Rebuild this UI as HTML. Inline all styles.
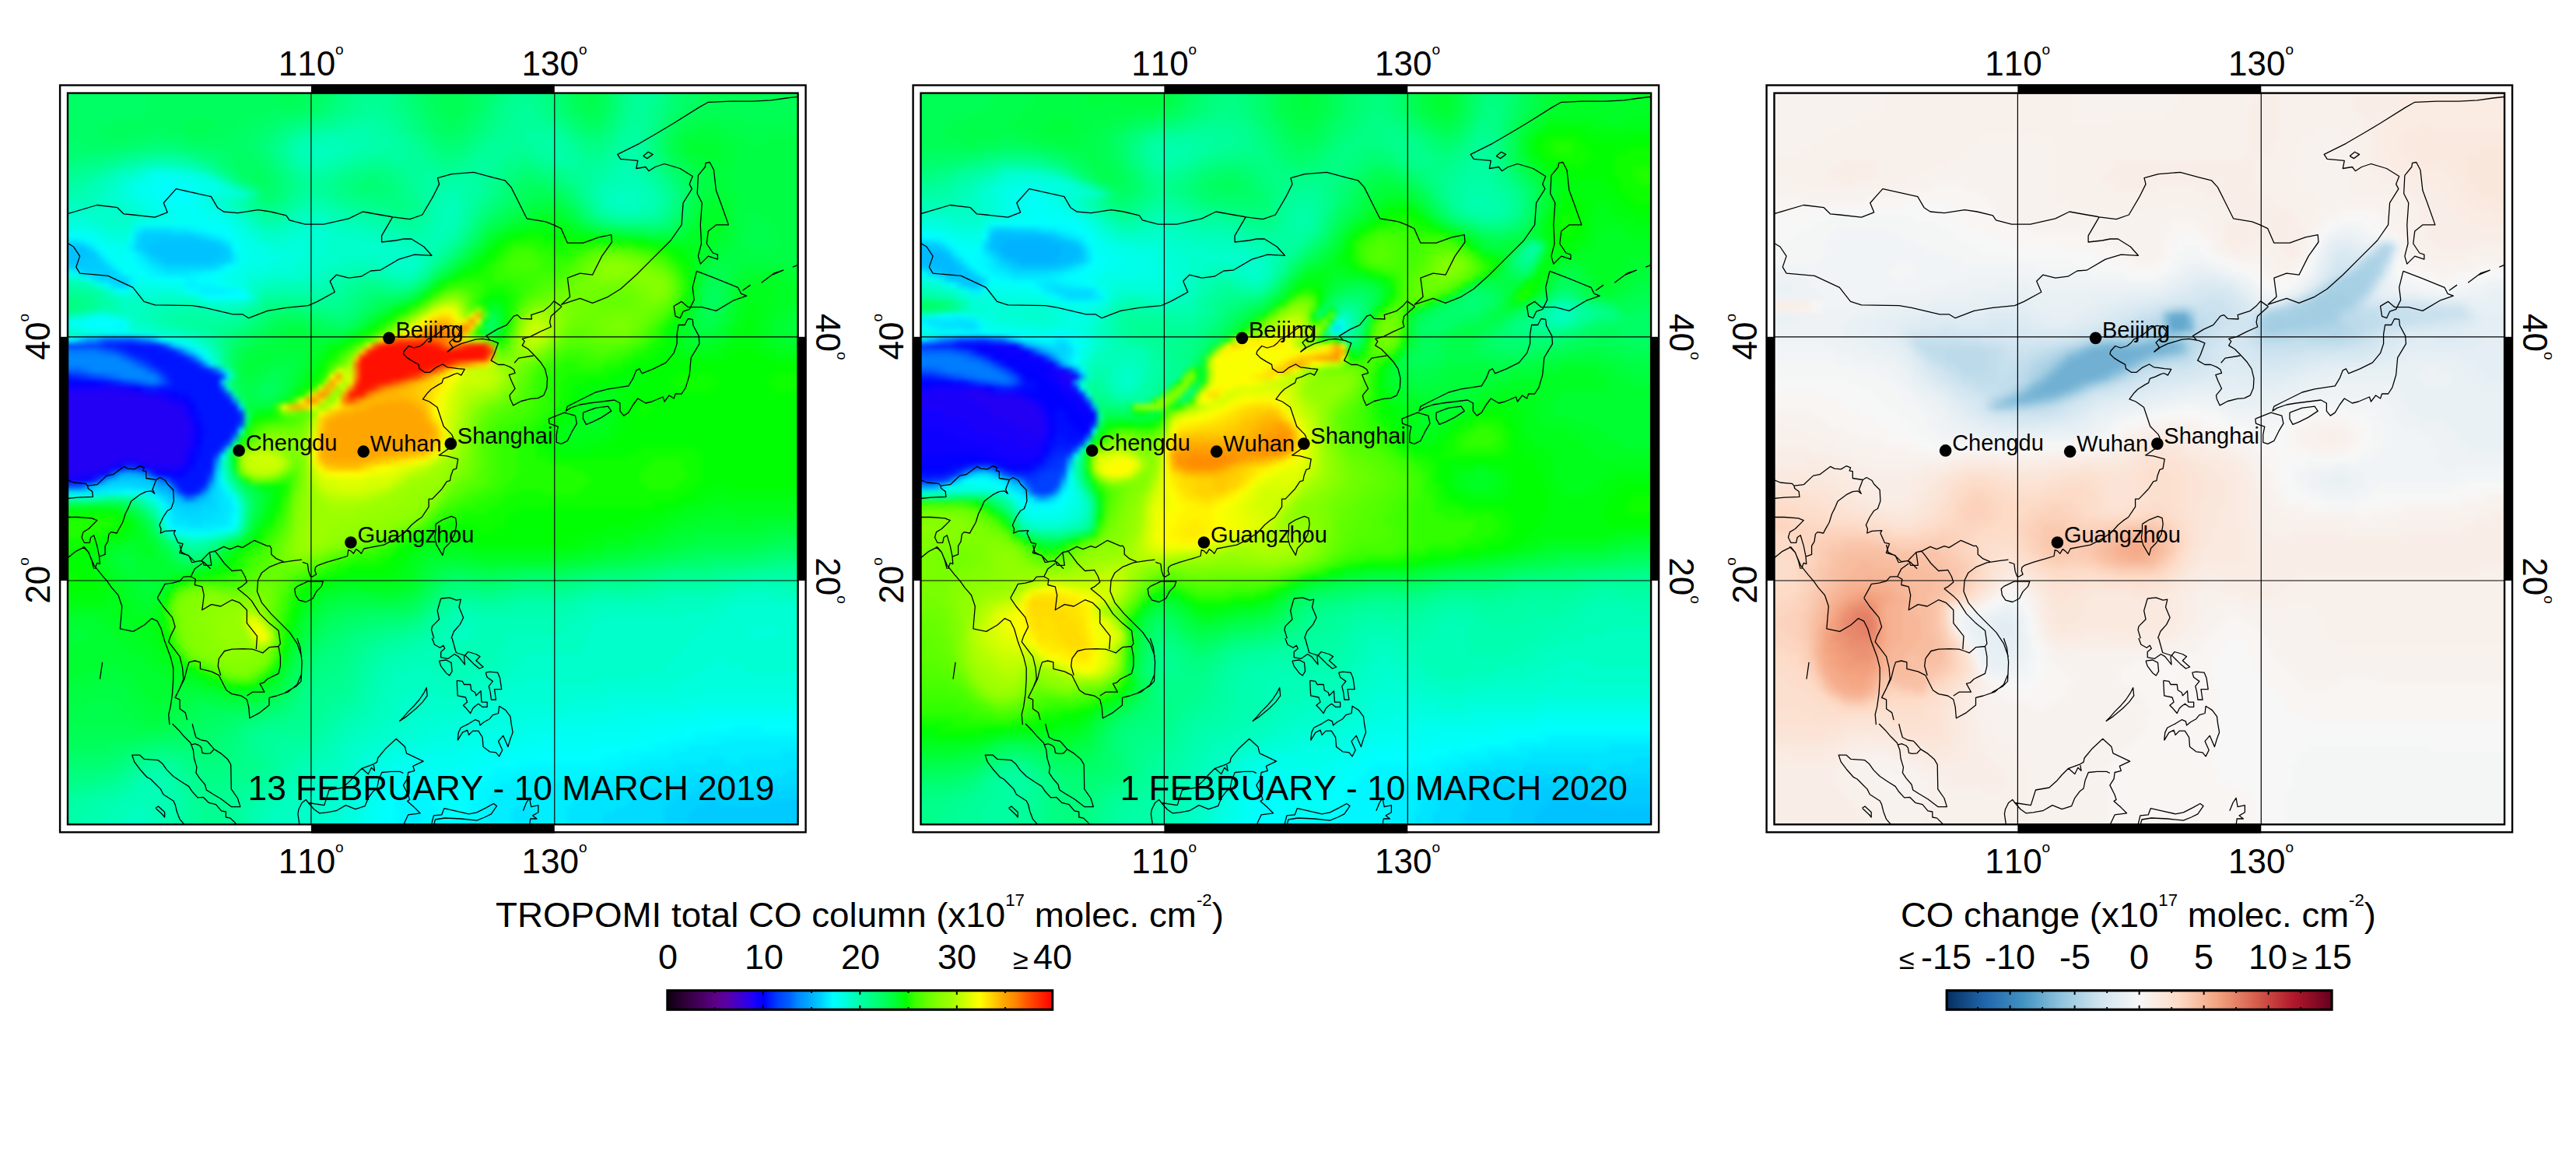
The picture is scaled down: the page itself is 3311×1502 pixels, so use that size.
<!DOCTYPE html><html><head><meta charset="utf-8"><title>TROPOMI CO</title>
<style>html,body{margin:0;padding:0;background:#fff;}body{width:3311px;height:1502px;overflow:hidden;}svg{display:block}text{font-kerning:none;font-feature-settings:"kern" 0;}</style></head><body>
<svg width="3311" height="1502" viewBox="0 0 3311 1502">
<rect width="3311" height="1502" fill="#fff"/>
<defs><filter id="f1" x="0" y="0" width="1" height="1" color-interpolation-filters="sRGB"><feGaussianBlur stdDeviation="3.0" edgeMode="duplicate"/></filter><clipPath id="cf1"><rect x="87.00" y="119.60" width="938.7" height="939.7"/></clipPath></defs><g clip-path="url(#cf1)"><g filter="url(#f1)"><g transform="translate(71.36,103.94) scale(7.8225,7.8308)" shape-rendering="crispEdges">
<path fill="#00ff65" d="M0 0h15v1h-15zM42 0h2v1h-2zM60 0h1v1h-1zM69 0h1v1h-1zM103 0h2v1h-2zM0 1h15v1h-15zM42 1h2v1h-2zM60 1h1v1h-1zM69 1h1v1h-1zM103 1h2v1h-2zM0 2h15v1h-15zM42 2h2v1h-2zM60 2h1v1h-1zM69 2h1v1h-1zM103 2h2v1h-2zM0 3h15v1h-15zM42 3h2v1h-2zM60 3h1v1h-1zM69 3h1v1h-1zM84 3h1v1h-1zM103 3h2v1h-2zM0 4h15v1h-15zM41 4h2v1h-2zM60 4h2v1h-2zM69 4h1v1h-1zM84 4h1v1h-1zM103 4h1v1h-1zM0 5h14v1h-14zM35 5h5v1h-5zM61 5h1v1h-1zM68 5h1v1h-1zM85 5h1v1h-1zM90 5h1v1h-1zM102 5h1v1h-1zM0 6h9v1h-9zM32 6h4v1h-4zM61 6h2v1h-2zM67 6h1v1h-1zM86 6h1v1h-1zM101 6h1v1h-1zM0 7h7v1h-7zM30 7h4v1h-4zM62 7h2v1h-2zM66 7h2v1h-2zM87 7h3v1h-3zM0 8h7v1h-7zM15 8h3v1h-3zM29 8h3v1h-3zM63 8h4v1h-4zM100 8h1v1h-1zM0 9h8v1h-8zM12 9h4v1h-4zM17 9h4v1h-4zM29 9h3v1h-3zM5 10h7v1h-7zM22 10h9v1h-9zM27 11h5v1h-5zM29 12h4v1h-4zM100 12h1v1h-1zM29 13h5v1h-5zM30 14h4v1h-4zM101 14h1v1h-1zM30 15h2v1h-2zM34 15h1v1h-1zM102 15h1v1h-1zM32 16h1v1h-1zM34 16h2v1h-2zM77 16h2v1h-2zM103 16h1v1h-1zM34 17h1v1h-1zM76 17h1v1h-1zM81 17h1v1h-1zM103 17h1v1h-1zM75 18h1v1h-1zM83 18h1v1h-1zM75 19h1v1h-1zM84 19h1v1h-1zM103 19h1v1h-1zM74 20h1v1h-1zM85 20h1v1h-1zM103 20h1v1h-1zM72 21h1v1h-1zM71 22h1v1h-1zM102 22h1v1h-1zM70 23h1v1h-1zM101 23h1v1h-1zM97 24h2v1h-2zM68 26h1v1h-1zM67 27h1v1h-1zM66 28h1v1h-1zM60 33h1v1h-1zM56 35h1v1h-1zM52 36h1v1h-1zM37 38h4v1h-4zM35 39h1v1h-1zM43 39h1v1h-1zM48 39h1v1h-1zM33 40h1v1h-1zM32 41h1v1h-1zM30 42h1v1h-1zM29 43h1v1h-1zM29 47h1v1h-1zM29 50h1v1h-1zM31 67h1v1h-1zM16 73h1v1h-1zM115 77h3v1h-3zM21 78h1v1h-1zM103 78h4v1h-4zM97 79h3v1h-3zM88 80h3v1h-3zM65 81h3v1h-3zM74 81h3v1h-3zM81 81h2v1h-2zM63 82h1v1h-1zM62 83h1v1h-1zM61 84h1v1h-1zM60 85h1v1h-1zM59 86h1v1h-1zM51 87h7v1h-7zM47 88h3v1h-3zM45 89h2v1h-2zM44 90h1v1h-1zM43 91h1v1h-1zM42 92h1v1h-1zM41 94h1v1h-1zM40 95h1v1h-1zM40 96h1v1h-1zM39 98h1v1h-1zM38 100h1v1h-1zM37 101h1v1h-1zM35 102h1v1h-1zM32 103h2v1h-2zM27 104h3v1h-3zM24 105h4v1h-4zM22 106h4v1h-4zM20 107h4v1h-4zM13 108h4v1h-4zM9 109h3v1h-3zM0 110h9v1h-9z"/>
<path fill="#00ff5d" d="M15 0h21v1h-21zM40 0h2v1h-2zM61 0h2v1h-2zM67 0h2v1h-2zM84 0h1v1h-1zM90 0h1v1h-1zM105 0h2v1h-2zM15 1h21v1h-21zM40 1h2v1h-2zM61 1h2v1h-2zM67 1h2v1h-2zM84 1h1v1h-1zM90 1h1v1h-1zM105 1h2v1h-2zM15 2h21v1h-21zM40 2h2v1h-2zM61 2h2v1h-2zM67 2h2v1h-2zM84 2h1v1h-1zM90 2h1v1h-1zM105 2h2v1h-2zM15 3h22v1h-22zM39 3h3v1h-3zM61 3h2v1h-2zM67 3h2v1h-2zM90 3h1v1h-1zM105 3h2v1h-2zM15 4h26v1h-26zM62 4h1v1h-1zM67 4h2v1h-2zM85 4h1v1h-1zM90 4h1v1h-1zM104 4h2v1h-2zM14 5h21v1h-21zM62 5h2v1h-2zM67 5h1v1h-1zM86 5h1v1h-1zM89 5h1v1h-1zM103 5h2v1h-2zM9 6h12v1h-12zM26 6h6v1h-6zM63 6h4v1h-4zM87 6h3v1h-3zM102 6h1v1h-1zM7 7h14v1h-14zM26 7h4v1h-4zM64 7h2v1h-2zM101 7h1v1h-1zM7 8h8v1h-8zM18 8h4v1h-4zM25 8h4v1h-4zM8 9h4v1h-4zM21 9h8v1h-8zM100 9h1v1h-1zM100 10h1v1h-1zM100 11h1v1h-1zM101 13h1v1h-1zM102 14h1v1h-1zM32 15h2v1h-2zM103 15h1v1h-1zM33 16h1v1h-1zM77 17h4v1h-4zM104 17h1v1h-1zM76 18h2v1h-2zM82 18h1v1h-1zM104 18h1v1h-1zM76 19h1v1h-1zM75 20h1v1h-1zM73 21h1v1h-1zM103 21h1v1h-1zM72 22h1v1h-1zM86 22h1v1h-1zM88 23h1v1h-1zM94 24h3v1h-3zM99 24h2v1h-2zM69 25h1v1h-1zM65 29h1v1h-1zM64 30h1v1h-1zM59 34h1v1h-1zM108 34h1v1h-1zM57 35h1v1h-1zM107 35h2v1h-2zM53 36h1v1h-1zM107 36h2v1h-2zM51 37h1v1h-1zM50 38h1v1h-1zM36 39h1v1h-1zM41 39h2v1h-2zM49 39h1v1h-1zM71 39h1v1h-1zM34 40h1v1h-1zM44 40h4v1h-4zM71 40h1v1h-1zM33 41h1v1h-1zM31 42h1v1h-1zM30 43h1v1h-1zM29 44h1v1h-1zM29 45h1v1h-1zM29 49h1v1h-1zM34 50h2v1h-2zM34 51h1v1h-1zM11 69h1v1h-1zM32 69h1v1h-1zM31 73h1v1h-1zM117 76h7v1h-7zM19 77h1v1h-1zM106 77h9v1h-9zM20 78h1v1h-1zM24 78h1v1h-1zM100 78h3v1h-3zM94 79h3v1h-3zM85 80h3v1h-3zM64 81h1v1h-1zM68 81h6v1h-6zM58 86h1v1h-1zM47 87h4v1h-4zM45 88h2v1h-2zM44 89h1v1h-1zM43 90h1v1h-1zM42 91h1v1h-1zM41 93h1v1h-1zM40 94h1v1h-1zM39 97h1v1h-1zM38 99h1v1h-1zM37 100h1v1h-1zM36 101h1v1h-1zM34 102h1v1h-1zM24 103h8v1h-8zM23 104h4v1h-4zM22 105h2v1h-2zM20 106h2v1h-2zM15 107h5v1h-5zM0 108h13v1h-13zM0 109h9v1h-9z"/>
<path fill="#00ff54" d="M36 0h4v1h-4zM63 0h4v1h-4zM85 0h2v1h-2zM89 0h1v1h-1zM107 0h17v1h-17zM36 1h4v1h-4zM63 1h4v1h-4zM85 1h2v1h-2zM89 1h1v1h-1zM107 1h17v1h-17zM36 2h4v1h-4zM63 2h4v1h-4zM85 2h2v1h-2zM89 2h1v1h-1zM107 2h17v1h-17zM37 3h2v1h-2zM63 3h4v1h-4zM85 3h2v1h-2zM89 3h1v1h-1zM107 3h17v1h-17zM63 4h4v1h-4zM86 4h1v1h-1zM88 4h2v1h-2zM106 4h18v1h-18zM64 5h3v1h-3zM87 5h2v1h-2zM105 5h3v1h-3zM109 5h15v1h-15zM21 6h5v1h-5zM103 6h2v1h-2zM113 6h7v1h-7zM21 7h5v1h-5zM102 7h1v1h-1zM22 8h3v1h-3zM101 8h1v1h-1zM101 9h1v1h-1zM101 12h1v1h-1zM102 13h1v1h-1zM103 14h1v1h-1zM104 15h1v1h-1zM104 16h1v1h-1zM78 18h4v1h-4zM77 19h1v1h-1zM83 19h1v1h-1zM104 19h1v1h-1zM76 20h1v1h-1zM84 20h1v1h-1zM74 21h2v1h-2zM85 21h1v1h-1zM73 22h1v1h-1zM103 22h1v1h-1zM71 23h1v1h-1zM87 23h1v1h-1zM102 23h1v1h-1zM70 24h1v1h-1zM92 24h2v1h-2zM101 24h1v1h-1zM63 31h1v1h-1zM108 32h2v1h-2zM107 33h3v1h-3zM107 34h1v1h-1zM109 34h1v1h-1zM109 35h1v1h-1zM54 36h1v1h-1zM52 37h1v1h-1zM106 37h3v1h-3zM107 38h1v1h-1zM37 39h4v1h-4zM35 40h1v1h-1zM42 40h2v1h-2zM48 40h1v1h-1zM34 41h1v1h-1zM32 42h1v1h-1zM31 43h1v1h-1zM30 44h1v1h-1zM29 46h1v1h-1zM35 48h2v1h-2zM34 49h3v1h-3zM30 50h1v1h-1zM33 50h1v1h-1zM36 50h1v1h-1zM30 51h1v1h-1zM33 51h1v1h-1zM35 51h1v1h-1zM32 68h1v1h-1zM13 70h1v1h-1zM32 70h1v1h-1zM14 71h1v1h-1zM15 72h1v1h-1zM16 74h1v1h-1zM17 75h1v1h-1zM29 75h1v1h-1zM119 75h5v1h-5zM18 76h1v1h-1zM27 76h1v1h-1zM114 76h3v1h-3zM26 77h1v1h-1zM103 77h3v1h-3zM97 78h3v1h-3zM89 79h5v1h-5zM65 80h2v1h-2zM76 80h9v1h-9zM63 81h1v1h-1zM62 82h1v1h-1zM61 83h1v1h-1zM60 84h1v1h-1zM59 85h1v1h-1zM48 86h10v1h-10zM45 87h2v1h-2zM44 88h1v1h-1zM43 89h1v1h-1zM42 90h1v1h-1zM41 92h1v1h-1zM39 96h1v1h-1zM38 98h1v1h-1zM35 101h1v1h-1zM23 102h3v1h-3zM32 102h2v1h-2zM22 103h2v1h-2zM21 104h2v1h-2zM20 105h2v1h-2zM0 106h12v1h-12zM18 106h2v1h-2zM0 107h15v1h-15z"/>
<path fill="#00ff6c" d="M44 0h1v1h-1zM59 0h1v1h-1zM70 0h1v1h-1zM83 0h1v1h-1zM91 0h1v1h-1zM102 0h1v1h-1zM44 1h1v1h-1zM59 1h1v1h-1zM70 1h1v1h-1zM83 1h1v1h-1zM91 1h1v1h-1zM102 1h1v1h-1zM44 2h1v1h-1zM59 2h1v1h-1zM70 2h1v1h-1zM83 2h1v1h-1zM91 2h1v1h-1zM102 2h1v1h-1zM44 3h1v1h-1zM59 3h1v1h-1zM70 3h1v1h-1zM83 3h1v1h-1zM91 3h1v1h-1zM102 3h1v1h-1zM43 4h1v1h-1zM70 4h1v1h-1zM83 4h1v1h-1zM91 4h1v1h-1zM102 4h1v1h-1zM40 5h2v1h-2zM60 5h1v1h-1zM69 5h1v1h-1zM84 5h1v1h-1zM101 5h1v1h-1zM36 6h2v1h-2zM68 6h1v1h-1zM85 6h1v1h-1zM90 6h1v1h-1zM34 7h2v1h-2zM61 7h1v1h-1zM68 7h1v1h-1zM86 7h1v1h-1zM100 7h1v1h-1zM32 8h2v1h-2zM62 8h1v1h-1zM67 8h1v1h-1zM88 8h1v1h-1zM16 9h1v1h-1zM32 9h2v1h-2zM63 9h4v1h-4zM99 9h1v1h-1zM0 10h5v1h-5zM12 10h3v1h-3zM20 10h2v1h-2zM31 10h2v1h-2zM99 10h1v1h-1zM0 11h9v1h-9zM24 11h3v1h-3zM32 11h1v1h-1zM99 11h1v1h-1zM27 12h2v1h-2zM33 12h1v1h-1zM28 13h1v1h-1zM34 13h1v1h-1zM100 13h1v1h-1zM29 14h1v1h-1zM34 14h1v1h-1zM35 15h1v1h-1zM31 16h1v1h-1zM76 16h1v1h-1zM79 16h2v1h-2zM102 16h1v1h-1zM33 17h1v1h-1zM35 17h1v1h-1zM75 17h1v1h-1zM82 17h1v1h-1zM34 18h2v1h-2zM74 18h1v1h-1zM84 18h1v1h-1zM103 18h1v1h-1zM74 19h1v1h-1zM73 20h1v1h-1zM86 21h1v1h-1zM102 21h1v1h-1zM87 22h1v1h-1zM89 23h1v1h-1zM69 24h1v1h-1zM63 30h1v1h-1zM62 31h1v1h-1zM61 32h1v1h-1zM52 35h4v1h-4zM51 36h1v1h-1zM50 37h1v1h-1zM35 38h2v1h-2zM41 38h2v1h-2zM49 38h1v1h-1zM34 39h1v1h-1zM44 39h2v1h-2zM47 39h1v1h-1zM32 40h1v1h-1zM31 41h1v1h-1zM30 66h1v1h-1zM12 69h1v1h-1zM31 72h1v1h-1zM28 75h1v1h-1zM19 76h1v1h-1zM20 77h1v1h-1zM25 77h1v1h-1zM118 77h6v1h-6zM22 78h2v1h-2zM107 78h8v1h-8zM100 79h3v1h-3zM91 80h5v1h-5zM77 81h4v1h-4zM83 81h3v1h-3zM64 82h1v1h-1zM69 82h4v1h-4zM63 83h1v1h-1zM62 84h1v1h-1zM61 85h1v1h-1zM58 87h1v1h-1zM50 88h4v1h-4zM47 89h2v1h-2zM45 90h2v1h-2zM44 91h1v1h-1zM43 92h1v1h-1zM42 93h1v1h-1zM41 95h1v1h-1zM40 97h1v1h-1zM39 99h1v1h-1zM36 102h1v1h-1zM34 103h1v1h-1zM30 104h2v1h-2zM28 105h2v1h-2zM26 106h2v1h-2zM24 107h3v1h-3zM17 108h9v1h-9zM12 109h2v1h-2zM9 110h2v1h-2zM0 111h9v1h-9z"/>
<path fill="#00ff74" d="M45 0h1v1h-1zM58 0h1v1h-1zM71 0h1v1h-1zM82 0h1v1h-1zM101 0h1v1h-1zM45 1h1v1h-1zM58 1h1v1h-1zM71 1h1v1h-1zM82 1h1v1h-1zM101 1h1v1h-1zM45 2h1v1h-1zM58 2h1v1h-1zM71 2h1v1h-1zM82 2h1v1h-1zM101 2h1v1h-1zM45 3h1v1h-1zM58 3h1v1h-1zM71 3h1v1h-1zM82 3h1v1h-1zM101 3h1v1h-1zM44 4h1v1h-1zM59 4h1v1h-1zM101 4h1v1h-1zM42 5h2v1h-2zM59 5h1v1h-1zM70 5h1v1h-1zM83 5h1v1h-1zM91 5h1v1h-1zM100 5h1v1h-1zM38 6h3v1h-3zM60 6h1v1h-1zM69 6h1v1h-1zM84 6h1v1h-1zM91 6h1v1h-1zM100 6h1v1h-1zM36 7h1v1h-1zM60 7h1v1h-1zM69 7h1v1h-1zM85 7h1v1h-1zM90 7h1v1h-1zM99 7h1v1h-1zM34 8h2v1h-2zM61 8h1v1h-1zM68 8h1v1h-1zM86 8h2v1h-2zM89 8h1v1h-1zM99 8h1v1h-1zM34 9h1v1h-1zM62 9h1v1h-1zM67 9h1v1h-1zM15 10h5v1h-5zM33 10h1v1h-1zM63 10h4v1h-4zM9 11h3v1h-3zM22 11h2v1h-2zM33 11h2v1h-2zM0 12h5v1h-5zM26 12h1v1h-1zM34 12h1v1h-1zM99 12h1v1h-1zM27 13h1v1h-1zM35 13h1v1h-1zM28 14h1v1h-1zM35 14h1v1h-1zM100 14h1v1h-1zM29 15h1v1h-1zM36 15h1v1h-1zM76 15h4v1h-4zM101 15h1v1h-1zM30 16h1v1h-1zM36 16h1v1h-1zM51 16h2v1h-2zM75 16h1v1h-1zM81 16h1v1h-1zM36 17h1v1h-1zM50 17h4v1h-4zM74 17h1v1h-1zM83 17h1v1h-1zM102 17h1v1h-1zM36 18h1v1h-1zM34 19h2v1h-2zM73 19h1v1h-1zM85 19h1v1h-1zM72 20h1v1h-1zM102 20h1v1h-1zM71 21h1v1h-1zM70 22h1v1h-1zM101 22h1v1h-1zM69 23h1v1h-1zM90 23h1v1h-1zM100 23h1v1h-1zM68 25h1v1h-1zM67 26h1v1h-1zM65 28h1v1h-1zM64 29h1v1h-1zM58 34h1v1h-1zM51 35h1v1h-1zM50 36h1v1h-1zM37 37h3v1h-3zM49 37h1v1h-1zM34 38h1v1h-1zM43 38h1v1h-1zM48 38h1v1h-1zM33 39h1v1h-1zM46 39h1v1h-1zM30 41h1v1h-1zM29 42h1v1h-1zM28 44h1v1h-1zM28 45h1v1h-1zM28 46h1v1h-1zM29 48h1v1h-1zM30 52h1v1h-1zM31 54h1v1h-1zM31 68h1v1h-1zM14 70h1v1h-1zM15 71h1v1h-1zM18 75h1v1h-1zM26 76h1v1h-1zM115 78h3v1h-3zM103 79h5v1h-5zM96 80h3v1h-3zM86 81h2v1h-2zM65 82h4v1h-4zM73 82h2v1h-2zM60 86h1v1h-1zM59 87h1v1h-1zM54 88h4v1h-4zM49 89h3v1h-3zM47 90h2v1h-2zM45 91h2v1h-2zM44 92h2v1h-2zM43 93h1v1h-1zM42 94h1v1h-1zM41 96h1v1h-1zM40 98h1v1h-1zM39 100h1v1h-1zM38 101h1v1h-1zM37 102h1v1h-1zM35 103h2v1h-2zM32 104h2v1h-2zM30 105h1v1h-1zM28 106h2v1h-2zM27 107h2v1h-2zM26 108h2v1h-2zM14 109h3v1h-3zM18 109h9v1h-9zM11 110h2v1h-2zM23 110h3v1h-3zM9 111h2v1h-2zM0 112h9v1h-9z"/>
<path fill="#00ff7c" d="M46 0h1v1h-1zM57 0h1v1h-1zM72 0h1v1h-1zM81 0h1v1h-1zM92 0h1v1h-1zM100 0h1v1h-1zM46 1h1v1h-1zM57 1h1v1h-1zM72 1h1v1h-1zM81 1h1v1h-1zM92 1h1v1h-1zM100 1h1v1h-1zM46 2h1v1h-1zM57 2h1v1h-1zM72 2h1v1h-1zM81 2h1v1h-1zM92 2h1v1h-1zM100 2h1v1h-1zM46 3h1v1h-1zM57 3h1v1h-1zM72 3h1v1h-1zM81 3h1v1h-1zM92 3h1v1h-1zM100 3h1v1h-1zM45 4h1v1h-1zM58 4h1v1h-1zM71 4h1v1h-1zM82 4h1v1h-1zM92 4h1v1h-1zM100 4h1v1h-1zM44 5h1v1h-1zM58 5h1v1h-1zM71 5h1v1h-1zM82 5h1v1h-1zM92 5h1v1h-1zM41 6h1v1h-1zM59 6h1v1h-1zM70 6h1v1h-1zM83 6h1v1h-1zM99 6h1v1h-1zM37 7h2v1h-2zM59 7h1v1h-1zM70 7h1v1h-1zM84 7h1v1h-1zM91 7h1v1h-1zM36 8h1v1h-1zM60 8h1v1h-1zM69 8h1v1h-1zM90 8h1v1h-1zM35 9h1v1h-1zM61 9h1v1h-1zM68 9h1v1h-1zM87 9h3v1h-3zM98 9h1v1h-1zM34 10h1v1h-1zM62 10h1v1h-1zM67 10h1v1h-1zM98 10h1v1h-1zM12 11h2v1h-2zM20 11h2v1h-2zM63 11h4v1h-4zM98 11h1v1h-1zM5 12h4v1h-4zM24 12h2v1h-2zM35 12h1v1h-1zM26 13h1v1h-1zM99 13h1v1h-1zM36 14h1v1h-1zM76 14h3v1h-3zM37 15h1v1h-1zM51 15h3v1h-3zM75 15h1v1h-1zM80 15h1v1h-1zM100 15h1v1h-1zM37 16h1v1h-1zM49 16h2v1h-2zM53 16h2v1h-2zM74 16h1v1h-1zM82 16h1v1h-1zM101 16h1v1h-1zM32 17h1v1h-1zM37 17h1v1h-1zM48 17h2v1h-2zM54 17h2v1h-2zM73 17h1v1h-1zM84 17h1v1h-1zM37 18h1v1h-1zM49 18h7v1h-7zM73 18h1v1h-1zM85 18h1v1h-1zM102 18h1v1h-1zM33 19h1v1h-1zM36 19h1v1h-1zM53 19h1v1h-1zM72 19h1v1h-1zM102 19h1v1h-1zM71 20h1v1h-1zM86 20h1v1h-1zM70 21h1v1h-1zM87 21h1v1h-1zM88 22h1v1h-1zM91 23h1v1h-1zM99 23h1v1h-1zM68 24h1v1h-1zM66 27h1v1h-1zM52 34h2v1h-2zM57 34h1v1h-1zM50 35h1v1h-1zM49 36h1v1h-1zM35 37h2v1h-2zM40 37h2v1h-2zM48 37h1v1h-1zM44 38h4v1h-4zM32 39h1v1h-1zM31 40h1v1h-1zM29 41h1v1h-1zM28 42h1v1h-1zM28 43h1v1h-1zM29 65h1v1h-1zM31 71h1v1h-1zM16 72h1v1h-1zM30 74h1v1h-1zM21 77h1v1h-1zM24 77h1v1h-1zM118 78h6v1h-6zM108 79h6v1h-6zM99 80h2v1h-2zM88 81h7v1h-7zM75 82h9v1h-9zM64 83h2v1h-2zM69 83h3v1h-3zM63 84h1v1h-1zM62 85h1v1h-1zM61 86h1v1h-1zM60 87h1v1h-1zM58 88h1v1h-1zM52 89h3v1h-3zM49 90h2v1h-2zM47 91h2v1h-2zM46 92h2v1h-2zM44 93h3v1h-3zM43 94h2v1h-2zM42 95h2v1h-2zM42 96h1v1h-1zM41 97h1v1h-1zM40 99h1v1h-1zM39 101h1v1h-1zM38 102h1v1h-1zM37 103h1v1h-1zM34 104h2v1h-2zM31 105h2v1h-2zM30 106h1v1h-1zM29 107h1v1h-1zM28 108h2v1h-2zM17 109h1v1h-1zM27 109h2v1h-2zM13 110h1v1h-1zM21 110h2v1h-2zM26 110h3v1h-3zM11 111h1v1h-1zM23 111h5v1h-5zM9 112h2v1h-2zM25 112h1v1h-1zM0 113h8v1h-8z"/>
<path fill="#00ff83" d="M47 0h1v1h-1zM56 0h1v1h-1zM73 0h1v1h-1zM80 0h1v1h-1zM93 0h1v1h-1zM47 1h1v1h-1zM56 1h1v1h-1zM73 1h1v1h-1zM80 1h1v1h-1zM93 1h1v1h-1zM47 2h1v1h-1zM56 2h1v1h-1zM73 2h1v1h-1zM80 2h1v1h-1zM93 2h1v1h-1zM47 3h1v1h-1zM56 3h1v1h-1zM73 3h1v1h-1zM80 3h1v1h-1zM99 3h1v1h-1zM46 4h2v1h-2zM56 4h2v1h-2zM72 4h1v1h-1zM81 4h1v1h-1zM99 4h1v1h-1zM45 5h1v1h-1zM57 5h1v1h-1zM72 5h1v1h-1zM81 5h1v1h-1zM99 5h1v1h-1zM42 6h2v1h-2zM58 6h1v1h-1zM71 6h1v1h-1zM82 6h1v1h-1zM92 6h1v1h-1zM39 7h1v1h-1zM58 7h1v1h-1zM71 7h1v1h-1zM98 7h1v1h-1zM37 8h1v1h-1zM59 8h1v1h-1zM70 8h1v1h-1zM85 8h1v1h-1zM91 8h1v1h-1zM98 8h1v1h-1zM36 9h1v1h-1zM60 9h1v1h-1zM69 9h1v1h-1zM86 9h1v1h-1zM90 9h1v1h-1zM35 10h1v1h-1zM61 10h1v1h-1zM68 10h1v1h-1zM87 10h3v1h-3zM14 11h6v1h-6zM35 11h1v1h-1zM62 11h1v1h-1zM67 11h1v1h-1zM9 12h2v1h-2zM23 12h1v1h-1zM63 12h4v1h-4zM98 12h1v1h-1zM0 13h7v1h-7zM36 13h1v1h-1zM76 13h2v1h-2zM27 14h1v1h-1zM37 14h1v1h-1zM52 14h1v1h-1zM74 14h2v1h-2zM79 14h1v1h-1zM99 14h1v1h-1zM28 15h1v1h-1zM49 15h2v1h-2zM54 15h1v1h-1zM74 15h1v1h-1zM81 15h2v1h-2zM38 16h1v1h-1zM47 16h2v1h-2zM55 16h1v1h-1zM73 16h1v1h-1zM83 16h1v1h-1zM38 17h1v1h-1zM47 17h1v1h-1zM56 17h1v1h-1zM85 17h1v1h-1zM101 17h1v1h-1zM33 18h1v1h-1zM47 18h2v1h-2zM56 18h1v1h-1zM72 18h1v1h-1zM37 19h1v1h-1zM49 19h4v1h-4zM54 19h3v1h-3zM71 19h1v1h-1zM86 19h1v1h-1zM34 20h2v1h-2zM54 20h3v1h-3zM70 20h1v1h-1zM101 20h1v1h-1zM101 21h1v1h-1zM69 22h1v1h-1zM100 22h1v1h-1zM92 23h7v1h-7zM67 25h1v1h-1zM59 33h1v1h-1zM50 34h2v1h-2zM54 34h3v1h-3zM49 35h1v1h-1zM0 36h4v1h-4zM48 36h1v1h-1zM0 37h3v1h-3zM34 37h1v1h-1zM42 37h3v1h-3zM47 37h1v1h-1zM33 38h1v1h-1zM30 40h1v1h-1zM28 41h1v1h-1zM28 49h1v1h-1zM31 55h1v1h-1zM13 69h1v1h-1zM31 69h1v1h-1zM31 70h1v1h-1zM17 74h1v1h-1zM27 75h1v1h-1zM20 76h1v1h-1zM114 79h3v1h-3zM101 80h7v1h-7zM95 81h3v1h-3zM84 82h2v1h-2zM66 83h3v1h-3zM72 83h3v1h-3zM64 84h1v1h-1zM59 88h1v1h-1zM55 89h3v1h-3zM51 90h2v1h-2zM49 91h2v1h-2zM48 92h1v1h-1zM47 93h1v1h-1zM45 94h3v1h-3zM44 95h3v1h-3zM43 96h3v1h-3zM42 97h2v1h-2zM41 98h2v1h-2zM41 99h1v1h-1zM40 100h1v1h-1zM40 101h1v1h-1zM39 102h1v1h-1zM38 103h2v1h-2zM36 104h2v1h-2zM33 105h1v1h-1zM31 106h1v1h-1zM30 107h1v1h-1zM30 108h1v1h-1zM29 109h2v1h-2zM14 110h3v1h-3zM18 110h3v1h-3zM29 110h2v1h-2zM12 111h2v1h-2zM21 111h2v1h-2zM28 111h2v1h-2zM11 112h1v1h-1zM22 112h3v1h-3zM26 112h4v1h-4zM8 113h2v1h-2zM23 113h6v1h-6zM0 114h7v1h-7zM25 114h2v1h-2z"/>
<path fill="#00ff8b" d="M48 0h2v1h-2zM55 0h1v1h-1zM74 0h1v1h-1zM79 0h1v1h-1zM99 0h1v1h-1zM48 1h2v1h-2zM55 1h1v1h-1zM74 1h1v1h-1zM79 1h1v1h-1zM99 1h1v1h-1zM48 2h2v1h-2zM55 2h1v1h-1zM74 2h1v1h-1zM79 2h1v1h-1zM99 2h1v1h-1zM48 3h2v1h-2zM55 3h1v1h-1zM74 3h1v1h-1zM79 3h1v1h-1zM93 3h1v1h-1zM48 4h1v1h-1zM55 4h1v1h-1zM73 4h1v1h-1zM80 4h1v1h-1zM93 4h1v1h-1zM98 4h1v1h-1zM46 5h2v1h-2zM56 5h1v1h-1zM73 5h1v1h-1zM80 5h1v1h-1zM93 5h1v1h-1zM98 5h1v1h-1zM44 6h2v1h-2zM57 6h1v1h-1zM72 6h2v1h-2zM81 6h1v1h-1zM98 6h1v1h-1zM40 7h2v1h-2zM57 7h1v1h-1zM72 7h1v1h-1zM83 7h1v1h-1zM92 7h1v1h-1zM38 8h1v1h-1zM58 8h1v1h-1zM71 8h1v1h-1zM84 8h1v1h-1zM37 9h1v1h-1zM59 9h1v1h-1zM70 9h1v1h-1zM85 9h1v1h-1zM91 9h1v1h-1zM97 9h1v1h-1zM36 10h1v1h-1zM60 10h1v1h-1zM69 10h1v1h-1zM86 10h1v1h-1zM90 10h1v1h-1zM97 10h1v1h-1zM36 11h1v1h-1zM61 11h1v1h-1zM68 11h1v1h-1zM87 11h3v1h-3zM11 12h2v1h-2zM22 12h1v1h-1zM36 12h1v1h-1zM62 12h1v1h-1zM67 12h1v1h-1zM76 12h2v1h-2zM7 13h1v1h-1zM25 13h1v1h-1zM37 13h1v1h-1zM63 13h3v1h-3zM74 13h2v1h-2zM78 13h2v1h-2zM98 13h1v1h-1zM0 14h5v1h-5zM26 14h1v1h-1zM49 14h3v1h-3zM53 14h2v1h-2zM73 14h1v1h-1zM80 14h2v1h-2zM38 15h1v1h-1zM47 15h2v1h-2zM55 15h2v1h-2zM73 15h1v1h-1zM83 15h1v1h-1zM99 15h1v1h-1zM29 16h1v1h-1zM39 16h1v1h-1zM46 16h1v1h-1zM56 16h1v1h-1zM72 16h1v1h-1zM84 16h1v1h-1zM100 16h1v1h-1zM39 17h1v1h-1zM46 17h1v1h-1zM57 17h1v1h-1zM72 17h1v1h-1zM38 18h1v1h-1zM46 18h1v1h-1zM57 18h1v1h-1zM71 18h1v1h-1zM86 18h1v1h-1zM101 18h1v1h-1zM48 19h1v1h-1zM57 19h2v1h-2zM101 19h1v1h-1zM33 20h1v1h-1zM36 20h1v1h-1zM51 20h3v1h-3zM57 20h2v1h-2zM87 20h1v1h-1zM55 21h3v1h-3zM69 21h1v1h-1zM89 22h1v1h-1zM68 23h1v1h-1zM66 26h1v1h-1zM65 27h1v1h-1zM64 28h1v1h-1zM63 29h1v1h-1zM62 30h1v1h-1zM61 31h1v1h-1zM60 32h1v1h-1zM51 33h2v1h-2zM49 34h1v1h-1zM0 35h4v1h-4zM48 35h1v1h-1zM4 36h2v1h-2zM35 36h6v1h-6zM47 36h1v1h-1zM3 37h2v1h-2zM45 37h2v1h-2zM32 38h1v1h-1zM31 39h1v1h-1zM29 40h1v1h-1zM27 41h1v1h-1zM27 42h1v1h-1zM27 43h1v1h-1zM28 61h1v1h-1zM28 62h1v1h-1zM30 67h1v1h-1zM19 75h1v1h-1zM25 76h1v1h-1zM22 77h2v1h-2zM117 79h7v1h-7zM108 80h4v1h-4zM98 81h2v1h-2zM86 82h3v1h-3zM93 82h1v1h-1zM75 83h2v1h-2zM80 83h3v1h-3zM65 84h1v1h-1zM70 84h2v1h-2zM63 85h1v1h-1zM62 86h1v1h-1zM61 87h1v1h-1zM60 88h1v1h-1zM58 89h1v1h-1zM53 90h3v1h-3zM51 91h2v1h-2zM49 92h2v1h-2zM48 93h2v1h-2zM48 94h1v1h-1zM47 95h1v1h-1zM46 96h2v1h-2zM44 97h3v1h-3zM43 98h4v1h-4zM42 99h3v1h-3zM41 100h2v1h-2zM41 101h1v1h-1zM40 102h2v1h-2zM40 103h1v1h-1zM38 104h3v1h-3zM34 105h4v1h-4zM32 106h2v1h-2zM31 107h2v1h-2zM31 108h1v1h-1zM31 109h1v1h-1zM17 110h1v1h-1zM31 110h1v1h-1zM14 111h1v1h-1zM20 111h1v1h-1zM30 111h3v1h-3zM12 112h1v1h-1zM21 112h1v1h-1zM30 112h3v1h-3zM10 113h1v1h-1zM22 113h1v1h-1zM29 113h3v1h-3zM7 114h3v1h-3zM23 114h2v1h-2zM27 114h4v1h-4zM0 115h6v1h-6zM23 115h6v1h-6zM24 116h4v1h-4z"/>
<path fill="#00ff92" d="M50 0h5v1h-5zM75 0h4v1h-4zM94 0h1v1h-1zM98 0h1v1h-1zM50 1h5v1h-5zM75 1h4v1h-4zM94 1h1v1h-1zM98 1h1v1h-1zM50 2h5v1h-5zM75 2h4v1h-4zM94 2h1v1h-1zM98 2h1v1h-1zM50 3h5v1h-5zM75 3h4v1h-4zM94 3h1v1h-1zM97 3h2v1h-2zM49 4h2v1h-2zM53 4h2v1h-2zM74 4h2v1h-2zM78 4h2v1h-2zM94 4h1v1h-1zM97 4h1v1h-1zM48 5h2v1h-2zM54 5h2v1h-2zM74 5h2v1h-2zM79 5h1v1h-1zM94 5h1v1h-1zM97 5h1v1h-1zM46 6h1v1h-1zM55 6h2v1h-2zM74 6h1v1h-1zM80 6h1v1h-1zM93 6h1v1h-1zM97 6h1v1h-1zM42 7h2v1h-2zM56 7h1v1h-1zM73 7h2v1h-2zM82 7h1v1h-1zM93 7h1v1h-1zM97 7h1v1h-1zM39 8h1v1h-1zM57 8h1v1h-1zM72 8h2v1h-2zM83 8h1v1h-1zM92 8h1v1h-1zM97 8h1v1h-1zM58 9h1v1h-1zM71 9h2v1h-2zM84 9h1v1h-1zM37 10h1v1h-1zM59 10h1v1h-1zM70 10h1v1h-1zM85 10h1v1h-1zM91 10h1v1h-1zM60 11h1v1h-1zM69 11h1v1h-1zM75 11h2v1h-2zM86 11h1v1h-1zM90 11h1v1h-1zM97 11h1v1h-1zM13 12h1v1h-1zM21 12h1v1h-1zM37 12h1v1h-1zM60 12h2v1h-2zM68 12h1v1h-1zM74 12h2v1h-2zM78 12h1v1h-1zM87 12h3v1h-3zM97 12h1v1h-1zM8 13h2v1h-2zM24 13h1v1h-1zM51 13h4v1h-4zM61 13h2v1h-2zM66 13h2v1h-2zM73 13h1v1h-1zM80 13h1v1h-1zM5 14h2v1h-2zM38 14h1v1h-1zM48 14h1v1h-1zM55 14h2v1h-2zM63 14h3v1h-3zM72 14h1v1h-1zM82 14h1v1h-1zM98 14h1v1h-1zM0 15h4v1h-4zM27 15h1v1h-1zM39 15h1v1h-1zM46 15h1v1h-1zM57 15h1v1h-1zM72 15h1v1h-1zM84 15h2v1h-2zM45 16h1v1h-1zM57 16h1v1h-1zM71 16h1v1h-1zM85 16h1v1h-1zM99 16h1v1h-1zM31 17h1v1h-1zM40 17h1v1h-1zM44 17h2v1h-2zM58 17h1v1h-1zM71 17h1v1h-1zM86 17h1v1h-1zM100 17h1v1h-1zM39 18h1v1h-1zM45 18h1v1h-1zM58 18h1v1h-1zM70 18h1v1h-1zM32 19h1v1h-1zM38 19h1v1h-1zM46 19h2v1h-2zM59 19h1v1h-1zM70 19h1v1h-1zM87 19h1v1h-1zM32 20h1v1h-1zM37 20h1v1h-1zM48 20h3v1h-3zM59 20h1v1h-1zM69 20h1v1h-1zM34 21h3v1h-3zM53 21h2v1h-2zM58 21h2v1h-2zM88 21h1v1h-1zM100 21h1v1h-1zM56 22h3v1h-3zM68 22h1v1h-1zM90 22h1v1h-1zM99 22h1v1h-1zM67 24h1v1h-1zM49 33h2v1h-2zM53 33h1v1h-1zM58 33h1v1h-1zM48 34h1v1h-1zM4 35h2v1h-2zM47 35h1v1h-1zM34 36h1v1h-1zM41 36h6v1h-6zM5 37h1v1h-1zM33 37h1v1h-1zM30 39h1v1h-1zM27 40h2v1h-2zM27 44h1v1h-1zM27 45h1v1h-1zM28 63h1v1h-1zM15 70h1v1h-1zM16 71h1v1h-1zM21 76h1v1h-1zM112 80h4v1h-4zM100 81h8v1h-8zM89 82h4v1h-4zM94 82h3v1h-3zM77 83h3v1h-3zM83 83h3v1h-3zM66 84h4v1h-4zM72 84h3v1h-3zM64 85h1v1h-1zM59 89h1v1h-1zM56 90h2v1h-2zM53 91h2v1h-2zM51 92h1v1h-1zM50 93h1v1h-1zM49 94h1v1h-1zM48 95h2v1h-2zM48 96h1v1h-1zM47 97h2v1h-2zM47 98h1v1h-1zM45 99h3v1h-3zM43 100h4v1h-4zM42 101h3v1h-3zM42 102h2v1h-2zM41 103h2v1h-2zM41 104h2v1h-2zM38 105h4v1h-4zM34 106h7v1h-7zM33 107h1v1h-1zM32 108h1v1h-1zM32 109h2v1h-2zM32 110h2v1h-2zM15 111h5v1h-5zM33 111h2v1h-2zM13 112h1v1h-1zM20 112h1v1h-1zM33 112h2v1h-2zM11 113h1v1h-1zM21 113h1v1h-1zM32 113h2v1h-2zM10 114h1v1h-1zM22 114h1v1h-1zM31 114h2v1h-2zM6 115h3v1h-3zM22 115h1v1h-1zM29 115h3v1h-3zM0 116h4v1h-4zM23 116h1v1h-1zM28 116h2v1h-2zM23 117h6v1h-6zM23 118h6v1h-6zM24 119h4v1h-4zM24 120h4v1h-4zM24 121h4v1h-4zM24 122h4v1h-4zM24 123h4v1h-4z"/>
<path fill="#00ff4c" d="M87 0h2v1h-2zM87 1h2v1h-2zM87 2h2v1h-2zM87 3h2v1h-2zM87 4h1v1h-1zM108 5h1v1h-1zM105 6h8v1h-8zM120 6h4v1h-4zM103 7h2v1h-2zM110 7h14v1h-14zM102 8h1v1h-1zM112 8h12v1h-12zM114 9h3v1h-3zM101 10h1v1h-1zM101 11h1v1h-1zM102 12h1v1h-1zM103 13h1v1h-1zM104 14h1v1h-1zM105 15h1v1h-1zM105 16h1v1h-1zM105 17h1v1h-1zM105 18h1v1h-1zM78 19h5v1h-5zM77 20h1v1h-1zM83 20h1v1h-1zM104 20h1v1h-1zM76 21h1v1h-1zM104 21h1v1h-1zM74 22h1v1h-1zM85 22h1v1h-1zM114 22h2v1h-2zM72 23h1v1h-1zM114 23h3v1h-3zM90 24h2v1h-2zM102 24h1v1h-1zM114 24h4v1h-4zM113 25h5v1h-5zM69 26h1v1h-1zM113 26h6v1h-6zM68 27h1v1h-1zM114 27h4v1h-4zM67 28h1v1h-1zM66 29h1v1h-1zM109 30h1v1h-1zM107 31h4v1h-4zM62 32h1v1h-1zM107 32h1v1h-1zM110 32h1v1h-1zM61 33h1v1h-1zM110 33h1v1h-1zM106 34h1v1h-1zM58 35h1v1h-1zM106 35h1v1h-1zM55 36h1v1h-1zM106 36h1v1h-1zM109 36h1v1h-1zM109 37h1v1h-1zM51 38h1v1h-1zM71 38h1v1h-1zM106 38h1v1h-1zM108 38h1v1h-1zM50 39h1v1h-1zM72 39h1v1h-1zM106 39h3v1h-3zM36 40h2v1h-2zM41 40h1v1h-1zM70 40h1v1h-1zM72 40h1v1h-1zM35 41h1v1h-1zM43 41h4v1h-4zM71 41h1v1h-1zM33 42h2v1h-2zM32 43h1v1h-1zM30 45h1v1h-1zM35 47h3v1h-3zM30 48h1v1h-1zM34 48h1v1h-1zM37 48h1v1h-1zM30 49h1v1h-1zM32 49h2v1h-2zM37 49h1v1h-1zM31 50h2v1h-2zM37 50h1v1h-1zM31 51h2v1h-2zM36 51h1v1h-1zM31 52h5v1h-5zM31 56h1v1h-1zM29 64h1v1h-1zM31 66h1v1h-1zM32 67h1v1h-1zM0 69h6v1h-6zM10 69h1v1h-1zM32 71h1v1h-1zM116 75h3v1h-3zM104 76h10v1h-10zM100 77h3v1h-3zM19 78h1v1h-1zM25 78h1v1h-1zM94 78h3v1h-3zM21 79h3v1h-3zM87 79h2v1h-2zM63 80h2v1h-2zM67 80h4v1h-4zM72 80h4v1h-4zM62 81h1v1h-1zM61 82h1v1h-1zM60 83h1v1h-1zM59 84h1v1h-1zM57 85h2v1h-2zM45 86h3v1h-3zM44 87h1v1h-1zM43 88h1v1h-1zM42 89h1v1h-1zM41 91h1v1h-1zM40 93h1v1h-1zM39 95h1v1h-1zM38 97h1v1h-1zM37 99h1v1h-1zM36 100h1v1h-1zM23 101h1v1h-1zM34 101h1v1h-1zM5 102h5v1h-5zM21 102h2v1h-2zM26 102h6v1h-6zM0 103h11v1h-11zM20 103h2v1h-2zM0 104h12v1h-12zM19 104h2v1h-2zM0 105h14v1h-14zM18 105h2v1h-2zM12 106h6v1h-6z"/>
<path fill="#00ff99" d="M95 0h3v1h-3zM95 1h3v1h-3zM95 2h3v1h-3zM95 3h2v1h-2zM51 4h2v1h-2zM76 4h2v1h-2zM95 4h2v1h-2zM50 5h4v1h-4zM76 5h3v1h-3zM95 5h2v1h-2zM47 6h2v1h-2zM54 6h1v1h-1zM75 6h5v1h-5zM94 6h3v1h-3zM44 7h2v1h-2zM55 7h1v1h-1zM75 7h7v1h-7zM94 7h1v1h-1zM96 7h1v1h-1zM40 8h1v1h-1zM56 8h1v1h-1zM74 8h3v1h-3zM82 8h1v1h-1zM93 8h1v1h-1zM96 8h1v1h-1zM38 9h1v1h-1zM57 9h1v1h-1zM73 9h4v1h-4zM92 9h1v1h-1zM96 9h1v1h-1zM58 10h1v1h-1zM71 10h7v1h-7zM92 10h1v1h-1zM96 10h1v1h-1zM37 11h1v1h-1zM58 11h2v1h-2zM70 11h5v1h-5zM77 11h2v1h-2zM85 11h1v1h-1zM91 11h1v1h-1zM14 12h3v1h-3zM18 12h3v1h-3zM53 12h1v1h-1zM58 12h2v1h-2zM69 12h5v1h-5zM79 12h1v1h-1zM86 12h1v1h-1zM90 12h1v1h-1zM10 13h1v1h-1zM23 13h1v1h-1zM38 13h1v1h-1zM49 13h2v1h-2zM55 13h6v1h-6zM68 13h2v1h-2zM71 13h2v1h-2zM81 13h1v1h-1zM86 13h4v1h-4zM97 13h1v1h-1zM7 14h1v1h-1zM25 14h1v1h-1zM39 14h1v1h-1zM47 14h1v1h-1zM57 14h6v1h-6zM66 14h3v1h-3zM71 14h1v1h-1zM83 14h5v1h-5zM97 14h1v1h-1zM4 15h2v1h-2zM40 15h1v1h-1zM45 15h1v1h-1zM58 15h2v1h-2zM63 15h2v1h-2zM71 15h1v1h-1zM86 15h2v1h-2zM98 15h1v1h-1zM40 16h5v1h-5zM58 16h2v1h-2zM70 16h1v1h-1zM86 16h2v1h-2zM41 17h3v1h-3zM59 17h1v1h-1zM70 17h1v1h-1zM87 17h1v1h-1zM99 17h1v1h-1zM40 18h1v1h-1zM43 18h2v1h-2zM59 18h1v1h-1zM87 18h1v1h-1zM100 18h1v1h-1zM39 19h1v1h-1zM45 19h1v1h-1zM60 19h1v1h-1zM69 19h1v1h-1zM100 19h1v1h-1zM38 20h1v1h-1zM47 20h1v1h-1zM60 20h1v1h-1zM88 20h1v1h-1zM100 20h1v1h-1zM33 21h1v1h-1zM37 21h1v1h-1zM50 21h3v1h-3zM68 21h1v1h-1zM99 21h1v1h-1zM54 22h2v1h-2zM59 22h1v1h-1zM91 22h1v1h-1zM98 22h1v1h-1zM57 23h2v1h-2zM67 23h1v1h-1zM66 25h1v1h-1zM65 26h1v1h-1zM64 27h1v1h-1zM63 28h1v1h-1zM62 29h1v1h-1zM48 33h1v1h-1zM54 33h2v1h-2zM0 34h4v1h-4zM47 34h1v1h-1zM6 35h1v1h-1zM36 35h3v1h-3zM45 35h2v1h-2zM6 36h1v1h-1zM32 37h1v1h-1zM31 38h1v1h-1zM28 39h2v1h-2zM25 40h2v1h-2zM26 41h1v1h-1zM26 42h1v1h-1zM27 46h1v1h-1zM29 51h1v1h-1zM29 66h1v1h-1zM9 68h2v1h-2zM14 69h1v1h-1zM26 75h1v1h-1zM24 76h1v1h-1zM116 80h8v1h-8zM108 81h3v1h-3zM97 82h2v1h-2zM86 83h2v1h-2zM75 84h9v1h-9zM65 85h1v1h-1zM70 85h3v1h-3zM63 86h1v1h-1zM62 87h1v1h-1zM61 88h1v1h-1zM60 89h1v1h-1zM58 90h2v1h-2zM55 91h3v1h-3zM52 92h2v1h-2zM51 93h1v1h-1zM50 94h1v1h-1zM50 95h1v1h-1zM49 96h1v1h-1zM49 97h1v1h-1zM48 98h2v1h-2zM48 99h1v1h-1zM47 100h2v1h-2zM45 101h3v1h-3zM44 102h2v1h-2zM43 103h2v1h-2zM43 104h1v1h-1zM42 105h1v1h-1zM41 106h2v1h-2zM34 107h8v1h-8zM33 108h3v1h-3zM34 109h2v1h-2zM34 110h2v1h-2zM35 111h1v1h-1zM14 112h1v1h-1zM19 112h1v1h-1zM35 112h1v1h-1zM12 113h1v1h-1zM20 113h1v1h-1zM34 113h2v1h-2zM11 114h1v1h-1zM21 114h1v1h-1zM33 114h2v1h-2zM9 115h1v1h-1zM21 115h1v1h-1zM32 115h2v1h-2zM4 116h4v1h-4zM21 116h2v1h-2zM30 116h2v1h-2zM22 117h1v1h-1zM29 117h2v1h-2zM22 118h1v1h-1zM29 118h1v1h-1zM22 119h2v1h-2zM28 119h2v1h-2zM22 120h2v1h-2zM28 120h2v1h-2zM22 121h2v1h-2zM28 121h2v1h-2zM22 122h2v1h-2zM28 122h2v1h-2zM22 123h2v1h-2zM28 123h2v1h-2z"/>
<path fill="#00ffa0" d="M49 6h5v1h-5zM46 7h3v1h-3zM53 7h2v1h-2zM95 7h1v1h-1zM41 8h2v1h-2zM54 8h2v1h-2zM77 8h5v1h-5zM94 8h2v1h-2zM39 9h1v1h-1zM55 9h2v1h-2zM77 9h3v1h-3zM82 9h2v1h-2zM93 9h3v1h-3zM38 10h1v1h-1zM56 10h2v1h-2zM78 10h2v1h-2zM83 10h2v1h-2zM93 10h1v1h-1zM38 11h1v1h-1zM54 11h4v1h-4zM79 11h2v1h-2zM84 11h1v1h-1zM92 11h1v1h-1zM96 11h1v1h-1zM17 12h1v1h-1zM38 12h1v1h-1zM50 12h3v1h-3zM54 12h4v1h-4zM80 12h2v1h-2zM84 12h2v1h-2zM91 12h1v1h-1zM96 12h1v1h-1zM11 13h1v1h-1zM47 13h2v1h-2zM70 13h1v1h-1zM82 13h4v1h-4zM90 13h1v1h-1zM96 13h1v1h-1zM8 14h1v1h-1zM45 14h2v1h-2zM69 14h2v1h-2zM88 14h2v1h-2zM6 15h1v1h-1zM41 15h4v1h-4zM60 15h3v1h-3zM65 15h6v1h-6zM88 15h1v1h-1zM97 15h1v1h-1zM0 16h5v1h-5zM60 16h4v1h-4zM68 16h2v1h-2zM88 16h1v1h-1zM98 16h1v1h-1zM60 17h2v1h-2zM69 17h1v1h-1zM41 18h2v1h-2zM60 18h1v1h-1zM69 18h1v1h-1zM99 18h1v1h-1zM40 19h1v1h-1zM44 19h1v1h-1zM68 19h1v1h-1zM88 19h1v1h-1zM31 20h1v1h-1zM39 20h1v1h-1zM46 20h1v1h-1zM68 20h1v1h-1zM99 20h1v1h-1zM32 21h1v1h-1zM48 21h2v1h-2zM60 21h1v1h-1zM89 21h1v1h-1zM34 22h3v1h-3zM52 22h2v1h-2zM60 22h1v1h-1zM67 22h1v1h-1zM92 22h2v1h-2zM96 22h2v1h-2zM55 23h2v1h-2zM59 23h2v1h-2zM58 24h1v1h-1zM66 24h1v1h-1zM61 30h1v1h-1zM60 31h1v1h-1zM49 32h5v1h-5zM59 32h1v1h-1zM47 33h1v1h-1zM56 33h2v1h-2zM4 34h2v1h-2zM45 34h2v1h-2zM34 35h2v1h-2zM39 35h6v1h-6zM7 36h1v1h-1zM33 36h1v1h-1zM6 37h1v1h-1zM20 38h4v1h-4zM30 38h1v1h-1zM20 39h8v1h-8zM22 40h3v1h-3zM25 41h1v1h-1zM26 43h1v1h-1zM28 64h1v1h-1zM8 68h1v1h-1zM11 68h1v1h-1zM20 75h1v1h-1zM22 76h2v1h-2zM111 81h3v1h-3zM99 82h9v1h-9zM88 83h9v1h-9zM84 84h2v1h-2zM66 85h4v1h-4zM73 85h3v1h-3zM64 86h1v1h-1zM63 87h1v1h-1zM62 88h1v1h-1zM61 89h1v1h-1zM60 90h1v1h-1zM58 91h1v1h-1zM54 92h3v1h-3zM52 93h2v1h-2zM51 94h2v1h-2zM51 95h1v1h-1zM50 96h1v1h-1zM50 97h1v1h-1zM50 98h1v1h-1zM49 99h1v1h-1zM49 100h1v1h-1zM48 101h1v1h-1zM46 102h2v1h-2zM45 103h2v1h-2zM44 104h2v1h-2zM43 105h2v1h-2zM43 106h1v1h-1zM42 107h1v1h-1zM36 108h6v1h-6zM36 109h5v1h-5zM36 110h3v1h-3zM36 111h2v1h-2zM15 112h4v1h-4zM36 112h1v1h-1zM13 113h1v1h-1zM19 113h1v1h-1zM36 113h1v1h-1zM12 114h1v1h-1zM20 114h1v1h-1zM35 114h1v1h-1zM10 115h2v1h-2zM20 115h1v1h-1zM34 115h1v1h-1zM8 116h2v1h-2zM20 116h1v1h-1zM32 116h2v1h-2zM0 117h7v1h-7zM21 117h1v1h-1zM31 117h2v1h-2zM0 118h3v1h-3zM21 118h1v1h-1zM30 118h2v1h-2zM21 119h1v1h-1zM30 119h1v1h-1zM21 120h1v1h-1zM30 120h1v1h-1zM21 121h1v1h-1zM30 121h1v1h-1zM21 122h1v1h-1zM30 122h1v1h-1zM21 123h1v1h-1zM30 123h1v1h-1z"/>
<path fill="#00ffa7" d="M49 7h4v1h-4zM43 8h4v1h-4zM51 8h3v1h-3zM40 9h1v1h-1zM52 9h3v1h-3zM80 9h2v1h-2zM39 10h1v1h-1zM52 10h4v1h-4zM80 10h3v1h-3zM94 10h2v1h-2zM50 11h4v1h-4zM81 11h3v1h-3zM93 11h3v1h-3zM39 12h1v1h-1zM48 12h2v1h-2zM82 12h2v1h-2zM92 12h2v1h-2zM95 12h1v1h-1zM12 13h2v1h-2zM21 13h2v1h-2zM39 13h1v1h-1zM46 13h1v1h-1zM91 13h2v1h-2zM95 13h1v1h-1zM9 14h1v1h-1zM24 14h1v1h-1zM40 14h2v1h-2zM43 14h2v1h-2zM90 14h2v1h-2zM96 14h1v1h-1zM7 15h1v1h-1zM26 15h1v1h-1zM89 15h2v1h-2zM96 15h1v1h-1zM5 16h1v1h-1zM28 16h1v1h-1zM64 16h4v1h-4zM89 16h1v1h-1zM97 16h1v1h-1zM0 17h5v1h-5zM30 17h1v1h-1zM62 17h3v1h-3zM66 17h3v1h-3zM88 17h1v1h-1zM98 17h1v1h-1zM32 18h1v1h-1zM61 18h2v1h-2zM67 18h2v1h-2zM88 18h1v1h-1zM31 19h1v1h-1zM41 19h3v1h-3zM61 19h1v1h-1zM67 19h1v1h-1zM99 19h1v1h-1zM40 20h1v1h-1zM44 20h2v1h-2zM61 20h1v1h-1zM67 20h1v1h-1zM89 20h1v1h-1zM38 21h1v1h-1zM46 21h2v1h-2zM61 21h1v1h-1zM67 21h1v1h-1zM90 21h1v1h-1zM98 21h1v1h-1zM33 22h1v1h-1zM37 22h1v1h-1zM50 22h2v1h-2zM61 22h1v1h-1zM94 22h2v1h-2zM54 23h1v1h-1zM66 23h1v1h-1zM56 24h2v1h-2zM59 24h2v1h-2zM65 25h1v1h-1zM64 26h1v1h-1zM63 27h1v1h-1zM62 28h1v1h-1zM61 29h1v1h-1zM47 32h2v1h-2zM54 32h1v1h-1zM46 33h1v1h-1zM6 34h1v1h-1zM44 34h1v1h-1zM7 35h1v1h-1zM8 36h1v1h-1zM31 37h1v1h-1zM0 38h3v1h-3zM18 38h2v1h-2zM24 38h3v1h-3zM28 38h2v1h-2zM18 39h2v1h-2zM21 40h1v1h-1zM24 41h1v1h-1zM25 42h1v1h-1zM29 59h1v1h-1zM12 68h1v1h-1zM17 73h1v1h-1zM30 73h1v1h-1zM29 74h1v1h-1zM25 75h1v1h-1zM114 81h10v1h-10zM108 82h3v1h-3zM97 83h3v1h-3zM86 84h2v1h-2zM93 84h2v1h-2zM76 85h9v1h-9zM65 86h2v1h-2zM68 86h7v1h-7zM64 87h1v1h-1zM63 88h1v1h-1zM62 89h1v1h-1zM61 90h1v1h-1zM59 91h2v1h-2zM57 92h2v1h-2zM54 93h3v1h-3zM53 94h1v1h-1zM52 95h1v1h-1zM51 96h2v1h-2zM51 97h1v1h-1zM51 98h1v1h-1zM50 99h1v1h-1zM50 100h1v1h-1zM49 101h2v1h-2zM48 102h2v1h-2zM47 103h2v1h-2zM46 104h1v1h-1zM45 105h1v1h-1zM44 106h1v1h-1zM43 107h1v1h-1zM42 108h2v1h-2zM41 109h2v1h-2zM39 110h2v1h-2zM38 111h2v1h-2zM37 112h2v1h-2zM14 113h2v1h-2zM18 113h1v1h-1zM37 113h1v1h-1zM13 114h1v1h-1zM19 114h1v1h-1zM36 114h1v1h-1zM12 115h1v1h-1zM19 115h1v1h-1zM35 115h1v1h-1zM10 116h2v1h-2zM34 116h1v1h-1zM7 117h3v1h-3zM20 117h1v1h-1zM33 117h1v1h-1zM3 118h4v1h-4zM20 118h1v1h-1zM32 118h1v1h-1zM0 119h6v1h-6zM20 119h1v1h-1zM31 119h1v1h-1zM0 120h4v1h-4zM20 120h1v1h-1zM31 120h1v1h-1zM0 121h4v1h-4zM19 121h2v1h-2zM31 121h1v1h-1zM0 122h4v1h-4zM19 122h2v1h-2zM31 122h1v1h-1zM0 123h4v1h-4zM19 123h2v1h-2zM31 123h1v1h-1z"/>
<path fill="#00ff44" d="M105 7h5v1h-5zM103 8h2v1h-2zM109 8h3v1h-3zM102 9h1v1h-1zM110 9h4v1h-4zM117 9h7v1h-7zM102 10h1v1h-1zM111 10h13v1h-13zM102 11h1v1h-1zM112 11h12v1h-12zM103 12h1v1h-1zM112 12h12v1h-12zM104 13h1v1h-1zM112 13h12v1h-12zM105 14h1v1h-1zM111 14h13v1h-13zM106 15h2v1h-2zM111 15h13v1h-13zM106 16h2v1h-2zM111 16h13v1h-13zM106 17h2v1h-2zM111 17h13v1h-13zM106 18h1v1h-1zM112 18h12v1h-12zM105 19h1v1h-1zM112 19h12v1h-12zM78 20h2v1h-2zM82 20h1v1h-1zM105 20h1v1h-1zM112 20h12v1h-12zM77 21h1v1h-1zM84 21h1v1h-1zM112 21h12v1h-12zM75 22h1v1h-1zM104 22h1v1h-1zM112 22h2v1h-2zM116 22h8v1h-8zM73 23h1v1h-1zM86 23h1v1h-1zM103 23h1v1h-1zM112 23h2v1h-2zM117 23h7v1h-7zM71 24h1v1h-1zM89 24h1v1h-1zM112 24h2v1h-2zM118 24h6v1h-6zM70 25h1v1h-1zM112 25h1v1h-1zM118 25h6v1h-6zM112 26h1v1h-1zM119 26h5v1h-5zM111 27h3v1h-3zM118 27h6v1h-6zM110 28h14v1h-14zM108 29h16v1h-16zM65 30h1v1h-1zM107 30h2v1h-2zM110 30h2v1h-2zM111 31h1v1h-1zM106 32h1v1h-1zM106 33h1v1h-1zM110 34h1v1h-1zM110 35h1v1h-1zM110 36h1v1h-1zM53 37h1v1h-1zM72 38h1v1h-1zM105 38h1v1h-1zM109 38h1v1h-1zM105 39h1v1h-1zM38 40h3v1h-3zM49 40h1v1h-1zM105 40h3v1h-3zM36 41h2v1h-2zM41 41h2v1h-2zM47 41h1v1h-1zM35 42h2v1h-2zM33 43h3v1h-3zM31 44h2v1h-2zM31 45h1v1h-1zM36 45h3v1h-3zM30 46h1v1h-1zM35 46h5v1h-5zM30 47h1v1h-1zM33 47h2v1h-2zM38 47h1v1h-1zM31 48h3v1h-3zM38 48h1v1h-1zM31 49h1v1h-1zM38 49h1v1h-1zM37 51h1v1h-1zM31 53h1v1h-1zM30 65h1v1h-1zM33 68h1v1h-1zM6 69h4v1h-4zM33 69h1v1h-1zM12 70h1v1h-1zM15 73h1v1h-1zM116 74h8v1h-8zM105 75h11v1h-11zM17 76h1v1h-1zM102 76h2v1h-2zM18 77h1v1h-1zM97 77h3v1h-3zM91 78h3v1h-3zM20 79h1v1h-1zM64 79h3v1h-3zM84 79h3v1h-3zM62 80h1v1h-1zM71 80h1v1h-1zM61 81h1v1h-1zM58 84h1v1h-1zM46 85h11v1h-11zM44 86h1v1h-1zM43 87h1v1h-1zM42 88h1v1h-1zM41 90h1v1h-1zM40 92h1v1h-1zM39 94h1v1h-1zM38 96h1v1h-1zM37 98h1v1h-1zM7 99h4v1h-4zM0 100h12v1h-12zM35 100h1v1h-1zM0 101h12v1h-12zM20 101h3v1h-3zM24 101h4v1h-4zM33 101h1v1h-1zM0 102h5v1h-5zM10 102h3v1h-3zM19 102h2v1h-2zM11 103h3v1h-3zM19 103h1v1h-1zM12 104h3v1h-3zM17 104h2v1h-2zM14 105h4v1h-4z"/>
<path fill="#00ffaf" d="M47 8h4v1h-4zM41 9h3v1h-3zM47 9h5v1h-5zM40 10h1v1h-1zM49 10h3v1h-3zM39 11h1v1h-1zM48 11h2v1h-2zM40 12h1v1h-1zM46 12h2v1h-2zM94 12h1v1h-1zM14 13h2v1h-2zM19 13h2v1h-2zM40 13h2v1h-2zM44 13h2v1h-2zM93 13h2v1h-2zM10 14h1v1h-1zM42 14h1v1h-1zM92 14h4v1h-4zM8 15h1v1h-1zM91 15h2v1h-2zM95 15h1v1h-1zM6 16h1v1h-1zM90 16h2v1h-2zM96 16h1v1h-1zM5 17h1v1h-1zM65 17h1v1h-1zM89 17h1v1h-1zM97 17h1v1h-1zM0 18h5v1h-5zM63 18h4v1h-4zM89 18h1v1h-1zM98 18h1v1h-1zM62 19h2v1h-2zM66 19h1v1h-1zM89 19h1v1h-1zM98 19h1v1h-1zM30 20h1v1h-1zM41 20h3v1h-3zM62 20h1v1h-1zM66 20h1v1h-1zM98 20h1v1h-1zM31 21h1v1h-1zM39 21h1v1h-1zM45 21h1v1h-1zM62 21h1v1h-1zM66 21h1v1h-1zM91 21h1v1h-1zM96 21h2v1h-2zM38 22h1v1h-1zM47 22h3v1h-3zM62 22h1v1h-1zM66 22h1v1h-1zM34 23h3v1h-3zM51 23h3v1h-3zM61 23h2v1h-2zM54 24h2v1h-2zM61 24h1v1h-1zM65 24h1v1h-1zM57 25h5v1h-5zM64 25h1v1h-1zM62 26h2v1h-2zM62 27h1v1h-1zM61 28h1v1h-1zM60 30h1v1h-1zM48 31h6v1h-6zM59 31h1v1h-1zM46 32h1v1h-1zM55 32h4v1h-4zM0 33h5v1h-5zM44 33h2v1h-2zM7 34h1v1h-1zM34 34h10v1h-10zM8 35h1v1h-1zM33 35h1v1h-1zM9 36h1v1h-1zM32 36h1v1h-1zM7 37h3v1h-3zM18 37h7v1h-7zM30 37h1v1h-1zM16 38h2v1h-2zM27 38h1v1h-1zM17 39h1v1h-1zM19 40h2v1h-2zM23 41h1v1h-1zM26 44h1v1h-1zM28 47h1v1h-1zM28 65h1v1h-1zM7 68h1v1h-1zM30 68h1v1h-1zM16 70h1v1h-1zM111 82h4v1h-4zM117 82h7v1h-7zM100 83h9v1h-9zM88 84h5v1h-5zM95 84h4v1h-4zM85 85h2v1h-2zM67 86h1v1h-1zM75 86h10v1h-10zM65 87h1v1h-1zM69 87h14v1h-14zM64 88h1v1h-1zM63 89h1v1h-1zM62 90h1v1h-1zM61 91h2v1h-2zM59 92h3v1h-3zM57 93h3v1h-3zM54 94h3v1h-3zM53 95h2v1h-2zM53 96h1v1h-1zM52 97h1v1h-1zM52 98h1v1h-1zM51 99h2v1h-2zM51 100h1v1h-1zM51 101h1v1h-1zM50 102h1v1h-1zM49 103h2v1h-2zM47 104h2v1h-2zM46 105h2v1h-2zM45 106h2v1h-2zM44 107h2v1h-2zM44 108h1v1h-1zM43 109h1v1h-1zM41 110h2v1h-2zM40 111h2v1h-2zM39 112h1v1h-1zM16 113h2v1h-2zM38 113h2v1h-2zM14 114h5v1h-5zM37 114h2v1h-2zM13 115h2v1h-2zM18 115h1v1h-1zM36 115h2v1h-2zM12 116h1v1h-1zM18 116h2v1h-2zM35 116h2v1h-2zM10 117h2v1h-2zM18 117h2v1h-2zM34 117h2v1h-2zM7 118h3v1h-3zM18 118h2v1h-2zM33 118h1v1h-1zM6 119h3v1h-3zM18 119h2v1h-2zM32 119h2v1h-2zM4 120h4v1h-4zM18 120h2v1h-2zM32 120h1v1h-1zM4 121h4v1h-4zM18 121h1v1h-1zM32 121h1v1h-1zM4 122h4v1h-4zM18 122h1v1h-1zM32 122h1v1h-1zM4 123h4v1h-4zM18 123h1v1h-1zM32 123h1v1h-1z"/>
<path fill="#00ff3b" d="M105 8h4v1h-4zM103 9h7v1h-7zM103 10h1v1h-1zM109 10h2v1h-2zM103 11h1v1h-1zM109 11h3v1h-3zM104 12h2v1h-2zM109 12h3v1h-3zM105 13h7v1h-7zM106 14h5v1h-5zM108 15h3v1h-3zM108 16h3v1h-3zM108 17h3v1h-3zM107 18h5v1h-5zM106 19h1v1h-1zM110 19h2v1h-2zM80 20h2v1h-2zM111 20h1v1h-1zM78 21h1v1h-1zM83 21h1v1h-1zM105 21h1v1h-1zM111 21h1v1h-1zM76 22h2v1h-2zM84 22h1v1h-1zM111 22h1v1h-1zM74 23h1v1h-1zM104 23h1v1h-1zM111 23h1v1h-1zM72 24h1v1h-1zM88 24h1v1h-1zM103 24h1v1h-1zM111 24h1v1h-1zM97 25h6v1h-6zM111 25h1v1h-1zM110 26h2v1h-2zM69 27h1v1h-1zM109 27h2v1h-2zM68 28h1v1h-1zM108 28h2v1h-2zM67 29h1v1h-1zM107 29h1v1h-1zM112 30h12v1h-12zM64 31h1v1h-1zM106 31h1v1h-1zM112 31h1v1h-1zM111 32h1v1h-1zM111 33h1v1h-1zM60 34h1v1h-1zM111 34h1v1h-1zM56 36h1v1h-1zM105 36h1v1h-1zM54 37h1v1h-1zM105 37h1v1h-1zM110 37h1v1h-1zM52 38h1v1h-1zM51 39h1v1h-1zM109 39h1v1h-1zM121 39h3v1h-3zM104 40h1v1h-1zM108 40h1v1h-1zM120 40h4v1h-4zM38 41h3v1h-3zM70 41h1v1h-1zM72 41h1v1h-1zM105 41h3v1h-3zM37 42h8v1h-8zM36 43h6v1h-6zM33 44h8v1h-8zM32 45h4v1h-4zM39 45h2v1h-2zM31 46h4v1h-4zM40 46h1v1h-1zM31 47h2v1h-2zM39 47h1v1h-1zM39 48h1v1h-1zM38 50h1v1h-1zM36 52h1v1h-1zM32 53h3v1h-3zM33 67h1v1h-1zM33 70h1v1h-1zM13 71h1v1h-1zM14 72h1v1h-1zM32 72h1v1h-1zM117 73h7v1h-7zM15 74h1v1h-1zM31 74h1v1h-1zM105 74h11v1h-11zM16 75h1v1h-1zM30 75h1v1h-1zM102 75h3v1h-3zM28 76h1v1h-1zM99 76h3v1h-3zM17 77h1v1h-1zM27 77h1v1h-1zM94 77h3v1h-3zM10 78h3v1h-3zM18 78h1v1h-1zM26 78h1v1h-1zM88 78h3v1h-3zM11 79h2v1h-2zM19 79h1v1h-1zM24 79h1v1h-1zM62 79h2v1h-2zM67 79h4v1h-4zM73 79h11v1h-11zM12 80h1v1h-1zM61 80h1v1h-1zM14 81h1v1h-1zM60 81h1v1h-1zM14 82h2v1h-2zM60 82h1v1h-1zM15 83h1v1h-1zM59 83h1v1h-1zM47 84h6v1h-6zM56 84h2v1h-2zM44 85h2v1h-2zM43 86h1v1h-1zM42 87h1v1h-1zM41 88h1v1h-1zM41 89h1v1h-1zM0 90h5v1h-5zM0 91h5v1h-5zM40 91h1v1h-1zM39 93h1v1h-1zM38 95h1v1h-1zM8 96h3v1h-3zM5 97h8v1h-8zM37 97h1v1h-1zM0 98h13v1h-13zM0 99h7v1h-7zM11 99h3v1h-3zM36 99h1v1h-1zM12 100h2v1h-2zM20 100h6v1h-6zM12 101h3v1h-3zM18 101h2v1h-2zM28 101h5v1h-5zM13 102h3v1h-3zM17 102h2v1h-2zM14 103h5v1h-5zM15 104h2v1h-2z"/>
<path fill="#00ffb7" d="M44 9h3v1h-3zM41 10h8v1h-8zM40 11h2v1h-2zM45 11h3v1h-3zM41 12h5v1h-5zM16 13h3v1h-3zM42 13h2v1h-2zM11 14h2v1h-2zM23 14h1v1h-1zM9 15h1v1h-1zM93 15h2v1h-2zM7 16h1v1h-1zM92 16h4v1h-4zM6 17h2v1h-2zM90 17h7v1h-7zM5 18h2v1h-2zM90 18h2v1h-2zM96 18h2v1h-2zM0 19h6v1h-6zM30 19h1v1h-1zM64 19h2v1h-2zM90 19h1v1h-1zM96 19h2v1h-2zM29 20h1v1h-1zM63 20h3v1h-3zM90 20h2v1h-2zM96 20h2v1h-2zM40 21h5v1h-5zM63 21h3v1h-3zM92 21h4v1h-4zM32 22h1v1h-1zM39 22h1v1h-1zM45 22h2v1h-2zM63 22h3v1h-3zM33 23h1v1h-1zM37 23h1v1h-1zM47 23h4v1h-4zM63 23h3v1h-3zM51 24h3v1h-3zM62 24h3v1h-3zM54 25h3v1h-3zM62 25h2v1h-2zM57 26h5v1h-5zM60 27h2v1h-2zM60 28h1v1h-1zM60 29h1v1h-1zM48 30h5v1h-5zM45 31h3v1h-3zM54 31h1v1h-1zM44 32h2v1h-2zM5 33h1v1h-1zM36 33h8v1h-8zM33 34h1v1h-1zM9 35h1v1h-1zM10 36h1v1h-1zM20 36h3v1h-3zM10 37h1v1h-1zM15 37h3v1h-3zM25 37h5v1h-5zM3 38h1v1h-1zM14 38h2v1h-2zM15 39h2v1h-2zM17 40h2v1h-2zM21 41h2v1h-2zM24 42h1v1h-1zM25 43h1v1h-1zM26 45h1v1h-1zM28 50h1v1h-1zM13 68h1v1h-1zM15 69h1v1h-1zM18 74h1v1h-1zM21 75h1v1h-1zM24 75h1v1h-1zM115 82h2v1h-2zM109 83h3v1h-3zM120 83h4v1h-4zM99 84h10v1h-10zM87 85h13v1h-13zM85 86h3v1h-3zM66 87h3v1h-3zM83 87h4v1h-4zM65 88h20v1h-20zM64 89h2v1h-2zM69 89h15v1h-15zM63 90h2v1h-2zM69 90h8v1h-8zM78 90h5v1h-5zM63 91h2v1h-2zM68 91h6v1h-6zM62 92h12v1h-12zM60 93h13v1h-13zM57 94h16v1h-16zM55 95h18v1h-18zM54 96h4v1h-4zM62 96h9v1h-9zM53 97h3v1h-3zM64 97h5v1h-5zM53 98h2v1h-2zM53 99h2v1h-2zM52 100h2v1h-2zM52 101h2v1h-2zM51 102h2v1h-2zM51 103h2v1h-2zM49 104h3v1h-3zM48 105h3v1h-3zM47 106h2v1h-2zM46 107h2v1h-2zM45 108h2v1h-2zM44 109h2v1h-2zM43 110h3v1h-3zM42 111h3v1h-3zM40 112h3v1h-3zM40 113h2v1h-2zM39 114h2v1h-2zM15 115h3v1h-3zM38 115h2v1h-2zM13 116h5v1h-5zM37 116h2v1h-2zM12 117h6v1h-6zM36 117h2v1h-2zM10 118h8v1h-8zM34 118h3v1h-3zM9 119h4v1h-4zM15 119h3v1h-3zM34 119h2v1h-2zM8 120h4v1h-4zM15 120h3v1h-3zM33 120h2v1h-2zM8 121h3v1h-3zM15 121h3v1h-3zM33 121h2v1h-2zM8 122h3v1h-3zM15 122h3v1h-3zM33 122h2v1h-2zM8 123h3v1h-3zM15 123h3v1h-3zM33 123h2v1h-2z"/>
<path fill="#00ff31" d="M104 10h5v1h-5zM104 11h5v1h-5zM106 12h3v1h-3zM107 19h3v1h-3zM106 20h5v1h-5zM79 21h4v1h-4zM106 21h1v1h-1zM110 21h1v1h-1zM78 22h1v1h-1zM83 22h1v1h-1zM105 22h1v1h-1zM110 22h1v1h-1zM75 23h2v1h-2zM85 23h1v1h-1zM105 23h1v1h-1zM110 23h1v1h-1zM73 24h1v1h-1zM87 24h1v1h-1zM104 24h1v1h-1zM110 24h1v1h-1zM71 25h1v1h-1zM94 25h3v1h-3zM103 25h1v1h-1zM109 25h2v1h-2zM70 26h1v1h-1zM108 26h2v1h-2zM107 27h2v1h-2zM107 28h1v1h-1zM106 29h1v1h-1zM66 30h1v1h-1zM106 30h1v1h-1zM113 31h11v1h-11zM63 32h1v1h-1zM112 32h2v1h-2zM119 32h5v1h-5zM112 33h1v1h-1zM105 34h1v1h-1zM59 35h1v1h-1zM105 35h1v1h-1zM111 35h1v1h-1zM57 36h1v1h-1zM111 36h1v1h-1zM71 37h2v1h-2zM111 37h1v1h-1zM120 37h4v1h-4zM53 38h1v1h-1zM104 38h1v1h-1zM110 38h1v1h-1zM119 38h5v1h-5zM104 39h1v1h-1zM110 39h1v1h-1zM118 39h3v1h-3zM50 40h1v1h-1zM109 40h1v1h-1zM118 40h2v1h-2zM48 41h1v1h-1zM104 41h1v1h-1zM108 41h2v1h-2zM118 41h6v1h-6zM45 42h2v1h-2zM104 42h4v1h-4zM119 42h5v1h-5zM42 43h2v1h-2zM41 44h2v1h-2zM41 45h1v1h-1zM41 46h1v1h-1zM40 47h1v1h-1zM40 48h1v1h-1zM39 49h1v1h-1zM38 51h1v1h-1zM35 53h1v1h-1zM30 58h1v1h-1zM32 66h1v1h-1zM34 68h1v1h-1zM11 70h1v1h-1zM33 71h1v1h-1zM106 72h6v1h-6zM114 72h10v1h-10zM14 73h1v1h-1zM32 73h1v1h-1zM103 73h14v1h-14zM101 74h4v1h-4zM15 75h1v1h-1zM99 75h3v1h-3zM11 76h2v1h-2zM16 76h1v1h-1zM95 76h4v1h-4zM9 77h5v1h-5zM16 77h1v1h-1zM90 77h4v1h-4zM9 78h1v1h-1zM13 78h5v1h-5zM61 78h8v1h-8zM84 78h4v1h-4zM9 79h2v1h-2zM13 79h6v1h-6zM25 79h1v1h-1zM60 79h2v1h-2zM71 79h2v1h-2zM10 80h2v1h-2zM13 80h9v1h-9zM60 80h1v1h-1zM11 81h3v1h-3zM15 81h3v1h-3zM59 81h1v1h-1zM12 82h2v1h-2zM16 82h2v1h-2zM59 82h1v1h-1zM13 83h2v1h-2zM16 83h1v1h-1zM48 83h2v1h-2zM57 83h2v1h-2zM13 84h4v1h-4zM44 84h3v1h-3zM53 84h3v1h-3zM14 85h2v1h-2zM43 85h1v1h-1zM42 86h1v1h-1zM41 87h1v1h-1zM0 88h7v1h-7zM0 89h8v1h-8zM40 89h1v1h-1zM5 90h4v1h-4zM40 90h1v1h-1zM5 91h5v1h-5zM0 92h11v1h-11zM39 92h1v1h-1zM0 93h12v1h-12zM0 94h14v1h-14zM38 94h1v1h-1zM0 95h15v1h-15zM0 96h8v1h-8zM11 96h5v1h-5zM37 96h1v1h-1zM0 97h5v1h-5zM13 97h4v1h-4zM13 98h6v1h-6zM36 98h1v1h-1zM14 99h10v1h-10zM35 99h1v1h-1zM14 100h6v1h-6zM26 100h2v1h-2zM33 100h2v1h-2zM15 101h3v1h-3zM16 102h1v1h-1z"/>
<path fill="#00ffc1" d="M42 11h3v1h-3zM13 14h1v1h-1zM22 14h1v1h-1zM10 15h1v1h-1zM25 15h1v1h-1zM8 16h2v1h-2zM27 16h1v1h-1zM8 17h1v1h-1zM29 17h1v1h-1zM7 18h1v1h-1zM31 18h1v1h-1zM92 18h4v1h-4zM6 19h2v1h-2zM29 19h1v1h-1zM91 19h5v1h-5zM0 20h8v1h-8zM92 20h4v1h-4zM30 21h1v1h-1zM31 22h1v1h-1zM40 22h5v1h-5zM32 23h1v1h-1zM38 23h2v1h-2zM45 23h2v1h-2zM34 24h4v1h-4zM46 24h5v1h-5zM49 25h5v1h-5zM54 26h3v1h-3zM57 27h3v1h-3zM59 28h1v1h-1zM47 29h6v1h-6zM59 29h1v1h-1zM45 30h3v1h-3zM53 30h2v1h-2zM59 30h1v1h-1zM43 31h2v1h-2zM55 31h4v1h-4zM41 32h3v1h-3zM34 33h2v1h-2zM8 34h1v1h-1zM32 34h1v1h-1zM10 35h1v1h-1zM11 36h9v1h-9zM23 36h1v1h-1zM31 36h1v1h-1zM11 37h4v1h-4zM12 38h2v1h-2zM13 39h2v1h-2zM16 40h1v1h-1zM0 41h3v1h-3zM20 41h1v1h-1zM23 42h1v1h-1zM28 60h1v1h-1zM6 68h1v1h-1zM17 72h1v1h-1zM30 72h1v1h-1zM28 74h1v1h-1zM22 75h2v1h-2zM112 83h8v1h-8zM109 84h3v1h-3zM118 84h6v1h-6zM100 85h10v1h-10zM88 86h20v1h-20zM87 87h16v1h-16zM85 88h4v1h-4zM66 89h3v1h-3zM84 89h4v1h-4zM65 90h4v1h-4zM77 90h1v1h-1zM83 90h4v1h-4zM65 91h3v1h-3zM74 91h13v1h-13zM74 92h13v1h-13zM73 93h13v1h-13zM73 94h4v1h-4zM73 95h3v1h-3zM58 96h4v1h-4zM71 96h4v1h-4zM56 97h8v1h-8zM69 97h5v1h-5zM55 98h17v1h-17zM55 99h14v1h-14zM54 100h4v1h-4zM63 100h3v1h-3zM54 101h3v1h-3zM53 102h3v1h-3zM53 103h3v1h-3zM52 104h3v1h-3zM51 105h3v1h-3zM49 106h4v1h-4zM48 107h3v1h-3zM47 108h2v1h-2zM46 109h2v1h-2zM46 110h2v1h-2zM45 111h2v1h-2zM43 112h4v1h-4zM42 113h4v1h-4zM41 114h3v1h-3zM40 115h3v1h-3zM39 116h3v1h-3zM38 117h3v1h-3zM37 118h3v1h-3zM13 119h2v1h-2zM36 119h4v1h-4zM12 120h3v1h-3zM35 120h4v1h-4zM11 121h4v1h-4zM35 121h4v1h-4zM11 122h4v1h-4zM35 122h4v1h-4zM11 123h4v1h-4zM35 123h4v1h-4z"/>
<path fill="#00ffca" d="M14 14h1v1h-1zM20 14h2v1h-2zM11 15h2v1h-2zM10 16h1v1h-1zM9 17h1v1h-1zM8 18h1v1h-1zM8 19h2v1h-2zM27 19h2v1h-2zM8 20h3v1h-3zM28 20h1v1h-1zM0 21h12v1h-12zM29 21h1v1h-1zM6 22h7v1h-7zM30 22h1v1h-1zM8 23h4v1h-4zM40 23h5v1h-5zM33 24h1v1h-1zM38 24h2v1h-2zM44 24h2v1h-2zM34 25h4v1h-4zM45 25h4v1h-4zM45 26h9v1h-9zM45 27h12v1h-12zM44 28h15v1h-15zM43 29h4v1h-4zM53 29h6v1h-6zM42 30h3v1h-3zM55 30h4v1h-4zM40 31h3v1h-3zM0 32h4v1h-4zM34 32h7v1h-7zM6 33h1v1h-1zM32 33h2v1h-2zM11 35h3v1h-3zM17 35h5v1h-5zM24 36h1v1h-1zM29 36h2v1h-2zM4 38h1v1h-1zM10 38h2v1h-2zM13 40h3v1h-3zM3 41h1v1h-1zM18 41h2v1h-2zM24 43h1v1h-1zM25 44h1v1h-1zM26 46h1v1h-1zM29 67h1v1h-1zM0 68h6v1h-6zM14 68h1v1h-1zM30 69h1v1h-1zM30 71h1v1h-1zM112 84h6v1h-6zM110 85h14v1h-14zM108 86h3v1h-3zM103 87h7v1h-7zM89 88h20v1h-20zM88 89h19v1h-19zM87 90h19v1h-19zM87 91h17v1h-17zM87 92h17v1h-17zM86 93h17v1h-17zM77 94h25v1h-25zM76 95h25v1h-25zM75 96h25v1h-25zM74 97h22v1h-22zM72 98h5v1h-5zM82 98h7v1h-7zM69 99h5v1h-5zM58 100h5v1h-5zM66 100h6v1h-6zM57 101h12v1h-12zM56 102h10v1h-10zM56 103h6v1h-6zM55 104h4v1h-4zM54 105h4v1h-4zM53 106h4v1h-4zM51 107h4v1h-4zM49 108h4v1h-4zM48 109h3v1h-3zM48 110h2v1h-2zM47 111h2v1h-2zM47 112h2v1h-2zM46 113h2v1h-2zM44 114h4v1h-4zM43 115h4v1h-4zM42 116h4v1h-4zM41 117h4v1h-4zM40 118h5v1h-5zM40 119h4v1h-4zM39 120h5v1h-5zM39 121h5v1h-5zM39 122h5v1h-5zM39 123h5v1h-5z"/>
<path fill="#00ffd3" d="M15 14h1v1h-1zM17 14h3v1h-3zM13 15h1v1h-1zM24 15h1v1h-1zM11 16h1v1h-1zM10 17h1v1h-1zM28 17h1v1h-1zM9 18h2v1h-2zM29 18h2v1h-2zM10 19h1v1h-1zM26 19h1v1h-1zM11 20h2v1h-2zM27 20h1v1h-1zM12 21h2v1h-2zM28 21h1v1h-1zM0 22h6v1h-6zM13 22h1v1h-1zM6 23h2v1h-2zM12 23h1v1h-1zM31 23h1v1h-1zM8 24h4v1h-4zM32 24h1v1h-1zM40 24h4v1h-4zM33 25h1v1h-1zM38 25h7v1h-7zM35 26h4v1h-4zM41 26h4v1h-4zM41 27h4v1h-4zM41 28h3v1h-3zM40 29h3v1h-3zM39 30h3v1h-3zM35 31h5v1h-5zM32 32h2v1h-2zM31 33h1v1h-1zM14 35h3v1h-3zM22 35h1v1h-1zM32 35h1v1h-1zM25 36h4v1h-4zM12 39h1v1h-1zM12 40h1v1h-1zM4 41h1v1h-1zM16 41h2v1h-2zM22 42h1v1h-1zM27 62h1v1h-1zM27 63h1v1h-1zM16 69h1v1h-1zM30 70h1v1h-1zM17 71h1v1h-1zM19 74h1v1h-1zM27 74h1v1h-1zM111 86h13v1h-13zM110 87h14v1h-14zM109 88h15v1h-15zM107 89h17v1h-17zM106 90h8v1h-8zM119 90h5v1h-5zM104 91h20v1h-20zM104 92h20v1h-20zM103 93h21v1h-21zM102 94h22v1h-22zM101 95h7v1h-7zM110 95h14v1h-14zM100 96h6v1h-6zM113 96h11v1h-11zM96 97h9v1h-9zM77 98h5v1h-5zM89 98h14v1h-14zM74 99h27v1h-27zM72 100h19v1h-19zM69 101h16v1h-16zM66 102h7v1h-7zM62 103h8v1h-8zM59 104h8v1h-8zM58 105h6v1h-6zM57 106h4v1h-4zM55 107h4v1h-4zM53 108h4v1h-4zM51 109h3v1h-3zM50 110h3v1h-3zM49 111h2v1h-2zM49 112h2v1h-2zM48 113h2v1h-2zM48 114h2v1h-2zM47 115h2v1h-2zM46 116h2v1h-2zM45 117h3v1h-3zM45 118h2v1h-2zM44 119h3v1h-3zM44 120h3v1h-3zM44 121h3v1h-3zM44 122h3v1h-3zM44 123h3v1h-3z"/>
<path fill="#00ffdc" d="M16 14h1v1h-1zM14 15h1v1h-1zM23 15h1v1h-1zM12 16h1v1h-1zM26 16h1v1h-1zM11 17h1v1h-1zM11 18h1v1h-1zM27 18h2v1h-2zM11 19h2v1h-2zM25 19h1v1h-1zM13 20h1v1h-1zM26 20h1v1h-1zM14 21h1v1h-1zM14 22h2v1h-2zM29 22h1v1h-1zM0 23h6v1h-6zM30 23h1v1h-1zM7 24h1v1h-1zM31 24h1v1h-1zM9 25h3v1h-3zM32 25h1v1h-1zM33 26h2v1h-2zM39 26h2v1h-2zM35 27h6v1h-6zM37 28h4v1h-4zM37 29h3v1h-3zM35 30h4v1h-4zM32 31h3v1h-3zM4 32h1v1h-1zM31 32h1v1h-1zM13 34h7v1h-7zM5 38h1v1h-1zM9 38h1v1h-1zM5 41h2v1h-2zM14 41h2v1h-2zM21 42h1v1h-1zM25 45h1v1h-1zM28 66h1v1h-1zM15 68h1v1h-1zM26 74h1v1h-1zM114 90h5v1h-5zM108 95h2v1h-2zM106 96h7v1h-7zM105 97h19v1h-19zM103 98h21v1h-21zM101 99h23v1h-23zM91 100h15v1h-15zM85 101h17v1h-17zM73 102h18v1h-18zM70 103h14v1h-14zM67 104h10v1h-10zM64 105h8v1h-8zM61 106h7v1h-7zM59 107h5v1h-5zM57 108h4v1h-4zM54 109h4v1h-4zM53 110h2v1h-2zM51 111h2v1h-2zM51 112h1v1h-1zM50 113h2v1h-2zM50 114h1v1h-1zM49 115h1v1h-1zM48 116h2v1h-2zM48 117h2v1h-2zM47 118h2v1h-2zM47 119h2v1h-2zM47 120h2v1h-2zM47 121h2v1h-2zM47 122h2v1h-2zM47 123h2v1h-2z"/>
<path fill="#00ffea" d="M15 15h1v1h-1zM19 15h3v1h-3zM14 16h1v1h-1zM23 16h2v1h-2zM13 17h1v1h-1zM24 17h2v1h-2zM13 18h1v1h-1zM24 18h1v1h-1zM14 19h1v1h-1zM24 19h1v1h-1zM15 20h1v1h-1zM24 20h1v1h-1zM16 21h2v1h-2zM25 21h2v1h-2zM17 22h2v1h-2zM27 22h1v1h-1zM13 23h1v1h-1zM0 24h6v1h-6zM7 25h1v1h-1zM30 25h1v1h-1zM8 26h2v1h-2zM31 26h1v1h-1zM31 27h2v1h-2zM32 28h2v1h-2zM31 29h3v1h-3zM30 30h2v1h-2zM29 31h2v1h-2zM28 32h2v1h-2zM7 33h1v1h-1zM13 33h4v1h-4zM29 33h1v1h-1zM6 38h1v1h-1zM8 38h1v1h-1zM3 40h1v1h-1zM8 41h2v1h-2zM11 41h2v1h-2zM19 42h1v1h-1zM24 44h1v1h-1zM29 73h1v1h-1zM21 74h1v1h-1zM25 74h1v1h-1zM104 102h20v1h-20zM93 103h12v1h-12zM87 104h11v1h-11zM80 105h11v1h-11zM76 106h6v1h-6zM71 107h7v1h-7zM67 108h7v1h-7zM62 109h7v1h-7zM58 110h8v1h-8zM55 111h3v1h-3zM54 112h2v1h-2zM53 113h1v1h-1zM52 114h1v1h-1zM52 115h1v1h-1zM51 116h1v1h-1zM51 117h1v1h-1zM50 118h2v1h-2zM50 119h1v1h-1zM50 120h1v1h-1zM50 121h1v1h-1zM50 122h1v1h-1zM50 123h1v1h-1z"/>
<path fill="#00fff1" d="M16 15h3v1h-3zM15 16h2v1h-2zM20 16h3v1h-3zM14 17h2v1h-2zM22 17h2v1h-2zM14 18h2v1h-2zM23 18h1v1h-1zM15 19h2v1h-2zM23 19h1v1h-1zM16 20h2v1h-2zM23 20h1v1h-1zM18 21h2v1h-2zM23 21h2v1h-2zM19 22h3v1h-3zM25 22h2v1h-2zM14 23h5v1h-5zM28 23h1v1h-1zM29 24h1v1h-1zM6 25h1v1h-1zM12 25h1v1h-1zM29 25h1v1h-1zM7 26h1v1h-1zM30 26h1v1h-1zM9 27h3v1h-3zM30 27h1v1h-1zM10 28h1v1h-1zM30 28h2v1h-2zM30 29h1v1h-1zM0 31h3v1h-3zM28 31h1v1h-1zM14 32h1v1h-1zM27 32h1v1h-1zM17 33h4v1h-4zM28 33h1v1h-1zM21 34h1v1h-1zM24 35h1v1h-1zM31 35h1v1h-1zM7 38h1v1h-1zM0 39h3v1h-3zM11 39h1v1h-1zM4 40h1v1h-1zM10 41h1v1h-1zM18 42h1v1h-1zM22 43h1v1h-1zM27 65h1v1h-1zM29 68h1v1h-1zM18 73h1v1h-1zM22 74h3v1h-3zM105 103h19v1h-19zM98 104h8v1h-8zM91 105h10v1h-10zM82 106h14v1h-14zM78 107h10v1h-10zM74 108h6v1h-6zM69 109h7v1h-7zM66 110h5v1h-5zM58 111h10v1h-10zM56 112h10v1h-10zM54 113h2v1h-2zM53 114h2v1h-2zM53 115h1v1h-1zM52 116h1v1h-1zM52 117h1v1h-1zM52 118h1v1h-1zM51 119h2v1h-2zM51 120h1v1h-1zM51 121h1v1h-1zM51 122h1v1h-1zM51 123h1v1h-1z"/>
<path fill="#00ffe4" d="M22 15h1v1h-1zM13 16h1v1h-1zM25 16h1v1h-1zM12 17h1v1h-1zM26 17h2v1h-2zM12 18h1v1h-1zM25 18h2v1h-2zM13 19h1v1h-1zM14 20h1v1h-1zM25 20h1v1h-1zM15 21h1v1h-1zM27 21h1v1h-1zM16 22h1v1h-1zM28 22h1v1h-1zM29 23h1v1h-1zM6 24h1v1h-1zM12 24h1v1h-1zM30 24h1v1h-1zM8 25h1v1h-1zM31 25h1v1h-1zM10 26h2v1h-2zM32 26h1v1h-1zM33 27h2v1h-2zM34 28h3v1h-3zM34 29h3v1h-3zM32 30h3v1h-3zM31 31h1v1h-1zM30 32h1v1h-1zM30 33h1v1h-1zM9 34h1v1h-1zM12 34h1v1h-1zM20 34h1v1h-1zM31 34h1v1h-1zM23 35h1v1h-1zM0 40h3v1h-3zM7 41h1v1h-1zM13 41h1v1h-1zM20 42h1v1h-1zM23 43h1v1h-1zM30 57h1v1h-1zM27 64h1v1h-1zM17 70h1v1h-1zM20 74h1v1h-1zM106 100h18v1h-18zM102 101h22v1h-22zM91 102h13v1h-13zM84 103h9v1h-9zM77 104h10v1h-10zM72 105h8v1h-8zM68 106h8v1h-8zM64 107h7v1h-7zM61 108h6v1h-6zM58 109h4v1h-4zM55 110h3v1h-3zM53 111h2v1h-2zM52 112h2v1h-2zM52 113h1v1h-1zM51 114h1v1h-1zM50 115h2v1h-2zM50 116h1v1h-1zM50 117h1v1h-1zM49 118h1v1h-1zM49 119h1v1h-1zM49 120h1v1h-1zM49 121h1v1h-1zM49 122h1v1h-1zM49 123h1v1h-1z"/>
<path fill="#00fff7" d="M17 16h3v1h-3zM16 17h2v1h-2zM19 17h3v1h-3zM16 18h1v1h-1zM22 18h1v1h-1zM17 19h1v1h-1zM22 19h1v1h-1zM18 20h5v1h-5zM20 21h3v1h-3zM22 22h3v1h-3zM19 23h9v1h-9zM28 24h1v1h-1zM4 25h2v1h-2zM6 26h1v1h-1zM29 26h1v1h-1zM8 27h1v1h-1zM9 28h1v1h-1zM11 28h1v1h-1zM9 29h3v1h-3zM10 30h3v1h-3zM29 30h1v1h-1zM12 31h2v1h-2zM27 31h1v1h-1zM5 32h1v1h-1zM13 32h1v1h-1zM15 32h1v1h-1zM25 32h2v1h-2zM27 33h1v1h-1zM3 39h2v1h-2zM5 40h1v1h-1zM11 40h1v1h-1zM27 61h1v1h-1zM28 67h1v1h-1zM16 68h1v1h-1zM17 69h1v1h-1zM106 104h18v1h-18zM101 105h7v1h-7zM96 106h7v1h-7zM88 107h11v1h-11zM80 108h15v1h-15zM76 109h12v1h-12zM71 110h8v1h-8zM68 111h5v1h-5zM66 112h4v1h-4zM56 113h13v1h-13zM55 114h2v1h-2zM61 114h6v1h-6zM54 115h2v1h-2zM64 115h2v1h-2zM53 116h2v1h-2zM53 117h2v1h-2zM53 118h1v1h-1zM53 119h1v1h-1zM52 120h2v1h-2zM52 121h2v1h-2zM52 122h2v1h-2zM52 123h2v1h-2z"/>
<path fill="#00fffe" d="M18 17h1v1h-1zM17 18h5v1h-5zM18 19h4v1h-4zM25 24h3v1h-3zM0 25h4v1h-4zM28 25h1v1h-1zM7 27h1v1h-1zM29 27h1v1h-1zM8 28h1v1h-1zM12 28h1v1h-1zM12 29h1v1h-1zM13 30h1v1h-1zM28 30h1v1h-1zM11 31h1v1h-1zM14 31h1v1h-1zM26 31h1v1h-1zM16 32h5v1h-5zM23 32h2v1h-2zM26 33h1v1h-1zM10 34h2v1h-2zM22 34h1v1h-1zM30 34h1v1h-1zM25 35h6v1h-6zM5 39h6v1h-6zM6 40h4v1h-4zM11 67h3v1h-3zM29 69h1v1h-1zM29 71h1v1h-1zM18 72h1v1h-1zM29 72h1v1h-1zM28 73h1v1h-1zM108 105h16v1h-16zM103 106h8v1h-8zM116 106h8v1h-8zM99 107h6v1h-6zM95 108h6v1h-6zM88 109h10v1h-10zM79 110h14v1h-14zM73 111h17v1h-17zM70 112h6v1h-6zM69 113h3v1h-3zM57 114h4v1h-4zM67 114h4v1h-4zM56 115h8v1h-8zM66 115h4v1h-4zM55 116h3v1h-3zM60 116h9v1h-9zM55 117h1v1h-1zM62 117h7v1h-7zM54 118h2v1h-2zM62 118h6v1h-6zM54 119h2v1h-2zM63 119h5v1h-5zM54 120h2v1h-2zM63 120h5v1h-5zM54 121h2v1h-2zM63 121h5v1h-5zM54 122h2v1h-2zM63 122h5v1h-5zM54 123h2v1h-2zM63 123h5v1h-5z"/>
<path fill="#00ff25" d="M107 21h3v1h-3zM79 22h4v1h-4zM106 22h4v1h-4zM77 23h2v1h-2zM84 23h1v1h-1zM106 23h4v1h-4zM74 24h1v1h-1zM85 24h2v1h-2zM105 24h5v1h-5zM72 25h1v1h-1zM92 25h2v1h-2zM104 25h5v1h-5zM71 26h1v1h-1zM100 26h8v1h-8zM70 27h1v1h-1zM105 27h2v1h-2zM69 28h1v1h-1zM105 28h2v1h-2zM68 29h1v1h-1zM105 29h1v1h-1zM105 30h1v1h-1zM65 31h1v1h-1zM105 31h1v1h-1zM105 32h1v1h-1zM114 32h5v1h-5zM62 33h1v1h-1zM105 33h1v1h-1zM113 33h2v1h-2zM116 33h8v1h-8zM112 34h2v1h-2zM118 34h6v1h-6zM112 35h1v1h-1zM118 35h6v1h-6zM112 36h1v1h-1zM118 36h6v1h-6zM55 37h1v1h-1zM104 37h1v1h-1zM117 37h3v1h-3zM73 38h1v1h-1zM111 38h1v1h-1zM117 38h2v1h-2zM52 39h1v1h-1zM70 39h1v1h-1zM73 39h1v1h-1zM103 39h1v1h-1zM111 39h1v1h-1zM117 39h1v1h-1zM103 40h1v1h-1zM110 40h1v1h-1zM116 40h2v1h-2zM49 41h1v1h-1zM103 41h1v1h-1zM110 41h1v1h-1zM117 41h1v1h-1zM47 42h1v1h-1zM103 42h1v1h-1zM108 42h2v1h-2zM117 42h2v1h-2zM44 43h1v1h-1zM103 43h5v1h-5zM119 43h5v1h-5zM43 44h1v1h-1zM42 45h1v1h-1zM42 46h1v1h-1zM41 47h1v1h-1zM40 49h1v1h-1zM39 50h1v1h-1zM37 52h1v1h-1zM88 53h2v1h-2zM32 54h1v1h-1zM87 54h3v1h-3zM87 55h3v1h-3zM87 56h2v1h-2zM29 60h1v1h-1zM29 63h1v1h-1zM34 67h1v1h-1zM34 69h1v1h-1zM34 70h1v1h-1zM108 70h3v1h-3zM12 71h1v1h-1zM104 71h20v1h-20zM13 72h1v1h-1zM33 72h1v1h-1zM102 72h4v1h-4zM112 72h2v1h-2zM13 73h1v1h-1zM100 73h3v1h-3zM14 74h1v1h-1zM98 74h3v1h-3zM12 75h3v1h-3zM95 75h4v1h-4zM9 76h2v1h-2zM13 76h3v1h-3zM29 76h1v1h-1zM90 76h5v1h-5zM8 77h1v1h-1zM14 77h2v1h-2zM28 77h1v1h-1zM61 77h7v1h-7zM86 77h4v1h-4zM8 78h1v1h-1zM27 78h1v1h-1zM60 78h1v1h-1zM69 78h15v1h-15zM8 79h1v1h-1zM26 79h1v1h-1zM59 79h1v1h-1zM9 80h1v1h-1zM22 80h2v1h-2zM59 80h1v1h-1zM9 81h2v1h-2zM18 81h2v1h-2zM58 81h1v1h-1zM10 82h2v1h-2zM18 82h1v1h-1zM57 82h2v1h-2zM11 83h2v1h-2zM17 83h1v1h-1zM45 83h3v1h-3zM50 83h7v1h-7zM11 84h2v1h-2zM17 84h1v1h-1zM43 84h1v1h-1zM12 85h2v1h-2zM16 85h1v1h-1zM42 85h1v1h-1zM12 86h5v1h-5zM41 86h1v1h-1zM0 87h9v1h-9zM12 87h4v1h-4zM7 88h5v1h-5zM40 88h1v1h-1zM8 89h5v1h-5zM9 90h4v1h-4zM10 91h4v1h-4zM39 91h1v1h-1zM11 92h4v1h-4zM12 93h4v1h-4zM38 93h1v1h-1zM14 94h3v1h-3zM15 95h3v1h-3zM16 96h3v1h-3zM17 97h4v1h-4zM36 97h1v1h-1zM19 98h5v1h-5zM24 99h2v1h-2zM34 99h1v1h-1zM28 100h5v1h-5z"/>
<path fill="#00ff1a" d="M79 23h5v1h-5zM75 24h2v1h-2zM84 24h1v1h-1zM73 25h1v1h-1zM88 25h4v1h-4zM98 26h2v1h-2zM103 27h2v1h-2zM104 28h1v1h-1zM67 30h1v1h-1zM64 32h1v1h-1zM115 33h1v1h-1zM61 34h1v1h-1zM114 34h4v1h-4zM113 35h5v1h-5zM58 36h1v1h-1zM71 36h2v1h-2zM104 36h1v1h-1zM113 36h5v1h-5zM73 37h1v1h-1zM112 37h2v1h-2zM115 37h2v1h-2zM54 38h1v1h-1zM103 38h1v1h-1zM112 38h2v1h-2zM115 38h2v1h-2zM112 39h1v1h-1zM115 39h2v1h-2zM51 40h1v1h-1zM73 40h1v1h-1zM102 40h1v1h-1zM111 40h2v1h-2zM115 40h1v1h-1zM102 41h1v1h-1zM111 41h1v1h-1zM115 41h2v1h-2zM102 42h1v1h-1zM110 42h1v1h-1zM116 42h1v1h-1zM45 43h1v1h-1zM102 43h1v1h-1zM108 43h2v1h-2zM116 43h3v1h-3zM44 44h1v1h-1zM103 44h6v1h-6zM118 44h6v1h-6zM43 45h1v1h-1zM42 47h1v1h-1zM41 48h1v1h-1zM40 50h1v1h-1zM39 51h1v1h-1zM88 51h4v1h-4zM87 52h5v1h-5zM86 53h2v1h-2zM90 53h2v1h-2zM33 54h1v1h-1zM86 54h1v1h-1zM90 54h2v1h-2zM85 55h2v1h-2zM90 55h2v1h-2zM84 56h3v1h-3zM89 56h2v1h-2zM84 57h7v1h-7zM83 58h6v1h-6zM85 59h1v1h-1zM33 66h1v1h-1zM35 67h1v1h-1zM35 68h1v1h-1zM109 68h1v1h-1zM106 69h18v1h-18zM10 70h1v1h-1zM103 70h5v1h-5zM111 70h13v1h-13zM34 71h1v1h-1zM101 71h3v1h-3zM99 72h3v1h-3zM97 73h3v1h-3zM12 74h2v1h-2zM32 74h1v1h-1zM94 74h4v1h-4zM10 75h2v1h-2zM31 75h1v1h-1zM90 75h5v1h-5zM8 76h1v1h-1zM60 76h8v1h-8zM87 76h3v1h-3zM7 77h1v1h-1zM59 77h2v1h-2zM68 77h18v1h-18zM7 78h1v1h-1zM58 78h2v1h-2zM7 79h1v1h-1zM58 79h1v1h-1zM7 80h2v1h-2zM24 80h1v1h-1zM57 80h2v1h-2zM8 81h1v1h-1zM20 81h1v1h-1zM56 81h2v1h-2zM9 82h1v1h-1zM46 82h11v1h-11zM9 83h2v1h-2zM18 83h1v1h-1zM43 83h2v1h-2zM9 84h2v1h-2zM42 84h1v1h-1zM8 85h4v1h-4zM17 85h1v1h-1zM41 85h1v1h-1zM0 86h12v1h-12zM40 86h1v1h-1zM9 87h3v1h-3zM16 87h1v1h-1zM40 87h1v1h-1zM12 88h5v1h-5zM13 89h3v1h-3zM39 89h1v1h-1zM13 90h3v1h-3zM39 90h1v1h-1zM14 91h3v1h-3zM15 92h2v1h-2zM38 92h1v1h-1zM16 93h2v1h-2zM17 94h2v1h-2zM18 95h2v1h-2zM37 95h1v1h-1zM19 96h2v1h-2zM21 97h2v1h-2zM24 98h1v1h-1zM35 98h1v1h-1zM26 99h2v1h-2zM33 99h1v1h-1z"/>
<path fill="#00eeff" d="M13 24h1v1h-1zM22 24h1v1h-1zM26 25h1v1h-1zM28 26h1v1h-1zM6 27h1v1h-1zM12 27h1v1h-1zM7 28h1v1h-1zM13 28h1v1h-1zM29 28h1v1h-1zM8 29h1v1h-1zM14 29h1v1h-1zM29 29h1v1h-1zM9 30h1v1h-1zM15 30h1v1h-1zM27 30h1v1h-1zM16 31h2v1h-2zM22 31h2v1h-2zM12 32h1v1h-1zM12 33h1v1h-1zM22 33h1v1h-1zM24 34h4v1h-4zM0 42h3v1h-3zM17 42h1v1h-1zM25 46h1v1h-1zM28 48h1v1h-1zM7 67h2v1h-2zM15 67h1v1h-1zM28 68h1v1h-1zM18 70h1v1h-1zM28 71h1v1h-1zM28 72h1v1h-1zM21 73h5v1h-5zM109 108h15v1h-15zM104 109h20v1h-20zM101 110h18v1h-18zM96 111h11v1h-11zM110 111h3v1h-3zM93 112h9v1h-9zM90 113h6v1h-6zM75 114h4v1h-4zM87 114h6v1h-6zM73 115h18v1h-18zM72 116h16v1h-16zM71 117h15v1h-15zM71 118h14v1h-14zM71 119h4v1h-4zM78 119h6v1h-6zM58 120h2v1h-2zM71 120h4v1h-4zM79 120h5v1h-5zM58 121h2v1h-2zM71 121h4v1h-4zM79 121h5v1h-5zM58 122h2v1h-2zM71 122h4v1h-4zM79 122h5v1h-5zM58 123h2v1h-2zM71 123h4v1h-4zM79 123h5v1h-5z"/>
<path fill="#00dbff" d="M14 24h5v1h-5zM13 25h1v1h-1zM24 25h1v1h-1zM0 26h4v1h-4zM27 26h1v1h-1zM14 28h1v1h-1zM15 29h1v1h-1zM17 30h1v1h-1zM26 30h1v1h-1zM4 31h1v1h-1zM9 33h1v1h-1zM27 49h1v1h-1zM30 53h1v1h-1zM26 65h1v1h-1zM8 66h5v1h-5zM26 66h1v1h-1zM26 67h1v1h-1zM26 68h1v1h-1zM26 69h1v1h-1zM19 70h2v1h-2zM24 70h3v1h-3zM20 71h6v1h-6zM22 72h2v1h-2zM120 113h4v1h-4zM104 114h7v1h-7zM115 114h9v1h-9zM100 115h24v1h-24zM97 116h8v1h-8zM111 116h4v1h-4zM95 117h7v1h-7zM94 118h7v1h-7zM92 119h8v1h-8zM90 120h10v1h-10zM90 121h10v1h-10zM90 122h10v1h-10zM90 123h10v1h-10z"/>
<path fill="#00e5ff" d="M19 24h3v1h-3zM25 25h1v1h-1zM4 26h1v1h-1zM16 30h1v1h-1zM10 31h1v1h-1zM18 31h4v1h-4zM6 32h1v1h-1zM20 43h1v1h-1zM0 67h7v1h-7zM27 67h1v1h-1zM17 68h1v1h-1zM27 68h1v1h-1zM18 69h1v1h-1zM27 69h2v1h-2zM27 70h2v1h-2zM19 71h1v1h-1zM26 71h2v1h-2zM19 72h3v1h-3zM24 72h4v1h-4zM119 110h5v1h-5zM107 111h3v1h-3zM113 111h11v1h-11zM102 112h22v1h-22zM96 113h24v1h-24zM93 114h11v1h-11zM111 114h4v1h-4zM91 115h9v1h-9zM88 116h9v1h-9zM86 117h9v1h-9zM85 118h9v1h-9zM75 119h3v1h-3zM84 119h8v1h-8zM75 120h4v1h-4zM84 120h6v1h-6zM75 121h4v1h-4zM84 121h6v1h-6zM75 122h4v1h-4zM84 122h6v1h-6zM75 123h4v1h-4zM84 123h6v1h-6z"/>
<path fill="#00f7ff" d="M23 24h2v1h-2zM27 25h1v1h-1zM5 26h1v1h-1zM12 26h1v1h-1zM13 29h1v1h-1zM14 30h1v1h-1zM3 31h1v1h-1zM15 31h1v1h-1zM24 31h2v1h-2zM21 32h2v1h-2zM8 33h1v1h-1zM21 33h1v1h-1zM23 33h3v1h-3zM23 34h1v1h-1zM28 34h2v1h-2zM10 40h1v1h-1zM21 43h1v1h-1zM23 44h1v1h-1zM24 45h1v1h-1zM27 66h1v1h-1zM9 67h2v1h-2zM14 67h1v1h-1zM29 70h1v1h-1zM18 71h1v1h-1zM19 73h2v1h-2zM26 73h2v1h-2zM111 106h5v1h-5zM105 107h19v1h-19zM101 108h8v1h-8zM98 109h6v1h-6zM93 110h8v1h-8zM90 111h6v1h-6zM76 112h17v1h-17zM72 113h18v1h-18zM71 114h4v1h-4zM79 114h8v1h-8zM70 115h3v1h-3zM58 116h2v1h-2zM69 116h3v1h-3zM56 117h6v1h-6zM69 117h2v1h-2zM56 118h6v1h-6zM68 118h3v1h-3zM56 119h7v1h-7zM68 119h3v1h-3zM56 120h2v1h-2zM60 120h3v1h-3zM68 120h3v1h-3zM56 121h2v1h-2zM60 121h3v1h-3zM68 121h3v1h-3zM56 122h2v1h-2zM60 122h3v1h-3zM68 122h3v1h-3zM56 123h2v1h-2zM60 123h3v1h-3zM68 123h3v1h-3z"/>
<path fill="#00ff0e" d="M77 24h7v1h-7zM74 25h1v1h-1zM84 25h4v1h-4zM72 26h1v1h-1zM97 26h1v1h-1zM71 27h1v1h-1zM101 27h2v1h-2zM70 28h1v1h-1zM103 28h1v1h-1zM69 29h1v1h-1zM104 29h1v1h-1zM68 30h1v1h-1zM104 30h1v1h-1zM66 31h1v1h-1zM104 31h1v1h-1zM104 32h1v1h-1zM104 33h1v1h-1zM104 34h1v1h-1zM60 35h1v1h-1zM104 35h1v1h-1zM73 36h1v1h-1zM56 37h1v1h-1zM114 37h1v1h-1zM114 38h1v1h-1zM53 39h1v1h-1zM102 39h1v1h-1zM113 39h2v1h-2zM113 40h2v1h-2zM50 41h1v1h-1zM73 41h1v1h-1zM101 41h1v1h-1zM112 41h3v1h-3zM48 42h1v1h-1zM72 42h1v1h-1zM101 42h1v1h-1zM111 42h5v1h-5zM46 43h1v1h-1zM101 43h1v1h-1zM110 43h6v1h-6zM101 44h2v1h-2zM109 44h3v1h-3zM115 44h3v1h-3zM102 45h8v1h-8zM117 45h7v1h-7zM43 46h1v1h-1zM42 48h1v1h-1zM94 48h3v1h-3zM41 49h1v1h-1zM92 49h4v1h-4zM88 50h7v1h-7zM86 51h2v1h-2zM92 51h2v1h-2zM86 52h1v1h-1zM92 52h2v1h-2zM85 53h1v1h-1zM92 53h2v1h-2zM34 54h2v1h-2zM84 54h2v1h-2zM92 54h1v1h-1zM84 55h1v1h-1zM92 55h1v1h-1zM83 56h1v1h-1zM91 56h2v1h-2zM82 57h2v1h-2zM91 57h2v1h-2zM82 58h1v1h-1zM89 58h3v1h-3zM82 59h3v1h-3zM86 59h5v1h-5zM83 60h5v1h-5zM29 61h1v1h-1zM29 62h1v1h-1zM34 66h2v1h-2zM108 66h3v1h-3zM106 67h18v1h-18zM105 68h4v1h-4zM110 68h14v1h-14zM35 69h1v1h-1zM103 69h3v1h-3zM0 70h10v1h-10zM35 70h1v1h-1zM100 70h3v1h-3zM11 71h1v1h-1zM97 71h4v1h-4zM12 72h1v1h-1zM34 72h1v1h-1zM95 72h4v1h-4zM12 73h1v1h-1zM33 73h1v1h-1zM90 73h7v1h-7zM11 74h1v1h-1zM87 74h7v1h-7zM8 75h2v1h-2zM61 75h8v1h-8zM85 75h5v1h-5zM7 76h1v1h-1zM30 76h1v1h-1zM59 76h1v1h-1zM68 76h19v1h-19zM6 77h1v1h-1zM29 77h1v1h-1zM58 77h1v1h-1zM5 78h2v1h-2zM28 78h1v1h-1zM57 78h1v1h-1zM6 79h1v1h-1zM27 79h1v1h-1zM56 79h2v1h-2zM6 80h1v1h-1zM25 80h1v1h-1zM55 80h2v1h-2zM7 81h1v1h-1zM21 81h1v1h-1zM47 81h9v1h-9zM7 82h2v1h-2zM19 82h1v1h-1zM44 82h2v1h-2zM7 83h2v1h-2zM42 83h1v1h-1zM0 84h9v1h-9zM41 84h1v1h-1zM0 85h8v1h-8zM40 85h1v1h-1zM17 86h1v1h-1zM17 87h1v1h-1zM17 88h1v1h-1zM39 88h1v1h-1zM16 89h2v1h-2zM16 90h2v1h-2zM17 91h1v1h-1zM38 91h1v1h-1zM17 92h1v1h-1zM18 93h1v1h-1zM19 94h1v1h-1zM37 94h1v1h-1zM20 95h1v1h-1zM21 96h1v1h-1zM36 96h1v1h-1zM23 97h1v1h-1zM35 97h1v1h-1zM25 98h1v1h-1zM34 98h1v1h-1zM28 99h1v1h-1zM32 99h1v1h-1z"/>
<path fill="#00caff" d="M14 25h9v1h-9zM14 26h3v1h-3zM25 26h2v1h-2zM14 27h1v1h-1zM27 27h1v1h-1zM6 28h1v1h-1zM15 28h1v1h-1zM27 28h2v1h-2zM4 29h3v1h-3zM17 29h1v1h-1zM26 29h2v1h-2zM3 30h5v1h-5zM8 31h1v1h-1zM10 65h5v1h-5zM25 67h1v1h-1zM18 68h1v1h-1zM20 69h4v1h-4zM107 118h2v1h-2zM117 118h7v1h-7zM105 119h19v1h-19zM104 120h20v1h-20zM104 121h20v1h-20zM104 122h20v1h-20zM104 123h20v1h-20z"/>
<path fill="#00d2ff" d="M23 25h1v1h-1zM13 26h1v1h-1zM5 27h1v1h-1zM13 27h1v1h-1zM28 27h1v1h-1zM7 29h1v1h-1zM16 29h1v1h-1zM28 29h1v1h-1zM0 30h3v1h-3zM8 30h1v1h-1zM18 30h8v1h-8zM5 31h3v1h-3zM9 31h1v1h-1zM7 32h5v1h-5zM10 33h2v1h-2zM3 42h1v1h-1zM22 44h1v1h-1zM27 47h1v1h-1zM26 64h1v1h-1zM7 66h1v1h-1zM13 66h3v1h-3zM16 67h1v1h-1zM25 68h1v1h-1zM19 69h1v1h-1zM24 69h2v1h-2zM21 70h3v1h-3zM105 116h6v1h-6zM115 116h9v1h-9zM102 117h22v1h-22zM101 118h6v1h-6zM109 118h8v1h-8zM100 119h5v1h-5zM100 120h4v1h-4zM100 121h4v1h-4zM100 122h4v1h-4zM100 123h4v1h-4z"/>
<path fill="#00ff02" d="M75 25h2v1h-2zM80 25h4v1h-4zM73 26h1v1h-1zM95 26h2v1h-2zM72 27h1v1h-1zM100 27h1v1h-1zM71 28h1v1h-1zM102 28h1v1h-1zM70 29h1v1h-1zM103 29h1v1h-1zM69 30h1v1h-1zM67 31h1v1h-1zM65 32h1v1h-1zM63 33h1v1h-1zM71 35h3v1h-3zM70 36h1v1h-1zM57 37h1v1h-1zM103 37h1v1h-1zM55 38h1v1h-1zM52 40h1v1h-1zM101 40h1v1h-1zM69 41h1v1h-1zM100 41h1v1h-1zM100 42h1v1h-1zM47 43h1v1h-1zM100 43h1v1h-1zM45 44h1v1h-1zM99 44h2v1h-2zM112 44h3v1h-3zM44 45h1v1h-1zM98 45h4v1h-4zM110 45h7v1h-7zM95 46h29v1h-29zM43 47h1v1h-1zM93 47h31v1h-31zM91 48h3v1h-3zM97 48h5v1h-5zM108 48h10v1h-10zM42 49h1v1h-1zM87 49h5v1h-5zM96 49h5v1h-5zM109 49h8v1h-8zM41 50h1v1h-1zM85 50h3v1h-3zM95 50h7v1h-7zM108 50h10v1h-10zM85 51h1v1h-1zM94 51h30v1h-30zM84 52h2v1h-2zM94 52h30v1h-30zM84 53h1v1h-1zM94 53h2v1h-2zM98 53h26v1h-26zM83 54h1v1h-1zM93 54h3v1h-3zM97 54h27v1h-27zM32 55h1v1h-1zM82 55h2v1h-2zM93 55h31v1h-31zM82 56h1v1h-1zM93 56h31v1h-31zM81 57h1v1h-1zM93 57h31v1h-31zM80 58h2v1h-2zM92 58h32v1h-32zM80 59h2v1h-2zM91 59h33v1h-33zM81 60h2v1h-2zM88 60h8v1h-8zM105 60h19v1h-19zM82 61h12v1h-12zM106 61h18v1h-18zM106 62h18v1h-18zM106 63h18v1h-18zM106 64h18v1h-18zM106 65h18v1h-18zM36 66h1v1h-1zM105 66h3v1h-3zM111 66h13v1h-13zM36 67h1v1h-1zM104 67h2v1h-2zM36 68h1v1h-1zM102 68h3v1h-3zM36 69h1v1h-1zM98 69h5v1h-5zM76 70h24v1h-24zM10 71h1v1h-1zM35 71h1v1h-1zM74 71h23v1h-23zM11 72h1v1h-1zM74 72h21v1h-21zM11 73h1v1h-1zM65 73h4v1h-4zM72 73h18v1h-18zM9 74h2v1h-2zM33 74h1v1h-1zM61 74h26v1h-26zM7 75h1v1h-1zM32 75h1v1h-1zM59 75h2v1h-2zM69 75h16v1h-16zM5 76h2v1h-2zM31 76h1v1h-1zM57 76h2v1h-2zM0 77h6v1h-6zM56 77h2v1h-2zM0 78h5v1h-5zM55 78h2v1h-2zM0 79h6v1h-6zM28 79h1v1h-1zM54 79h2v1h-2zM0 80h6v1h-6zM26 80h1v1h-1zM48 80h7v1h-7zM4 81h3v1h-3zM22 81h2v1h-2zM45 81h2v1h-2zM0 82h7v1h-7zM43 82h1v1h-1zM0 83h7v1h-7zM41 83h1v1h-1zM18 84h1v1h-1zM40 84h1v1h-1zM39 86h1v1h-1zM39 87h1v1h-1zM38 89h1v1h-1zM38 90h1v1h-1zM18 91h1v1h-1zM18 92h1v1h-1zM37 93h1v1h-1zM22 96h1v1h-1zM24 97h1v1h-1zM26 98h1v1h-1zM29 99h3v1h-3z"/>
<path fill="#0eff00" d="M77 25h3v1h-3zM74 26h1v1h-1zM80 26h15v1h-15zM73 27h1v1h-1zM82 27h2v1h-2zM98 27h2v1h-2zM72 28h1v1h-1zM101 28h1v1h-1zM71 29h1v1h-1zM102 29h1v1h-1zM70 30h1v1h-1zM103 30h1v1h-1zM68 31h2v1h-2zM103 31h1v1h-1zM66 32h1v1h-1zM62 34h1v1h-1zM71 34h3v1h-3zM70 35h1v1h-1zM74 35h1v1h-1zM103 35h1v1h-1zM59 36h1v1h-1zM74 36h1v1h-1zM103 36h1v1h-1zM74 37h1v1h-1zM74 38h1v1h-1zM102 38h1v1h-1zM54 39h1v1h-1zM74 39h1v1h-1zM101 39h1v1h-1zM100 40h1v1h-1zM51 41h1v1h-1zM49 42h1v1h-1zM73 42h1v1h-1zM99 42h1v1h-1zM98 43h2v1h-2zM46 44h1v1h-1zM97 44h2v1h-2zM45 45h1v1h-1zM95 45h3v1h-3zM44 46h1v1h-1zM93 46h2v1h-2zM90 47h3v1h-3zM43 48h1v1h-1zM84 48h7v1h-7zM102 48h6v1h-6zM118 48h6v1h-6zM83 49h4v1h-4zM101 49h8v1h-8zM117 49h7v1h-7zM83 50h2v1h-2zM102 50h6v1h-6zM118 50h6v1h-6zM40 51h1v1h-1zM83 51h2v1h-2zM38 52h1v1h-1zM83 52h1v1h-1zM82 53h2v1h-2zM96 53h2v1h-2zM82 54h1v1h-1zM96 54h1v1h-1zM33 55h2v1h-2zM81 55h1v1h-1zM80 56h2v1h-2zM31 57h1v1h-1zM79 57h2v1h-2zM79 58h1v1h-1zM30 59h1v1h-1zM79 59h1v1h-1zM79 60h2v1h-2zM96 60h9v1h-9zM79 61h3v1h-3zM94 61h12v1h-12zM81 62h17v1h-17zM103 62h3v1h-3zM85 63h12v1h-12zM103 63h3v1h-3zM87 64h9v1h-9zM104 64h2v1h-2zM88 65h8v1h-8zM103 65h3v1h-3zM37 66h1v1h-1zM87 66h10v1h-10zM102 66h3v1h-3zM37 67h1v1h-1zM76 67h4v1h-4zM86 67h18v1h-18zM74 68h28v1h-28zM73 69h25v1h-25zM36 70h1v1h-1zM71 70h5v1h-5zM0 71h10v1h-10zM67 71h7v1h-7zM9 72h2v1h-2zM35 72h1v1h-1zM64 72h10v1h-10zM8 73h3v1h-3zM34 73h1v1h-1zM62 73h3v1h-3zM69 73h3v1h-3zM6 74h3v1h-3zM60 74h1v1h-1zM0 75h7v1h-7zM33 75h1v1h-1zM58 75h1v1h-1zM0 76h5v1h-5zM56 76h1v1h-1zM30 77h1v1h-1zM55 77h1v1h-1zM29 78h1v1h-1zM53 78h2v1h-2zM29 79h1v1h-1zM48 79h6v1h-6zM27 80h2v1h-2zM46 80h2v1h-2zM0 81h4v1h-4zM24 81h2v1h-2zM43 81h2v1h-2zM20 82h1v1h-1zM41 82h2v1h-2zM40 83h1v1h-1zM39 85h1v1h-1zM38 87h1v1h-1zM38 88h1v1h-1zM18 90h1v1h-1zM37 92h1v1h-1zM19 93h1v1h-1zM36 95h1v1h-1zM33 98h1v1h-1z"/>
<path fill="#00c2ff" d="M17 26h8v1h-8zM0 27h5v1h-5zM15 27h12v1h-12zM0 28h6v1h-6zM16 28h11v1h-11zM0 29h4v1h-4zM18 29h8v1h-8zM19 43h1v1h-1zM9 65h1v1h-1zM15 65h1v1h-1zM6 66h1v1h-1zM17 67h1v1h-1zM19 68h1v1h-1zM24 68h1v1h-1z"/>
<path fill="#1fff00" d="M75 26h5v1h-5zM74 27h1v1h-1zM79 27h3v1h-3zM84 27h3v1h-3zM96 27h2v1h-2zM73 28h1v1h-1zM81 28h4v1h-4zM100 28h1v1h-1zM72 29h1v1h-1zM101 29h1v1h-1zM71 30h1v1h-1zM102 30h1v1h-1zM70 31h2v1h-2zM67 32h5v1h-5zM103 32h1v1h-1zM64 33h1v1h-1zM70 33h5v1h-5zM103 33h1v1h-1zM70 34h1v1h-1zM74 34h2v1h-2zM103 34h1v1h-1zM61 35h1v1h-1zM75 35h1v1h-1zM69 36h1v1h-1zM75 36h1v1h-1zM102 37h1v1h-1zM56 38h1v1h-1zM101 38h1v1h-1zM100 39h1v1h-1zM53 40h1v1h-1zM74 40h1v1h-1zM99 40h1v1h-1zM99 41h1v1h-1zM50 42h1v1h-1zM98 42h1v1h-1zM48 43h1v1h-1zM97 43h1v1h-1zM95 44h2v1h-2zM93 45h2v1h-2zM83 46h3v1h-3zM90 46h3v1h-3zM44 47h1v1h-1zM82 47h8v1h-8zM81 48h3v1h-3zM43 49h1v1h-1zM81 49h2v1h-2zM81 50h2v1h-2zM81 51h2v1h-2zM81 52h2v1h-2zM81 53h1v1h-1zM36 54h1v1h-1zM80 54h2v1h-2zM35 55h2v1h-2zM79 55h2v1h-2zM32 56h1v1h-1zM78 56h2v1h-2zM77 57h2v1h-2zM31 58h1v1h-1zM77 58h2v1h-2zM76 59h3v1h-3zM76 60h3v1h-3zM76 61h3v1h-3zM76 62h5v1h-5zM98 62h5v1h-5zM76 63h9v1h-9zM97 63h6v1h-6zM76 64h11v1h-11zM96 64h8v1h-8zM31 65h1v1h-1zM75 65h13v1h-13zM96 65h7v1h-7zM74 66h13v1h-13zM97 66h5v1h-5zM73 67h3v1h-3zM80 67h6v1h-6zM37 68h1v1h-1zM71 68h3v1h-3zM69 69h4v1h-4zM66 70h5v1h-5zM36 71h1v1h-1zM64 71h3v1h-3zM0 72h9v1h-9zM62 72h2v1h-2zM0 73h8v1h-8zM35 73h1v1h-1zM61 73h1v1h-1zM0 74h6v1h-6zM34 74h1v1h-1zM59 74h1v1h-1zM57 75h1v1h-1zM32 76h2v1h-2zM55 76h1v1h-1zM31 77h1v1h-1zM53 77h2v1h-2zM30 78h1v1h-1zM49 78h4v1h-4zM30 79h1v1h-1zM46 79h2v1h-2zM29 80h1v1h-1zM44 80h2v1h-2zM26 81h2v1h-2zM42 81h1v1h-1zM21 82h1v1h-1zM40 82h1v1h-1zM19 83h1v1h-1zM39 83h1v1h-1zM39 84h1v1h-1zM18 85h1v1h-1zM38 85h1v1h-1zM38 86h1v1h-1zM18 88h1v1h-1zM18 89h1v1h-1zM37 89h1v1h-1zM37 90h1v1h-1zM37 91h1v1h-1zM20 94h1v1h-1zM21 95h1v1h-1zM23 96h1v1h-1zM35 96h1v1h-1zM25 97h1v1h-1zM34 97h1v1h-1zM27 98h1v1h-1z"/>
<path fill="#31ff00" d="M75 27h4v1h-4zM87 27h1v1h-1zM95 27h1v1h-1zM74 28h1v1h-1zM79 28h2v1h-2zM85 28h1v1h-1zM99 28h1v1h-1zM73 29h1v1h-1zM80 29h5v1h-5zM72 30h2v1h-2zM80 30h3v1h-3zM72 31h2v1h-2zM102 31h1v1h-1zM72 32h5v1h-5zM65 33h5v1h-5zM75 33h3v1h-3zM63 34h1v1h-1zM69 34h1v1h-1zM76 34h1v1h-1zM69 35h1v1h-1zM76 35h1v1h-1zM102 36h1v1h-1zM58 37h1v1h-1zM70 37h1v1h-1zM75 37h1v1h-1zM55 39h1v1h-1zM52 41h1v1h-1zM74 41h1v1h-1zM98 41h1v1h-1zM97 42h1v1h-1zM73 43h1v1h-1zM96 43h1v1h-1zM47 44h1v1h-1zM94 44h1v1h-1zM46 45h1v1h-1zM83 45h4v1h-4zM91 45h2v1h-2zM45 46h1v1h-1zM81 46h2v1h-2zM86 46h4v1h-4zM80 47h2v1h-2zM79 48h2v1h-2zM79 49h2v1h-2zM79 50h2v1h-2zM79 51h2v1h-2zM79 52h2v1h-2zM79 53h2v1h-2zM78 54h2v1h-2zM37 55h1v1h-1zM77 55h2v1h-2zM33 56h1v1h-1zM75 56h3v1h-3zM73 57h4v1h-4zM73 58h4v1h-4zM73 59h3v1h-3zM73 60h3v1h-3zM73 61h3v1h-3zM73 62h3v1h-3zM73 63h3v1h-3zM73 64h3v1h-3zM37 65h2v1h-2zM73 65h2v1h-2zM38 66h1v1h-1zM72 66h2v1h-2zM70 67h3v1h-3zM68 68h3v1h-3zM37 69h1v1h-1zM66 69h3v1h-3zM37 70h1v1h-1zM64 70h2v1h-2zM63 71h1v1h-1zM36 72h1v1h-1zM60 73h1v1h-1zM35 74h1v1h-1zM58 74h1v1h-1zM34 75h1v1h-1zM56 75h1v1h-1zM54 76h1v1h-1zM32 77h1v1h-1zM51 77h2v1h-2zM31 78h1v1h-1zM47 78h2v1h-2zM31 79h1v1h-1zM45 79h1v1h-1zM30 80h1v1h-1zM43 80h1v1h-1zM28 81h2v1h-2zM41 81h1v1h-1zM39 82h1v1h-1zM38 84h1v1h-1zM18 86h1v1h-1zM18 87h1v1h-1zM37 87h1v1h-1zM37 88h1v1h-1zM19 92h1v1h-1zM36 94h1v1h-1zM24 96h1v1h-1z"/>
<path fill="#3dff00" d="M88 27h2v1h-2zM93 27h2v1h-2zM75 28h1v1h-1zM78 28h1v1h-1zM86 28h1v1h-1zM98 28h1v1h-1zM74 29h1v1h-1zM79 29h1v1h-1zM100 29h1v1h-1zM74 30h1v1h-1zM79 30h1v1h-1zM83 30h1v1h-1zM101 30h1v1h-1zM74 31h9v1h-9zM77 32h3v1h-3zM102 32h1v1h-1zM78 33h1v1h-1zM68 34h1v1h-1zM77 34h1v1h-1zM102 35h1v1h-1zM60 36h1v1h-1zM101 37h1v1h-1zM100 38h1v1h-1zM99 39h1v1h-1zM69 40h1v1h-1zM98 40h1v1h-1zM97 41h1v1h-1zM71 42h1v1h-1zM49 43h1v1h-1zM95 43h1v1h-1zM84 44h3v1h-3zM92 44h2v1h-2zM82 45h1v1h-1zM87 45h4v1h-4zM79 47h1v1h-1zM44 48h1v1h-1zM78 49h1v1h-1zM42 50h1v1h-1zM78 50h1v1h-1zM78 51h1v1h-1zM78 52h1v1h-1zM78 53h1v1h-1zM77 54h1v1h-1zM38 55h1v1h-1zM74 55h3v1h-3zM73 56h2v1h-2zM32 57h1v1h-1zM72 57h1v1h-1zM72 58h1v1h-1zM72 59h1v1h-1zM72 60h1v1h-1zM72 61h1v1h-1zM72 62h1v1h-1zM72 63h1v1h-1zM72 64h1v1h-1zM71 65h2v1h-2zM71 66h1v1h-1zM38 67h1v1h-1zM69 67h1v1h-1zM67 68h1v1h-1zM65 69h1v1h-1zM63 70h1v1h-1zM37 71h1v1h-1zM62 71h1v1h-1zM61 72h1v1h-1zM36 73h1v1h-1zM35 75h1v1h-1zM34 76h1v1h-1zM53 76h1v1h-1zM33 77h1v1h-1zM50 77h1v1h-1zM32 78h1v1h-1zM46 78h1v1h-1zM44 79h1v1h-1zM42 80h1v1h-1zM30 81h1v1h-1zM40 81h1v1h-1zM22 82h1v1h-1zM27 82h2v1h-2zM38 83h1v1h-1zM37 85h1v1h-1zM37 86h1v1h-1zM22 95h1v1h-1zM26 97h1v1h-1zM28 98h1v1h-1zM32 98h1v1h-1z"/>
<path fill="#45ff00" d="M90 27h3v1h-3zM76 28h2v1h-2zM97 28h1v1h-1zM75 29h4v1h-4zM85 29h1v1h-1zM99 29h1v1h-1zM75 30h4v1h-4zM84 30h1v1h-1zM83 31h1v1h-1zM80 32h2v1h-2zM79 33h1v1h-1zM102 33h1v1h-1zM78 34h1v1h-1zM102 34h1v1h-1zM68 35h1v1h-1zM77 35h1v1h-1zM68 36h1v1h-1zM76 36h1v1h-1zM57 38h1v1h-1zM75 38h1v1h-1zM54 40h1v1h-1zM51 42h1v1h-1zM74 42h1v1h-1zM96 42h1v1h-1zM72 43h1v1h-1zM94 43h1v1h-1zM83 44h1v1h-1zM87 44h2v1h-2zM91 44h1v1h-1zM80 46h1v1h-1zM78 48h1v1h-1zM77 51h1v1h-1zM77 52h1v1h-1zM36 53h1v1h-1zM76 53h2v1h-2zM75 54h2v1h-2zM39 55h1v1h-1zM73 55h1v1h-1zM34 56h1v1h-1zM72 56h1v1h-1zM71 57h1v1h-1zM71 58h1v1h-1zM31 59h1v1h-1zM71 59h1v1h-1zM71 60h1v1h-1zM71 61h1v1h-1zM71 62h1v1h-1zM71 63h1v1h-1zM71 64h1v1h-1zM70 66h1v1h-1zM68 67h1v1h-1zM38 68h1v1h-1zM66 68h1v1h-1zM64 69h1v1h-1zM37 72h1v1h-1zM36 74h1v1h-1zM57 74h1v1h-1zM55 75h1v1h-1zM52 76h1v1h-1zM34 77h1v1h-1zM49 77h1v1h-1zM33 78h1v1h-1zM32 79h1v1h-1zM31 80h1v1h-1zM41 80h1v1h-1zM39 81h1v1h-1zM23 82h1v1h-1zM25 82h2v1h-2zM29 82h1v1h-1zM38 82h1v1h-1zM37 84h1v1h-1zM36 88h1v1h-1zM36 89h1v1h-1zM19 91h1v1h-1zM20 93h1v1h-1zM36 93h1v1h-1zM29 98h1v1h-1z"/>
<path fill="#4eff00" d="M87 28h1v1h-1zM96 28h1v1h-1zM85 30h1v1h-1zM100 30h1v1h-1zM84 31h1v1h-1zM101 31h1v1h-1zM82 32h1v1h-1zM80 33h2v1h-2zM64 34h1v1h-1zM67 34h1v1h-1zM79 34h1v1h-1zM62 35h1v1h-1zM101 36h1v1h-1zM100 37h1v1h-1zM99 38h1v1h-1zM75 39h1v1h-1zM98 39h1v1h-1zM97 40h1v1h-1zM95 42h1v1h-1zM84 43h4v1h-4zM93 43h1v1h-1zM48 44h1v1h-1zM82 44h1v1h-1zM89 44h2v1h-2zM81 45h1v1h-1zM46 46h1v1h-1zM79 46h1v1h-1zM78 47h1v1h-1zM77 49h1v1h-1zM77 50h1v1h-1zM76 52h1v1h-1zM75 53h1v1h-1zM73 54h2v1h-2zM72 55h1v1h-1zM35 56h2v1h-2zM71 56h1v1h-1zM32 58h1v1h-1zM70 58h1v1h-1zM70 59h1v1h-1zM70 60h1v1h-1zM70 61h1v1h-1zM70 63h1v1h-1zM38 64h1v1h-1zM70 64h1v1h-1zM36 65h1v1h-1zM70 65h1v1h-1zM68 66h2v1h-2zM67 67h1v1h-1zM65 68h1v1h-1zM38 69h1v1h-1zM37 73h1v1h-1zM59 73h1v1h-1zM35 76h1v1h-1zM48 77h1v1h-1zM34 78h1v1h-1zM45 78h1v1h-1zM33 79h1v1h-1zM43 79h1v1h-1zM32 80h1v1h-1zM31 81h1v1h-1zM24 82h1v1h-1zM30 82h1v1h-1zM20 83h1v1h-1zM37 83h1v1h-1zM19 84h1v1h-1zM36 86h1v1h-1zM36 87h1v1h-1zM19 90h1v1h-1zM21 94h1v1h-1zM35 95h1v1h-1zM25 96h1v1h-1zM33 97h1v1h-1zM30 98h2v1h-2z"/>
<path fill="#56ff00" d="M88 28h1v1h-1zM95 28h1v1h-1zM86 29h1v1h-1zM98 29h1v1h-1zM83 32h1v1h-1zM82 33h1v1h-1zM65 34h2v1h-2zM80 34h1v1h-1zM78 35h1v1h-1zM101 35h1v1h-1zM59 37h1v1h-1zM68 37h1v1h-1zM76 37h1v1h-1zM56 39h1v1h-1zM53 41h1v1h-1zM96 41h1v1h-1zM84 42h3v1h-3zM74 43h1v1h-1zM83 43h1v1h-1zM88 43h5v1h-5zM73 44h1v1h-1zM47 45h1v1h-1zM45 47h1v1h-1zM77 48h1v1h-1zM76 50h1v1h-1zM76 51h1v1h-1zM75 52h1v1h-1zM74 53h1v1h-1zM40 54h1v1h-1zM72 54h1v1h-1zM40 55h1v1h-1zM71 55h1v1h-1zM37 56h2v1h-2zM70 56h1v1h-1zM33 57h1v1h-1zM70 57h1v1h-1zM70 62h1v1h-1zM30 64h1v1h-1zM39 64h1v1h-1zM69 64h1v1h-1zM39 65h1v1h-1zM69 65h1v1h-1zM67 66h1v1h-1zM66 67h1v1h-1zM64 68h1v1h-1zM63 69h1v1h-1zM38 70h1v1h-1zM62 70h1v1h-1zM61 71h1v1h-1zM60 72h1v1h-1zM36 75h1v1h-1zM54 75h1v1h-1zM51 76h1v1h-1zM35 77h1v1h-1zM47 77h1v1h-1zM44 78h1v1h-1zM34 79h1v1h-1zM42 79h1v1h-1zM33 80h1v1h-1zM40 80h1v1h-1zM32 81h1v1h-1zM38 81h1v1h-1zM31 82h1v1h-1zM37 82h1v1h-1zM36 84h1v1h-1zM36 85h1v1h-1zM19 89h1v1h-1zM36 90h1v1h-1zM36 91h1v1h-1zM36 92h1v1h-1zM23 95h1v1h-1zM34 96h1v1h-1zM27 97h1v1h-1z"/>
<path fill="#65ff00" d="M89 28h2v1h-2zM93 28h1v1h-1zM86 31h1v1h-1zM100 31h1v1h-1zM85 32h1v1h-1zM84 33h1v1h-1zM101 33h1v1h-1zM82 34h1v1h-1zM101 34h1v1h-1zM67 35h1v1h-1zM80 35h1v1h-1zM90 35h5v1h-5zM61 36h1v1h-1zM89 36h5v1h-5zM98 37h1v1h-1zM70 38h1v1h-1zM97 38h1v1h-1zM96 39h1v1h-1zM85 40h3v1h-3zM84 41h1v1h-1zM87 41h2v1h-2zM83 42h1v1h-1zM89 42h5v1h-5zM50 43h1v1h-1zM82 43h1v1h-1zM76 48h1v1h-1zM75 51h1v1h-1zM39 52h1v1h-1zM74 52h1v1h-1zM72 53h1v1h-1zM40 56h1v1h-1zM34 57h1v1h-1zM69 57h1v1h-1zM39 63h1v1h-1zM68 64h1v1h-1zM32 65h1v1h-1zM35 65h1v1h-1zM67 65h1v1h-1zM39 67h1v1h-1zM38 72h1v1h-1zM37 75h1v1h-1zM53 75h1v1h-1zM49 76h1v1h-1zM36 77h1v1h-1zM36 78h1v1h-1zM43 78h1v1h-1zM36 79h1v1h-1zM41 79h1v1h-1zM35 80h3v1h-3zM34 81h3v1h-3zM33 82h1v1h-1zM35 82h1v1h-1zM27 83h1v1h-1zM31 83h1v1h-1zM19 85h1v1h-1zM35 86h1v1h-1zM19 87h1v1h-1zM35 87h1v1h-1zM35 94h1v1h-1zM24 95h1v1h-1zM26 96h1v1h-1zM32 97h1v1h-1z"/>
<path fill="#6cff00" d="M91 28h2v1h-2zM88 29h1v1h-1zM96 29h1v1h-1zM87 30h1v1h-1zM98 30h1v1h-1zM86 32h1v1h-1zM85 33h1v1h-1zM83 34h3v1h-3zM89 34h6v1h-6zM63 35h1v1h-1zM81 35h1v1h-1zM87 35h3v1h-3zM95 35h1v1h-1zM78 36h1v1h-1zM87 36h2v1h-2zM94 36h2v1h-2zM99 36h1v1h-1zM87 37h11v1h-11zM58 38h1v1h-1zM86 38h5v1h-5zM96 38h1v1h-1zM85 39h4v1h-4zM95 39h1v1h-1zM55 40h1v1h-1zM84 40h1v1h-1zM88 40h1v1h-1zM95 40h1v1h-1zM75 41h1v1h-1zM89 41h1v1h-1zM94 41h1v1h-1zM74 44h1v1h-1zM79 45h1v1h-1zM77 46h1v1h-1zM76 47h1v1h-1zM75 50h1v1h-1zM73 52h1v1h-1zM71 53h1v1h-1zM37 54h1v1h-1zM39 54h1v1h-1zM70 54h1v1h-1zM69 56h1v1h-1zM38 57h1v1h-1zM33 58h1v1h-1zM32 59h1v1h-1zM30 60h1v1h-1zM68 62h1v1h-1zM68 63h1v1h-1zM34 65h1v1h-1zM66 65h1v1h-1zM65 66h1v1h-1zM64 67h1v1h-1zM59 72h1v1h-1zM38 73h1v1h-1zM57 73h1v1h-1zM55 74h1v1h-1zM52 75h1v1h-1zM45 77h1v1h-1zM37 79h4v1h-4zM34 82h1v1h-1zM22 83h1v1h-1zM26 83h1v1h-1zM32 83h1v1h-1zM35 83h1v1h-1zM35 84h1v1h-1zM35 85h1v1h-1zM19 86h1v1h-1zM35 88h1v1h-1zM20 91h1v1h-1zM21 93h1v1h-1zM22 94h1v1h-1zM33 96h1v1h-1zM28 97h1v1h-1z"/>
<path fill="#5eff00" d="M94 28h1v1h-1zM87 29h1v1h-1zM97 29h1v1h-1zM86 30h1v1h-1zM99 30h1v1h-1zM85 31h1v1h-1zM84 32h1v1h-1zM101 32h1v1h-1zM83 33h1v1h-1zM81 34h1v1h-1zM79 35h1v1h-1zM77 36h1v1h-1zM100 36h1v1h-1zM99 37h1v1h-1zM98 38h1v1h-1zM97 39h1v1h-1zM75 40h1v1h-1zM96 40h1v1h-1zM85 41h2v1h-2zM95 41h1v1h-1zM87 42h2v1h-2zM94 42h1v1h-1zM81 44h1v1h-1zM80 45h1v1h-1zM78 46h1v1h-1zM77 47h1v1h-1zM76 49h1v1h-1zM73 53h1v1h-1zM41 54h1v1h-1zM71 54h1v1h-1zM70 55h1v1h-1zM39 56h1v1h-1zM69 58h1v1h-1zM69 59h1v1h-1zM69 60h1v1h-1zM69 61h1v1h-1zM69 62h1v1h-1zM69 63h1v1h-1zM68 65h1v1h-1zM39 66h1v1h-1zM66 66h1v1h-1zM65 67h1v1h-1zM38 71h1v1h-1zM58 73h1v1h-1zM37 74h1v1h-1zM56 74h1v1h-1zM36 76h1v1h-1zM50 76h1v1h-1zM46 77h1v1h-1zM35 78h1v1h-1zM35 79h1v1h-1zM34 80h1v1h-1zM38 80h2v1h-2zM33 81h1v1h-1zM37 81h1v1h-1zM32 82h1v1h-1zM36 82h1v1h-1zM21 83h1v1h-1zM28 83h3v1h-3zM36 83h1v1h-1zM19 88h1v1h-1zM20 92h1v1h-1z"/>
<path fill="#79ff00" d="M89 29h1v1h-1zM94 29h1v1h-1zM88 30h1v1h-1zM96 30h1v1h-1zM98 31h1v1h-1zM88 32h1v1h-1zM89 33h1v1h-1zM95 33h1v1h-1zM100 33h1v1h-1zM96 34h1v1h-1zM100 34h1v1h-1zM66 35h1v1h-1zM97 35h1v1h-1zM99 35h1v1h-1zM80 36h5v1h-5zM84 37h1v1h-1zM84 38h1v1h-1zM92 39h2v1h-2zM83 40h1v1h-1zM91 40h3v1h-3zM75 42h1v1h-1zM81 43h1v1h-1zM73 45h1v1h-1zM78 45h1v1h-1zM47 46h1v1h-1zM76 46h1v1h-1zM75 48h1v1h-1zM72 52h1v1h-1zM70 53h1v1h-1zM69 54h1v1h-1zM40 57h1v1h-1zM68 57h1v1h-1zM39 61h1v1h-1zM40 62h1v1h-1zM67 62h1v1h-1zM40 63h1v1h-1zM67 63h1v1h-1zM40 64h1v1h-1zM66 64h1v1h-1zM40 65h1v1h-1zM65 65h1v1h-1zM64 66h1v1h-1zM39 69h1v1h-1zM58 72h1v1h-1zM56 73h1v1h-1zM54 74h1v1h-1zM38 75h1v1h-1zM47 76h1v1h-1zM38 78h1v1h-1zM41 78h1v1h-1zM21 84h1v1h-1zM29 84h5v1h-5zM20 85h1v1h-1zM34 85h1v1h-1zM34 86h1v1h-1zM20 88h1v1h-1zM20 89h1v1h-1zM21 92h1v1h-1zM22 93h1v1h-1zM23 94h1v1h-1zM27 96h1v1h-1zM32 96h1v1h-1z"/>
<path fill="#80ff00" d="M90 29h1v1h-1zM92 29h2v1h-2zM95 30h1v1h-1zM88 31h1v1h-1zM97 31h1v1h-1zM89 32h7v1h-7zM99 32h1v1h-1zM96 33h1v1h-1zM97 34h1v1h-1zM64 35h1v1h-1zM98 35h1v1h-1zM60 37h1v1h-1zM67 37h1v1h-1zM83 37h1v1h-1zM83 38h1v1h-1zM57 39h1v1h-1zM83 39h1v1h-1zM54 41h1v1h-1zM75 43h1v1h-1zM72 44h1v1h-1zM75 44h1v1h-1zM48 45h1v1h-1zM72 45h1v1h-1zM74 45h1v1h-1zM75 47h1v1h-1zM74 50h1v1h-1zM41 51h1v1h-1zM73 51h1v1h-1zM41 56h1v1h-1zM68 56h1v1h-1zM38 58h2v1h-2zM39 59h1v1h-1zM38 60h2v1h-2zM38 61h1v1h-1zM67 61h1v1h-1zM38 63h1v1h-1zM40 66h1v1h-1zM63 67h1v1h-1zM39 70h1v1h-1zM39 71h1v1h-1zM39 72h1v1h-1zM53 74h1v1h-1zM50 75h1v1h-1zM38 76h1v1h-1zM46 76h1v1h-1zM38 77h1v1h-1zM43 77h1v1h-1zM39 78h2v1h-2zM22 84h2v1h-2zM27 84h2v1h-2zM21 85h1v1h-1zM33 85h1v1h-1zM20 86h2v1h-2zM20 87h2v1h-2zM34 87h1v1h-1zM21 88h1v1h-1zM21 89h1v1h-1zM35 89h1v1h-1zM21 90h2v1h-2zM21 91h2v1h-2zM22 92h1v1h-1zM23 93h1v1h-1zM24 94h1v1h-1zM34 94h1v1h-1zM26 95h1v1h-1zM33 95h1v1h-1zM28 96h2v1h-2zM31 96h1v1h-1z"/>
<path fill="#85ff00" d="M91 29h1v1h-1zM89 30h1v1h-1zM94 30h1v1h-1zM89 31h1v1h-1zM93 31h4v1h-4zM96 32h3v1h-3zM97 33h3v1h-3zM98 34h2v1h-2zM65 35h1v1h-1zM78 37h1v1h-1zM82 37h1v1h-1zM76 39h1v1h-1zM82 41h1v1h-1zM52 42h1v1h-1zM49 44h1v1h-1zM79 44h1v1h-1zM75 45h3v1h-3zM75 46h1v1h-1zM71 52h1v1h-1zM68 55h1v1h-1zM34 58h1v1h-1zM37 58h1v1h-1zM40 58h1v1h-1zM33 59h1v1h-1zM38 59h1v1h-1zM67 59h1v1h-1zM67 60h1v1h-1zM40 61h1v1h-1zM66 63h1v1h-1zM65 64h1v1h-1zM40 67h1v1h-1zM62 68h1v1h-1zM61 69h1v1h-1zM60 70h1v1h-1zM59 71h1v1h-1zM57 72h1v1h-1zM39 73h1v1h-1zM55 73h1v1h-1zM52 74h1v1h-1zM49 75h1v1h-1zM45 76h1v1h-1zM42 77h1v1h-1zM24 84h3v1h-3zM22 85h3v1h-3zM32 85h1v1h-1zM22 86h2v1h-2zM22 87h2v1h-2zM22 88h2v1h-2zM22 89h2v1h-2zM23 90h2v1h-2zM23 91h2v1h-2zM23 92h2v1h-2zM24 93h2v1h-2zM34 93h1v1h-1zM25 94h2v1h-2zM32 94h2v1h-2zM27 95h6v1h-6zM30 96h1v1h-1z"/>
<path fill="#73ff00" d="M95 29h1v1h-1zM97 30h1v1h-1zM87 31h1v1h-1zM99 31h1v1h-1zM87 32h1v1h-1zM100 32h1v1h-1zM86 33h3v1h-3zM90 33h5v1h-5zM86 34h3v1h-3zM95 34h1v1h-1zM82 35h5v1h-5zM96 35h1v1h-1zM100 35h1v1h-1zM67 36h1v1h-1zM79 36h1v1h-1zM85 36h2v1h-2zM96 36h3v1h-3zM77 37h1v1h-1zM85 37h2v1h-2zM76 38h1v1h-1zM85 38h1v1h-1zM91 38h5v1h-5zM84 39h1v1h-1zM89 39h3v1h-3zM94 39h1v1h-1zM89 40h2v1h-2zM94 40h1v1h-1zM68 41h1v1h-1zM83 41h1v1h-1zM90 41h4v1h-4zM82 42h1v1h-1zM80 44h1v1h-1zM75 49h1v1h-1zM74 51h1v1h-1zM38 54h1v1h-1zM41 55h1v1h-1zM69 55h1v1h-1zM35 57h3v1h-3zM39 57h1v1h-1zM68 58h1v1h-1zM68 59h1v1h-1zM68 60h1v1h-1zM68 61h1v1h-1zM39 62h1v1h-1zM37 64h1v1h-1zM67 64h1v1h-1zM33 65h1v1h-1zM39 68h1v1h-1zM63 68h1v1h-1zM62 69h1v1h-1zM61 70h1v1h-1zM60 71h1v1h-1zM38 74h1v1h-1zM51 75h1v1h-1zM37 76h1v1h-1zM48 76h1v1h-1zM37 77h1v1h-1zM44 77h1v1h-1zM37 78h1v1h-1zM42 78h1v1h-1zM23 83h3v1h-3zM33 83h2v1h-2zM20 84h1v1h-1zM34 84h1v1h-1zM20 90h1v1h-1zM35 93h1v1h-1zM25 95h1v1h-1zM34 95h1v1h-1zM29 97h3v1h-3z"/>
<path fill="#8bff00" d="M90 30h4v1h-4zM90 31h3v1h-3zM81 37h1v1h-1zM82 38h1v1h-1zM82 40h1v1h-1zM81 42h1v1h-1zM74 46h1v1h-1zM74 49h1v1h-1zM45 52h1v1h-1zM69 53h1v1h-1zM68 54h1v1h-1zM35 58h2v1h-2zM67 58h1v1h-1zM37 59h1v1h-1zM40 59h1v1h-1zM31 60h1v1h-1zM37 60h1v1h-1zM40 60h1v1h-1zM38 62h1v1h-1zM66 62h1v1h-1zM30 63h1v1h-1zM64 65h1v1h-1zM63 66h1v1h-1zM40 68h1v1h-1zM40 69h1v1h-1zM59 70h1v1h-1zM58 71h1v1h-1zM55 72h2v1h-2zM53 73h2v1h-2zM39 74h1v1h-1zM50 74h2v1h-2zM39 75h1v1h-1zM47 75h2v1h-2zM39 76h1v1h-1zM44 76h1v1h-1zM39 77h1v1h-1zM41 77h1v1h-1zM25 85h7v1h-7zM24 86h3v1h-3zM33 86h1v1h-1zM24 87h2v1h-2zM24 88h2v1h-2zM24 89h2v1h-2zM25 90h1v1h-1zM25 91h1v1h-1zM25 92h2v1h-2zM26 93h2v1h-2zM32 93h2v1h-2zM27 94h5v1h-5z"/>
<path fill="#90ff00" d="M62 36h1v1h-1zM79 37h2v1h-2zM77 38h1v1h-1zM82 39h1v1h-1zM56 40h1v1h-1zM80 43h1v1h-1zM76 44h1v1h-1zM73 46h1v1h-1zM74 47h1v1h-1zM74 48h1v1h-1zM73 50h1v1h-1zM72 51h1v1h-1zM70 52h1v1h-1zM41 57h1v1h-1zM67 57h1v1h-1zM34 59h1v1h-1zM66 61h1v1h-1zM65 63h1v1h-1zM64 64h1v1h-1zM62 67h1v1h-1zM60 68h2v1h-2zM59 69h2v1h-2zM40 70h1v1h-1zM56 70h3v1h-3zM40 71h1v1h-1zM54 71h4v1h-4zM40 72h1v1h-1zM51 72h4v1h-4zM49 73h4v1h-4zM47 74h3v1h-3zM45 75h2v1h-2zM43 76h1v1h-1zM40 77h1v1h-1zM27 86h4v1h-4zM32 86h1v1h-1zM26 87h2v1h-2zM26 88h1v1h-1zM26 89h1v1h-1zM26 90h1v1h-1zM26 91h2v1h-2zM27 92h2v1h-2zM30 92h2v1h-2zM28 93h4v1h-4z"/>
<path fill="#a8ff00" d="M63 36h1v1h-1zM61 37h1v1h-1zM79 38h1v1h-1zM58 39h1v1h-1zM77 39h1v1h-1zM55 41h1v1h-1zM80 42h1v1h-1zM48 46h1v1h-1zM73 48h1v1h-1zM47 49h1v1h-1zM69 51h1v1h-1zM44 53h1v1h-1zM67 53h1v1h-1zM66 56h1v1h-1zM41 59h1v1h-1zM41 60h1v1h-1zM65 60h1v1h-1zM41 61h1v1h-1zM63 62h1v1h-1zM37 63h1v1h-1zM60 64h1v1h-1zM42 66h1v1h-1zM56 66h1v1h-1zM52 68h1v1h-1zM45 69h5v1h-5zM31 90h1v1h-1z"/>
<path fill="#b9ff00" d="M64 36h2v1h-2zM66 37h1v1h-1zM78 39h2v1h-2zM57 40h1v1h-1zM77 40h1v1h-1zM80 40h1v1h-1zM68 42h1v1h-1zM77 42h1v1h-1zM79 42h1v1h-1zM71 47h1v1h-1zM72 48h1v1h-1zM44 49h1v1h-1zM68 50h3v1h-3zM67 51h1v1h-1zM66 53h1v1h-1zM42 55h1v1h-1zM65 57h1v1h-1zM65 58h1v1h-1zM36 61h1v1h-1zM37 62h1v1h-1zM33 64h2v1h-2zM58 64h1v1h-1zM42 65h1v1h-1zM55 66h1v1h-1zM53 67h1v1h-1zM46 68h5v1h-5zM31 87h1v1h-1zM35 91h1v1h-1zM34 92h1v1h-1z"/>
<path fill="#9bff00" d="M66 36h1v1h-1zM81 38h1v1h-1zM81 41h1v1h-1zM76 43h1v1h-1zM77 44h1v1h-1zM72 46h1v1h-1zM71 51h1v1h-1zM44 52h1v1h-1zM69 52h1v1h-1zM67 55h1v1h-1zM41 58h1v1h-1zM66 59h1v1h-1zM32 60h1v1h-1zM65 61h1v1h-1zM41 63h1v1h-1zM63 63h1v1h-1zM36 64h1v1h-1zM41 64h1v1h-1zM62 64h2v1h-2zM41 65h1v1h-1zM60 65h3v1h-3zM58 66h2v1h-2zM56 67h2v1h-2zM42 68h1v1h-1zM55 68h2v1h-2zM42 69h2v1h-2zM52 69h3v1h-3zM42 70h3v1h-3zM49 70h3v1h-3zM42 71h8v1h-8zM41 72h6v1h-6zM41 73h4v1h-4zM41 74h4v1h-4zM41 75h3v1h-3zM41 76h1v1h-1zM30 87h1v1h-1zM33 87h1v1h-1zM30 88h1v1h-1zM30 89h1v1h-1zM31 91h1v1h-1z"/>
<path fill="#d1ff00" d="M62 37h1v1h-1zM66 38h1v1h-1zM71 46h1v1h-1zM67 47h1v1h-1zM47 48h2v1h-2zM67 48h1v1h-1zM66 49h1v1h-1zM43 50h1v1h-1zM65 51h1v1h-1zM64 55h1v1h-1zM64 59h1v1h-1zM33 61h2v1h-2zM34 62h2v1h-2zM43 65h1v1h-1zM55 65h1v1h-1zM44 66h2v1h-2zM51 66h3v1h-3zM47 67h3v1h-3zM31 88h1v1h-1zM33 88h1v1h-1z"/>
<path fill="#eaff00" d="M63 37h1v1h-1zM68 38h1v1h-1zM66 39h1v1h-1zM66 47h1v1h-1zM66 48h1v1h-1zM48 49h1v1h-1zM65 49h1v1h-1zM42 53h1v1h-1zM43 54h1v1h-1zM63 54h1v1h-1zM42 58h1v1h-1zM63 60h1v1h-1zM60 62h1v1h-1zM56 63h1v1h-1zM52 64h2v1h-2zM32 88h1v1h-1zM32 90h1v1h-1zM34 90h1v1h-1z"/>
<path fill="#f2ff00" d="M64 37h1v1h-1zM61 38h1v1h-1zM69 39h1v1h-1zM51 43h1v1h-1zM64 50h1v1h-1zM40 52h1v1h-1zM63 52h1v1h-1zM63 53h1v1h-1zM63 55h1v1h-1zM62 61h1v1h-1zM42 62h1v1h-1zM55 63h1v1h-1zM44 64h1v1h-1zM51 64h1v1h-1zM32 89h2v1h-2zM33 91h2v1h-2z"/>
<path fill="#e2ff00" d="M65 37h1v1h-1zM58 40h1v1h-1zM64 51h1v1h-1zM64 52h1v1h-1zM45 53h1v1h-1zM64 58h1v1h-1zM57 63h1v1h-1zM43 64h1v1h-1zM54 64h2v1h-2zM46 65h5v1h-5z"/>
<path fill="#a0ff00" d="M69 37h1v1h-1zM78 38h1v1h-1zM80 38h1v1h-1zM81 39h1v1h-1zM81 40h1v1h-1zM76 41h1v1h-1zM76 42h1v1h-1zM79 43h1v1h-1zM73 47h1v1h-1zM73 49h1v1h-1zM72 50h1v1h-1zM70 51h1v1h-1zM68 52h1v1h-1zM67 54h1v1h-1zM66 57h1v1h-1zM66 58h1v1h-1zM35 60h1v1h-1zM41 62h1v1h-1zM64 62h1v1h-1zM62 63h1v1h-1zM61 64h1v1h-1zM58 65h2v1h-2zM57 66h1v1h-1zM42 67h1v1h-1zM55 67h1v1h-1zM43 68h1v1h-1zM53 68h2v1h-2zM44 69h1v1h-1zM50 69h2v1h-2zM45 70h4v1h-4zM32 92h1v1h-1z"/>
<path fill="#95ff00" d="M59 38h1v1h-1zM67 38h1v1h-1zM76 40h1v1h-1zM70 42h1v1h-1zM78 44h1v1h-1zM46 50h1v1h-1zM45 51h2v1h-2zM43 53h1v1h-1zM68 53h1v1h-1zM42 54h1v1h-1zM67 56h1v1h-1zM35 59h2v1h-2zM36 60h1v1h-1zM66 60h1v1h-1zM30 61h1v1h-1zM37 61h1v1h-1zM30 62h1v1h-1zM65 62h1v1h-1zM64 63h1v1h-1zM31 64h1v1h-1zM63 65h1v1h-1zM41 66h1v1h-1zM60 66h3v1h-3zM41 67h1v1h-1zM58 67h4v1h-4zM41 68h1v1h-1zM57 68h3v1h-3zM41 69h1v1h-1zM55 69h4v1h-4zM41 70h1v1h-1zM52 70h4v1h-4zM41 71h1v1h-1zM50 71h4v1h-4zM47 72h4v1h-4zM40 73h1v1h-1zM45 73h4v1h-4zM40 74h1v1h-1zM45 74h2v1h-2zM40 75h1v1h-1zM44 75h1v1h-1zM40 76h1v1h-1zM42 76h1v1h-1zM31 86h1v1h-1zM28 87h2v1h-2zM27 88h3v1h-3zM34 88h1v1h-1zM27 89h3v1h-3zM27 90h4v1h-4zM28 91h3v1h-3zM29 92h1v1h-1zM35 92h1v1h-1z"/>
<path fill="#c9ff00" d="M60 38h1v1h-1zM78 40h2v1h-2zM78 41h2v1h-2zM68 47h1v1h-1zM68 48h3v1h-3zM67 49h3v1h-3zM47 50h1v1h-1zM66 50h1v1h-1zM65 52h1v1h-1zM65 53h1v1h-1zM65 54h1v1h-1zM42 56h1v1h-1zM32 61h1v1h-1zM35 61h1v1h-1zM63 61h1v1h-1zM32 62h2v1h-2zM36 62h1v1h-1zM32 63h5v1h-5zM59 63h1v1h-1zM57 64h1v1h-1zM54 66h1v1h-1zM45 67h2v1h-2zM50 67h2v1h-2zM34 89h1v1h-1zM32 91h1v1h-1z"/>
<path fill="#fff400" d="M62 38h1v1h-1zM59 40h1v1h-1zM64 48h1v1h-1zM63 50h1v1h-1zM62 52h1v1h-1zM63 59h1v1h-1zM58 62h1v1h-1zM43 63h1v1h-1zM52 63h1v1h-1z"/>
<path fill="#ffe300" d="M63 38h2v1h-2zM65 39h1v1h-1zM67 39h1v1h-1zM58 41h1v1h-1zM53 42h1v1h-1zM63 48h1v1h-1zM62 50h1v1h-1zM44 54h1v1h-1zM63 58h1v1h-1zM62 60h1v1h-1zM56 62h1v1h-1zM51 63h1v1h-1z"/>
<path fill="#fffc00" d="M65 38h1v1h-1zM60 39h1v1h-1zM65 47h1v1h-1zM64 49h1v1h-1zM37 53h1v1h-1zM62 53h1v1h-1zM62 54h1v1h-1zM63 56h1v1h-1zM42 60h1v1h-1zM42 61h1v1h-1zM53 63h1v1h-1zM45 64h5v1h-5z"/>
<path fill="#ff9f00" d="M69 38h1v1h-1zM60 41h1v1h-1zM71 45h1v1h-1zM58 49h1v1h-1zM44 50h1v1h-1zM55 50h1v1h-1zM47 51h1v1h-1zM41 52h1v1h-1z"/>
<path fill="#daff00" d="M59 39h1v1h-1zM56 41h1v1h-1zM67 42h1v1h-1zM69 42h1v1h-1zM46 47h1v1h-1zM65 50h1v1h-1zM46 52h1v1h-1zM64 53h1v1h-1zM64 54h1v1h-1zM64 56h1v1h-1zM42 57h1v1h-1zM64 57h1v1h-1zM61 62h1v1h-1zM42 63h1v1h-1zM58 63h1v1h-1zM56 64h1v1h-1zM44 65h2v1h-2zM51 65h4v1h-4zM46 66h5v1h-5z"/>
<path fill="#ffdb00" d="M61 39h1v1h-1zM68 40h1v1h-1zM62 49h1v1h-1zM42 51h1v1h-1zM61 51h1v1h-1zM61 52h1v1h-1zM41 53h1v1h-1zM61 53h1v1h-1zM43 55h1v1h-1zM55 62h1v1h-1z"/>
<path fill="#ffc000" d="M62 39h1v1h-1zM64 39h1v1h-1zM59 41h1v1h-1zM45 50h1v1h-1zM58 50h1v1h-1zM57 51h2v1h-2zM59 52h1v1h-1zM48 53h1v1h-1zM60 53h1v1h-1zM61 55h1v1h-1zM43 58h1v1h-1zM61 60h1v1h-1zM58 61h1v1h-1zM52 62h1v1h-1zM46 63h4v1h-4z"/>
<path fill="#ffb700" d="M63 39h1v1h-1zM59 49h1v1h-1zM57 50h1v1h-1zM54 51h3v1h-3zM51 52h3v1h-3zM58 52h1v1h-1zM40 53h1v1h-1zM49 53h2v1h-2zM46 54h1v1h-1zM44 55h1v1h-1zM62 57h1v1h-1zM62 58h1v1h-1zM43 59h1v1h-1zM43 60h1v1h-1zM43 61h1v1h-1zM56 61h2v1h-2zM51 62h1v1h-1z"/>
<path fill="#ff9100" d="M68 39h1v1h-1zM62 40h2v1h-2zM64 41h2v1h-2zM64 42h1v1h-1zM71 43h1v1h-1zM63 47h1v1h-1zM54 50h1v1h-1zM43 51h1v1h-1zM42 52h1v1h-1z"/>
<path fill="#b0ff00" d="M80 39h1v1h-1zM80 41h1v1h-1zM77 43h2v1h-2zM72 47h1v1h-1zM72 49h1v1h-1zM71 50h1v1h-1zM68 51h1v1h-1zM67 52h1v1h-1zM66 54h1v1h-1zM66 55h1v1h-1zM65 59h1v1h-1zM33 60h2v1h-2zM64 61h1v1h-1zM61 63h1v1h-1zM32 64h1v1h-1zM35 64h1v1h-1zM59 64h1v1h-1zM57 65h1v1h-1zM43 67h1v1h-1zM54 67h1v1h-1zM44 68h2v1h-2zM51 68h1v1h-1zM32 87h1v1h-1zM35 90h1v1h-1z"/>
<path fill="#ffc900" d="M60 40h1v1h-1zM65 40h1v1h-1zM69 46h1v1h-1zM64 47h1v1h-1zM60 49h1v1h-1zM59 50h1v1h-1zM59 51h1v1h-1zM60 52h1v1h-1zM38 53h1v1h-1zM47 53h1v1h-1zM45 54h1v1h-1zM62 56h1v1h-1zM43 57h1v1h-1zM62 59h1v1h-1zM59 61h1v1h-1zM43 62h1v1h-1zM53 62h1v1h-1zM45 63h1v1h-1z"/>
<path fill="#ffae00" d="M61 40h1v1h-1zM66 40h1v1h-1zM68 46h1v1h-1zM61 48h1v1h-1zM56 50h1v1h-1zM53 51h1v1h-1zM54 52h4v1h-4zM39 53h1v1h-1zM51 53h1v1h-1zM59 53h1v1h-1zM47 54h2v1h-2zM60 54h1v1h-1zM45 55h1v1h-1zM60 55h1v1h-1zM44 56h1v1h-1zM61 56h1v1h-1zM44 57h1v1h-1zM61 58h1v1h-1zM61 59h1v1h-1zM57 60h4v1h-4zM44 61h1v1h-1zM53 61h3v1h-3zM44 62h7v1h-7z"/>
<path fill="#ffa500" d="M64 40h1v1h-1zM65 42h1v1h-1zM44 51h1v1h-1zM52 51h1v1h-1zM50 52h1v1h-1zM52 53h7v1h-7zM49 54h11v1h-11zM46 55h14v1h-14zM45 56h16v1h-16zM45 57h17v1h-17zM44 58h17v1h-17zM44 59h17v1h-17zM44 60h13v1h-13zM45 61h8v1h-8z"/>
<path fill="#ff8200" d="M67 40h1v1h-1zM64 43h2v1h-2zM66 46h1v1h-1zM60 48h1v1h-1zM57 49h1v1h-1zM49 52h1v1h-1z"/>
<path fill="#faff00" d="M57 41h1v1h-1zM45 48h1v1h-1zM65 48h1v1h-1zM63 51h1v1h-1zM42 59h1v1h-1zM59 62h1v1h-1zM54 63h1v1h-1zM50 64h1v1h-1zM33 90h1v1h-1z"/>
<path fill="#ff8b00" d="M61 41h1v1h-1zM67 46h1v1h-1zM48 50h1v1h-1z"/>
<path fill="#ff7800" d="M62 41h2v1h-2zM66 41h1v1h-1zM63 42h1v1h-1zM49 47h1v1h-1zM49 48h1v1h-1zM51 51h1v1h-1zM47 52h1v1h-1z"/>
<path fill="#ffd200" d="M67 41h1v1h-1zM66 42h1v1h-1zM50 44h1v1h-1zM49 45h1v1h-1zM70 46h1v1h-1zM62 48h1v1h-1zM61 49h1v1h-1zM60 50h2v1h-2zM60 51h1v1h-1zM43 52h1v1h-1zM61 54h1v1h-1zM43 56h1v1h-1zM60 61h1v1h-1zM54 62h1v1h-1zM44 63h1v1h-1zM50 63h1v1h-1z"/>
<path fill="#c1ff00" d="M77 41h1v1h-1zM78 42h1v1h-1zM47 47h2v1h-2zM69 47h2v1h-2zM71 48h1v1h-1zM70 49h2v1h-2zM67 50h1v1h-1zM66 51h1v1h-1zM66 52h1v1h-1zM65 55h1v1h-1zM65 56h1v1h-1zM64 60h1v1h-1zM31 61h1v1h-1zM31 62h1v1h-1zM62 62h1v1h-1zM31 63h1v1h-1zM60 63h1v1h-1zM42 64h1v1h-1zM56 65h1v1h-1zM43 66h1v1h-1zM44 67h1v1h-1zM52 67h1v1h-1zM31 89h1v1h-1zM33 92h1v1h-1z"/>
<path fill="#00b2ff" d="M4 42h1v1h-1zM26 63h1v1h-1zM20 68h1v1h-1z"/>
<path fill="#008fff" d="M5 42h2v1h-2zM15 42h1v1h-1zM29 52h1v1h-1zM26 62h1v1h-1zM14 64h1v1h-1z"/>
<path fill="#006fff" d="M7 42h1v1h-1zM7 44h1v1h-1zM4 47h1v1h-1zM26 47h1v1h-1zM9 48h1v1h-1zM14 49h1v1h-1zM17 65h1v1h-1zM22 68h1v1h-1z"/>
<path fill="#0054ff" d="M8 42h3v1h-3zM9 44h1v1h-1zM22 45h1v1h-1zM7 48h1v1h-1zM27 50h1v1h-1zM9 64h1v1h-1zM0 66h4v1h-4z"/>
<path fill="#004dff" d="M11 42h2v1h-2zM6 48h1v1h-1zM17 48h1v1h-1zM12 49h1v1h-1zM30 56h1v1h-1zM27 60h1v1h-1zM18 65h1v1h-1zM19 66h1v1h-1z"/>
<path fill="#0063ff" d="M13 42h1v1h-1zM18 43h1v1h-1zM8 44h1v1h-1zM11 45h1v1h-1zM13 46h1v1h-1zM0 47h4v1h-4zM8 48h1v1h-1zM25 65h1v1h-1zM21 68h1v1h-1z"/>
<path fill="#007cff" d="M14 42h1v1h-1zM0 44h7v1h-7zM10 45h1v1h-1zM12 46h1v1h-1zM5 47h1v1h-1zM14 47h1v1h-1zM10 48h1v1h-1zM16 48h1v1h-1zM15 49h2v1h-2zM29 58h1v1h-1z"/>
<path fill="#00baff" d="M16 42h1v1h-1zM16 66h1v1h-1zM18 67h1v1h-1z"/>
<path fill="#ff9800" d="M54 42h1v1h-1zM46 48h1v1h-1zM45 49h1v1h-1z"/>
<path fill="#ff6400" d="M55 42h1v1h-1zM62 42h1v1h-1zM49 46h1v1h-1z"/>
<path fill="#ff4900" d="M56 42h2v1h-2zM59 42h2v1h-2zM62 47h1v1h-1zM59 48h1v1h-1zM49 49h1v1h-1z"/>
<path fill="#ff5100" d="M58 42h1v1h-1zM61 42h1v1h-1zM65 46h1v1h-1zM48 52h1v1h-1z"/>
<path fill="#0040ff" d="M0 43h7v1h-7zM10 44h1v1h-1zM16 47h1v1h-1zM5 48h1v1h-1zM11 49h1v1h-1zM26 61h1v1h-1zM15 64h1v1h-1z"/>
<path fill="#0035ff" d="M7 43h1v1h-1zM4 48h1v1h-1zM18 49h1v1h-1zM30 54h1v1h-1zM12 63h1v1h-1zM25 64h1v1h-1zM20 67h1v1h-1z"/>
<path fill="#0020ff" d="M8 43h2v1h-2zM19 44h1v1h-1zM14 45h1v1h-1zM21 45h1v1h-1zM17 47h1v1h-1zM0 48h3v1h-3zM18 48h1v1h-1zM9 49h1v1h-1zM15 50h2v1h-2zM30 55h1v1h-1zM29 57h1v1h-1zM13 63h1v1h-1zM6 65h1v1h-1z"/>
<path fill="#0015ff" d="M10 43h7v1h-7zM12 44h7v1h-7zM15 45h6v1h-6zM16 46h7v1h-7zM18 47h7v1h-7zM19 48h8v1h-8zM19 49h8v1h-8zM14 50h1v1h-1zM17 50h10v1h-10zM22 51h6v1h-6zM23 52h6v1h-6zM23 53h7v1h-7zM24 54h6v1h-6zM24 55h6v1h-6zM24 56h6v1h-6zM25 57h4v1h-4zM24 58h5v1h-5zM24 59h4v1h-4zM24 60h3v1h-3zM24 61h2v1h-2zM23 62h3v1h-3zM23 63h3v1h-3zM22 64h3v1h-3zM19 65h6v1h-6zM20 66h4v1h-4zM21 67h2v1h-2z"/>
<path fill="#002bff" d="M17 43h1v1h-1zM11 44h1v1h-1zM13 45h1v1h-1zM15 46h1v1h-1zM23 46h1v1h-1zM25 47h1v1h-1zM3 48h1v1h-1zM10 49h1v1h-1zM11 63h1v1h-1zM24 66h1v1h-1zM23 67h1v1h-1z"/>
<path fill="#ff5a00" d="M52 43h1v1h-1zM66 43h1v1h-1zM56 49h1v1h-1z"/>
<path fill="#ff1800" d="M53 43h1v1h-1zM61 43h1v1h-1zM69 43h1v1h-1zM64 44h1v1h-1zM50 45h1v1h-1zM69 45h2v1h-2zM63 46h1v1h-1zM60 47h1v1h-1zM57 48h1v1h-1zM53 49h1v1h-1zM49 50h1v1h-1zM51 50h1v1h-1zM48 51h2v1h-2z"/>
<path fill="#ff1000" d="M54 43h7v1h-7zM52 44h12v1h-12zM65 44h6v1h-6zM51 45h18v1h-18zM50 46h13v1h-13zM50 47h10v1h-10zM50 48h7v1h-7zM50 49h3v1h-3zM50 50h1v1h-1z"/>
<path fill="#ff2000" d="M62 43h1v1h-1zM68 43h1v1h-1zM70 43h1v1h-1zM54 49h1v1h-1z"/>
<path fill="#ff4100" d="M63 43h1v1h-1zM55 49h1v1h-1z"/>
<path fill="#ff3000" d="M67 43h1v1h-1zM58 48h1v1h-1z"/>
<path fill="#005bff" d="M20 44h1v1h-1zM15 47h1v1h-1zM13 49h1v1h-1zM17 49h1v1h-1zM28 51h1v1h-1zM7 65h1v1h-1zM4 66h1v1h-1z"/>
<path fill="#00a3ff" d="M21 44h1v1h-1zM13 64h1v1h-1z"/>
<path fill="#ff2800" d="M51 44h1v1h-1zM64 46h1v1h-1zM61 47h1v1h-1zM50 51h1v1h-1z"/>
<path fill="#ff3800" d="M71 44h1v1h-1zM52 50h1v1h-1z"/>
<path fill="#0088ff" d="M0 45h10v1h-10zM0 46h12v1h-12zM24 46h1v1h-1zM6 47h8v1h-8zM11 48h5v1h-5zM24 67h1v1h-1z"/>
<path fill="#0047ff" d="M12 45h1v1h-1zM14 46h1v1h-1zM27 48h1v1h-1zM28 59h1v1h-1z"/>
<path fill="#00aaff" d="M23 45h1v1h-1zM11 64h2v1h-2zM8 65h1v1h-1zM17 66h2v1h-2zM25 66h1v1h-1zM23 68h1v1h-1z"/>
<path fill="#0000ff" d="M0 49h7v1h-7zM13 50h1v1h-1zM19 51h1v1h-1zM21 52h1v1h-1zM22 53h1v1h-1zM23 56h1v1h-1zM23 58h1v1h-1zM23 59h1v1h-1zM22 62h1v1h-1zM10 63h1v1h-1zM20 64h1v1h-1z"/>
<path fill="#000bff" d="M7 49h2v1h-2zM20 51h2v1h-2zM22 52h1v1h-1zM23 54h1v1h-1zM23 55h1v1h-1zM24 57h1v1h-1zM23 60h1v1h-1zM23 61h1v1h-1zM22 63h1v1h-1zM8 64h1v1h-1zM16 64h1v1h-1zM21 64h1v1h-1z"/>
<path fill="#ffec00" d="M46 49h1v1h-1zM63 49h1v1h-1zM62 51h1v1h-1zM46 53h1v1h-1zM62 55h1v1h-1zM63 57h1v1h-1zM61 61h1v1h-1zM57 62h1v1h-1z"/>
<path fill="#1400fe" d="M0 50h8v1h-8zM10 50h2v1h-2zM16 51h2v1h-2zM19 52h1v1h-1zM21 53h1v1h-1zM22 56h1v1h-1zM22 58h1v1h-1zM22 59h1v1h-1zM21 62h1v1h-1zM9 63h1v1h-1zM15 63h2v1h-2zM20 63h1v1h-1zM0 65h3v1h-3z"/>
<path fill="#1b00f9" d="M8 50h2v1h-2zM14 51h2v1h-2zM18 52h1v1h-1zM20 53h1v1h-1zM21 54h1v1h-1zM22 57h1v1h-1zM21 60h1v1h-1zM21 61h1v1h-1zM10 62h4v1h-4zM8 63h1v1h-1zM17 63h3v1h-3zM4 64h3v1h-3z"/>
<path fill="#0d00ff" d="M12 50h1v1h-1zM18 51h1v1h-1zM20 52h1v1h-1zM22 55h1v1h-1zM22 60h1v1h-1zM7 64h1v1h-1zM3 65h2v1h-2z"/>
<path fill="#ff6e00" d="M53 50h1v1h-1z"/>
<path fill="#2300f3" d="M0 51h14v1h-14zM0 52h18v1h-18zM0 53h20v1h-20zM0 54h21v1h-21zM0 55h22v1h-22zM0 56h22v1h-22zM0 57h22v1h-22zM0 58h22v1h-22zM0 59h22v1h-22zM0 60h21v1h-21zM0 61h21v1h-21zM0 62h10v1h-10zM14 62h7v1h-7zM0 63h8v1h-8zM0 64h4v1h-4z"/>
<path fill="#0600ff" d="M22 54h1v1h-1zM23 57h1v1h-1zM22 61h1v1h-1zM14 63h1v1h-1zM21 63h1v1h-1zM17 64h3v1h-3zM5 65h1v1h-1z"/>
<path fill="#009cff" d="M10 64h1v1h-1zM5 66h1v1h-1zM19 67h1v1h-1z"/>
<path fill="#0095ff" d="M16 65h1v1h-1z"/>
</g></g></g>
<defs><filter id="f2" x="0" y="0" width="1" height="1" color-interpolation-filters="sRGB"><feGaussianBlur stdDeviation="3.0" edgeMode="duplicate"/></filter><clipPath id="cf2"><rect x="1183.50" y="119.60" width="938.7" height="939.7"/></clipPath></defs><g clip-path="url(#cf2)"><g filter="url(#f2)"><g transform="translate(1167.86,103.94) scale(7.8225,7.8308)" shape-rendering="crispEdges">
<path fill="#00ff54" d="M0 0h14v1h-14zM44 0h1v1h-1zM60 0h1v1h-1zM69 0h2v1h-2zM82 0h1v1h-1zM91 0h1v1h-1zM101 0h1v1h-1zM0 1h14v1h-14zM44 1h1v1h-1zM60 1h1v1h-1zM69 1h2v1h-2zM82 1h1v1h-1zM91 1h1v1h-1zM101 1h1v1h-1zM0 2h14v1h-14zM44 2h1v1h-1zM60 2h1v1h-1zM69 2h2v1h-2zM82 2h1v1h-1zM91 2h1v1h-1zM101 2h1v1h-1zM0 3h14v1h-14zM44 3h1v1h-1zM60 3h1v1h-1zM69 3h1v1h-1zM91 3h1v1h-1zM101 3h1v1h-1zM0 4h13v1h-13zM43 4h1v1h-1zM60 4h1v1h-1zM69 4h1v1h-1zM83 4h1v1h-1zM91 4h1v1h-1zM101 4h1v1h-1zM0 5h10v1h-10zM41 5h1v1h-1zM60 5h1v1h-1zM69 5h1v1h-1zM83 5h1v1h-1zM0 6h7v1h-7zM36 6h2v1h-2zM61 6h1v1h-1zM68 6h1v1h-1zM84 6h1v1h-1zM90 6h1v1h-1zM100 6h1v1h-1zM0 7h6v1h-6zM34 7h2v1h-2zM62 7h1v1h-1zM67 7h1v1h-1zM86 7h1v1h-1zM89 7h1v1h-1zM0 8h6v1h-6zM32 8h2v1h-2zM62 8h2v1h-2zM66 8h2v1h-2zM88 8h1v1h-1zM99 8h1v1h-1zM0 9h6v1h-6zM15 9h3v1h-3zM32 9h1v1h-1zM63 9h4v1h-4zM99 9h1v1h-1zM0 10h9v1h-9zM11 10h4v1h-4zM19 10h2v1h-2zM31 10h2v1h-2zM99 10h1v1h-1zM24 11h2v1h-2zM31 11h2v1h-2zM99 11h1v1h-1zM27 12h2v1h-2zM31 12h2v1h-2zM99 12h1v1h-1zM29 13h1v1h-1zM32 13h2v1h-2zM30 14h1v1h-1zM33 14h1v1h-1zM100 14h1v1h-1zM30 15h2v1h-2zM33 15h2v1h-2zM76 15h4v1h-4zM101 15h1v1h-1zM32 16h3v1h-3zM75 16h1v1h-1zM81 16h1v1h-1zM102 16h1v1h-1zM74 17h1v1h-1zM74 18h1v1h-1zM84 18h1v1h-1zM73 19h1v1h-1zM103 19h1v1h-1zM73 20h1v1h-1zM72 21h1v1h-1zM71 22h1v1h-1zM102 22h1v1h-1zM89 23h1v1h-1zM92 24h1v1h-1zM69 25h1v1h-1zM94 25h2v1h-2zM98 25h1v1h-1zM104 27h1v1h-1zM65 29h1v1h-1zM64 30h1v1h-1zM98 30h1v1h-1zM63 31h1v1h-1zM62 32h1v1h-1zM100 32h1v1h-1zM107 32h2v1h-2zM94 33h2v1h-2zM106 33h1v1h-1zM71 34h1v1h-1zM75 34h1v1h-1zM96 34h1v1h-1zM110 34h1v1h-1zM76 35h1v1h-1zM97 35h1v1h-1zM104 35h1v1h-1zM111 35h1v1h-1zM120 35h4v1h-4zM58 36h1v1h-1zM102 36h1v1h-1zM118 36h6v1h-6zM56 37h1v1h-1zM100 37h1v1h-1zM117 37h2v1h-2zM84 38h1v1h-1zM98 38h1v1h-1zM83 39h1v1h-1zM93 39h1v1h-1zM97 39h1v1h-1zM90 40h1v1h-1zM95 40h1v1h-1zM52 41h1v1h-1zM83 41h1v1h-1zM88 41h1v1h-1zM94 41h1v1h-1zM51 42h1v1h-1zM74 42h1v1h-1zM84 42h1v1h-1zM86 42h2v1h-2zM93 42h1v1h-1zM113 42h2v1h-2zM87 43h1v1h-1zM93 43h1v1h-1zM109 43h4v1h-4zM114 43h4v1h-4zM83 44h1v1h-1zM87 44h1v1h-1zM93 44h1v1h-1zM105 44h3v1h-3zM117 44h7v1h-7zM82 45h1v1h-1zM86 45h2v1h-2zM95 45h8v1h-8zM82 46h5v1h-5zM44 52h1v1h-1zM32 54h1v1h-1zM36 54h1v1h-1zM15 70h1v1h-1zM28 74h1v1h-1zM22 75h1v1h-1zM24 75h1v1h-1zM114 78h3v1h-3zM102 79h4v1h-4zM95 80h3v1h-3zM85 81h2v1h-2zM72 82h3v1h-3zM67 83h2v1h-2zM64 84h1v1h-1zM41 87h2v1h-2zM44 88h1v1h-1zM59 88h1v1h-1zM39 89h1v1h-1zM54 89h3v1h-3zM46 90h1v1h-1zM51 90h1v1h-1zM47 91h2v1h-2zM38 92h1v1h-1zM38 93h1v1h-1zM38 98h1v1h-1zM38 99h1v1h-1zM37 101h1v1h-1zM36 102h1v1h-1zM35 103h1v1h-1zM33 104h1v1h-1zM32 105h1v1h-1zM31 107h1v1h-1zM15 109h1v1h-1zM19 109h2v1h-2zM30 109h1v1h-1zM23 110h2v1h-2zM28 110h2v1h-2zM11 111h1v1h-1zM6 112h4v1h-4z"/>
<path fill="#00ff4c" d="M14 0h6v1h-6zM43 0h1v1h-1zM61 0h1v1h-1zM68 0h1v1h-1zM83 0h1v1h-1zM102 0h1v1h-1zM14 1h6v1h-6zM43 1h1v1h-1zM61 1h1v1h-1zM68 1h1v1h-1zM83 1h1v1h-1zM102 1h1v1h-1zM14 2h6v1h-6zM43 2h1v1h-1zM61 2h1v1h-1zM68 2h1v1h-1zM83 2h1v1h-1zM102 2h1v1h-1zM14 3h6v1h-6zM43 3h1v1h-1zM61 3h1v1h-1zM68 3h1v1h-1zM83 3h1v1h-1zM102 3h1v1h-1zM13 4h6v1h-6zM41 4h2v1h-2zM61 4h1v1h-1zM68 4h1v1h-1zM102 4h1v1h-1zM10 5h8v1h-8zM37 5h4v1h-4zM61 5h2v1h-2zM67 5h2v1h-2zM84 5h1v1h-1zM90 5h1v1h-1zM101 5h1v1h-1zM7 6h10v1h-10zM33 6h3v1h-3zM62 6h1v1h-1zM67 6h1v1h-1zM85 6h1v1h-1zM6 7h11v1h-11zM31 7h3v1h-3zM63 7h4v1h-4zM87 7h2v1h-2zM100 7h1v1h-1zM6 8h4v1h-4zM13 8h6v1h-6zM30 8h2v1h-2zM64 8h2v1h-2zM6 9h9v1h-9zM18 9h3v1h-3zM29 9h3v1h-3zM9 10h2v1h-2zM21 10h3v1h-3zM28 10h3v1h-3zM26 11h5v1h-5zM29 12h2v1h-2zM30 13h2v1h-2zM100 13h1v1h-1zM31 14h2v1h-2zM32 15h1v1h-1zM76 16h1v1h-1zM79 16h2v1h-2zM75 17h1v1h-1zM82 17h1v1h-1zM103 17h1v1h-1zM83 18h1v1h-1zM103 18h1v1h-1zM74 19h1v1h-1zM85 20h1v1h-1zM103 20h1v1h-1zM73 21h1v1h-1zM86 21h1v1h-1zM103 21h1v1h-1zM72 22h1v1h-1zM87 22h1v1h-1zM71 23h1v1h-1zM102 23h1v1h-1zM70 24h1v1h-1zM91 24h1v1h-1zM101 24h1v1h-1zM99 25h2v1h-2zM69 26h1v1h-1zM96 26h1v1h-1zM68 27h1v1h-1zM67 28h1v1h-1zM66 29h1v1h-1zM98 29h1v1h-1zM103 29h1v1h-1zM98 31h1v1h-1zM99 32h1v1h-1zM109 32h1v1h-1zM73 33h1v1h-1zM93 33h1v1h-1zM96 33h1v1h-1zM110 33h1v1h-1zM70 34h1v1h-1zM76 34h1v1h-1zM91 34h1v1h-1zM97 34h1v1h-1zM105 34h1v1h-1zM120 34h4v1h-4zM69 35h1v1h-1zM112 35h1v1h-1zM118 35h2v1h-2zM76 36h1v1h-1zM97 36h1v1h-1zM116 36h2v1h-2zM57 37h1v1h-1zM85 37h1v1h-1zM96 37h1v1h-1zM55 38h1v1h-1zM83 38h1v1h-1zM95 38h1v1h-1zM97 38h1v1h-1zM54 39h1v1h-1zM75 39h1v1h-1zM94 39h3v1h-3zM53 40h1v1h-1zM91 40h4v1h-4zM89 41h2v1h-2zM93 41h1v1h-1zM83 42h1v1h-1zM88 42h2v1h-2zM92 42h1v1h-1zM83 43h1v1h-1zM88 43h5v1h-5zM113 43h1v1h-1zM82 44h1v1h-1zM88 44h5v1h-5zM108 44h3v1h-3zM114 44h3v1h-3zM48 45h1v1h-1zM88 45h7v1h-7zM103 45h3v1h-3zM117 45h7v1h-7zM81 46h1v1h-1zM87 46h1v1h-1zM96 46h5v1h-5zM82 47h5v1h-5zM83 48h2v1h-2zM36 53h1v1h-1zM16 71h1v1h-1zM17 73h1v1h-1zM18 74h1v1h-1zM21 75h1v1h-1zM117 77h7v1h-7zM107 78h7v1h-7zM99 79h3v1h-3zM90 80h5v1h-5zM83 81h2v1h-2zM70 82h2v1h-2zM66 83h1v1h-1zM62 85h1v1h-1zM61 86h1v1h-1zM40 87h1v1h-1zM43 87h1v1h-1zM60 87h1v1h-1zM39 88h1v1h-1zM57 88h2v1h-2zM45 89h1v1h-1zM52 89h2v1h-2zM38 90h1v1h-1zM47 90h4v1h-4zM38 91h1v1h-1zM37 96h1v1h-1zM37 97h1v1h-1zM34 103h1v1h-1zM31 106h1v1h-1zM30 107h1v1h-1zM30 108h1v1h-1zM14 109h1v1h-1zM21 109h2v1h-2zM28 109h2v1h-2zM12 110h1v1h-1zM25 110h3v1h-3zM9 111h2v1h-2zM0 112h6v1h-6z"/>
<path fill="#00ff44" d="M20 0h9v1h-9zM41 0h2v1h-2zM62 0h2v1h-2zM66 0h2v1h-2zM84 0h1v1h-1zM90 0h1v1h-1zM103 0h1v1h-1zM20 1h9v1h-9zM41 1h2v1h-2zM62 1h2v1h-2zM66 1h2v1h-2zM84 1h1v1h-1zM90 1h1v1h-1zM103 1h1v1h-1zM20 2h9v1h-9zM41 2h2v1h-2zM62 2h2v1h-2zM66 2h2v1h-2zM84 2h1v1h-1zM90 2h1v1h-1zM103 2h1v1h-1zM20 3h9v1h-9zM32 3h2v1h-2zM41 3h2v1h-2zM62 3h2v1h-2zM66 3h2v1h-2zM84 3h1v1h-1zM90 3h1v1h-1zM103 3h1v1h-1zM19 4h22v1h-22zM62 4h3v1h-3zM66 4h2v1h-2zM84 4h1v1h-1zM90 4h1v1h-1zM103 4h1v1h-1zM18 5h19v1h-19zM63 5h4v1h-4zM85 5h1v1h-1zM89 5h1v1h-1zM102 5h1v1h-1zM17 6h6v1h-6zM27 6h6v1h-6zM63 6h4v1h-4zM86 6h4v1h-4zM101 6h1v1h-1zM17 7h5v1h-5zM27 7h4v1h-4zM10 8h3v1h-3zM19 8h3v1h-3zM27 8h3v1h-3zM100 8h1v1h-1zM21 9h8v1h-8zM24 10h4v1h-4zM100 12h1v1h-1zM101 14h1v1h-1zM102 15h1v1h-1zM77 16h2v1h-2zM103 16h1v1h-1zM76 17h1v1h-1zM80 17h2v1h-2zM75 18h1v1h-1zM75 19h1v1h-1zM84 19h1v1h-1zM74 20h1v1h-1zM103 22h1v1h-1zM88 23h1v1h-1zM70 25h1v1h-1zM93 25h1v1h-1zM101 25h2v1h-2zM95 26h1v1h-1zM97 26h2v1h-2zM100 26h1v1h-1zM104 26h1v1h-1zM68 28h1v1h-1zM65 30h1v1h-1zM97 31h1v1h-1zM102 31h1v1h-1zM107 31h3v1h-3zM96 32h3v1h-3zM106 32h1v1h-1zM110 32h1v1h-1zM62 33h1v1h-1zM71 33h2v1h-2zM74 33h2v1h-2zM97 33h3v1h-3zM119 33h5v1h-5zM61 34h1v1h-1zM98 34h1v1h-1zM111 34h1v1h-1zM118 34h2v1h-2zM60 35h1v1h-1zM113 35h1v1h-1zM116 35h2v1h-2zM59 36h1v1h-1zM68 36h1v1h-1zM87 36h1v1h-1zM58 37h1v1h-1zM97 37h1v1h-1zM99 37h1v1h-1zM56 38h1v1h-1zM96 38h1v1h-1zM55 39h1v1h-1zM91 41h2v1h-2zM90 42h2v1h-2zM50 43h1v1h-1zM111 44h3v1h-3zM81 45h1v1h-1zM106 45h2v1h-2zM114 45h3v1h-3zM88 46h8v1h-8zM101 46h3v1h-3zM117 46h7v1h-7zM81 47h1v1h-1zM87 47h2v1h-2zM95 47h4v1h-4zM119 47h5v1h-5zM81 48h2v1h-2zM85 48h3v1h-3zM83 49h3v1h-3zM40 54h1v1h-1zM36 55h3v1h-3zM30 58h1v1h-1zM29 65h1v1h-1zM30 67h1v1h-1zM13 69h1v1h-1zM30 73h1v1h-1zM25 75h1v1h-1zM115 77h2v1h-2zM103 78h4v1h-4zM96 79h3v1h-3zM87 80h3v1h-3zM75 81h8v1h-8zM69 82h1v1h-1zM65 83h1v1h-1zM63 84h1v1h-1zM41 86h3v1h-3zM60 86h1v1h-1zM44 87h1v1h-1zM59 87h1v1h-1zM45 88h1v1h-1zM54 88h3v1h-3zM38 89h1v1h-1zM46 89h1v1h-1zM50 89h2v1h-2zM37 94h1v1h-1zM37 95h1v1h-1zM37 100h1v1h-1zM36 101h1v1h-1zM35 102h1v1h-1zM33 103h1v1h-1zM32 104h1v1h-1zM31 105h1v1h-1zM30 106h1v1h-1zM16 108h5v1h-5zM29 108h1v1h-1zM13 109h1v1h-1zM23 109h5v1h-5zM11 110h1v1h-1zM0 111h9v1h-9z"/>
<path fill="#00ff3b" d="M29 0h12v1h-12zM64 0h2v1h-2zM85 0h1v1h-1zM89 0h1v1h-1zM104 0h2v1h-2zM29 1h12v1h-12zM64 1h2v1h-2zM85 1h1v1h-1zM89 1h1v1h-1zM104 1h2v1h-2zM29 2h12v1h-12zM64 2h2v1h-2zM85 2h1v1h-1zM89 2h1v1h-1zM104 2h2v1h-2zM29 3h3v1h-3zM34 3h7v1h-7zM64 3h2v1h-2zM85 3h1v1h-1zM89 3h1v1h-1zM104 3h1v1h-1zM65 4h1v1h-1zM85 4h2v1h-2zM89 4h1v1h-1zM104 4h1v1h-1zM86 5h3v1h-3zM103 5h1v1h-1zM23 6h4v1h-4zM102 6h1v1h-1zM22 7h5v1h-5zM101 7h1v1h-1zM22 8h5v1h-5zM100 9h1v1h-1zM100 10h1v1h-1zM100 11h1v1h-1zM101 13h1v1h-1zM102 14h1v1h-1zM103 15h1v1h-1zM104 16h1v1h-1zM77 17h3v1h-3zM104 17h1v1h-1zM76 18h2v1h-2zM81 18h2v1h-2zM104 18h1v1h-1zM76 19h1v1h-1zM83 19h1v1h-1zM104 19h1v1h-1zM75 20h1v1h-1zM84 20h1v1h-1zM104 20h1v1h-1zM74 21h1v1h-1zM85 21h1v1h-1zM73 22h1v1h-1zM86 22h1v1h-1zM72 23h1v1h-1zM103 23h1v1h-1zM71 24h1v1h-1zM90 24h1v1h-1zM102 24h1v1h-1zM70 26h1v1h-1zM94 26h1v1h-1zM99 26h1v1h-1zM69 27h1v1h-1zM95 27h3v1h-3zM99 27h1v1h-1zM98 28h1v1h-1zM67 29h1v1h-1zM107 30h3v1h-3zM64 31h1v1h-1zM106 31h1v1h-1zM110 31h1v1h-1zM119 31h5v1h-5zM63 32h1v1h-1zM95 32h1v1h-1zM101 32h1v1h-1zM111 32h1v1h-1zM118 32h6v1h-6zM70 33h1v1h-1zM76 33h1v1h-1zM105 33h1v1h-1zM111 33h1v1h-1zM117 33h2v1h-2zM69 34h1v1h-1zM77 34h1v1h-1zM112 34h1v1h-1zM116 34h2v1h-2zM77 35h1v1h-1zM89 35h1v1h-1zM98 35h1v1h-1zM103 35h1v1h-1zM114 35h2v1h-2zM101 36h1v1h-1zM67 37h1v1h-1zM76 37h1v1h-1zM84 37h1v1h-1zM98 37h1v1h-1zM54 40h1v1h-1zM82 40h1v1h-1zM53 41h1v1h-1zM82 41h1v1h-1zM74 43h1v1h-1zM82 43h1v1h-1zM49 44h1v1h-1zM73 44h1v1h-1zM108 45h6v1h-6zM80 46h1v1h-1zM104 46h3v1h-3zM114 46h3v1h-3zM80 47h1v1h-1zM89 47h6v1h-6zM99 47h4v1h-4zM116 47h3v1h-3zM80 48h1v1h-1zM88 48h11v1h-11zM117 48h7v1h-7zM81 49h2v1h-2zM86 49h7v1h-7zM119 49h5v1h-5zM47 50h1v1h-1zM82 50h10v1h-10zM86 51h6v1h-6zM87 52h4v1h-4zM41 54h1v1h-1zM32 55h4v1h-4zM39 55h1v1h-1zM29 74h1v1h-1zM117 76h7v1h-7zM106 77h9v1h-9zM100 78h3v1h-3zM93 79h3v1h-3zM85 80h2v1h-2zM72 81h3v1h-3zM67 82h2v1h-2zM64 83h1v1h-1zM62 84h1v1h-1zM61 85h1v1h-1zM40 86h1v1h-1zM39 87h1v1h-1zM45 87h1v1h-1zM57 87h2v1h-2zM38 88h1v1h-1zM46 88h1v1h-1zM52 88h2v1h-2zM47 89h3v1h-3zM37 93h1v1h-1zM37 98h1v1h-1zM37 99h1v1h-1zM34 102h1v1h-1zM31 104h1v1h-1zM30 105h1v1h-1zM29 107h1v1h-1zM14 108h2v1h-2zM21 108h2v1h-2zM27 108h2v1h-2zM12 109h1v1h-1zM8 110h3v1h-3z"/>
<path fill="#00ff5d" d="M45 0h1v1h-1zM59 0h1v1h-1zM100 0h1v1h-1zM45 1h1v1h-1zM59 1h1v1h-1zM100 1h1v1h-1zM45 2h1v1h-1zM59 2h1v1h-1zM100 2h1v1h-1zM45 3h1v1h-1zM59 3h1v1h-1zM70 3h1v1h-1zM82 3h1v1h-1zM100 3h1v1h-1zM44 4h1v1h-1zM59 4h1v1h-1zM70 4h1v1h-1zM82 4h1v1h-1zM100 4h1v1h-1zM42 5h2v1h-2zM70 5h1v1h-1zM91 5h1v1h-1zM100 5h1v1h-1zM38 6h3v1h-3zM60 6h1v1h-1zM69 6h1v1h-1zM91 6h1v1h-1zM99 6h1v1h-1zM36 7h1v1h-1zM61 7h1v1h-1zM68 7h1v1h-1zM85 7h1v1h-1zM90 7h1v1h-1zM99 7h1v1h-1zM34 8h1v1h-1zM61 8h1v1h-1zM68 8h1v1h-1zM86 8h2v1h-2zM89 8h1v1h-1zM33 9h1v1h-1zM62 9h1v1h-1zM67 9h1v1h-1zM15 10h4v1h-4zM33 10h1v1h-1zM63 10h4v1h-4zM0 11h12v1h-12zM22 11h2v1h-2zM33 11h1v1h-1zM64 11h1v1h-1zM26 12h1v1h-1zM33 12h1v1h-1zM27 13h2v1h-2zM34 13h1v1h-1zM99 13h1v1h-1zM29 14h1v1h-1zM34 14h1v1h-1zM76 14h3v1h-3zM35 15h1v1h-1zM75 15h1v1h-1zM80 15h1v1h-1zM31 16h1v1h-1zM35 16h1v1h-1zM51 16h3v1h-3zM74 16h1v1h-1zM82 16h1v1h-1zM33 17h3v1h-3zM50 17h4v1h-4zM83 17h1v1h-1zM102 17h1v1h-1zM73 18h1v1h-1zM85 19h1v1h-1zM72 20h1v1h-1zM86 20h1v1h-1zM71 21h1v1h-1zM102 21h1v1h-1zM70 23h1v1h-1zM101 23h1v1h-1zM100 24h1v1h-1zM96 25h2v1h-2zM68 26h1v1h-1zM67 27h1v1h-1zM66 28h1v1h-1zM99 28h1v1h-1zM99 31h1v1h-1zM61 33h1v1h-1zM107 33h3v1h-3zM72 34h3v1h-3zM95 34h1v1h-1zM59 35h1v1h-1zM70 35h1v1h-1zM75 35h1v1h-1zM90 35h1v1h-1zM96 35h1v1h-1zM88 36h1v1h-1zM96 36h1v1h-1zM115 36h1v1h-1zM86 37h1v1h-1zM95 37h1v1h-1zM119 37h5v1h-5zM54 38h1v1h-1zM75 38h1v1h-1zM85 38h1v1h-1zM94 38h1v1h-1zM99 38h1v1h-1zM118 38h1v1h-1zM53 39h1v1h-1zM84 39h1v1h-1zM91 39h2v1h-2zM52 40h1v1h-1zM83 40h1v1h-1zM89 40h1v1h-1zM96 40h1v1h-1zM114 40h3v1h-3zM51 41h1v1h-1zM87 41h1v1h-1zM95 41h1v1h-1zM112 41h5v1h-5zM85 42h1v1h-1zM94 42h1v1h-1zM110 42h3v1h-3zM115 42h4v1h-4zM72 43h1v1h-1zM84 43h3v1h-3zM94 43h1v1h-1zM107 43h2v1h-2zM118 43h6v1h-6zM84 44h3v1h-3zM94 44h3v1h-3zM103 44h2v1h-2zM83 45h3v1h-3zM47 46h1v1h-1zM47 49h1v1h-1zM41 51h1v1h-1zM33 54h2v1h-2zM29 66h1v1h-1zM8 68h3v1h-3zM30 72h1v1h-1zM23 75h1v1h-1zM117 78h7v1h-7zM106 79h7v1h-7zM98 80h2v1h-2zM87 81h3v1h-3zM75 82h9v1h-9zM69 83h2v1h-2zM65 84h1v1h-1zM63 85h1v1h-1zM62 86h1v1h-1zM61 87h1v1h-1zM40 88h1v1h-1zM43 88h1v1h-1zM60 88h1v1h-1zM44 89h1v1h-1zM57 89h2v1h-2zM39 90h1v1h-1zM45 90h1v1h-1zM52 90h2v1h-2zM46 91h1v1h-1zM49 91h2v1h-2zM38 94h1v1h-1zM38 95h1v1h-1zM38 100h1v1h-1zM37 102h1v1h-1zM34 104h1v1h-1zM33 105h1v1h-1zM32 106h1v1h-1zM31 108h1v1h-1zM16 109h3v1h-3zM31 109h1v1h-1zM13 110h1v1h-1zM22 110h1v1h-1zM30 110h1v1h-1zM12 111h1v1h-1zM24 111h6v1h-6zM10 112h1v1h-1zM0 113h8v1h-8z"/>
<path fill="#00ff65" d="M46 0h1v1h-1zM58 0h1v1h-1zM71 0h1v1h-1zM81 0h1v1h-1zM92 0h1v1h-1zM46 1h1v1h-1zM58 1h1v1h-1zM71 1h1v1h-1zM81 1h1v1h-1zM92 1h1v1h-1zM46 2h1v1h-1zM58 2h1v1h-1zM71 2h1v1h-1zM81 2h1v1h-1zM92 2h1v1h-1zM46 3h1v1h-1zM58 3h1v1h-1zM71 3h1v1h-1zM81 3h1v1h-1zM92 3h1v1h-1zM45 4h1v1h-1zM58 4h1v1h-1zM71 4h1v1h-1zM81 4h1v1h-1zM92 4h1v1h-1zM99 4h1v1h-1zM44 5h1v1h-1zM59 5h1v1h-1zM71 5h1v1h-1zM82 5h1v1h-1zM92 5h1v1h-1zM99 5h1v1h-1zM41 6h1v1h-1zM59 6h1v1h-1zM70 6h1v1h-1zM83 6h1v1h-1zM37 7h2v1h-2zM60 7h1v1h-1zM69 7h1v1h-1zM84 7h1v1h-1zM91 7h1v1h-1zM35 8h1v1h-1zM60 8h1v1h-1zM69 8h1v1h-1zM85 8h1v1h-1zM90 8h1v1h-1zM98 8h1v1h-1zM34 9h1v1h-1zM61 9h1v1h-1zM68 9h1v1h-1zM87 9h3v1h-3zM98 9h1v1h-1zM34 10h1v1h-1zM62 10h1v1h-1zM67 10h1v1h-1zM98 10h1v1h-1zM12 11h3v1h-3zM20 11h2v1h-2zM34 11h1v1h-1zM62 11h2v1h-2zM65 11h2v1h-2zM98 11h1v1h-1zM0 12h9v1h-9zM24 12h2v1h-2zM34 12h1v1h-1zM64 12h1v1h-1zM35 13h1v1h-1zM28 14h1v1h-1zM35 14h1v1h-1zM75 14h1v1h-1zM79 14h1v1h-1zM99 14h1v1h-1zM29 15h1v1h-1zM36 15h1v1h-1zM51 15h3v1h-3zM74 15h1v1h-1zM81 15h1v1h-1zM100 15h1v1h-1zM36 16h1v1h-1zM49 16h2v1h-2zM54 16h2v1h-2zM73 16h1v1h-1zM83 16h1v1h-1zM101 16h1v1h-1zM36 17h1v1h-1zM49 17h1v1h-1zM54 17h2v1h-2zM73 17h1v1h-1zM84 17h1v1h-1zM34 18h2v1h-2zM50 18h6v1h-6zM72 18h1v1h-1zM85 18h1v1h-1zM102 18h1v1h-1zM72 19h1v1h-1zM102 19h1v1h-1zM71 20h1v1h-1zM102 20h1v1h-1zM87 21h1v1h-1zM70 22h1v1h-1zM88 22h1v1h-1zM90 23h1v1h-1zM69 24h1v1h-1zM93 24h1v1h-1zM99 24h1v1h-1zM100 27h1v1h-1zM64 29h1v1h-1zM63 30h1v1h-1zM100 31h1v1h-1zM60 34h1v1h-1zM92 34h1v1h-1zM94 34h1v1h-1zM106 34h1v1h-1zM109 34h1v1h-1zM95 35h1v1h-1zM105 35h1v1h-1zM110 35h1v1h-1zM0 36h3v1h-3zM57 36h1v1h-1zM69 36h1v1h-1zM75 36h1v1h-1zM89 36h1v1h-1zM95 36h1v1h-1zM114 36h1v1h-1zM55 37h1v1h-1zM75 37h1v1h-1zM87 37h2v1h-2zM94 37h1v1h-1zM101 37h1v1h-1zM116 37h1v1h-1zM53 38h1v1h-1zM86 38h2v1h-2zM91 38h3v1h-3zM117 38h1v1h-1zM119 38h5v1h-5zM52 39h1v1h-1zM85 39h1v1h-1zM89 39h2v1h-2zM98 39h1v1h-1zM117 39h7v1h-7zM84 40h1v1h-1zM88 40h1v1h-1zM97 40h1v1h-1zM112 40h2v1h-2zM117 40h7v1h-7zM74 41h1v1h-1zM84 41h3v1h-3zM96 41h1v1h-1zM111 41h1v1h-1zM117 41h7v1h-7zM50 42h1v1h-1zM95 42h1v1h-1zM109 42h1v1h-1zM119 42h5v1h-5zM49 43h1v1h-1zM73 43h1v1h-1zM95 43h2v1h-2zM105 43h2v1h-2zM97 44h6v1h-6zM45 52h1v1h-1zM35 54h1v1h-1zM11 68h1v1h-1zM30 68h1v1h-1zM14 69h1v1h-1zM113 79h3v1h-3zM100 80h5v1h-5zM90 81h7v1h-7zM84 82h2v1h-2zM71 83h2v1h-2zM66 84h1v1h-1zM64 85h1v1h-1zM63 86h1v1h-1zM62 87h1v1h-1zM41 88h2v1h-2zM61 88h1v1h-1zM40 89h1v1h-1zM43 89h1v1h-1zM59 89h1v1h-1zM44 90h1v1h-1zM54 90h3v1h-3zM39 91h1v1h-1zM45 91h1v1h-1zM51 91h1v1h-1zM39 92h1v1h-1zM47 92h3v1h-3zM38 96h1v1h-1zM38 97h1v1h-1zM39 99h1v1h-1zM38 101h1v1h-1zM36 103h1v1h-1zM35 104h1v1h-1zM33 106h1v1h-1zM32 107h1v1h-1zM32 108h1v1h-1zM32 109h1v1h-1zM14 110h1v1h-1zM20 110h2v1h-2zM31 110h1v1h-1zM23 111h1v1h-1zM30 111h2v1h-2zM11 112h1v1h-1zM25 112h6v1h-6zM8 113h2v1h-2zM0 114h6v1h-6z"/>
<path fill="#00ff6c" d="M47 0h1v1h-1zM57 0h1v1h-1zM72 0h2v1h-2zM80 0h1v1h-1zM93 0h1v1h-1zM99 0h1v1h-1zM47 1h1v1h-1zM57 1h1v1h-1zM72 1h2v1h-2zM80 1h1v1h-1zM93 1h1v1h-1zM99 1h1v1h-1zM47 2h1v1h-1zM57 2h1v1h-1zM72 2h2v1h-2zM80 2h1v1h-1zM93 2h1v1h-1zM99 2h1v1h-1zM47 3h1v1h-1zM57 3h1v1h-1zM72 3h1v1h-1zM80 3h1v1h-1zM93 3h1v1h-1zM99 3h1v1h-1zM46 4h1v1h-1zM57 4h1v1h-1zM72 4h1v1h-1zM80 4h1v1h-1zM45 5h1v1h-1zM58 5h1v1h-1zM72 5h1v1h-1zM81 5h1v1h-1zM42 6h2v1h-2zM58 6h1v1h-1zM71 6h1v1h-1zM82 6h1v1h-1zM92 6h1v1h-1zM98 6h1v1h-1zM39 7h1v1h-1zM59 7h1v1h-1zM70 7h2v1h-2zM83 7h1v1h-1zM98 7h1v1h-1zM36 8h1v1h-1zM59 8h1v1h-1zM70 8h1v1h-1zM84 8h1v1h-1zM35 9h1v1h-1zM60 9h1v1h-1zM69 9h1v1h-1zM86 9h1v1h-1zM90 9h1v1h-1zM35 10h1v1h-1zM61 10h1v1h-1zM68 10h1v1h-1zM87 10h2v1h-2zM15 11h5v1h-5zM35 11h1v1h-1zM61 11h1v1h-1zM67 11h1v1h-1zM9 12h3v1h-3zM23 12h1v1h-1zM35 12h1v1h-1zM62 12h2v1h-2zM65 12h2v1h-2zM98 12h1v1h-1zM0 13h6v1h-6zM26 13h1v1h-1zM64 13h1v1h-1zM75 13h4v1h-4zM27 14h1v1h-1zM36 14h1v1h-1zM52 14h2v1h-2zM74 14h1v1h-1zM80 14h1v1h-1zM28 15h1v1h-1zM49 15h2v1h-2zM54 15h2v1h-2zM73 15h1v1h-1zM82 15h1v1h-1zM30 16h1v1h-1zM37 16h1v1h-1zM48 16h1v1h-1zM56 16h1v1h-1zM100 16h1v1h-1zM37 17h1v1h-1zM48 17h1v1h-1zM56 17h1v1h-1zM72 17h1v1h-1zM101 17h1v1h-1zM36 18h1v1h-1zM48 18h2v1h-2zM56 18h2v1h-2zM34 19h2v1h-2zM50 19h7v1h-7zM71 19h1v1h-1zM86 19h1v1h-1zM70 21h1v1h-1zM101 22h1v1h-1zM69 23h1v1h-1zM91 23h1v1h-1zM100 23h1v1h-1zM94 24h1v1h-1zM98 24h1v1h-1zM68 25h1v1h-1zM67 26h1v1h-1zM101 26h1v1h-1zM66 27h1v1h-1zM65 28h1v1h-1zM99 30h1v1h-1zM102 30h1v1h-1zM62 31h1v1h-1zM101 31h1v1h-1zM93 34h1v1h-1zM107 34h2v1h-2zM71 35h4v1h-4zM91 35h1v1h-1zM94 35h1v1h-1zM3 36h2v1h-2zM56 36h1v1h-1zM90 36h1v1h-1zM94 36h1v1h-1zM103 36h1v1h-1zM113 36h1v1h-1zM54 37h1v1h-1zM89 37h5v1h-5zM88 38h3v1h-3zM100 38h1v1h-1zM86 39h3v1h-3zM116 39h1v1h-1zM51 40h1v1h-1zM74 40h1v1h-1zM85 40h3v1h-3zM111 40h1v1h-1zM50 41h1v1h-1zM97 41h1v1h-1zM110 41h1v1h-1zM49 42h1v1h-1zM71 42h1v1h-1zM96 42h1v1h-1zM107 42h2v1h-2zM97 43h8v1h-8zM48 44h1v1h-1zM47 45h1v1h-1zM46 50h1v1h-1zM45 51h1v1h-1zM31 56h1v1h-1zM7 68h1v1h-1zM30 71h1v1h-1zM19 74h1v1h-1zM27 74h1v1h-1zM116 79h8v1h-8zM105 80h5v1h-5zM97 81h2v1h-2zM86 82h2v1h-2zM73 83h3v1h-3zM80 83h2v1h-2zM67 84h3v1h-3zM65 85h1v1h-1zM41 89h2v1h-2zM60 89h1v1h-1zM40 90h1v1h-1zM57 90h2v1h-2zM52 91h1v1h-1zM46 92h1v1h-1zM50 92h1v1h-1zM39 93h1v1h-1zM47 93h2v1h-2zM39 94h1v1h-1zM39 98h1v1h-1zM39 100h1v1h-1zM39 101h1v1h-1zM38 102h1v1h-1zM37 103h1v1h-1zM36 104h1v1h-1zM34 105h1v1h-1zM33 107h1v1h-1zM15 110h2v1h-2zM18 110h2v1h-2zM32 110h2v1h-2zM13 111h1v1h-1zM21 111h2v1h-2zM32 111h2v1h-2zM12 112h1v1h-1zM23 112h2v1h-2zM31 112h2v1h-2zM10 113h1v1h-1zM25 113h7v1h-7zM6 114h3v1h-3z"/>
<path fill="#00ff74" d="M48 0h1v1h-1zM56 0h1v1h-1zM74 0h1v1h-1zM79 0h1v1h-1zM98 0h1v1h-1zM48 1h1v1h-1zM56 1h1v1h-1zM74 1h1v1h-1zM79 1h1v1h-1zM98 1h1v1h-1zM48 2h1v1h-1zM56 2h1v1h-1zM74 2h1v1h-1zM79 2h1v1h-1zM98 2h1v1h-1zM48 3h1v1h-1zM56 3h1v1h-1zM73 3h2v1h-2zM79 3h1v1h-1zM98 3h1v1h-1zM47 4h2v1h-2zM56 4h1v1h-1zM73 4h2v1h-2zM79 4h1v1h-1zM93 4h1v1h-1zM98 4h1v1h-1zM46 5h1v1h-1zM56 5h2v1h-2zM73 5h1v1h-1zM80 5h1v1h-1zM93 5h1v1h-1zM98 5h1v1h-1zM44 6h1v1h-1zM57 6h1v1h-1zM72 6h2v1h-2zM81 6h1v1h-1zM40 7h1v1h-1zM58 7h1v1h-1zM72 7h1v1h-1zM82 7h1v1h-1zM92 7h1v1h-1zM37 8h1v1h-1zM71 8h1v1h-1zM91 8h1v1h-1zM36 9h1v1h-1zM59 9h1v1h-1zM70 9h1v1h-1zM85 9h1v1h-1zM60 10h1v1h-1zM69 10h1v1h-1zM86 10h1v1h-1zM89 10h1v1h-1zM60 11h1v1h-1zM68 11h1v1h-1zM88 11h1v1h-1zM12 12h1v1h-1zM22 12h1v1h-1zM61 12h1v1h-1zM67 12h1v1h-1zM75 12h4v1h-4zM6 13h3v1h-3zM25 13h1v1h-1zM36 13h1v1h-1zM62 13h2v1h-2zM65 13h2v1h-2zM74 13h1v1h-1zM79 13h1v1h-1zM98 13h1v1h-1zM0 14h4v1h-4zM50 14h2v1h-2zM54 14h2v1h-2zM73 14h1v1h-1zM81 14h1v1h-1zM37 15h1v1h-1zM48 15h1v1h-1zM56 15h1v1h-1zM72 15h1v1h-1zM83 15h1v1h-1zM99 15h1v1h-1zM47 16h1v1h-1zM57 16h1v1h-1zM72 16h1v1h-1zM84 16h1v1h-1zM32 17h1v1h-1zM38 17h1v1h-1zM46 17h2v1h-2zM57 17h1v1h-1zM71 17h1v1h-1zM85 17h1v1h-1zM37 18h1v1h-1zM47 18h1v1h-1zM58 18h1v1h-1zM71 18h1v1h-1zM86 18h1v1h-1zM101 18h1v1h-1zM33 19h1v1h-1zM36 19h1v1h-1zM48 19h2v1h-2zM57 19h2v1h-2zM101 19h1v1h-1zM52 20h7v1h-7zM70 20h1v1h-1zM87 20h1v1h-1zM101 20h1v1h-1zM88 21h1v1h-1zM101 21h1v1h-1zM69 22h1v1h-1zM89 22h1v1h-1zM68 24h1v1h-1zM95 24h3v1h-3zM103 26h1v1h-1zM99 29h1v1h-1zM61 32h1v1h-1zM58 35h1v1h-1zM92 35h2v1h-2zM109 35h1v1h-1zM5 36h1v1h-1zM55 36h1v1h-1zM70 36h1v1h-1zM74 36h1v1h-1zM91 36h3v1h-3zM112 36h1v1h-1zM0 37h5v1h-5zM53 37h1v1h-1zM68 37h1v1h-1zM102 37h1v1h-1zM52 38h1v1h-1zM101 38h1v1h-1zM51 39h1v1h-1zM74 39h1v1h-1zM99 39h1v1h-1zM113 39h3v1h-3zM50 40h1v1h-1zM98 40h1v1h-1zM49 41h1v1h-1zM68 41h1v1h-1zM98 41h1v1h-1zM108 41h2v1h-2zM73 42h1v1h-1zM97 42h10v1h-10zM48 43h1v1h-1zM45 47h1v1h-1zM46 51h1v1h-1zM31 53h2v1h-2zM28 63h1v1h-1zM28 64h1v1h-1zM6 68h1v1h-1zM12 68h1v1h-1zM30 70h1v1h-1zM17 72h1v1h-1zM110 80h4v1h-4zM99 81h3v1h-3zM88 82h7v1h-7zM76 83h4v1h-4zM82 83h3v1h-3zM70 84h3v1h-3zM66 85h1v1h-1zM64 86h1v1h-1zM63 87h1v1h-1zM62 88h1v1h-1zM61 89h1v1h-1zM41 90h3v1h-3zM59 90h1v1h-1zM40 91h1v1h-1zM44 91h1v1h-1zM53 91h3v1h-3zM40 92h1v1h-1zM45 92h1v1h-1zM51 92h1v1h-1zM46 93h1v1h-1zM49 93h1v1h-1zM39 95h1v1h-1zM39 97h1v1h-1zM39 102h1v1h-1zM38 103h2v1h-2zM37 104h2v1h-2zM35 105h2v1h-2zM34 106h1v1h-1zM34 107h1v1h-1zM33 108h1v1h-1zM33 109h1v1h-1zM17 110h1v1h-1zM34 110h1v1h-1zM14 111h1v1h-1zM20 111h1v1h-1zM34 111h1v1h-1zM22 112h1v1h-1zM33 112h2v1h-2zM11 113h1v1h-1zM24 113h1v1h-1zM32 113h2v1h-2zM9 114h2v1h-2zM25 114h8v1h-8zM0 115h8v1h-8zM26 115h5v1h-5z"/>
<path fill="#00ff7c" d="M49 0h2v1h-2zM54 0h2v1h-2zM75 0h4v1h-4zM94 0h4v1h-4zM49 1h2v1h-2zM54 1h2v1h-2zM75 1h4v1h-4zM94 1h4v1h-4zM49 2h2v1h-2zM54 2h2v1h-2zM75 2h4v1h-4zM94 2h4v1h-4zM49 3h2v1h-2zM54 3h2v1h-2zM75 3h4v1h-4zM94 3h4v1h-4zM49 4h1v1h-1zM55 4h1v1h-1zM75 4h4v1h-4zM94 4h1v1h-1zM97 4h1v1h-1zM47 5h2v1h-2zM55 5h1v1h-1zM74 5h2v1h-2zM78 5h2v1h-2zM94 5h1v1h-1zM97 5h1v1h-1zM45 6h2v1h-2zM56 6h1v1h-1zM74 6h1v1h-1zM79 6h2v1h-2zM93 6h1v1h-1zM97 6h1v1h-1zM41 7h2v1h-2zM57 7h1v1h-1zM73 7h2v1h-2zM81 7h1v1h-1zM97 7h1v1h-1zM38 8h1v1h-1zM58 8h1v1h-1zM72 8h2v1h-2zM82 8h2v1h-2zM92 8h1v1h-1zM97 8h1v1h-1zM37 9h1v1h-1zM58 9h1v1h-1zM71 9h2v1h-2zM84 9h1v1h-1zM91 9h1v1h-1zM97 9h1v1h-1zM36 10h1v1h-1zM59 10h1v1h-1zM70 10h1v1h-1zM85 10h1v1h-1zM90 10h1v1h-1zM97 10h1v1h-1zM36 11h1v1h-1zM59 11h1v1h-1zM69 11h2v1h-2zM74 11h4v1h-4zM86 11h2v1h-2zM89 11h1v1h-1zM97 11h1v1h-1zM13 12h2v1h-2zM20 12h2v1h-2zM36 12h1v1h-1zM60 12h1v1h-1zM68 12h2v1h-2zM73 12h2v1h-2zM79 12h1v1h-1zM97 12h1v1h-1zM9 13h1v1h-1zM24 13h1v1h-1zM51 13h5v1h-5zM60 13h2v1h-2zM67 13h2v1h-2zM72 13h2v1h-2zM80 13h1v1h-1zM4 14h3v1h-3zM26 14h1v1h-1zM37 14h1v1h-1zM48 14h2v1h-2zM56 14h2v1h-2zM61 14h7v1h-7zM72 14h1v1h-1zM82 14h1v1h-1zM98 14h1v1h-1zM38 15h1v1h-1zM47 15h1v1h-1zM57 15h2v1h-2zM71 15h1v1h-1zM84 15h1v1h-1zM38 16h1v1h-1zM46 16h1v1h-1zM58 16h1v1h-1zM71 16h1v1h-1zM85 16h1v1h-1zM99 16h1v1h-1zM45 17h1v1h-1zM58 17h2v1h-2zM70 17h1v1h-1zM86 17h1v1h-1zM100 17h1v1h-1zM33 18h1v1h-1zM38 18h1v1h-1zM46 18h1v1h-1zM59 18h1v1h-1zM70 18h1v1h-1zM37 19h1v1h-1zM47 19h1v1h-1zM59 19h1v1h-1zM70 19h1v1h-1zM87 19h1v1h-1zM34 20h3v1h-3zM49 20h3v1h-3zM59 20h1v1h-1zM54 21h5v1h-5zM69 21h1v1h-1zM100 22h1v1h-1zM68 23h1v1h-1zM92 23h1v1h-1zM99 23h1v1h-1zM67 25h1v1h-1zM66 26h1v1h-1zM65 27h1v1h-1zM64 28h1v1h-1zM103 28h1v1h-1zM63 29h1v1h-1zM62 30h1v1h-1zM100 30h1v1h-1zM60 33h1v1h-1zM59 34h1v1h-1zM106 35h1v1h-1zM6 36h1v1h-1zM54 36h1v1h-1zM52 37h1v1h-1zM70 37h1v1h-1zM74 37h1v1h-1zM115 37h1v1h-1zM51 38h1v1h-1zM67 38h1v1h-1zM74 38h1v1h-1zM116 38h1v1h-1zM100 39h1v1h-1zM99 40h1v1h-1zM110 40h1v1h-1zM99 41h3v1h-3zM107 41h1v1h-1zM48 42h1v1h-1zM47 43h1v1h-1zM47 44h1v1h-1zM46 46h1v1h-1zM33 53h2v1h-2zM28 61h1v1h-1zM28 62h1v1h-1zM0 68h6v1h-6zM30 69h1v1h-1zM16 70h1v1h-1zM20 74h1v1h-1zM26 74h1v1h-1zM114 80h6v1h-6zM102 81h7v1h-7zM95 82h3v1h-3zM85 83h1v1h-1zM73 84h2v1h-2zM67 85h3v1h-3zM65 86h1v1h-1zM64 87h1v1h-1zM63 88h1v1h-1zM62 89h1v1h-1zM60 90h1v1h-1zM41 91h3v1h-3zM56 91h3v1h-3zM44 92h1v1h-1zM52 92h1v1h-1zM40 93h1v1h-1zM45 93h1v1h-1zM50 93h1v1h-1zM40 94h1v1h-1zM46 94h4v1h-4zM39 96h1v1h-1zM40 97h1v1h-1zM40 98h1v1h-1zM40 99h1v1h-1zM40 100h1v1h-1zM40 101h1v1h-1zM40 102h1v1h-1zM40 103h1v1h-1zM39 104h2v1h-2zM37 105h3v1h-3zM35 106h2v1h-2zM35 107h1v1h-1zM34 108h1v1h-1zM34 109h2v1h-2zM35 110h1v1h-1zM15 111h1v1h-1zM19 111h1v1h-1zM35 111h1v1h-1zM13 112h1v1h-1zM21 112h1v1h-1zM35 112h1v1h-1zM12 113h1v1h-1zM22 113h2v1h-2zM34 113h2v1h-2zM11 114h1v1h-1zM23 114h2v1h-2zM33 114h2v1h-2zM8 115h2v1h-2zM24 115h2v1h-2zM31 115h2v1h-2zM0 116h7v1h-7zM25 116h6v1h-6zM25 117h5v1h-5zM25 118h4v1h-4zM26 119h3v1h-3zM26 120h3v1h-3zM26 121h2v1h-2zM26 122h2v1h-2zM26 123h2v1h-2z"/>
<path fill="#00ff83" d="M51 0h3v1h-3zM51 1h3v1h-3zM51 2h3v1h-3zM51 3h3v1h-3zM50 4h5v1h-5zM95 4h2v1h-2zM49 5h2v1h-2zM53 5h2v1h-2zM76 5h2v1h-2zM95 5h2v1h-2zM47 6h2v1h-2zM55 6h1v1h-1zM75 6h4v1h-4zM94 6h3v1h-3zM43 7h2v1h-2zM56 7h1v1h-1zM75 7h6v1h-6zM93 7h1v1h-1zM96 7h1v1h-1zM39 8h2v1h-2zM56 8h2v1h-2zM74 8h4v1h-4zM80 8h2v1h-2zM96 8h1v1h-1zM38 9h1v1h-1zM57 9h1v1h-1zM73 9h5v1h-5zM83 9h1v1h-1zM92 9h1v1h-1zM37 10h1v1h-1zM57 10h2v1h-2zM71 10h8v1h-8zM84 10h1v1h-1zM91 10h1v1h-1zM58 11h1v1h-1zM71 11h3v1h-3zM78 11h2v1h-2zM85 11h1v1h-1zM90 11h1v1h-1zM15 12h5v1h-5zM37 12h1v1h-1zM53 12h7v1h-7zM70 12h3v1h-3zM80 12h1v1h-1zM86 12h4v1h-4zM10 13h2v1h-2zM23 13h1v1h-1zM37 13h1v1h-1zM49 13h2v1h-2zM56 13h4v1h-4zM69 13h3v1h-3zM81 13h2v1h-2zM86 13h3v1h-3zM97 13h1v1h-1zM7 14h1v1h-1zM38 14h1v1h-1zM47 14h1v1h-1zM58 14h3v1h-3zM68 14h4v1h-4zM83 14h3v1h-3zM0 15h5v1h-5zM27 15h1v1h-1zM46 15h1v1h-1zM59 15h12v1h-12zM85 15h2v1h-2zM98 15h1v1h-1zM29 16h1v1h-1zM39 16h1v1h-1zM45 16h1v1h-1zM59 16h3v1h-3zM69 16h2v1h-2zM86 16h1v1h-1zM39 17h1v1h-1zM44 17h1v1h-1zM60 17h1v1h-1zM69 17h1v1h-1zM39 18h1v1h-1zM45 18h1v1h-1zM60 18h1v1h-1zM69 18h1v1h-1zM87 18h1v1h-1zM100 18h1v1h-1zM38 19h1v1h-1zM46 19h1v1h-1zM60 19h1v1h-1zM69 19h1v1h-1zM33 20h1v1h-1zM37 20h1v1h-1zM48 20h1v1h-1zM69 20h1v1h-1zM88 20h1v1h-1zM52 21h2v1h-2zM59 21h1v1h-1zM100 21h1v1h-1zM55 22h5v1h-5zM68 22h1v1h-1zM90 22h1v1h-1zM93 23h1v1h-1zM98 23h1v1h-1zM102 26h1v1h-1zM101 30h1v1h-1zM57 35h1v1h-1zM107 35h2v1h-2zM52 36h2v1h-2zM71 36h3v1h-3zM104 36h1v1h-1zM111 36h1v1h-1zM5 37h1v1h-1zM51 37h1v1h-1zM103 37h1v1h-1zM114 37h1v1h-1zM70 38h1v1h-1zM102 38h1v1h-1zM114 38h2v1h-2zM50 39h1v1h-1zM101 39h1v1h-1zM112 39h1v1h-1zM49 40h1v1h-1zM100 40h2v1h-2zM109 40h1v1h-1zM48 41h1v1h-1zM102 41h5v1h-5zM47 42h1v1h-1zM46 43h1v1h-1zM46 44h1v1h-1zM46 45h1v1h-1zM31 52h1v1h-1zM39 52h1v1h-1zM35 53h1v1h-1zM28 65h1v1h-1zM29 67h1v1h-1zM13 68h1v1h-1zM15 69h1v1h-1zM120 80h4v1h-4zM109 81h3v1h-3zM98 82h2v1h-2zM86 83h2v1h-2zM75 84h10v1h-10zM70 85h3v1h-3zM66 86h2v1h-2zM65 87h1v1h-1zM64 88h1v1h-1zM63 89h1v1h-1zM61 90h1v1h-1zM59 91h2v1h-2zM41 92h3v1h-3zM53 92h3v1h-3zM44 93h1v1h-1zM51 93h1v1h-1zM45 94h1v1h-1zM50 94h1v1h-1zM40 95h1v1h-1zM45 95h5v1h-5zM40 96h1v1h-1zM46 96h3v1h-3zM41 98h1v1h-1zM41 99h1v1h-1zM41 100h1v1h-1zM41 101h2v1h-2zM41 102h2v1h-2zM41 103h2v1h-2zM41 104h1v1h-1zM40 105h2v1h-2zM37 106h4v1h-4zM36 107h3v1h-3zM35 108h3v1h-3zM36 109h1v1h-1zM36 110h1v1h-1zM16 111h3v1h-3zM36 111h1v1h-1zM14 112h1v1h-1zM20 112h1v1h-1zM36 112h1v1h-1zM13 113h1v1h-1zM36 113h1v1h-1zM22 114h1v1h-1zM35 114h1v1h-1zM10 115h1v1h-1zM23 115h1v1h-1zM33 115h2v1h-2zM7 116h3v1h-3zM23 116h2v1h-2zM31 116h2v1h-2zM0 117h7v1h-7zM23 117h2v1h-2zM30 117h2v1h-2zM23 118h2v1h-2zM29 118h2v1h-2zM23 119h3v1h-3zM29 119h1v1h-1zM23 120h3v1h-3zM29 120h1v1h-1zM23 121h3v1h-3zM28 121h2v1h-2zM23 122h3v1h-3zM28 122h2v1h-2zM23 123h3v1h-3zM28 123h2v1h-2z"/>
<path fill="#00ff31" d="M86 0h3v1h-3zM106 0h2v1h-2zM113 0h6v1h-6zM86 1h3v1h-3zM106 1h2v1h-2zM113 1h6v1h-6zM86 2h3v1h-3zM106 2h2v1h-2zM113 2h6v1h-6zM86 3h3v1h-3zM105 3h3v1h-3zM113 3h4v1h-4zM87 4h2v1h-2zM105 4h2v1h-2zM104 5h1v1h-1zM103 6h1v1h-1zM102 7h1v1h-1zM101 8h1v1h-1zM101 12h1v1h-1zM105 17h1v1h-1zM78 18h3v1h-3zM105 18h1v1h-1zM77 19h1v1h-1zM82 19h1v1h-1zM76 20h1v1h-1zM75 21h1v1h-1zM104 21h1v1h-1zM74 22h1v1h-1zM87 23h1v1h-1zM103 24h1v1h-1zM71 25h1v1h-1zM92 25h1v1h-1zM103 25h1v1h-1zM93 26h1v1h-1zM70 27h1v1h-1zM94 27h1v1h-1zM98 27h1v1h-1zM69 28h1v1h-1zM104 28h1v1h-1zM68 29h1v1h-1zM109 29h1v1h-1zM118 29h6v1h-6zM66 30h2v1h-2zM97 30h1v1h-1zM110 30h2v1h-2zM118 30h6v1h-6zM111 31h1v1h-1zM117 31h2v1h-2zM70 32h5v1h-5zM105 32h1v1h-1zM112 32h1v1h-1zM116 32h2v1h-2zM69 33h1v1h-1zM100 33h1v1h-1zM112 33h1v1h-1zM115 33h2v1h-2zM99 34h1v1h-1zM104 34h1v1h-1zM113 34h3v1h-3zM61 35h1v1h-1zM68 35h1v1h-1zM77 36h1v1h-1zM98 36h1v1h-1zM57 38h1v1h-1zM82 39h1v1h-1zM75 40h1v1h-1zM82 42h1v1h-1zM81 44h1v1h-1zM48 46h1v1h-1zM107 46h7v1h-7zM48 47h1v1h-1zM79 47h1v1h-1zM103 47h4v1h-4zM113 47h3v1h-3zM48 48h1v1h-1zM79 48h1v1h-1zM99 48h5v1h-5zM114 48h3v1h-3zM79 49h2v1h-2zM93 49h6v1h-6zM115 49h4v1h-4zM80 50h2v1h-2zM92 50h4v1h-4zM115 50h9v1h-9zM82 51h4v1h-4zM92 51h2v1h-2zM107 51h17v1h-17zM84 52h3v1h-3zM91 52h2v1h-2zM106 52h18v1h-18zM85 53h6v1h-6zM106 53h18v1h-18zM39 54h1v1h-1zM86 54h3v1h-3zM106 54h18v1h-18zM40 55h1v1h-1zM109 55h15v1h-15zM112 56h12v1h-12zM114 57h10v1h-10zM115 58h9v1h-9zM117 59h7v1h-7zM14 70h1v1h-1zM20 75h1v1h-1zM119 75h5v1h-5zM114 76h3v1h-3zM103 77h3v1h-3zM97 78h3v1h-3zM89 79h4v1h-4zM83 80h2v1h-2zM71 81h1v1h-1zM66 82h1v1h-1zM63 83h1v1h-1zM41 85h3v1h-3zM60 85h1v1h-1zM44 86h1v1h-1zM59 86h1v1h-1zM54 87h3v1h-3zM47 88h1v1h-1zM50 88h2v1h-2zM37 90h1v1h-1zM37 91h1v1h-1zM37 92h1v1h-1zM36 100h1v1h-1zM35 101h1v1h-1zM32 103h1v1h-1zM29 106h1v1h-1zM27 107h2v1h-2zM13 108h1v1h-1zM23 108h4v1h-4zM10 109h2v1h-2zM0 110h8v1h-8z"/>
<path fill="#00ff25" d="M108 0h5v1h-5zM119 0h5v1h-5zM108 1h5v1h-5zM119 1h5v1h-5zM108 2h5v1h-5zM119 2h5v1h-5zM108 3h5v1h-5zM117 3h7v1h-7zM107 4h17v1h-17zM105 5h19v1h-19zM104 6h1v1h-1zM114 6h4v1h-4zM103 7h1v1h-1zM102 8h1v1h-1zM101 9h1v1h-1zM101 10h1v1h-1zM101 11h1v1h-1zM102 13h1v1h-1zM103 14h1v1h-1zM104 15h1v1h-1zM105 16h1v1h-1zM78 19h4v1h-4zM105 19h1v1h-1zM77 20h1v1h-1zM83 20h1v1h-1zM105 20h1v1h-1zM76 21h1v1h-1zM84 21h1v1h-1zM75 22h1v1h-1zM85 22h1v1h-1zM104 22h1v1h-1zM73 23h1v1h-1zM72 24h1v1h-1zM89 24h1v1h-1zM114 24h3v1h-3zM91 25h1v1h-1zM113 25h5v1h-5zM71 26h1v1h-1zM113 26h11v1h-11zM112 27h12v1h-12zM70 28h1v1h-1zM96 28h2v1h-2zM110 28h14v1h-14zM69 29h1v1h-1zM107 29h2v1h-2zM110 29h8v1h-8zM68 30h2v1h-2zM103 30h1v1h-1zM106 30h1v1h-1zM112 30h6v1h-6zM65 31h2v1h-2zM69 31h3v1h-3zM96 31h1v1h-1zM105 31h1v1h-1zM112 31h5v1h-5zM64 32h1v1h-1zM69 32h1v1h-1zM75 32h1v1h-1zM94 32h1v1h-1zM113 32h3v1h-3zM63 33h1v1h-1zM68 33h1v1h-1zM77 33h1v1h-1zM92 33h1v1h-1zM104 33h1v1h-1zM113 33h2v1h-2zM62 34h1v1h-1zM68 34h1v1h-1zM78 34h1v1h-1zM102 35h1v1h-1zM60 36h1v1h-1zM86 36h1v1h-1zM82 38h1v1h-1zM80 45h1v1h-1zM79 46h1v1h-1zM107 47h6v1h-6zM104 48h10v1h-10zM99 49h16v1h-16zM79 50h1v1h-1zM96 50h19v1h-19zM80 51h2v1h-2zM94 51h3v1h-3zM103 51h4v1h-4zM81 52h3v1h-3zM93 52h1v1h-1zM103 52h3v1h-3zM43 53h1v1h-1zM83 53h2v1h-2zM91 53h2v1h-2zM103 53h3v1h-3zM84 54h2v1h-2zM89 54h2v1h-2zM103 54h3v1h-3zM84 55h5v1h-5zM103 55h6v1h-6zM84 56h3v1h-3zM104 56h8v1h-8zM108 57h6v1h-6zM110 58h5v1h-5zM111 59h6v1h-6zM29 60h1v1h-1zM112 60h12v1h-12zM113 61h11v1h-11zM93 64h2v1h-2zM92 65h4v1h-4zM92 66h3v1h-3zM12 69h1v1h-1zM16 72h1v1h-1zM26 75h1v1h-1zM115 75h4v1h-4zM22 76h2v1h-2zM104 76h10v1h-10zM100 77h3v1h-3zM94 78h3v1h-3zM87 79h2v1h-2zM75 80h8v1h-8zM69 81h2v1h-2zM65 82h1v1h-1zM61 84h1v1h-1zM40 85h1v1h-1zM44 85h1v1h-1zM39 86h1v1h-1zM45 86h1v1h-1zM57 86h2v1h-2zM38 87h1v1h-1zM46 87h1v1h-1zM51 87h3v1h-3zM48 88h2v1h-2zM37 89h1v1h-1zM36 96h1v1h-1zM33 102h1v1h-1zM31 103h1v1h-1zM30 104h1v1h-1zM29 105h1v1h-1zM28 106h1v1h-1zM15 107h12v1h-12zM12 108h1v1h-1zM0 109h10v1h-10z"/>
<path fill="#00ff8b" d="M51 5h2v1h-2zM49 6h6v1h-6zM45 7h2v1h-2zM54 7h2v1h-2zM94 7h2v1h-2zM41 8h1v1h-1zM55 8h1v1h-1zM78 8h2v1h-2zM93 8h3v1h-3zM56 9h1v1h-1zM78 9h5v1h-5zM96 9h1v1h-1zM56 10h1v1h-1zM79 10h5v1h-5zM92 10h1v1h-1zM96 10h1v1h-1zM37 11h1v1h-1zM54 11h4v1h-4zM80 11h2v1h-2zM83 11h2v1h-2zM91 11h1v1h-1zM96 11h1v1h-1zM50 12h3v1h-3zM81 12h5v1h-5zM90 12h1v1h-1zM12 13h1v1h-1zM22 13h1v1h-1zM38 13h1v1h-1zM48 13h1v1h-1zM83 13h3v1h-3zM89 13h1v1h-1zM8 14h1v1h-1zM25 14h1v1h-1zM46 14h1v1h-1zM86 14h3v1h-3zM97 14h1v1h-1zM5 15h2v1h-2zM39 15h1v1h-1zM45 15h1v1h-1zM87 15h1v1h-1zM97 15h1v1h-1zM0 16h4v1h-4zM40 16h1v1h-1zM43 16h2v1h-2zM62 16h7v1h-7zM87 16h1v1h-1zM98 16h1v1h-1zM31 17h1v1h-1zM40 17h4v1h-4zM61 17h2v1h-2zM68 17h1v1h-1zM87 17h1v1h-1zM99 17h1v1h-1zM40 18h1v1h-1zM43 18h2v1h-2zM61 18h1v1h-1zM68 18h1v1h-1zM32 19h1v1h-1zM39 19h1v1h-1zM45 19h1v1h-1zM68 19h1v1h-1zM88 19h1v1h-1zM100 19h1v1h-1zM32 20h1v1h-1zM38 20h1v1h-1zM46 20h2v1h-2zM60 20h1v1h-1zM68 20h1v1h-1zM100 20h1v1h-1zM34 21h3v1h-3zM49 21h3v1h-3zM60 21h1v1h-1zM68 21h1v1h-1zM89 21h1v1h-1zM54 22h1v1h-1zM60 22h1v1h-1zM91 22h1v1h-1zM99 22h1v1h-1zM56 23h4v1h-4zM94 23h4v1h-4zM67 24h1v1h-1zM66 25h1v1h-1zM65 26h1v1h-1zM64 27h1v1h-1zM63 28h1v1h-1zM100 28h1v1h-1zM62 29h1v1h-1zM100 29h1v1h-1zM102 29h1v1h-1zM61 31h1v1h-1zM53 35h4v1h-4zM7 36h1v1h-1zM51 36h1v1h-1zM6 37h1v1h-1zM73 37h1v1h-1zM112 37h2v1h-2zM50 38h1v1h-1zM113 38h1v1h-1zM49 39h1v1h-1zM102 39h1v1h-1zM111 39h1v1h-1zM48 40h1v1h-1zM47 41h1v1h-1zM73 41h1v1h-1zM45 42h2v1h-2zM44 43h2v1h-2zM44 44h2v1h-2zM44 45h2v1h-2zM45 46h1v1h-1zM44 48h1v1h-1zM42 50h1v1h-1zM30 51h1v1h-1zM32 52h1v1h-1zM29 73h1v1h-1zM21 74h1v1h-1zM25 74h1v1h-1zM112 81h6v1h-6zM100 82h9v1h-9zM88 83h10v1h-10zM85 84h1v1h-1zM73 85h2v1h-2zM81 85h2v1h-2zM68 86h3v1h-3zM66 87h2v1h-2zM65 88h1v1h-1zM64 89h1v1h-1zM62 90h2v1h-2zM61 91h1v1h-1zM56 92h3v1h-3zM41 93h3v1h-3zM52 93h2v1h-2zM41 94h1v1h-1zM43 94h2v1h-2zM51 94h1v1h-1zM41 95h1v1h-1zM44 95h1v1h-1zM50 95h1v1h-1zM41 96h1v1h-1zM44 96h2v1h-2zM49 96h1v1h-1zM41 97h2v1h-2zM44 97h5v1h-5zM42 98h7v1h-7zM42 99h6v1h-6zM42 100h5v1h-5zM43 101h3v1h-3zM43 102h2v1h-2zM43 103h1v1h-1zM42 104h2v1h-2zM42 105h1v1h-1zM41 106h2v1h-2zM39 107h3v1h-3zM38 108h3v1h-3zM37 109h3v1h-3zM37 110h2v1h-2zM37 111h2v1h-2zM15 112h1v1h-1zM19 112h1v1h-1zM37 112h1v1h-1zM21 113h1v1h-1zM37 113h1v1h-1zM12 114h1v1h-1zM21 114h1v1h-1zM36 114h1v1h-1zM11 115h1v1h-1zM22 115h1v1h-1zM35 115h1v1h-1zM10 116h1v1h-1zM22 116h1v1h-1zM33 116h2v1h-2zM7 117h2v1h-2zM22 117h1v1h-1zM32 117h1v1h-1zM0 118h7v1h-7zM22 118h1v1h-1zM31 118h1v1h-1zM0 119h6v1h-6zM22 119h1v1h-1zM30 119h2v1h-2zM0 120h5v1h-5zM22 120h1v1h-1zM30 120h1v1h-1zM0 121h5v1h-5zM22 121h1v1h-1zM30 121h1v1h-1zM0 122h5v1h-5zM22 122h1v1h-1zM30 122h1v1h-1zM0 123h5v1h-5zM22 123h1v1h-1zM30 123h1v1h-1z"/>
<path fill="#00ff1a" d="M105 6h9v1h-9zM118 6h6v1h-6zM104 7h1v1h-1zM112 7h12v1h-12zM102 9h1v1h-1zM102 12h1v1h-1zM103 13h1v1h-1zM104 14h1v1h-1zM105 15h1v1h-1zM106 16h1v1h-1zM106 17h2v1h-2zM106 18h1v1h-1zM106 19h1v1h-1zM78 20h2v1h-2zM82 20h1v1h-1zM113 20h2v1h-2zM77 21h1v1h-1zM105 21h1v1h-1zM113 21h3v1h-3zM76 22h1v1h-1zM112 22h5v1h-5zM74 23h1v1h-1zM86 23h1v1h-1zM104 23h1v1h-1zM112 23h7v1h-7zM73 24h1v1h-1zM88 24h1v1h-1zM104 24h1v1h-1zM112 24h2v1h-2zM117 24h7v1h-7zM72 25h1v1h-1zM104 25h1v1h-1zM112 25h1v1h-1zM118 25h6v1h-6zM92 26h1v1h-1zM111 26h2v1h-2zM71 27h1v1h-1zM93 27h1v1h-1zM110 27h2v1h-2zM95 28h1v1h-1zM107 28h3v1h-3zM70 29h1v1h-1zM97 29h1v1h-1zM104 29h1v1h-1zM106 29h1v1h-1zM70 30h2v1h-2zM105 30h1v1h-1zM67 31h2v1h-2zM72 31h2v1h-2zM65 32h1v1h-1zM67 32h2v1h-2zM76 32h1v1h-1zM104 32h1v1h-1zM78 33h1v1h-1zM90 34h1v1h-1zM103 34h1v1h-1zM78 35h1v1h-1zM99 35h1v1h-1zM99 36h2v1h-2zM59 37h1v1h-1zM83 37h1v1h-1zM66 38h1v1h-1zM68 38h1v1h-1zM76 38h1v1h-1zM56 39h1v1h-1zM69 39h1v1h-1zM75 41h1v1h-1zM47 47h1v1h-1zM78 47h1v1h-1zM47 48h1v1h-1zM78 48h1v1h-1zM78 49h1v1h-1zM78 50h1v1h-1zM79 51h1v1h-1zM97 51h6v1h-6zM79 52h2v1h-2zM94 52h9v1h-9zM81 53h2v1h-2zM93 53h1v1h-1zM100 53h3v1h-3zM37 54h2v1h-2zM81 54h3v1h-3zM91 54h1v1h-1zM101 54h2v1h-2zM82 55h2v1h-2zM89 55h1v1h-1zM101 55h2v1h-2zM32 56h1v1h-1zM82 56h2v1h-2zM87 56h2v1h-2zM101 56h3v1h-3zM31 57h1v1h-1zM82 57h5v1h-5zM101 57h7v1h-7zM83 58h3v1h-3zM102 58h8v1h-8zM103 59h8v1h-8zM105 60h7v1h-7zM106 61h7v1h-7zM106 62h18v1h-18zM93 63h2v1h-2zM106 63h18v1h-18zM29 64h1v1h-1zM90 64h3v1h-3zM95 64h2v1h-2zM106 64h10v1h-10zM90 65h2v1h-2zM96 65h2v1h-2zM106 65h8v1h-8zM30 66h1v1h-1zM90 66h2v1h-2zM95 66h2v1h-2zM107 66h6v1h-6zM92 67h5v1h-5zM107 67h5v1h-5zM31 69h1v1h-1zM31 70h1v1h-1zM15 71h1v1h-1zM116 74h8v1h-8zM104 75h11v1h-11zM24 76h1v1h-1zM101 76h3v1h-3zM97 77h3v1h-3zM90 78h4v1h-4zM84 79h3v1h-3zM72 80h3v1h-3zM68 81h1v1h-1zM64 82h1v1h-1zM62 83h1v1h-1zM42 84h1v1h-1zM60 84h1v1h-1zM58 85h2v1h-2zM46 86h1v1h-1zM53 86h4v1h-4zM47 87h4v1h-4zM37 88h1v1h-1zM36 95h1v1h-1zM36 97h1v1h-1zM36 99h1v1h-1zM35 100h1v1h-1zM34 101h1v1h-1zM32 102h1v1h-1zM30 103h1v1h-1zM29 104h1v1h-1zM28 105h1v1h-1zM25 106h3v1h-3zM13 107h2v1h-2zM0 108h12v1h-12z"/>
<path fill="#00ff92" d="M47 7h7v1h-7zM42 8h3v1h-3zM53 8h2v1h-2zM39 9h1v1h-1zM54 9h2v1h-2zM93 9h3v1h-3zM38 10h1v1h-1zM53 10h3v1h-3zM93 10h1v1h-1zM95 10h1v1h-1zM38 11h1v1h-1zM51 11h3v1h-3zM82 11h1v1h-1zM92 11h1v1h-1zM38 12h1v1h-1zM49 12h1v1h-1zM91 12h1v1h-1zM96 12h1v1h-1zM13 13h2v1h-2zM21 13h1v1h-1zM47 13h1v1h-1zM90 13h1v1h-1zM96 13h1v1h-1zM9 14h2v1h-2zM24 14h1v1h-1zM39 14h1v1h-1zM45 14h1v1h-1zM89 14h1v1h-1zM96 14h1v1h-1zM7 15h1v1h-1zM40 15h2v1h-2zM43 15h2v1h-2zM88 15h2v1h-2zM4 16h2v1h-2zM41 16h2v1h-2zM88 16h1v1h-1zM97 16h1v1h-1zM63 17h5v1h-5zM88 17h1v1h-1zM98 17h1v1h-1zM41 18h2v1h-2zM62 18h1v1h-1zM67 18h1v1h-1zM88 18h1v1h-1zM99 18h1v1h-1zM40 19h1v1h-1zM44 19h1v1h-1zM61 19h1v1h-1zM99 19h1v1h-1zM45 20h1v1h-1zM61 20h1v1h-1zM89 20h1v1h-1zM33 21h1v1h-1zM37 21h1v1h-1zM47 21h2v1h-2zM61 21h1v1h-1zM90 21h1v1h-1zM99 21h1v1h-1zM52 22h2v1h-2zM67 22h1v1h-1zM92 22h1v1h-1zM98 22h1v1h-1zM55 23h1v1h-1zM60 23h1v1h-1zM67 23h1v1h-1zM58 24h2v1h-2zM63 27h1v1h-1zM101 27h1v1h-1zM101 29h1v1h-1zM60 32h1v1h-1zM58 34h1v1h-1zM51 35h2v1h-2zM50 36h1v1h-1zM105 36h1v1h-1zM110 36h1v1h-1zM50 37h1v1h-1zM49 38h1v1h-1zM103 38h1v1h-1zM112 38h1v1h-1zM48 39h1v1h-1zM110 39h1v1h-1zM37 40h5v1h-5zM47 40h1v1h-1zM73 40h1v1h-1zM102 40h2v1h-2zM108 40h1v1h-1zM38 41h9v1h-9zM39 42h6v1h-6zM72 42h1v1h-1zM41 43h3v1h-3zM42 44h2v1h-2zM43 45h1v1h-1zM43 46h2v1h-2zM43 47h2v1h-2zM43 48h1v1h-1zM42 49h2v1h-2zM31 51h1v1h-1zM33 52h1v1h-1zM14 68h1v1h-1zM17 71h1v1h-1zM18 73h1v1h-1zM22 74h3v1h-3zM118 81h6v1h-6zM109 82h2v1h-2zM98 83h2v1h-2zM86 84h2v1h-2zM93 84h3v1h-3zM75 85h6v1h-6zM83 85h2v1h-2zM71 86h2v1h-2zM68 87h2v1h-2zM66 88h2v1h-2zM65 89h2v1h-2zM64 90h1v1h-1zM62 91h2v1h-2zM59 92h2v1h-2zM54 93h2v1h-2zM42 94h1v1h-1zM52 94h1v1h-1zM42 95h2v1h-2zM51 95h1v1h-1zM42 96h2v1h-2zM50 96h1v1h-1zM43 97h1v1h-1zM49 97h1v1h-1zM49 98h1v1h-1zM48 99h2v1h-2zM47 100h2v1h-2zM46 101h3v1h-3zM45 102h2v1h-2zM44 103h2v1h-2zM44 104h1v1h-1zM43 105h1v1h-1zM43 106h1v1h-1zM42 107h1v1h-1zM41 108h2v1h-2zM40 109h2v1h-2zM39 110h2v1h-2zM39 111h1v1h-1zM16 112h3v1h-3zM38 112h1v1h-1zM14 113h1v1h-1zM20 113h1v1h-1zM38 113h1v1h-1zM13 114h1v1h-1zM20 114h1v1h-1zM37 114h1v1h-1zM12 115h1v1h-1zM21 115h1v1h-1zM36 115h1v1h-1zM11 116h1v1h-1zM21 116h1v1h-1zM35 116h1v1h-1zM9 117h2v1h-2zM21 117h1v1h-1zM33 117h1v1h-1zM7 118h3v1h-3zM21 118h1v1h-1zM32 118h1v1h-1zM6 119h3v1h-3zM20 119h2v1h-2zM32 119h1v1h-1zM5 120h3v1h-3zM20 120h2v1h-2zM31 120h1v1h-1zM5 121h3v1h-3zM20 121h2v1h-2zM31 121h1v1h-1zM5 122h3v1h-3zM20 122h2v1h-2zM31 122h1v1h-1zM5 123h3v1h-3zM20 123h2v1h-2zM31 123h1v1h-1z"/>
<path fill="#00ff0e" d="M105 7h7v1h-7zM103 8h2v1h-2zM111 8h13v1h-13zM113 9h6v1h-6zM102 10h1v1h-1zM102 11h1v1h-1zM103 12h1v1h-1zM104 13h1v1h-1zM105 14h2v1h-2zM106 15h3v1h-3zM107 16h7v1h-7zM108 17h7v1h-7zM107 18h9v1h-9zM107 19h1v1h-1zM110 19h7v1h-7zM80 20h2v1h-2zM106 20h1v1h-1zM111 20h2v1h-2zM115 20h3v1h-3zM78 21h1v1h-1zM83 21h1v1h-1zM106 21h1v1h-1zM111 21h2v1h-2zM116 21h3v1h-3zM77 22h1v1h-1zM84 22h1v1h-1zM105 22h1v1h-1zM111 22h1v1h-1zM117 22h7v1h-7zM75 23h1v1h-1zM105 23h1v1h-1zM111 23h1v1h-1zM119 23h5v1h-5zM105 24h1v1h-1zM111 24h1v1h-1zM90 25h1v1h-1zM105 25h1v1h-1zM110 25h2v1h-2zM105 26h1v1h-1zM109 26h2v1h-2zM105 27h5v1h-5zM71 28h1v1h-1zM94 28h1v1h-1zM105 28h2v1h-2zM71 29h1v1h-1zM105 29h1v1h-1zM72 30h1v1h-1zM104 30h1v1h-1zM74 31h1v1h-1zM103 31h2v1h-2zM66 32h1v1h-1zM77 32h1v1h-1zM102 32h1v1h-1zM64 33h4v1h-4zM103 33h1v1h-1zM63 34h1v1h-1zM62 35h1v1h-1zM88 35h1v1h-1zM69 37h1v1h-1zM55 40h1v1h-1zM81 43h1v1h-1zM74 44h1v1h-1zM48 49h1v1h-1zM77 49h1v1h-1zM78 51h1v1h-1zM78 52h1v1h-1zM79 53h2v1h-2zM94 53h6v1h-6zM80 54h1v1h-1zM92 54h2v1h-2zM98 54h3v1h-3zM80 55h2v1h-2zM90 55h2v1h-2zM99 55h2v1h-2zM33 56h2v1h-2zM37 56h2v1h-2zM81 56h1v1h-1zM89 56h1v1h-1zM100 56h1v1h-1zM81 57h1v1h-1zM87 57h2v1h-2zM100 57h1v1h-1zM82 58h1v1h-1zM86 58h2v1h-2zM100 58h2v1h-2zM83 59h4v1h-4zM100 59h3v1h-3zM101 60h4v1h-4zM101 61h5v1h-5zM103 62h3v1h-3zM89 63h4v1h-4zM95 63h3v1h-3zM103 63h3v1h-3zM89 64h1v1h-1zM97 64h2v1h-2zM104 64h2v1h-2zM116 64h8v1h-8zM89 65h1v1h-1zM98 65h1v1h-1zM104 65h2v1h-2zM114 65h10v1h-10zM89 66h1v1h-1zM97 66h2v1h-2zM105 66h2v1h-2zM113 66h4v1h-4zM90 67h2v1h-2zM97 67h2v1h-2zM105 67h2v1h-2zM112 67h4v1h-4zM31 68h1v1h-1zM91 68h7v1h-7zM105 68h10v1h-10zM105 69h10v1h-10zM105 70h9v1h-9zM104 71h10v1h-10zM104 72h11v1h-11zM103 73h21v1h-21zM102 74h14v1h-14zM101 75h3v1h-3zM21 76h1v1h-1zM99 76h2v1h-2zM94 77h3v1h-3zM87 78h3v1h-3zM82 79h2v1h-2zM71 80h1v1h-1zM67 81h1v1h-1zM61 83h1v1h-1zM41 84h1v1h-1zM43 84h2v1h-2zM39 85h1v1h-1zM45 85h1v1h-1zM57 85h1v1h-1zM38 86h1v1h-1zM47 86h1v1h-1zM50 86h3v1h-3zM36 98h1v1h-1zM33 101h1v1h-1zM31 102h1v1h-1zM28 104h1v1h-1zM25 105h3v1h-3zM16 106h9v1h-9zM0 107h5v1h-5zM10 107h3v1h-3z"/>
<path fill="#00ff99" d="M45 8h8v1h-8zM40 9h2v1h-2zM50 9h4v1h-4zM39 10h1v1h-1zM50 10h3v1h-3zM94 10h1v1h-1zM49 11h2v1h-2zM93 11h3v1h-3zM47 12h2v1h-2zM92 12h1v1h-1zM95 12h1v1h-1zM15 13h6v1h-6zM39 13h1v1h-1zM46 13h1v1h-1zM91 13h1v1h-1zM95 13h1v1h-1zM11 14h1v1h-1zM40 14h1v1h-1zM44 14h1v1h-1zM90 14h2v1h-2zM8 15h1v1h-1zM26 15h1v1h-1zM42 15h1v1h-1zM90 15h1v1h-1zM96 15h1v1h-1zM6 16h1v1h-1zM28 16h1v1h-1zM89 16h1v1h-1zM96 16h1v1h-1zM0 17h5v1h-5zM89 17h1v1h-1zM97 17h1v1h-1zM32 18h1v1h-1zM63 18h4v1h-4zM89 18h1v1h-1zM98 18h1v1h-1zM41 19h3v1h-3zM62 19h2v1h-2zM66 19h2v1h-2zM89 19h1v1h-1zM31 20h1v1h-1zM39 20h1v1h-1zM44 20h1v1h-1zM62 20h1v1h-1zM67 20h1v1h-1zM99 20h1v1h-1zM38 21h1v1h-1zM46 21h1v1h-1zM67 21h1v1h-1zM34 22h3v1h-3zM49 22h3v1h-3zM61 22h1v1h-1zM93 22h1v1h-1zM97 22h1v1h-1zM54 23h1v1h-1zM61 23h1v1h-1zM56 24h2v1h-2zM60 24h1v1h-1zM66 24h1v1h-1zM65 25h1v1h-1zM64 26h1v1h-1zM103 27h1v1h-1zM62 28h1v1h-1zM101 28h1v1h-1zM61 30h1v1h-1zM59 33h1v1h-1zM51 34h3v1h-3zM50 35h1v1h-1zM49 36h1v1h-1zM7 37h1v1h-1zM49 37h1v1h-1zM72 37h1v1h-1zM104 37h1v1h-1zM111 37h1v1h-1zM48 38h1v1h-1zM73 38h1v1h-1zM111 38h1v1h-1zM36 39h7v1h-7zM47 39h1v1h-1zM73 39h1v1h-1zM103 39h1v1h-1zM36 40h1v1h-1zM42 40h5v1h-5zM104 40h1v1h-1zM107 40h1v1h-1zM36 41h2v1h-2zM37 42h2v1h-2zM40 43h1v1h-1zM41 44h1v1h-1zM41 45h2v1h-2zM42 46h1v1h-1zM42 47h1v1h-1zM41 48h2v1h-2zM41 49h1v1h-1zM30 50h2v1h-2zM40 50h2v1h-2zM32 51h1v1h-1zM34 52h1v1h-1zM31 54h1v1h-1zM16 69h1v1h-1zM111 82h13v1h-13zM100 83h10v1h-10zM88 84h5v1h-5zM96 84h4v1h-4zM85 85h2v1h-2zM95 85h1v1h-1zM73 86h12v1h-12zM70 87h3v1h-3zM68 88h3v1h-3zM67 89h3v1h-3zM65 90h3v1h-3zM64 91h2v1h-2zM61 92h2v1h-2zM56 93h4v1h-4zM53 94h2v1h-2zM52 95h1v1h-1zM51 96h1v1h-1zM50 97h2v1h-2zM50 98h1v1h-1zM50 99h1v1h-1zM49 100h2v1h-2zM49 101h1v1h-1zM47 102h2v1h-2zM46 103h2v1h-2zM45 104h2v1h-2zM44 105h2v1h-2zM44 106h1v1h-1zM43 107h1v1h-1zM43 108h1v1h-1zM42 109h1v1h-1zM41 110h1v1h-1zM40 111h1v1h-1zM39 112h2v1h-2zM15 113h2v1h-2zM18 113h2v1h-2zM39 113h1v1h-1zM14 114h1v1h-1zM19 114h1v1h-1zM38 114h2v1h-2zM13 115h2v1h-2zM20 115h1v1h-1zM37 115h2v1h-2zM12 116h2v1h-2zM20 116h1v1h-1zM36 116h2v1h-2zM11 117h3v1h-3zM19 117h2v1h-2zM34 117h2v1h-2zM10 118h3v1h-3zM19 118h2v1h-2zM33 118h2v1h-2zM9 119h3v1h-3zM18 119h2v1h-2zM33 119h1v1h-1zM8 120h4v1h-4zM18 120h2v1h-2zM32 120h2v1h-2zM8 121h4v1h-4zM17 121h3v1h-3zM32 121h2v1h-2zM8 122h4v1h-4zM17 122h3v1h-3zM32 122h2v1h-2zM8 123h4v1h-4zM17 123h3v1h-3zM32 123h2v1h-2z"/>
<path fill="#00ff02" d="M105 8h6v1h-6zM103 9h2v1h-2zM110 9h3v1h-3zM119 9h5v1h-5zM103 10h1v1h-1zM111 10h13v1h-13zM103 11h1v1h-1zM112 11h6v1h-6zM104 12h1v1h-1zM112 12h4v1h-4zM105 13h2v1h-2zM111 13h5v1h-5zM107 14h9v1h-9zM109 15h7v1h-7zM114 16h3v1h-3zM115 17h2v1h-2zM116 18h2v1h-2zM108 19h2v1h-2zM117 19h2v1h-2zM107 20h4v1h-4zM118 20h6v1h-6zM79 21h4v1h-4zM107 21h4v1h-4zM119 21h5v1h-5zM78 22h1v1h-1zM83 22h1v1h-1zM106 22h1v1h-1zM109 22h2v1h-2zM76 23h1v1h-1zM85 23h1v1h-1zM106 23h1v1h-1zM109 23h2v1h-2zM74 24h1v1h-1zM87 24h1v1h-1zM106 24h1v1h-1zM109 24h2v1h-2zM73 25h1v1h-1zM106 25h4v1h-4zM72 26h1v1h-1zM91 26h1v1h-1zM106 26h3v1h-3zM72 27h1v1h-1zM92 27h1v1h-1zM72 28h1v1h-1zM72 29h1v1h-1zM96 29h1v1h-1zM73 30h1v1h-1zM96 30h1v1h-1zM75 31h1v1h-1zM95 31h1v1h-1zM78 32h1v1h-1zM93 32h1v1h-1zM103 32h1v1h-1zM101 33h1v1h-1zM67 34h1v1h-1zM79 34h1v1h-1zM100 34h1v1h-1zM102 34h1v1h-1zM67 35h1v1h-1zM67 36h1v1h-1zM78 36h1v1h-1zM85 36h1v1h-1zM77 37h1v1h-1zM58 38h1v1h-1zM68 42h1v1h-1zM70 42h1v1h-1zM75 42h1v1h-1zM72 44h1v1h-1zM80 44h1v1h-1zM73 45h1v1h-1zM79 45h1v1h-1zM78 46h1v1h-1zM77 47h1v1h-1zM77 48h1v1h-1zM77 50h1v1h-1zM77 51h1v1h-1zM78 53h1v1h-1zM78 54h2v1h-2zM94 54h4v1h-4zM41 55h1v1h-1zM79 55h1v1h-1zM92 55h1v1h-1zM98 55h1v1h-1zM35 56h2v1h-2zM39 56h1v1h-1zM79 56h2v1h-2zM90 56h1v1h-1zM98 56h2v1h-2zM80 57h1v1h-1zM89 57h1v1h-1zM99 57h1v1h-1zM31 58h1v1h-1zM81 58h1v1h-1zM88 58h1v1h-1zM99 58h1v1h-1zM30 59h1v1h-1zM81 59h2v1h-2zM87 59h1v1h-1zM99 59h1v1h-1zM83 60h5v1h-5zM99 60h2v1h-2zM86 61h1v1h-1zM98 61h3v1h-3zM87 62h16v1h-16zM87 63h2v1h-2zM98 63h5v1h-5zM87 64h2v1h-2zM99 64h5v1h-5zM87 65h2v1h-2zM99 65h5v1h-5zM88 66h1v1h-1zM99 66h6v1h-6zM117 66h7v1h-7zM88 67h2v1h-2zM99 67h6v1h-6zM116 67h8v1h-8zM89 68h2v1h-2zM98 68h7v1h-7zM115 68h4v1h-4zM11 69h1v1h-1zM91 69h14v1h-14zM115 69h3v1h-3zM13 70h1v1h-1zM98 70h7v1h-7zM114 70h4v1h-4zM31 71h1v1h-1zM99 71h5v1h-5zM114 71h10v1h-10zM99 72h5v1h-5zM115 72h9v1h-9zM99 73h4v1h-4zM17 74h1v1h-1zM99 74h3v1h-3zM19 75h1v1h-1zM27 75h1v1h-1zM98 75h3v1h-3zM95 76h4v1h-4zM90 77h4v1h-4zM84 78h3v1h-3zM74 79h8v1h-8zM69 80h2v1h-2zM66 81h1v1h-1zM63 82h1v1h-1zM40 84h1v1h-1zM59 84h1v1h-1zM46 85h1v1h-1zM53 85h4v1h-4zM48 86h2v1h-2zM37 87h1v1h-1zM36 89h1v1h-1zM36 94h1v1h-1zM35 99h1v1h-1zM34 100h1v1h-1zM28 103h2v1h-2zM25 104h3v1h-3zM21 105h4v1h-4zM0 106h5v1h-5zM12 106h4v1h-4zM5 107h5v1h-5z"/>
<path fill="#00ffa0" d="M42 9h8v1h-8zM40 10h1v1h-1zM47 10h3v1h-3zM39 11h1v1h-1zM47 11h2v1h-2zM39 12h1v1h-1zM46 12h1v1h-1zM93 12h2v1h-2zM40 13h1v1h-1zM44 13h2v1h-2zM92 13h3v1h-3zM12 14h2v1h-2zM23 14h1v1h-1zM41 14h3v1h-3zM92 14h4v1h-4zM9 15h2v1h-2zM91 15h5v1h-5zM7 16h1v1h-1zM90 16h2v1h-2zM95 16h1v1h-1zM5 17h2v1h-2zM30 17h1v1h-1zM90 17h1v1h-1zM96 17h1v1h-1zM0 18h4v1h-4zM90 18h1v1h-1zM97 18h1v1h-1zM31 19h1v1h-1zM64 19h2v1h-2zM90 19h1v1h-1zM98 19h1v1h-1zM40 20h4v1h-4zM63 20h4v1h-4zM90 20h1v1h-1zM98 20h1v1h-1zM32 21h1v1h-1zM39 21h1v1h-1zM45 21h1v1h-1zM62 21h2v1h-2zM66 21h1v1h-1zM91 21h1v1h-1zM98 21h1v1h-1zM37 22h1v1h-1zM47 22h2v1h-2zM62 22h1v1h-1zM66 22h1v1h-1zM94 22h3v1h-3zM52 23h2v1h-2zM62 23h1v1h-1zM66 23h1v1h-1zM55 24h1v1h-1zM61 24h2v1h-2zM65 24h1v1h-1zM57 25h8v1h-8zM61 26h3v1h-3zM61 27h2v1h-2zM61 28h1v1h-1zM102 28h1v1h-1zM61 29h1v1h-1zM60 31h1v1h-1zM51 33h2v1h-2zM50 34h1v1h-1zM54 34h4v1h-4zM0 35h4v1h-4zM49 35h1v1h-1zM8 36h1v1h-1zM48 36h1v1h-1zM109 36h1v1h-1zM48 37h1v1h-1zM71 37h1v1h-1zM110 37h1v1h-1zM35 38h7v1h-7zM47 38h1v1h-1zM104 38h1v1h-1zM110 38h1v1h-1zM35 39h1v1h-1zM43 39h4v1h-4zM104 39h1v1h-1zM109 39h1v1h-1zM34 40h2v1h-2zM105 40h2v1h-2zM35 41h1v1h-1zM36 42h1v1h-1zM39 43h1v1h-1zM40 44h1v1h-1zM40 45h1v1h-1zM40 46h2v1h-2zM41 47h1v1h-1zM40 48h1v1h-1zM30 49h2v1h-2zM40 49h1v1h-1zM29 50h1v1h-1zM39 50h1v1h-1zM38 51h3v1h-3zM30 52h1v1h-1zM35 52h4v1h-4zM31 55h1v1h-1zM28 66h1v1h-1zM29 72h1v1h-1zM28 73h1v1h-1zM110 83h3v1h-3zM117 83h7v1h-7zM100 84h10v1h-10zM87 85h8v1h-8zM96 85h6v1h-6zM103 85h4v1h-4zM85 86h2v1h-2zM94 86h4v1h-4zM73 87h3v1h-3zM78 87h7v1h-7zM71 88h2v1h-2zM70 89h2v1h-2zM68 90h3v1h-3zM66 91h4v1h-4zM63 92h5v1h-5zM60 93h3v1h-3zM55 94h4v1h-4zM53 95h2v1h-2zM52 96h1v1h-1zM52 97h1v1h-1zM51 98h1v1h-1zM51 99h1v1h-1zM51 100h1v1h-1zM50 101h2v1h-2zM49 102h2v1h-2zM48 103h2v1h-2zM47 104h2v1h-2zM46 105h1v1h-1zM45 106h1v1h-1zM44 107h2v1h-2zM44 108h1v1h-1zM43 109h2v1h-2zM42 110h2v1h-2zM41 111h2v1h-2zM41 112h2v1h-2zM17 113h1v1h-1zM40 113h2v1h-2zM15 114h4v1h-4zM40 114h1v1h-1zM15 115h2v1h-2zM18 115h2v1h-2zM39 115h2v1h-2zM14 116h6v1h-6zM38 116h2v1h-2zM14 117h5v1h-5zM36 117h3v1h-3zM13 118h6v1h-6zM35 118h3v1h-3zM12 119h6v1h-6zM34 119h2v1h-2zM12 120h6v1h-6zM34 120h2v1h-2zM12 121h5v1h-5zM34 121h1v1h-1zM12 122h5v1h-5zM34 122h1v1h-1zM12 123h5v1h-5zM34 123h1v1h-1z"/>
<path fill="#0eff00" d="M105 9h5v1h-5zM104 10h2v1h-2zM109 10h2v1h-2zM104 11h2v1h-2zM109 11h3v1h-3zM118 11h6v1h-6zM105 12h7v1h-7zM116 12h8v1h-8zM107 13h4v1h-4zM116 13h8v1h-8zM116 14h3v1h-3zM116 15h3v1h-3zM117 16h3v1h-3zM117 17h7v1h-7zM118 18h6v1h-6zM119 19h5v1h-5zM79 22h4v1h-4zM107 22h2v1h-2zM77 23h2v1h-2zM83 23h2v1h-2zM107 23h2v1h-2zM75 24h1v1h-1zM85 24h2v1h-2zM107 24h2v1h-2zM89 25h1v1h-1zM95 29h1v1h-1zM76 31h1v1h-1zM79 33h1v1h-1zM91 33h1v1h-1zM102 33h1v1h-1zM64 34h1v1h-1zM66 34h1v1h-1zM79 35h1v1h-1zM101 35h1v1h-1zM61 36h1v1h-1zM82 37h1v1h-1zM54 41h1v1h-1zM52 42h1v1h-1zM81 42h1v1h-1zM72 45h1v1h-1zM44 49h1v1h-1zM77 52h1v1h-1zM44 53h1v1h-1zM77 53h1v1h-1zM77 54h1v1h-1zM77 55h2v1h-2zM93 55h5v1h-5zM40 56h1v1h-1zM78 56h1v1h-1zM91 56h2v1h-2zM97 56h1v1h-1zM32 57h1v1h-1zM79 57h1v1h-1zM90 57h1v1h-1zM98 57h1v1h-1zM80 58h1v1h-1zM89 58h1v1h-1zM98 58h1v1h-1zM80 59h1v1h-1zM88 59h2v1h-2zM98 59h1v1h-1zM81 60h2v1h-2zM88 60h2v1h-2zM97 60h2v1h-2zM29 61h1v1h-1zM83 61h3v1h-3zM87 61h11v1h-11zM85 62h2v1h-2zM86 63h1v1h-1zM86 64h1v1h-1zM86 65h1v1h-1zM87 66h1v1h-1zM31 67h1v1h-1zM87 67h1v1h-1zM87 68h2v1h-2zM119 68h5v1h-5zM88 69h3v1h-3zM118 69h6v1h-6zM91 70h7v1h-7zM118 70h6v1h-6zM96 71h3v1h-3zM97 72h2v1h-2zM97 73h2v1h-2zM30 74h1v1h-1zM96 74h3v1h-3zM94 75h4v1h-4zM25 76h1v1h-1zM91 76h4v1h-4zM85 77h5v1h-5zM81 78h3v1h-3zM72 79h2v1h-2zM65 81h1v1h-1zM62 82h1v1h-1zM41 83h3v1h-3zM60 83h1v1h-1zM45 84h1v1h-1zM57 84h2v1h-2zM47 85h6v1h-6zM36 88h1v1h-1zM36 93h1v1h-1zM32 101h1v1h-1zM30 102h1v1h-1zM25 103h3v1h-3zM22 104h3v1h-3zM0 105h7v1h-7zM17 105h4v1h-4zM5 106h7v1h-7z"/>
<path fill="#00ffa7" d="M41 10h6v1h-6zM40 11h2v1h-2zM45 11h2v1h-2zM40 12h2v1h-2zM43 12h3v1h-3zM41 13h3v1h-3zM14 14h1v1h-1zM22 14h1v1h-1zM11 15h1v1h-1zM8 16h2v1h-2zM92 16h3v1h-3zM7 17h1v1h-1zM91 17h5v1h-5zM4 18h3v1h-3zM91 18h6v1h-6zM91 19h1v1h-1zM95 19h3v1h-3zM30 20h1v1h-1zM91 20h2v1h-2zM96 20h2v1h-2zM40 21h5v1h-5zM64 21h2v1h-2zM92 21h6v1h-6zM33 22h1v1h-1zM38 22h1v1h-1zM45 22h2v1h-2zM63 22h3v1h-3zM35 23h2v1h-2zM47 23h5v1h-5zM63 23h3v1h-3zM53 24h2v1h-2zM63 24h2v1h-2zM55 25h2v1h-2zM58 26h3v1h-3zM60 27h1v1h-1zM102 27h1v1h-1zM60 30h1v1h-1zM59 32h1v1h-1zM50 33h1v1h-1zM53 33h1v1h-1zM58 33h1v1h-1zM49 34h1v1h-1zM4 35h2v1h-2zM48 35h1v1h-1zM47 36h1v1h-1zM106 36h1v1h-1zM108 36h1v1h-1zM8 37h1v1h-1zM35 37h5v1h-5zM47 37h1v1h-1zM105 37h1v1h-1zM34 38h1v1h-1zM42 38h5v1h-5zM34 39h1v1h-1zM34 41h1v1h-1zM72 41h1v1h-1zM35 42h1v1h-1zM37 43h2v1h-2zM39 44h1v1h-1zM39 45h1v1h-1zM40 47h1v1h-1zM30 48h2v1h-2zM39 48h1v1h-1zM29 49h1v1h-1zM39 49h1v1h-1zM32 50h1v1h-1zM38 50h1v1h-1zM33 51h1v1h-1zM37 51h1v1h-1zM15 68h1v1h-1zM29 68h1v1h-1zM17 70h1v1h-1zM27 73h1v1h-1zM113 83h4v1h-4zM110 84h3v1h-3zM116 84h8v1h-8zM102 85h1v1h-1zM107 85h4v1h-4zM87 86h7v1h-7zM98 86h11v1h-11zM76 87h2v1h-2zM85 87h2v1h-2zM93 87h14v1h-14zM73 88h13v1h-13zM94 88h8v1h-8zM72 89h2v1h-2zM81 89h3v1h-3zM96 89h4v1h-4zM71 90h2v1h-2zM70 91h2v1h-2zM68 92h4v1h-4zM63 93h8v1h-8zM59 94h6v1h-6zM66 94h4v1h-4zM55 95h4v1h-4zM53 96h3v1h-3zM53 97h2v1h-2zM52 98h2v1h-2zM52 99h2v1h-2zM52 100h2v1h-2zM52 101h2v1h-2zM51 102h3v1h-3zM50 103h3v1h-3zM49 104h3v1h-3zM47 105h4v1h-4zM46 106h3v1h-3zM46 107h2v1h-2zM45 108h2v1h-2zM45 109h1v1h-1zM44 110h2v1h-2zM43 111h2v1h-2zM43 112h2v1h-2zM42 113h2v1h-2zM41 114h2v1h-2zM17 115h1v1h-1zM41 115h2v1h-2zM40 116h2v1h-2zM39 117h3v1h-3zM38 118h3v1h-3zM36 119h5v1h-5zM36 120h5v1h-5zM35 121h6v1h-6zM35 122h6v1h-6zM35 123h6v1h-6z"/>
<path fill="#1fff00" d="M106 10h3v1h-3zM106 11h3v1h-3zM119 14h5v1h-5zM119 15h5v1h-5zM120 16h4v1h-4zM79 23h4v1h-4zM76 24h1v1h-1zM83 24h2v1h-2zM74 25h1v1h-1zM88 25h1v1h-1zM73 26h1v1h-1zM90 26h1v1h-1zM73 27h1v1h-1zM73 28h1v1h-1zM93 28h1v1h-1zM73 29h1v1h-1zM94 29h1v1h-1zM74 30h1v1h-1zM95 30h1v1h-1zM77 31h1v1h-1zM94 31h1v1h-1zM79 32h1v1h-1zM65 34h1v1h-1zM101 34h1v1h-1zM87 35h1v1h-1zM100 35h1v1h-1zM66 39h1v1h-1zM76 39h1v1h-1zM81 41h1v1h-1zM67 42h1v1h-1zM75 43h1v1h-1zM74 45h1v1h-1zM77 46h1v1h-1zM76 48h1v1h-1zM76 49h1v1h-1zM76 50h1v1h-1zM76 51h1v1h-1zM46 52h1v1h-1zM76 52h1v1h-1zM76 53h1v1h-1zM76 54h1v1h-1zM76 55h1v1h-1zM77 56h1v1h-1zM93 56h4v1h-4zM78 57h1v1h-1zM91 57h2v1h-2zM96 57h2v1h-2zM79 58h1v1h-1zM90 58h2v1h-2zM97 58h1v1h-1zM79 59h1v1h-1zM90 59h1v1h-1zM96 59h2v1h-2zM80 60h1v1h-1zM90 60h7v1h-7zM81 61h2v1h-2zM29 62h1v1h-1zM83 62h2v1h-2zM29 63h1v1h-1zM84 63h2v1h-2zM85 64h1v1h-1zM30 65h1v1h-1zM85 65h1v1h-1zM85 66h2v1h-2zM85 67h2v1h-2zM86 68h1v1h-1zM10 69h1v1h-1zM86 69h2v1h-2zM86 70h5v1h-5zM14 71h1v1h-1zM88 71h8v1h-8zM15 72h1v1h-1zM31 72h1v1h-1zM93 72h4v1h-4zM16 73h1v1h-1zM93 73h4v1h-4zM92 74h4v1h-4zM90 75h4v1h-4zM20 76h1v1h-1zM85 76h6v1h-6zM22 77h2v1h-2zM82 77h3v1h-3zM75 78h6v1h-6zM71 79h1v1h-1zM68 80h1v1h-1zM64 81h1v1h-1zM44 83h1v1h-1zM59 83h1v1h-1zM39 84h1v1h-1zM46 84h1v1h-1zM53 84h4v1h-4zM38 85h1v1h-1zM36 90h1v1h-1zM36 92h1v1h-1zM35 98h1v1h-1zM33 100h1v1h-1zM31 101h1v1h-1zM28 102h2v1h-2zM22 103h3v1h-3zM0 104h10v1h-10zM20 104h2v1h-2zM7 105h10v1h-10z"/>
<path fill="#00ffaf" d="M42 11h3v1h-3zM42 12h1v1h-1zM19 14h3v1h-3zM12 15h2v1h-2zM25 15h1v1h-1zM10 16h1v1h-1zM27 16h1v1h-1zM8 17h2v1h-2zM7 18h1v1h-1zM0 19h7v1h-7zM30 19h1v1h-1zM92 19h3v1h-3zM93 20h3v1h-3zM31 21h1v1h-1zM32 22h1v1h-1zM39 22h2v1h-2zM43 22h2v1h-2zM34 23h1v1h-1zM37 23h2v1h-2zM45 23h2v1h-2zM48 24h5v1h-5zM53 25h2v1h-2zM56 26h2v1h-2zM58 27h2v1h-2zM60 28h1v1h-1zM60 29h1v1h-1zM50 32h3v1h-3zM48 33h2v1h-2zM54 33h2v1h-2zM48 34h1v1h-1zM6 35h1v1h-1zM47 35h1v1h-1zM36 36h2v1h-2zM46 36h1v1h-1zM107 36h1v1h-1zM34 37h1v1h-1zM40 37h7v1h-7zM109 37h1v1h-1zM72 38h1v1h-1zM105 38h1v1h-1zM109 38h1v1h-1zM33 39h1v1h-1zM105 39h1v1h-1zM108 39h1v1h-1zM33 40h1v1h-1zM33 41h1v1h-1zM34 42h1v1h-1zM35 43h2v1h-2zM38 44h1v1h-1zM39 46h1v1h-1zM30 47h3v1h-3zM39 47h1v1h-1zM32 48h1v1h-1zM32 49h1v1h-1zM38 49h1v1h-1zM33 50h1v1h-1zM34 51h1v1h-1zM36 51h1v1h-1zM29 59h1v1h-1zM29 71h1v1h-1zM18 72h1v1h-1zM19 73h1v1h-1zM26 73h1v1h-1zM113 84h3v1h-3zM111 85h13v1h-13zM109 86h3v1h-3zM118 86h6v1h-6zM87 87h6v1h-6zM107 87h4v1h-4zM86 88h3v1h-3zM90 88h4v1h-4zM102 88h8v1h-8zM74 89h7v1h-7zM84 89h3v1h-3zM92 89h4v1h-4zM100 89h8v1h-8zM73 90h3v1h-3zM79 90h8v1h-8zM92 90h13v1h-13zM72 91h2v1h-2zM82 91h4v1h-4zM92 91h11v1h-11zM72 92h2v1h-2zM92 92h9v1h-9zM71 93h2v1h-2zM92 93h7v1h-7zM65 94h1v1h-1zM70 94h3v1h-3zM59 95h13v1h-13zM56 96h15v1h-15zM55 97h5v1h-5zM54 98h4v1h-4zM54 99h4v1h-4zM54 100h4v1h-4zM54 101h4v1h-4zM54 102h4v1h-4zM53 103h4v1h-4zM52 104h4v1h-4zM51 105h4v1h-4zM49 106h4v1h-4zM48 107h3v1h-3zM47 108h2v1h-2zM46 109h3v1h-3zM46 110h2v1h-2zM45 111h2v1h-2zM45 112h2v1h-2zM44 113h2v1h-2zM43 114h3v1h-3zM43 115h2v1h-2zM42 116h2v1h-2zM42 117h2v1h-2zM41 118h3v1h-3zM41 119h2v1h-2zM41 120h2v1h-2zM41 121h2v1h-2zM41 122h2v1h-2zM41 123h2v1h-2z"/>
<path fill="#00ffb7" d="M15 14h4v1h-4zM14 15h1v1h-1zM24 15h1v1h-1zM11 16h1v1h-1zM10 17h1v1h-1zM29 17h1v1h-1zM8 18h2v1h-2zM31 18h1v1h-1zM7 19h2v1h-2zM29 19h1v1h-1zM0 20h8v1h-8zM29 20h1v1h-1zM30 21h1v1h-1zM41 22h2v1h-2zM33 23h1v1h-1zM39 23h2v1h-2zM43 23h2v1h-2zM35 24h3v1h-3zM45 24h3v1h-3zM47 25h6v1h-6zM53 26h3v1h-3zM56 27h2v1h-2zM58 28h2v1h-2zM59 29h1v1h-1zM59 30h1v1h-1zM50 31h3v1h-3zM59 31h1v1h-1zM48 32h2v1h-2zM53 32h2v1h-2zM47 33h1v1h-1zM56 33h2v1h-2zM0 34h4v1h-4zM47 34h1v1h-1zM7 35h1v1h-1zM46 35h1v1h-1zM9 36h1v1h-1zM34 36h2v1h-2zM38 36h3v1h-3zM44 36h2v1h-2zM33 37h1v1h-1zM106 37h1v1h-1zM108 37h1v1h-1zM33 38h1v1h-1zM106 38h1v1h-1zM108 38h1v1h-1zM32 39h1v1h-1zM72 39h1v1h-1zM106 39h2v1h-2zM32 40h1v1h-1zM72 40h1v1h-1zM32 41h1v1h-1zM33 42h1v1h-1zM33 43h2v1h-2zM32 44h6v1h-6zM31 45h8v1h-8zM30 46h5v1h-5zM37 46h2v1h-2zM33 47h1v1h-1zM38 47h1v1h-1zM33 48h1v1h-1zM38 48h1v1h-1zM33 49h1v1h-1zM37 50h1v1h-1zM35 51h1v1h-1zM27 62h1v1h-1zM27 63h1v1h-1zM27 64h1v1h-1zM29 69h1v1h-1zM29 70h1v1h-1zM28 72h1v1h-1zM20 73h1v1h-1zM25 73h1v1h-1zM112 86h6v1h-6zM111 87h13v1h-13zM89 88h1v1h-1zM110 88h14v1h-14zM87 89h5v1h-5zM108 89h16v1h-16zM76 90h3v1h-3zM87 90h5v1h-5zM105 90h9v1h-9zM74 91h8v1h-8zM86 91h6v1h-6zM103 91h8v1h-8zM74 92h2v1h-2zM80 92h12v1h-12zM101 92h6v1h-6zM73 93h2v1h-2zM81 93h11v1h-11zM99 93h5v1h-5zM73 94h2v1h-2zM82 94h21v1h-21zM72 95h2v1h-2zM84 95h17v1h-17zM71 96h2v1h-2zM85 96h12v1h-12zM60 97h13v1h-13zM87 97h5v1h-5zM58 98h14v1h-14zM58 99h12v1h-12zM58 100h9v1h-9zM58 101h6v1h-6zM58 102h4v1h-4zM57 103h4v1h-4zM56 104h4v1h-4zM55 105h4v1h-4zM53 106h4v1h-4zM51 107h4v1h-4zM49 108h4v1h-4zM49 109h2v1h-2zM48 110h2v1h-2zM47 111h2v1h-2zM47 112h2v1h-2zM46 113h2v1h-2zM46 114h2v1h-2zM45 115h2v1h-2zM44 116h2v1h-2zM44 117h2v1h-2zM44 118h2v1h-2zM43 119h2v1h-2zM43 120h2v1h-2zM43 121h2v1h-2zM43 122h2v1h-2zM43 123h2v1h-2z"/>
<path fill="#00ffca" d="M15 15h1v1h-1zM22 15h1v1h-1zM14 16h1v1h-1zM26 16h1v1h-1zM12 17h1v1h-1zM28 17h1v1h-1zM11 18h1v1h-1zM29 18h2v1h-2zM11 19h1v1h-1zM27 19h1v1h-1zM11 20h1v1h-1zM10 21h2v1h-2zM29 21h1v1h-1zM6 22h6v1h-6zM30 22h1v1h-1zM33 24h1v1h-1zM41 24h1v1h-1zM34 25h10v1h-10zM43 26h3v1h-3zM44 27h5v1h-5zM45 28h11v1h-11zM46 29h12v1h-12zM46 30h3v1h-3zM54 30h5v1h-5zM46 31h2v1h-2zM55 31h3v1h-3zM45 32h2v1h-2zM56 32h1v1h-1zM45 33h1v1h-1zM6 34h2v1h-2zM44 34h1v1h-1zM8 35h1v1h-1zM34 35h1v1h-1zM39 35h5v1h-5zM33 36h1v1h-1zM32 37h1v1h-1zM0 38h3v1h-3zM19 38h3v1h-3zM31 39h1v1h-1zM30 40h1v1h-1zM30 41h1v1h-1zM71 41h1v1h-1zM31 42h1v1h-1zM31 43h1v1h-1zM30 44h1v1h-1zM29 48h1v1h-1zM35 48h2v1h-2zM35 49h2v1h-2zM27 65h1v1h-1zM9 67h4v1h-4zM16 68h1v1h-1zM17 69h1v1h-1zM18 71h1v1h-1zM28 71h1v1h-1zM19 72h1v1h-1zM26 72h1v1h-1zM77 94h2v1h-2zM76 95h5v1h-5zM107 95h5v1h-5zM75 96h7v1h-7zM104 96h20v1h-20zM75 97h3v1h-3zM79 97h4v1h-4zM102 97h22v1h-22zM74 98h3v1h-3zM81 98h4v1h-4zM96 98h11v1h-11zM110 98h14v1h-14zM73 99h3v1h-3zM83 99h5v1h-5zM91 99h13v1h-13zM72 100h3v1h-3zM85 100h8v1h-8zM70 101h4v1h-4zM68 102h5v1h-5zM65 103h6v1h-6zM63 104h7v1h-7zM62 105h4v1h-4zM60 106h3v1h-3zM58 107h3v1h-3zM56 108h3v1h-3zM54 109h3v1h-3zM53 110h2v1h-2zM51 111h2v1h-2zM51 112h1v1h-1zM50 113h2v1h-2zM49 114h2v1h-2zM49 115h1v1h-1zM48 116h2v1h-2zM48 117h1v1h-1zM47 118h2v1h-2zM47 119h2v1h-2zM47 120h2v1h-2zM47 121h2v1h-2zM47 122h2v1h-2zM47 123h2v1h-2z"/>
<path fill="#00ffd3" d="M16 15h6v1h-6zM15 16h1v1h-1zM25 16h1v1h-1zM13 17h1v1h-1zM27 17h1v1h-1zM12 18h2v1h-2zM26 18h3v1h-3zM12 19h2v1h-2zM26 19h1v1h-1zM12 20h2v1h-2zM27 20h1v1h-1zM12 21h2v1h-2zM28 21h1v1h-1zM0 22h6v1h-6zM12 22h1v1h-1zM7 23h5v1h-5zM31 23h1v1h-1zM32 24h1v1h-1zM33 25h1v1h-1zM36 26h7v1h-7zM41 27h3v1h-3zM42 28h3v1h-3zM43 29h3v1h-3zM43 30h3v1h-3zM44 31h2v1h-2zM44 32h1v1h-1zM0 33h5v1h-5zM43 33h2v1h-2zM34 34h10v1h-10zM9 35h1v1h-1zM33 35h1v1h-1zM10 36h2v1h-2zM10 37h3v1h-3zM14 37h9v1h-9zM31 37h1v1h-1zM15 38h4v1h-4zM22 38h2v1h-2zM31 38h1v1h-1zM18 39h6v1h-6zM30 39h1v1h-1zM29 40h1v1h-1zM30 42h1v1h-1zM30 43h1v1h-1zM29 45h1v1h-1zM29 51h1v1h-1zM4 67h5v1h-5zM13 67h1v1h-1zM28 68h1v1h-1zM28 69h1v1h-1zM28 70h1v1h-1zM27 71h1v1h-1zM20 72h1v1h-1zM25 72h1v1h-1zM78 97h1v1h-1zM77 98h4v1h-4zM107 98h3v1h-3zM76 99h7v1h-7zM104 99h20v1h-20zM75 100h10v1h-10zM93 100h31v1h-31zM74 101h3v1h-3zM83 101h20v1h-20zM73 102h3v1h-3zM87 102h4v1h-4zM71 103h4v1h-4zM70 104h4v1h-4zM66 105h6v1h-6zM63 106h7v1h-7zM61 107h4v1h-4zM59 108h4v1h-4zM57 109h3v1h-3zM55 110h2v1h-2zM53 111h2v1h-2zM52 112h2v1h-2zM52 113h1v1h-1zM51 114h1v1h-1zM50 115h2v1h-2zM50 116h1v1h-1zM49 117h2v1h-2zM49 118h1v1h-1zM49 119h1v1h-1zM49 120h1v1h-1zM49 121h1v1h-1zM49 122h1v1h-1zM49 123h1v1h-1z"/>
<path fill="#00ffc1" d="M23 15h1v1h-1zM12 16h2v1h-2zM11 17h1v1h-1zM10 18h1v1h-1zM9 19h2v1h-2zM28 19h1v1h-1zM8 20h3v1h-3zM28 20h1v1h-1zM0 21h10v1h-10zM31 22h1v1h-1zM32 23h1v1h-1zM41 23h2v1h-2zM34 24h1v1h-1zM38 24h3v1h-3zM42 24h3v1h-3zM44 25h3v1h-3zM46 26h7v1h-7zM49 27h7v1h-7zM56 28h2v1h-2zM58 29h1v1h-1zM49 30h5v1h-5zM48 31h2v1h-2zM53 31h2v1h-2zM58 31h1v1h-1zM47 32h1v1h-1zM55 32h1v1h-1zM57 32h2v1h-2zM46 33h1v1h-1zM4 34h2v1h-2zM45 34h2v1h-2zM35 35h4v1h-4zM44 35h2v1h-2zM41 36h3v1h-3zM9 37h1v1h-1zM107 37h1v1h-1zM32 38h1v1h-1zM71 38h1v1h-1zM107 38h1v1h-1zM31 40h1v1h-1zM31 41h1v1h-1zM69 41h1v1h-1zM32 42h1v1h-1zM32 43h1v1h-1zM31 44h1v1h-1zM30 45h1v1h-1zM29 46h1v1h-1zM35 46h2v1h-2zM29 47h1v1h-1zM34 47h4v1h-4zM34 48h1v1h-1zM37 48h1v1h-1zM28 49h1v1h-1zM34 49h1v1h-1zM37 49h1v1h-1zM34 50h3v1h-3zM28 60h1v1h-1zM28 67h1v1h-1zM27 72h1v1h-1zM21 73h4v1h-4zM114 90h10v1h-10zM111 91h13v1h-13zM76 92h4v1h-4zM107 92h17v1h-17zM75 93h6v1h-6zM104 93h20v1h-20zM75 94h2v1h-2zM79 94h3v1h-3zM103 94h21v1h-21zM74 95h2v1h-2zM81 95h3v1h-3zM101 95h6v1h-6zM112 95h12v1h-12zM73 96h2v1h-2zM82 96h3v1h-3zM97 96h7v1h-7zM73 97h2v1h-2zM83 97h4v1h-4zM92 97h10v1h-10zM72 98h2v1h-2zM85 98h11v1h-11zM70 99h3v1h-3zM88 99h3v1h-3zM67 100h5v1h-5zM64 101h6v1h-6zM62 102h6v1h-6zM61 103h4v1h-4zM60 104h3v1h-3zM59 105h3v1h-3zM57 106h3v1h-3zM55 107h3v1h-3zM53 108h3v1h-3zM51 109h3v1h-3zM50 110h3v1h-3zM49 111h2v1h-2zM49 112h2v1h-2zM48 113h2v1h-2zM48 114h1v1h-1zM47 115h2v1h-2zM46 116h2v1h-2zM46 117h2v1h-2zM46 118h1v1h-1zM45 119h2v1h-2zM45 120h2v1h-2zM45 121h2v1h-2zM45 122h2v1h-2zM45 123h2v1h-2z"/>
<path fill="#00ffdc" d="M16 16h4v1h-4zM21 16h4v1h-4zM14 17h2v1h-2zM24 17h3v1h-3zM14 18h1v1h-1zM24 18h2v1h-2zM14 19h1v1h-1zM25 19h1v1h-1zM14 20h1v1h-1zM26 20h1v1h-1zM14 21h1v1h-1zM13 22h2v1h-2zM29 22h1v1h-1zM0 23h7v1h-7zM12 23h1v1h-1zM30 23h1v1h-1zM8 24h4v1h-4zM31 24h1v1h-1zM32 25h1v1h-1zM34 26h2v1h-2zM37 27h4v1h-4zM40 28h2v1h-2zM41 29h2v1h-2zM41 30h2v1h-2zM41 31h3v1h-3zM40 32h4v1h-4zM5 33h1v1h-1zM33 33h10v1h-10zM8 34h1v1h-1zM33 34h1v1h-1zM10 35h4v1h-4zM12 36h11v1h-11zM32 36h1v1h-1zM13 37h1v1h-1zM23 37h2v1h-2zM3 38h1v1h-1zM11 38h4v1h-4zM24 38h2v1h-2zM30 38h1v1h-1zM14 39h4v1h-4zM24 39h2v1h-2zM29 39h1v1h-1zM71 39h1v1h-1zM21 40h3v1h-3zM28 40h1v1h-1zM0 41h3v1h-3zM29 41h1v1h-1zM70 41h1v1h-1zM29 44h1v1h-1zM28 46h1v1h-1zM27 66h1v1h-1zM0 67h4v1h-4zM14 67h1v1h-1zM18 70h1v1h-1zM27 70h1v1h-1zM26 71h1v1h-1zM21 72h4v1h-4zM77 101h6v1h-6zM103 101h21v1h-21zM76 102h11v1h-11zM91 102h13v1h-13zM75 103h5v1h-5zM84 103h8v1h-8zM74 104h3v1h-3zM72 105h3v1h-3zM70 106h4v1h-4zM65 107h7v1h-7zM63 108h6v1h-6zM60 109h4v1h-4zM57 110h3v1h-3zM55 111h2v1h-2zM54 112h1v1h-1zM53 113h1v1h-1zM52 114h1v1h-1zM52 115h1v1h-1zM51 116h1v1h-1zM51 117h1v1h-1zM50 118h2v1h-2zM50 119h1v1h-1zM50 120h1v1h-1zM50 121h1v1h-1zM50 122h1v1h-1zM50 123h1v1h-1z"/>
<path fill="#00ffe4" d="M20 16h1v1h-1zM16 17h2v1h-2zM21 17h3v1h-3zM15 18h1v1h-1zM23 18h1v1h-1zM15 19h1v1h-1zM24 19h1v1h-1zM15 20h1v1h-1zM25 20h1v1h-1zM15 21h1v1h-1zM27 21h1v1h-1zM15 22h1v1h-1zM28 22h1v1h-1zM6 24h2v1h-2zM9 25h3v1h-3zM31 25h1v1h-1zM33 26h1v1h-1zM34 27h3v1h-3zM37 28h3v1h-3zM38 29h3v1h-3zM38 30h3v1h-3zM36 31h5v1h-5zM0 32h4v1h-4zM33 32h7v1h-7zM32 33h1v1h-1zM13 34h1v1h-1zM32 34h1v1h-1zM14 35h8v1h-8zM23 36h2v1h-2zM25 37h2v1h-2zM29 37h2v1h-2zM10 38h1v1h-1zM26 38h4v1h-4zM13 39h1v1h-1zM26 39h3v1h-3zM17 40h4v1h-4zM24 40h4v1h-4zM69 40h1v1h-1zM71 40h1v1h-1zM3 41h1v1h-1zM28 41h1v1h-1zM29 42h1v1h-1zM29 43h1v1h-1zM27 67h1v1h-1zM27 68h1v1h-1zM27 69h1v1h-1zM26 70h1v1h-1zM19 71h1v1h-1zM25 71h1v1h-1zM104 102h20v1h-20zM80 103h4v1h-4zM92 103h12v1h-12zM77 104h16v1h-16zM75 105h4v1h-4zM74 106h2v1h-2zM72 107h3v1h-3zM69 108h4v1h-4zM64 109h7v1h-7zM60 110h8v1h-8zM57 111h3v1h-3zM55 112h2v1h-2zM54 113h2v1h-2zM53 114h2v1h-2zM53 115h1v1h-1zM52 116h1v1h-1zM52 117h1v1h-1zM52 118h1v1h-1zM51 119h2v1h-2zM51 120h2v1h-2zM51 121h1v1h-1zM51 122h1v1h-1zM51 123h1v1h-1z"/>
<path fill="#00ffea" d="M18 17h3v1h-3zM16 18h2v1h-2zM22 18h1v1h-1zM16 19h1v1h-1zM23 19h1v1h-1zM16 20h1v1h-1zM24 20h1v1h-1zM16 21h2v1h-2zM26 21h1v1h-1zM16 22h1v1h-1zM29 23h1v1h-1zM4 24h2v1h-2zM30 24h1v1h-1zM7 25h2v1h-2zM32 26h1v1h-1zM33 27h1v1h-1zM34 28h3v1h-3zM35 29h3v1h-3zM34 30h4v1h-4zM32 31h4v1h-4zM31 32h2v1h-2zM6 33h1v1h-1zM31 33h1v1h-1zM14 34h6v1h-6zM22 35h1v1h-1zM30 36h2v1h-2zM27 37h2v1h-2zM4 38h1v1h-1zM12 39h1v1h-1zM13 40h4v1h-4zM4 41h1v1h-1zM27 41h1v1h-1zM28 42h1v1h-1zM28 44h1v1h-1zM28 45h1v1h-1zM7 66h4v1h-4zM15 67h1v1h-1zM26 69h1v1h-1zM20 71h5v1h-5zM104 103h20v1h-20zM93 104h10v1h-10zM79 105h16v1h-16zM76 106h6v1h-6zM75 107h2v1h-2zM73 108h2v1h-2zM71 109h2v1h-2zM68 110h4v1h-4zM60 111h10v1h-10zM57 112h11v1h-11zM56 113h1v1h-1zM55 114h1v1h-1zM54 115h1v1h-1zM53 116h2v1h-2zM53 117h1v1h-1zM53 118h1v1h-1zM53 119h1v1h-1zM53 120h1v1h-1zM52 121h2v1h-2zM52 122h2v1h-2zM52 123h2v1h-2z"/>
<path fill="#00fff1" d="M18 18h4v1h-4zM17 19h3v1h-3zM21 19h2v1h-2zM17 20h3v1h-3zM22 20h2v1h-2zM18 21h2v1h-2zM23 21h3v1h-3zM17 22h2v1h-2zM26 22h2v1h-2zM13 23h1v1h-1zM28 23h1v1h-1zM0 24h4v1h-4zM12 24h1v1h-1zM29 24h1v1h-1zM6 25h1v1h-1zM30 25h1v1h-1zM8 26h4v1h-4zM31 26h1v1h-1zM31 27h2v1h-2zM32 28h2v1h-2zM33 29h2v1h-2zM32 30h2v1h-2zM31 31h1v1h-1zM4 32h1v1h-1zM30 32h1v1h-1zM14 33h1v1h-1zM30 33h1v1h-1zM9 34h1v1h-1zM12 34h1v1h-1zM20 34h1v1h-1zM32 35h1v1h-1zM25 36h5v1h-5zM9 38h1v1h-1zM12 40h1v1h-1zM5 41h2v1h-2zM19 41h4v1h-4zM26 41h1v1h-1zM28 43h1v1h-1zM28 50h1v1h-1zM27 61h1v1h-1zM11 66h2v1h-2zM17 68h1v1h-1zM26 68h1v1h-1zM18 69h1v1h-1zM19 70h1v1h-1zM24 70h2v1h-2zM103 104h21v1h-21zM95 105h8v1h-8zM82 106h15v1h-15zM77 107h10v1h-10zM75 108h4v1h-4zM73 109h3v1h-3zM72 110h2v1h-2zM70 111h3v1h-3zM68 112h3v1h-3zM57 113h13v1h-13zM56 114h3v1h-3zM61 114h8v1h-8zM55 115h2v1h-2zM63 115h5v1h-5zM55 116h1v1h-1zM65 116h1v1h-1zM54 117h2v1h-2zM54 118h1v1h-1zM54 119h1v1h-1zM54 120h1v1h-1zM54 121h1v1h-1zM54 122h1v1h-1zM54 123h1v1h-1z"/>
<path fill="#00fff7" d="M20 19h1v1h-1zM20 20h2v1h-2zM20 21h3v1h-3zM19 22h7v1h-7zM14 23h3v1h-3zM27 23h1v1h-1zM5 25h1v1h-1zM29 25h1v1h-1zM7 26h1v1h-1zM30 26h1v1h-1zM9 27h2v1h-2zM30 27h1v1h-1zM31 28h1v1h-1zM31 29h2v1h-2zM30 30h2v1h-2zM29 31h2v1h-2zM28 32h2v1h-2zM13 33h1v1h-1zM15 33h3v1h-3zM31 34h1v1h-1zM23 35h1v1h-1zM5 38h1v1h-1zM70 39h1v1h-1zM0 40h3v1h-3zM7 41h1v1h-1zM14 41h5v1h-5zM23 41h3v1h-3zM27 42h1v1h-1zM27 46h1v1h-1zM30 57h1v1h-1zM26 65h1v1h-1zM6 66h1v1h-1zM13 66h2v1h-2zM26 66h1v1h-1zM16 67h1v1h-1zM26 67h1v1h-1zM25 69h1v1h-1zM20 70h4v1h-4zM103 105h21v1h-21zM97 106h7v1h-7zM87 107h11v1h-11zM79 108h12v1h-12zM76 109h10v1h-10zM74 110h3v1h-3zM73 111h2v1h-2zM71 112h3v1h-3zM70 113h2v1h-2zM59 114h2v1h-2zM69 114h2v1h-2zM57 115h6v1h-6zM68 115h2v1h-2zM56 116h3v1h-3zM60 116h5v1h-5zM66 116h4v1h-4zM56 117h1v1h-1zM61 117h8v1h-8zM55 118h2v1h-2zM62 118h7v1h-7zM55 119h2v1h-2zM62 119h7v1h-7zM55 120h2v1h-2zM63 120h5v1h-5zM55 121h2v1h-2zM63 121h5v1h-5zM55 122h2v1h-2zM63 122h5v1h-5zM55 123h2v1h-2zM63 123h5v1h-5z"/>
<path fill="#00fffe" d="M17 23h10v1h-10zM27 24h2v1h-2zM0 25h5v1h-5zM12 25h1v1h-1zM6 26h1v1h-1zM29 26h1v1h-1zM8 27h1v1h-1zM11 27h1v1h-1zM9 28h3v1h-3zM30 28h1v1h-1zM10 29h1v1h-1zM30 29h1v1h-1zM11 30h1v1h-1zM29 30h1v1h-1zM0 31h3v1h-3zM12 31h1v1h-1zM28 31h1v1h-1zM13 32h2v1h-2zM26 32h2v1h-2zM7 33h1v1h-1zM18 33h3v1h-3zM29 33h1v1h-1zM21 34h1v1h-1zM6 38h1v1h-1zM8 38h1v1h-1zM8 41h2v1h-2zM12 41h2v1h-2zM27 43h1v1h-1zM27 45h1v1h-1zM9 65h4v1h-4zM15 66h1v1h-1zM25 68h1v1h-1zM19 69h1v1h-1zM24 69h1v1h-1zM104 106h20v1h-20zM98 107h6v1h-6zM91 108h8v1h-8zM86 109h8v1h-8zM77 110h12v1h-12zM75 111h11v1h-11zM74 112h2v1h-2zM82 112h1v1h-1zM72 113h3v1h-3zM71 114h3v1h-3zM70 115h3v1h-3zM59 116h1v1h-1zM70 116h2v1h-2zM57 117h4v1h-4zM69 117h3v1h-3zM57 118h5v1h-5zM69 118h3v1h-3zM57 119h5v1h-5zM69 119h2v1h-2zM57 120h6v1h-6zM68 120h3v1h-3zM57 121h6v1h-6zM68 121h3v1h-3zM57 122h6v1h-6zM68 122h3v1h-3zM57 123h6v1h-6zM68 123h3v1h-3z"/>
<path fill="#00dbff" d="M13 24h1v1h-1zM21 24h1v1h-1zM25 25h1v1h-1zM3 26h2v1h-2zM12 27h1v1h-1zM13 28h1v1h-1zM8 29h1v1h-1zM14 29h1v1h-1zM9 30h1v1h-1zM15 30h1v1h-1zM3 31h1v1h-1zM17 31h6v1h-6zM12 32h1v1h-1zM8 33h1v1h-1zM24 34h6v1h-6zM26 35h4v1h-4zM8 39h1v1h-1zM9 40h2v1h-2zM70 40h1v1h-1zM0 42h3v1h-3zM22 43h1v1h-1zM24 43h1v1h-1zM26 44h1v1h-1zM25 45h1v1h-1zM11 64h2v1h-2zM8 65h1v1h-1zM119 111h5v1h-5zM101 112h11v1h-11zM115 112h9v1h-9zM94 113h30v1h-30zM92 114h9v1h-9zM111 114h5v1h-5zM90 115h6v1h-6zM89 116h5v1h-5zM88 117h5v1h-5zM87 118h5v1h-5zM87 119h5v1h-5zM86 120h5v1h-5zM86 121h5v1h-5zM86 122h5v1h-5zM86 123h5v1h-5z"/>
<path fill="#00caff" d="M14 24h3v1h-3zM13 25h1v1h-1zM24 25h1v1h-1zM27 26h1v1h-1zM5 27h1v1h-1zM28 27h1v1h-1zM14 28h1v1h-1zM15 29h1v1h-1zM28 29h1v1h-1zM17 30h1v1h-1zM25 30h1v1h-1zM4 31h1v1h-1zM6 32h1v1h-1zM11 32h1v1h-1zM9 33h1v1h-1zM17 42h1v1h-1zM21 43h1v1h-1zM13 64h1v1h-1zM17 66h2v1h-2zM23 68h1v1h-1zM103 116h10v1h-10zM116 116h8v1h-8zM101 117h23v1h-23zM100 118h5v1h-5zM112 118h12v1h-12zM99 119h5v1h-5zM99 120h4v1h-4zM99 121h4v1h-4zM99 122h4v1h-4zM99 123h4v1h-4z"/>
<path fill="#00d2ff" d="M17 24h4v1h-4zM0 26h3v1h-3zM16 30h1v1h-1zM26 30h1v1h-1zM10 31h1v1h-1zM25 43h1v1h-1zM24 44h2v1h-2zM26 63h1v1h-1zM5 66h1v1h-1zM25 66h1v1h-1zM20 68h1v1h-1zM101 114h10v1h-10zM116 114h8v1h-8zM96 115h28v1h-28zM94 116h9v1h-9zM113 116h3v1h-3zM93 117h8v1h-8zM92 118h8v1h-8zM92 119h7v1h-7zM91 120h8v1h-8zM91 121h8v1h-8zM91 122h8v1h-8zM91 123h8v1h-8z"/>
<path fill="#00e5ff" d="M22 24h2v1h-2zM26 25h1v1h-1zM12 26h1v1h-1zM28 26h1v1h-1zM6 27h1v1h-1zM7 28h1v1h-1zM29 28h1v1h-1zM29 29h1v1h-1zM14 30h1v1h-1zM27 30h1v1h-1zM16 31h1v1h-1zM23 31h2v1h-2zM12 33h1v1h-1zM22 33h3v1h-3zM23 34h1v1h-1zM30 34h1v1h-1zM25 35h1v1h-1zM30 35h1v1h-1zM3 39h5v1h-5zM9 39h2v1h-2zM5 40h4v1h-4zM18 42h1v1h-1zM24 42h2v1h-2zM23 43h1v1h-1zM26 43h1v1h-1zM26 45h1v1h-1zM26 46h1v1h-1zM15 65h1v1h-1zM16 66h1v1h-1zM18 67h1v1h-1zM115 109h9v1h-9zM102 110h22v1h-22zM96 111h23v1h-23zM92 112h9v1h-9zM112 112h3v1h-3zM90 113h4v1h-4zM89 114h3v1h-3zM87 115h3v1h-3zM86 116h3v1h-3zM85 117h3v1h-3zM84 118h3v1h-3zM84 119h3v1h-3zM83 120h3v1h-3zM83 121h3v1h-3zM83 122h3v1h-3zM83 123h3v1h-3z"/>
<path fill="#00eeff" d="M24 24h1v1h-1zM27 25h1v1h-1zM5 26h1v1h-1zM29 27h1v1h-1zM12 28h1v1h-1zM13 29h1v1h-1zM13 30h1v1h-1zM28 30h1v1h-1zM11 31h1v1h-1zM14 31h2v1h-2zM25 31h1v1h-1zM5 32h1v1h-1zM17 32h7v1h-7zM21 33h1v1h-1zM25 33h2v1h-2zM10 34h2v1h-2zM22 34h1v1h-1zM31 35h1v1h-1zM0 39h3v1h-3zM4 40h1v1h-1zM11 40h1v1h-1zM19 42h2v1h-2zM17 67h1v1h-1zM19 68h1v1h-1zM24 68h1v1h-1zM105 108h19v1h-19zM100 109h15v1h-15zM95 110h7v1h-7zM91 111h5v1h-5zM88 112h4v1h-4zM87 113h3v1h-3zM85 114h4v1h-4zM78 115h2v1h-2zM82 115h5v1h-5zM77 116h9v1h-9zM78 117h7v1h-7zM78 118h6v1h-6zM79 119h5v1h-5zM79 120h4v1h-4zM79 121h4v1h-4zM79 122h4v1h-4zM79 123h4v1h-4z"/>
<path fill="#00f7ff" d="M25 24h2v1h-2zM28 25h1v1h-1zM7 27h1v1h-1zM8 28h1v1h-1zM9 29h1v1h-1zM11 29h2v1h-2zM10 30h1v1h-1zM12 30h1v1h-1zM13 31h1v1h-1zM26 31h2v1h-2zM15 32h2v1h-2zM24 32h2v1h-2zM27 33h2v1h-2zM24 35h1v1h-1zM7 38h1v1h-1zM11 39h1v1h-1zM3 40h1v1h-1zM10 41h2v1h-2zM21 42h3v1h-3zM26 42h1v1h-1zM27 44h1v1h-1zM28 47h1v1h-1zM26 64h1v1h-1zM13 65h2v1h-2zM25 67h1v1h-1zM18 68h1v1h-1zM20 69h4v1h-4zM104 107h20v1h-20zM99 108h6v1h-6zM94 109h6v1h-6zM89 110h6v1h-6zM86 111h5v1h-5zM76 112h6v1h-6zM83 112h5v1h-5zM75 113h12v1h-12zM74 114h11v1h-11zM73 115h5v1h-5zM80 115h2v1h-2zM72 116h5v1h-5zM72 117h6v1h-6zM72 118h6v1h-6zM71 119h8v1h-8zM71 120h8v1h-8zM71 121h8v1h-8zM71 122h8v1h-8zM71 123h8v1h-8z"/>
<path fill="#31ff00" d="M77 24h6v1h-6zM75 25h1v1h-1zM83 25h5v1h-5zM74 26h1v1h-1zM91 27h1v1h-1zM74 29h1v1h-1zM75 30h1v1h-1zM94 30h1v1h-1zM78 31h2v1h-2zM80 32h1v1h-1zM80 33h1v1h-1zM80 34h1v1h-1zM89 34h1v1h-1zM80 35h1v1h-1zM79 36h1v1h-1zM84 36h1v1h-1zM78 37h1v1h-1zM57 39h1v1h-1zM67 39h1v1h-1zM81 39h1v1h-1zM81 40h1v1h-1zM75 44h1v1h-1zM78 45h1v1h-1zM76 47h1v1h-1zM43 50h1v1h-1zM75 52h1v1h-1zM75 53h1v1h-1zM75 54h1v1h-1zM75 55h1v1h-1zM75 56h2v1h-2zM33 57h1v1h-1zM76 57h2v1h-2zM93 57h3v1h-3zM77 58h2v1h-2zM92 58h5v1h-5zM78 59h1v1h-1zM91 59h5v1h-5zM79 60h1v1h-1zM80 61h1v1h-1zM82 62h1v1h-1zM83 63h1v1h-1zM84 64h1v1h-1zM84 65h1v1h-1zM31 66h1v1h-1zM84 66h1v1h-1zM84 67h1v1h-1zM84 68h2v1h-2zM9 69h1v1h-1zM83 69h3v1h-3zM12 70h1v1h-1zM83 70h3v1h-3zM83 71h5v1h-5zM83 72h10v1h-10zM83 73h10v1h-10zM83 74h9v1h-9zM18 75h1v1h-1zM28 75h1v1h-1zM83 75h7v1h-7zM82 76h3v1h-3zM24 77h1v1h-1zM80 77h2v1h-2zM72 78h3v1h-3zM70 79h1v1h-1zM67 80h1v1h-1zM61 82h1v1h-1zM40 83h1v1h-1zM45 83h1v1h-1zM57 83h2v1h-2zM47 84h6v1h-6zM37 86h1v1h-1zM36 91h1v1h-1zM34 99h1v1h-1zM30 101h1v1h-1zM0 102h8v1h-8zM23 102h5v1h-5zM0 103h10v1h-10zM21 103h1v1h-1zM10 104h4v1h-4zM17 104h3v1h-3z"/>
<path fill="#00baff" d="M14 25h9v1h-9zM14 26h2v1h-2zM23 26h3v1h-3zM0 27h3v1h-3zM14 27h1v1h-1zM25 27h3v1h-3zM0 28h6v1h-6zM15 28h1v1h-1zM25 28h3v1h-3zM0 29h7v1h-7zM17 29h1v1h-1zM24 29h3v1h-3zM3 30h5v1h-5zM6 31h2v1h-2zM3 42h1v1h-1zM20 43h1v1h-1zM24 45h1v1h-1zM16 65h1v1h-1zM19 67h1v1h-1z"/>
<path fill="#00c2ff" d="M23 25h1v1h-1zM13 26h1v1h-1zM26 26h1v1h-1zM3 27h2v1h-2zM13 27h1v1h-1zM6 28h1v1h-1zM28 28h1v1h-1zM7 29h1v1h-1zM16 29h1v1h-1zM27 29h1v1h-1zM0 30h3v1h-3zM8 30h1v1h-1zM18 30h7v1h-7zM5 31h1v1h-1zM8 31h2v1h-2zM7 32h4v1h-4zM10 33h2v1h-2zM23 44h1v1h-1zM10 64h1v1h-1zM105 118h7v1h-7zM104 119h20v1h-20zM103 120h21v1h-21zM103 121h21v1h-21zM103 122h21v1h-21zM103 123h21v1h-21z"/>
<path fill="#3dff00" d="M76 25h1v1h-1zM80 25h3v1h-3zM75 26h1v1h-1zM81 26h4v1h-4zM89 26h1v1h-1zM74 27h1v1h-1zM82 27h2v1h-2zM74 28h1v1h-1zM82 28h1v1h-1zM92 28h1v1h-1zM93 29h1v1h-1zM76 30h1v1h-1zM80 31h1v1h-1zM92 32h1v1h-1zM63 35h1v1h-1zM66 35h1v1h-1zM60 37h1v1h-1zM77 38h1v1h-1zM81 38h1v1h-1zM68 40h1v1h-1zM80 43h1v1h-1zM79 44h1v1h-1zM75 45h1v1h-1zM77 45h1v1h-1zM76 46h1v1h-1zM46 49h1v1h-1zM75 50h1v1h-1zM75 51h1v1h-1zM40 52h1v1h-1zM42 54h1v1h-1zM74 54h1v1h-1zM74 55h1v1h-1zM74 56h1v1h-1zM38 57h2v1h-2zM75 57h1v1h-1zM32 58h1v1h-1zM76 58h1v1h-1zM31 59h1v1h-1zM77 59h1v1h-1zM78 60h1v1h-1zM79 61h1v1h-1zM80 62h2v1h-2zM81 63h2v1h-2zM82 64h2v1h-2zM83 65h1v1h-1zM83 66h1v1h-1zM32 67h1v1h-1zM83 67h1v1h-1zM32 68h1v1h-1zM82 68h2v1h-2zM0 69h9v1h-9zM32 69h1v1h-1zM81 69h2v1h-2zM81 70h2v1h-2zM80 71h3v1h-3zM80 72h3v1h-3zM31 73h1v1h-1zM81 73h2v1h-2zM81 74h2v1h-2zM81 75h2v1h-2zM26 76h1v1h-1zM80 76h2v1h-2zM21 77h1v1h-1zM73 77h7v1h-7zM71 78h1v1h-1zM69 79h1v1h-1zM66 80h1v1h-1zM63 81h1v1h-1zM41 82h3v1h-3zM60 82h1v1h-1zM46 83h1v1h-1zM52 83h5v1h-5zM36 87h1v1h-1zM35 97h1v1h-1zM0 100h6v1h-6zM32 100h1v1h-1zM0 101h9v1h-9zM29 101h1v1h-1zM8 102h3v1h-3zM22 102h1v1h-1zM10 103h2v1h-2zM19 103h2v1h-2zM14 104h3v1h-3z"/>
<path fill="#45ff00" d="M77 25h3v1h-3zM76 26h1v1h-1zM79 26h2v1h-2zM85 26h4v1h-4zM75 27h1v1h-1zM80 27h2v1h-2zM84 27h1v1h-1zM90 27h1v1h-1zM80 28h2v1h-2zM83 28h2v1h-2zM75 29h1v1h-1zM80 29h4v1h-4zM77 30h6v1h-6zM81 31h1v1h-1zM93 31h1v1h-1zM81 32h1v1h-1zM81 33h1v1h-1zM90 33h1v1h-1zM81 34h1v1h-1zM86 35h1v1h-1zM80 36h1v1h-1zM83 36h1v1h-1zM66 37h1v1h-1zM81 37h1v1h-1zM56 40h1v1h-1zM76 40h1v1h-1zM76 45h1v1h-1zM74 46h2v1h-2zM46 47h1v1h-1zM75 47h1v1h-1zM75 48h1v1h-1zM75 49h1v1h-1zM74 52h1v1h-1zM74 53h1v1h-1zM73 54h1v1h-1zM73 55h1v1h-1zM41 56h1v1h-1zM73 56h1v1h-1zM34 57h1v1h-1zM37 57h1v1h-1zM73 57h2v1h-2zM74 58h2v1h-2zM76 59h1v1h-1zM77 60h1v1h-1zM78 61h1v1h-1zM79 62h1v1h-1zM80 63h1v1h-1zM81 64h1v1h-1zM82 65h1v1h-1zM82 66h1v1h-1zM81 67h2v1h-2zM80 68h2v1h-2zM79 69h2v1h-2zM32 70h1v1h-1zM79 70h2v1h-2zM13 71h1v1h-1zM78 71h2v1h-2zM78 72h2v1h-2zM79 73h2v1h-2zM79 74h2v1h-2zM78 75h3v1h-3zM74 76h6v1h-6zM72 77h1v1h-1zM70 78h1v1h-1zM68 79h1v1h-1zM65 80h1v1h-1zM62 81h1v1h-1zM40 82h1v1h-1zM44 82h1v1h-1zM59 82h1v1h-1zM39 83h1v1h-1zM47 83h5v1h-5zM38 84h1v1h-1zM0 99h7v1h-7zM33 99h1v1h-1zM6 100h3v1h-3zM31 100h1v1h-1zM9 101h1v1h-1zM22 101h4v1h-4zM27 101h2v1h-2zM11 102h1v1h-1zM20 102h2v1h-2zM12 103h2v1h-2zM18 103h1v1h-1z"/>
<path fill="#00b2ff" d="M16 26h7v1h-7zM15 27h10v1h-10zM16 28h9v1h-9zM18 29h6v1h-6zM25 46h1v1h-1zM30 53h1v1h-1z"/>
<path fill="#4eff00" d="M77 26h2v1h-2zM76 27h1v1h-1zM78 27h2v1h-2zM85 27h2v1h-2zM89 27h1v1h-1zM75 28h1v1h-1zM79 28h1v1h-1zM76 29h1v1h-1zM78 29h2v1h-2zM84 29h1v1h-1zM83 30h1v1h-1zM93 30h1v1h-1zM82 31h1v1h-1zM82 32h1v1h-1zM88 34h1v1h-1zM81 35h1v1h-1zM81 36h2v1h-2zM79 37h1v1h-1zM72 46h2v1h-2zM74 51h1v1h-1zM73 53h1v1h-1zM72 55h1v1h-1zM72 56h1v1h-1zM35 57h2v1h-2zM40 57h1v1h-1zM72 57h1v1h-1zM73 58h1v1h-1zM74 59h2v1h-2zM75 60h2v1h-2zM77 61h1v1h-1zM78 62h1v1h-1zM79 63h1v1h-1zM80 64h1v1h-1zM80 65h2v1h-2zM80 66h2v1h-2zM79 67h2v1h-2zM78 68h2v1h-2zM77 69h2v1h-2zM11 70h1v1h-1zM77 70h2v1h-2zM32 71h1v1h-1zM76 71h2v1h-2zM14 72h1v1h-1zM76 72h2v1h-2zM15 73h1v1h-1zM76 73h3v1h-3zM75 74h4v1h-4zM29 75h1v1h-1zM73 75h5v1h-5zM19 76h1v1h-1zM72 76h2v1h-2zM20 77h1v1h-1zM25 77h1v1h-1zM71 77h1v1h-1zM69 78h1v1h-1zM67 79h1v1h-1zM61 81h1v1h-1zM45 82h2v1h-2zM53 82h6v1h-6zM37 85h1v1h-1zM35 88h1v1h-1zM35 96h1v1h-1zM0 97h5v1h-5zM0 98h7v1h-7zM34 98h1v1h-1zM7 99h2v1h-2zM9 100h1v1h-1zM30 100h1v1h-1zM10 101h1v1h-1zM21 101h1v1h-1zM26 101h1v1h-1zM12 102h1v1h-1zM19 102h1v1h-1zM14 103h4v1h-4z"/>
<path fill="#56ff00" d="M77 27h1v1h-1zM87 27h2v1h-2zM76 28h3v1h-3zM85 28h1v1h-1zM91 28h1v1h-1zM77 29h1v1h-1zM92 29h1v1h-1zM84 30h1v1h-1zM83 31h1v1h-1zM92 31h1v1h-1zM91 32h1v1h-1zM82 33h1v1h-1zM89 33h1v1h-1zM82 34h1v1h-1zM87 34h1v1h-1zM64 35h2v1h-2zM82 35h1v1h-1zM85 35h1v1h-1zM62 36h1v1h-1zM80 37h1v1h-1zM59 38h1v1h-1zM55 41h1v1h-1zM76 41h1v1h-1zM69 42h1v1h-1zM80 42h1v1h-1zM76 44h1v1h-1zM78 44h1v1h-1zM74 50h1v1h-1zM73 52h1v1h-1zM42 53h1v1h-1zM72 53h1v1h-1zM72 54h1v1h-1zM71 55h1v1h-1zM71 56h1v1h-1zM72 58h1v1h-1zM72 59h2v1h-2zM74 60h1v1h-1zM75 61h2v1h-2zM76 62h2v1h-2zM77 63h2v1h-2zM78 64h2v1h-2zM78 65h2v1h-2zM32 66h1v1h-1zM78 66h2v1h-2zM33 67h1v1h-1zM77 67h2v1h-2zM33 68h1v1h-1zM76 68h2v1h-2zM75 69h2v1h-2zM74 70h3v1h-3zM12 71h1v1h-1zM74 71h2v1h-2zM73 72h3v1h-3zM73 73h3v1h-3zM16 74h1v1h-1zM72 74h3v1h-3zM17 75h1v1h-1zM72 75h1v1h-1zM27 76h1v1h-1zM71 76h1v1h-1zM70 77h1v1h-1zM22 78h2v1h-2zM64 80h1v1h-1zM41 81h3v1h-3zM39 82h1v1h-1zM47 82h6v1h-6zM36 86h1v1h-1zM35 87h1v1h-1zM0 95h5v1h-5zM35 95h1v1h-1zM0 96h6v1h-6zM5 97h2v1h-2zM7 98h1v1h-1zM32 99h1v1h-1zM29 100h1v1h-1zM20 101h1v1h-1zM18 102h1v1h-1z"/>
<path fill="#5eff00" d="M86 28h1v1h-1zM85 29h1v1h-1zM92 30h1v1h-1zM84 31h1v1h-1zM83 32h1v1h-1zM83 33h1v1h-1zM83 35h2v1h-2zM66 36h1v1h-1zM78 38h1v1h-1zM80 38h1v1h-1zM77 39h1v1h-1zM80 41h1v1h-1zM76 42h1v1h-1zM76 43h1v1h-1zM79 43h1v1h-1zM77 44h1v1h-1zM74 47h1v1h-1zM45 48h1v1h-1zM74 48h1v1h-1zM74 49h1v1h-1zM71 54h1v1h-1zM71 57h1v1h-1zM33 58h1v1h-1zM71 58h1v1h-1zM72 60h2v1h-2zM73 61h2v1h-2zM75 62h1v1h-1zM76 63h1v1h-1zM76 64h2v1h-2zM77 65h1v1h-1zM76 66h2v1h-2zM75 67h2v1h-2zM74 68h2v1h-2zM33 69h1v1h-1zM73 69h2v1h-2zM10 70h1v1h-1zM72 70h2v1h-2zM72 71h2v1h-2zM13 72h1v1h-1zM32 72h1v1h-1zM71 72h2v1h-2zM71 73h2v1h-2zM31 74h1v1h-1zM71 74h1v1h-1zM71 75h1v1h-1zM70 76h1v1h-1zM26 77h1v1h-1zM69 77h1v1h-1zM21 78h1v1h-1zM24 78h1v1h-1zM68 78h1v1h-1zM66 79h1v1h-1zM63 80h1v1h-1zM44 81h1v1h-1zM59 81h2v1h-2zM38 83h1v1h-1zM0 91h4v1h-4zM0 92h4v1h-4zM0 93h5v1h-5zM35 93h1v1h-1zM0 94h6v1h-6zM35 94h1v1h-1zM5 95h2v1h-2zM6 96h1v1h-1zM7 97h1v1h-1zM8 98h1v1h-1zM9 99h1v1h-1zM10 100h1v1h-1zM21 100h2v1h-2zM28 100h1v1h-1zM11 101h1v1h-1zM19 101h1v1h-1zM13 102h1v1h-1zM17 102h1v1h-1z"/>
<path fill="#65ff00" d="M87 28h1v1h-1zM90 28h1v1h-1zM85 30h1v1h-1zM91 31h1v1h-1zM84 32h1v1h-1zM90 32h1v1h-1zM84 33h1v1h-1zM88 33h1v1h-1zM83 34h4v1h-4zM79 38h1v1h-1zM58 39h1v1h-1zM80 39h1v1h-1zM80 40h1v1h-1zM73 51h1v1h-1zM43 52h1v1h-1zM72 52h1v1h-1zM45 53h1v1h-1zM71 53h1v1h-1zM70 55h1v1h-1zM70 56h1v1h-1zM38 58h2v1h-2zM32 59h1v1h-1zM71 59h1v1h-1zM72 61h1v1h-1zM73 62h2v1h-2zM74 63h2v1h-2zM75 64h1v1h-1zM75 65h2v1h-2zM74 66h2v1h-2zM34 67h1v1h-1zM74 67h1v1h-1zM73 68h1v1h-1zM72 69h1v1h-1zM9 70h1v1h-1zM33 70h1v1h-1zM71 70h1v1h-1zM11 71h1v1h-1zM71 71h1v1h-1zM70 72h1v1h-1zM14 73h1v1h-1zM70 73h1v1h-1zM70 74h1v1h-1zM30 75h1v1h-1zM70 75h1v1h-1zM18 76h1v1h-1zM19 77h1v1h-1zM65 79h1v1h-1zM62 80h1v1h-1zM40 81h1v1h-1zM45 81h2v1h-2zM50 81h9v1h-9zM37 84h1v1h-1zM0 88h3v1h-3zM0 89h5v1h-5zM35 89h1v1h-1zM0 90h5v1h-5zM4 91h2v1h-2zM4 92h2v1h-2zM5 93h1v1h-1zM6 94h1v1h-1zM7 96h1v1h-1zM8 97h1v1h-1zM34 97h1v1h-1zM33 98h1v1h-1zM20 100h1v1h-1zM23 100h1v1h-1zM27 100h1v1h-1zM14 102h1v1h-1zM16 102h1v1h-1z"/>
<path fill="#6cff00" d="M88 28h2v1h-2zM86 29h1v1h-1zM91 29h1v1h-1zM85 31h1v1h-1zM85 32h1v1h-1zM89 32h1v1h-1zM85 33h3v1h-3zM61 37h1v1h-1zM78 39h1v1h-1zM57 40h1v1h-1zM77 40h1v1h-1zM79 42h1v1h-1zM77 43h2v1h-2zM73 47h1v1h-1zM45 50h1v1h-1zM73 50h1v1h-1zM42 51h1v1h-1zM70 54h1v1h-1zM41 57h1v1h-1zM70 57h1v1h-1zM37 58h1v1h-1zM40 58h1v1h-1zM70 58h1v1h-1zM30 60h1v1h-1zM71 60h1v1h-1zM72 62h1v1h-1zM73 63h1v1h-1zM73 64h2v1h-2zM73 65h2v1h-2zM33 66h1v1h-1zM73 66h1v1h-1zM72 67h2v1h-2zM34 68h1v1h-1zM71 68h2v1h-2zM34 69h1v1h-1zM70 69h2v1h-2zM0 70h9v1h-9zM70 70h1v1h-1zM33 71h1v1h-1zM70 71h1v1h-1zM12 72h1v1h-1zM13 73h1v1h-1zM32 73h1v1h-1zM15 74h1v1h-1zM69 75h1v1h-1zM28 76h1v1h-1zM69 76h1v1h-1zM68 77h1v1h-1zM20 78h1v1h-1zM25 78h1v1h-1zM67 78h1v1h-1zM43 80h1v1h-1zM61 80h1v1h-1zM47 81h3v1h-3zM36 85h1v1h-1zM0 87h5v1h-5zM3 88h3v1h-3zM5 89h1v1h-1zM5 90h1v1h-1zM6 91h1v1h-1zM6 92h1v1h-1zM6 93h1v1h-1zM7 94h1v1h-1zM7 95h1v1h-1zM9 98h1v1h-1zM31 99h1v1h-1zM24 100h2v1h-2zM12 101h1v1h-1zM18 101h1v1h-1zM15 102h1v1h-1z"/>
<path fill="#79ff00" d="M87 29h1v1h-1zM90 29h1v1h-1zM87 32h1v1h-1zM65 36h1v1h-1zM60 38h1v1h-1zM78 40h1v1h-1zM56 41h1v1h-1zM78 41h1v1h-1zM78 42h1v1h-1zM51 43h1v1h-1zM71 46h1v1h-1zM68 47h1v1h-1zM73 49h1v1h-1zM44 51h1v1h-1zM69 54h1v1h-1zM69 55h1v1h-1zM69 56h1v1h-1zM69 57h1v1h-1zM35 58h2v1h-2zM38 59h1v1h-1zM70 60h1v1h-1zM71 62h1v1h-1zM71 63h1v1h-1zM71 65h1v1h-1zM35 66h2v1h-2zM71 66h1v1h-1zM70 67h1v1h-1zM35 68h1v1h-1zM69 68h1v1h-1zM68 69h1v1h-1zM68 70h1v1h-1zM8 71h2v1h-2zM34 71h1v1h-1zM68 71h1v1h-1zM10 72h1v1h-1zM68 72h1v1h-1zM12 73h1v1h-1zM33 73h1v1h-1zM68 73h1v1h-1zM12 74h2v1h-2zM32 74h1v1h-1zM68 74h1v1h-1zM15 75h1v1h-1zM31 75h1v1h-1zM68 75h1v1h-1zM6 76h6v1h-6zM17 76h1v1h-1zM29 76h1v1h-1zM0 77h7v1h-7zM10 77h2v1h-2zM18 77h1v1h-1zM67 77h1v1h-1zM0 78h5v1h-5zM10 78h2v1h-2zM19 78h1v1h-1zM26 78h1v1h-1zM0 79h5v1h-5zM9 79h2v1h-2zM21 79h3v1h-3zM63 79h1v1h-1zM0 80h10v1h-10zM45 80h15v1h-15zM0 81h7v1h-7zM0 82h6v1h-6zM0 83h6v1h-6zM37 83h1v1h-1zM0 84h6v1h-6zM5 85h1v1h-1zM6 86h1v1h-1zM6 87h1v1h-1zM7 89h1v1h-1zM7 90h1v1h-1zM7 91h1v1h-1zM8 95h1v1h-1zM9 97h1v1h-1zM22 99h1v1h-1zM28 99h1v1h-1zM13 101h1v1h-1zM17 101h1v1h-1z"/>
<path fill="#80ff00" d="M88 29h2v1h-2zM87 30h1v1h-1zM90 30h1v1h-1zM87 31h3v1h-3zM64 36h1v1h-1zM68 39h1v1h-1zM49 45h1v1h-1zM67 47h1v1h-1zM72 48h1v1h-1zM72 50h1v1h-1zM71 51h1v1h-1zM70 52h1v1h-1zM69 53h1v1h-1zM69 58h1v1h-1zM33 59h1v1h-1zM40 59h1v1h-1zM69 59h1v1h-1zM38 60h2v1h-2zM70 61h1v1h-1zM70 62h1v1h-1zM30 64h1v1h-1zM71 64h1v1h-1zM38 65h1v1h-1zM37 66h1v1h-1zM70 66h1v1h-1zM36 67h1v1h-1zM69 67h1v1h-1zM36 68h1v1h-1zM68 68h1v1h-1zM35 69h1v1h-1zM67 69h1v1h-1zM35 70h1v1h-1zM66 70h2v1h-2zM0 71h8v1h-8zM67 71h1v1h-1zM9 72h1v1h-1zM34 72h1v1h-1zM67 72h1v1h-1zM10 73h2v1h-2zM10 74h2v1h-2zM33 74h1v1h-1zM0 75h15v1h-15zM0 76h6v1h-6zM12 76h1v1h-1zM16 76h1v1h-1zM67 76h1v1h-1zM12 77h1v1h-1zM12 78h1v1h-1zM65 78h1v1h-1zM11 79h2v1h-2zM20 79h1v1h-1zM24 79h1v1h-1zM62 79h1v1h-1zM10 80h2v1h-2zM40 80h1v1h-1zM7 81h3v1h-3zM6 82h2v1h-2zM6 83h1v1h-1zM6 84h1v1h-1zM36 84h1v1h-1zM6 85h1v1h-1zM7 86h1v1h-1zM7 87h1v1h-1zM7 88h1v1h-1zM35 92h1v1h-1zM8 94h1v1h-1zM20 98h2v1h-2zM32 98h1v1h-1zM19 99h1v1h-1zM23 99h1v1h-1zM27 99h1v1h-1zM18 100h1v1h-1zM16 101h1v1h-1z"/>
<path fill="#73ff00" d="M86 30h1v1h-1zM91 30h1v1h-1zM86 31h1v1h-1zM90 31h1v1h-1zM86 32h1v1h-1zM88 32h1v1h-1zM63 36h1v1h-1zM69 38h1v1h-1zM79 39h1v1h-1zM79 40h1v1h-1zM67 41h1v1h-1zM77 41h1v1h-1zM79 41h1v1h-1zM66 42h1v1h-1zM77 42h1v1h-1zM69 47h4v1h-4zM73 48h1v1h-1zM72 51h1v1h-1zM71 52h1v1h-1zM70 53h1v1h-1zM42 55h1v1h-1zM34 58h1v1h-1zM39 59h1v1h-1zM70 59h1v1h-1zM71 61h1v1h-1zM72 63h1v1h-1zM72 64h1v1h-1zM31 65h1v1h-1zM72 65h1v1h-1zM34 66h1v1h-1zM72 66h1v1h-1zM35 67h1v1h-1zM71 67h1v1h-1zM70 68h1v1h-1zM69 69h1v1h-1zM34 70h1v1h-1zM69 70h1v1h-1zM10 71h1v1h-1zM69 71h1v1h-1zM11 72h1v1h-1zM33 72h1v1h-1zM69 72h1v1h-1zM69 73h1v1h-1zM14 74h1v1h-1zM69 74h1v1h-1zM16 75h1v1h-1zM68 76h1v1h-1zM7 77h3v1h-3zM27 77h1v1h-1zM5 78h5v1h-5zM66 78h1v1h-1zM5 79h4v1h-4zM64 79h1v1h-1zM41 80h2v1h-2zM44 80h1v1h-1zM60 80h1v1h-1zM39 81h1v1h-1zM38 82h1v1h-1zM0 85h5v1h-5zM0 86h6v1h-6zM35 86h1v1h-1zM5 87h1v1h-1zM34 87h1v1h-1zM6 88h1v1h-1zM6 89h1v1h-1zM6 90h1v1h-1zM7 92h1v1h-1zM7 93h1v1h-1zM8 96h1v1h-1zM10 99h1v1h-1zM20 99h2v1h-2zM29 99h2v1h-2zM11 100h1v1h-1zM19 100h1v1h-1zM26 100h1v1h-1z"/>
<path fill="#85ff00" d="M88 30h2v1h-2zM65 37h1v1h-1zM59 39h1v1h-1zM67 48h5v1h-5zM72 49h1v1h-1zM47 51h1v1h-1zM37 53h1v1h-1zM41 53h1v1h-1zM43 54h1v1h-1zM41 58h1v1h-1zM37 59h1v1h-1zM69 60h1v1h-1zM39 61h1v1h-1zM70 63h1v1h-1zM38 64h1v1h-1zM70 64h1v1h-1zM37 65h1v1h-1zM70 65h1v1h-1zM38 66h1v1h-1zM69 66h1v1h-1zM37 67h1v1h-1zM68 67h1v1h-1zM67 68h1v1h-1zM36 69h1v1h-1zM65 69h2v1h-2zM64 70h2v1h-2zM35 71h1v1h-1zM65 71h2v1h-2zM0 72h9v1h-9zM66 72h1v1h-1zM6 73h4v1h-4zM34 73h1v1h-1zM67 73h1v1h-1zM0 74h10v1h-10zM34 74h1v1h-1zM67 74h1v1h-1zM32 75h2v1h-2zM67 75h1v1h-1zM13 76h3v1h-3zM30 76h1v1h-1zM13 77h1v1h-1zM17 77h1v1h-1zM28 77h1v1h-1zM66 77h1v1h-1zM13 78h1v1h-1zM18 78h1v1h-1zM27 78h1v1h-1zM13 79h1v1h-1zM19 79h1v1h-1zM25 79h1v1h-1zM44 79h1v1h-1zM50 79h5v1h-5zM61 79h1v1h-1zM12 80h2v1h-2zM39 80h1v1h-1zM10 81h3v1h-3zM38 81h1v1h-1zM8 82h2v1h-2zM37 82h1v1h-1zM7 83h2v1h-2zM7 84h1v1h-1zM7 85h1v1h-1zM34 86h1v1h-1zM8 88h1v1h-1zM34 88h1v1h-1zM8 89h1v1h-1zM8 90h1v1h-1zM8 91h1v1h-1zM8 92h1v1h-1zM8 93h1v1h-1zM9 96h1v1h-1zM34 96h1v1h-1zM10 98h1v1h-1zM11 99h1v1h-1zM24 99h1v1h-1zM12 100h1v1h-1zM14 101h2v1h-2z"/>
<path fill="#8bff00" d="M62 37h1v1h-1zM65 38h1v1h-1zM58 40h1v1h-1zM66 40h2v1h-2zM50 44h1v1h-1zM66 47h1v1h-1zM67 49h5v1h-5zM71 50h1v1h-1zM70 51h1v1h-1zM69 52h1v1h-1zM68 54h1v1h-1zM68 55h1v1h-1zM42 56h1v1h-1zM68 56h1v1h-1zM34 59h1v1h-1zM36 59h1v1h-1zM37 60h1v1h-1zM40 60h1v1h-1zM38 61h1v1h-1zM69 61h1v1h-1zM39 62h1v1h-1zM39 63h1v1h-1zM39 64h1v1h-1zM69 65h1v1h-1zM67 67h1v1h-1zM37 68h1v1h-1zM66 68h1v1h-1zM64 69h1v1h-1zM36 70h1v1h-1zM36 71h1v1h-1zM63 71h2v1h-2zM35 72h1v1h-1zM65 72h1v1h-1zM0 73h6v1h-6zM35 73h1v1h-1zM66 73h1v1h-1zM35 74h1v1h-1zM34 75h1v1h-1zM31 76h2v1h-2zM66 76h1v1h-1zM14 77h3v1h-3zM29 77h1v1h-1zM14 78h2v1h-2zM17 78h1v1h-1zM64 78h1v1h-1zM14 79h1v1h-1zM18 79h1v1h-1zM26 79h1v1h-1zM42 79h2v1h-2zM45 79h5v1h-5zM55 79h6v1h-6zM14 80h1v1h-1zM13 81h2v1h-2zM10 82h3v1h-3zM9 83h1v1h-1zM8 84h1v1h-1zM8 85h1v1h-1zM35 85h1v1h-1zM8 86h1v1h-1zM8 87h1v1h-1zM34 93h1v1h-1zM20 97h1v1h-1zM33 97h1v1h-1zM19 98h1v1h-1zM22 98h1v1h-1zM25 99h2v1h-2z"/>
<path fill="#95ff00" d="M63 37h2v1h-2zM61 38h1v1h-1zM65 39h1v1h-1zM65 43h1v1h-1zM65 50h1v1h-1zM66 51h1v1h-1zM42 52h1v1h-1zM67 52h1v1h-1zM40 53h1v1h-1zM46 53h1v1h-1zM68 59h1v1h-1zM68 60h1v1h-1zM40 63h1v1h-1zM36 65h1v1h-1zM68 65h1v1h-1zM67 66h1v1h-1zM66 67h1v1h-1zM64 68h1v1h-1zM63 69h1v1h-1zM37 70h1v1h-1zM37 71h1v1h-1zM62 71h1v1h-1zM62 72h1v1h-1zM64 73h1v1h-1zM36 74h1v1h-1zM65 74h1v1h-1zM35 76h1v1h-1zM65 76h1v1h-1zM31 77h3v1h-3zM64 77h1v1h-1zM29 78h1v1h-1zM49 78h2v1h-2zM54 78h3v1h-3zM61 78h2v1h-2zM27 79h1v1h-1zM40 79h1v1h-1zM24 80h2v1h-2zM17 81h3v1h-3zM37 81h1v1h-1zM16 82h1v1h-1zM12 83h3v1h-3zM11 84h1v1h-1zM10 85h1v1h-1zM33 86h1v1h-1zM9 88h1v1h-1zM9 89h1v1h-1zM9 93h1v1h-1zM9 94h1v1h-1zM34 94h1v1h-1zM34 95h1v1h-1zM10 96h1v1h-1zM19 97h1v1h-1zM22 97h1v1h-1zM11 98h1v1h-1zM25 98h1v1h-1zM31 98h1v1h-1zM12 99h1v1h-1zM14 100h3v1h-3z"/>
<path fill="#a8ff00" d="M62 38h1v1h-1zM64 38h1v1h-1zM64 50h1v1h-1zM64 51h1v1h-1zM65 52h1v1h-1zM66 53h1v1h-1zM42 57h1v1h-1zM67 57h1v1h-1zM67 58h1v1h-1zM67 59h1v1h-1zM35 60h1v1h-1zM41 60h1v1h-1zM37 61h1v1h-1zM30 62h1v1h-1zM38 62h1v1h-1zM38 63h1v1h-1zM37 64h1v1h-1zM67 64h1v1h-1zM66 65h1v1h-1zM65 66h1v1h-1zM39 67h1v1h-1zM64 67h1v1h-1zM63 68h1v1h-1zM38 70h1v1h-1zM38 71h1v1h-1zM60 73h1v1h-1zM60 74h3v1h-3zM37 75h1v1h-1zM62 75h2v1h-2zM54 76h3v1h-3zM62 76h2v1h-2zM36 77h1v1h-1zM50 77h1v1h-1zM57 77h5v1h-5zM35 78h2v1h-2zM42 78h2v1h-2zM31 79h2v1h-2zM36 79h2v1h-2zM28 80h2v1h-2zM36 80h1v1h-1zM23 81h4v1h-4zM19 82h1v1h-1zM35 83h1v1h-1zM15 84h1v1h-1zM11 87h1v1h-1zM32 87h1v1h-1zM10 89h1v1h-1zM34 89h1v1h-1zM10 92h1v1h-1zM10 93h1v1h-1zM11 95h1v1h-1zM20 95h1v1h-1zM12 96h2v1h-2zM23 96h1v1h-1zM33 96h1v1h-1zM13 97h2v1h-2zM18 97h1v1h-1zM25 97h1v1h-1zM32 97h1v1h-1zM15 98h3v1h-3z"/>
<path fill="#b0ff00" d="M63 38h1v1h-1zM64 48h1v1h-1zM64 49h1v1h-1zM47 53h1v1h-1zM65 53h1v1h-1zM44 54h1v1h-1zM66 54h1v1h-1zM33 60h1v1h-1zM67 60h1v1h-1zM67 61h1v1h-1zM67 62h1v1h-1zM30 63h1v1h-1zM67 63h1v1h-1zM34 65h1v1h-1zM40 65h1v1h-1zM62 69h1v1h-1zM61 70h1v1h-1zM38 72h1v1h-1zM60 72h1v1h-1zM59 74h1v1h-1zM57 75h5v1h-5zM37 76h1v1h-1zM52 76h2v1h-2zM57 76h5v1h-5zM37 77h1v1h-1zM49 77h1v1h-1zM37 78h5v1h-5zM33 79h3v1h-3zM30 80h2v1h-2zM35 80h1v1h-1zM27 81h3v1h-3zM20 82h1v1h-1zM35 82h1v1h-1zM18 83h1v1h-1zM16 84h1v1h-1zM34 84h1v1h-1zM13 85h2v1h-2zM12 86h1v1h-1zM11 88h1v1h-1zM10 90h1v1h-1zM10 91h1v1h-1zM34 92h1v1h-1zM11 93h1v1h-1zM11 94h2v1h-2zM12 95h2v1h-2zM19 95h1v1h-1zM21 95h1v1h-1zM14 96h1v1h-1zM18 96h1v1h-1zM15 97h3v1h-3z"/>
<path fill="#9bff00" d="M60 39h1v1h-1zM64 43h1v1h-1zM49 47h1v1h-1zM65 47h1v1h-1zM46 48h1v1h-1zM49 48h1v1h-1zM45 49h1v1h-1zM65 49h1v1h-1zM65 51h1v1h-1zM66 52h1v1h-1zM39 53h1v1h-1zM67 53h1v1h-1zM67 54h1v1h-1zM41 59h1v1h-1zM36 60h1v1h-1zM30 61h1v1h-1zM68 61h1v1h-1zM68 62h1v1h-1zM68 63h1v1h-1zM68 64h1v1h-1zM39 66h1v1h-1zM66 66h1v1h-1zM65 67h1v1h-1zM38 68h1v1h-1zM62 70h1v1h-1zM37 72h1v1h-1zM37 73h1v1h-1zM62 73h2v1h-2zM64 74h1v1h-1zM36 75h1v1h-1zM65 75h1v1h-1zM34 77h1v1h-1zM52 77h3v1h-3zM63 77h1v1h-1zM30 78h3v1h-3zM46 78h3v1h-3zM57 78h4v1h-4zM28 79h1v1h-1zM39 79h1v1h-1zM26 80h1v1h-1zM37 80h1v1h-1zM20 81h1v1h-1zM17 82h1v1h-1zM36 82h1v1h-1zM15 83h2v1h-2zM12 84h1v1h-1zM35 84h1v1h-1zM11 85h1v1h-1zM10 86h1v1h-1zM10 87h1v1h-1zM9 90h1v1h-1zM9 91h1v1h-1zM35 91h1v1h-1zM9 92h1v1h-1zM10 95h1v1h-1zM20 96h2v1h-2zM11 97h1v1h-1zM23 97h1v1h-1zM12 98h1v1h-1zM18 98h1v1h-1zM26 98h5v1h-5zM13 99h1v1h-1zM17 99h1v1h-1z"/>
<path fill="#b9ff00" d="M61 39h1v1h-1zM64 39h1v1h-1zM60 40h1v1h-1zM66 43h1v1h-1zM49 46h1v1h-1zM63 48h1v1h-1zM64 52h1v1h-1zM66 55h1v1h-1zM34 60h1v1h-1zM41 61h1v1h-1zM66 64h1v1h-1zM33 65h1v1h-1zM65 65h1v1h-1zM64 66h1v1h-1zM39 68h1v1h-1zM60 71h1v1h-1zM38 73h1v1h-1zM59 73h1v1h-1zM38 74h1v1h-1zM58 74h1v1h-1zM56 75h1v1h-1zM38 77h1v1h-1zM48 77h1v1h-1zM32 80h3v1h-3zM30 81h1v1h-1zM35 81h1v1h-1zM17 84h1v1h-1zM15 85h1v1h-1zM33 85h1v1h-1zM13 86h1v1h-1zM31 86h1v1h-1zM12 87h1v1h-1zM33 88h1v1h-1zM11 89h1v1h-1zM11 91h1v1h-1zM11 92h1v1h-1zM12 93h1v1h-1zM33 93h1v1h-1zM13 94h1v1h-1zM20 94h1v1h-1zM14 95h1v1h-1zM15 96h3v1h-3zM24 96h1v1h-1zM26 97h1v1h-1z"/>
<path fill="#c9ff00" d="M62 39h2v1h-2zM64 40h1v1h-1zM64 41h3v1h-3zM63 42h1v1h-1zM60 49h2v1h-2zM63 52h1v1h-1zM48 53h1v1h-1zM45 54h1v1h-1zM64 54h1v1h-1zM43 55h1v1h-1zM65 55h1v1h-1zM42 58h1v1h-1zM66 58h1v1h-1zM66 59h1v1h-1zM66 60h1v1h-1zM66 61h1v1h-1zM66 62h1v1h-1zM41 63h1v1h-1zM31 64h1v1h-1zM65 64h1v1h-1zM64 65h1v1h-1zM61 68h1v1h-1zM39 69h1v1h-1zM60 69h1v1h-1zM60 70h1v1h-1zM59 72h1v1h-1zM58 73h1v1h-1zM56 74h1v1h-1zM54 75h1v1h-1zM50 76h1v1h-1zM39 77h1v1h-1zM44 77h3v1h-3zM22 82h1v1h-1zM25 82h1v1h-1zM31 82h3v1h-3zM19 83h1v1h-1zM33 83h1v1h-1zM33 84h1v1h-1zM32 85h1v1h-1zM14 86h1v1h-1zM13 87h1v1h-1zM31 87h1v1h-1zM12 89h1v1h-1zM12 90h1v1h-1zM12 91h1v1h-1zM13 92h1v1h-1zM14 93h1v1h-1zM15 94h4v1h-4zM22 95h1v1h-1zM25 96h1v1h-1zM32 96h1v1h-1zM27 97h1v1h-1z"/>
<path fill="#a0ff00" d="M59 40h1v1h-1zM65 40h1v1h-1zM58 41h1v1h-1zM53 42h1v1h-1zM64 42h1v1h-1zM65 48h1v1h-1zM67 55h1v1h-1zM67 56h1v1h-1zM32 60h1v1h-1zM40 64h1v1h-1zM32 65h1v1h-1zM35 65h1v1h-1zM67 65h1v1h-1zM38 69h1v1h-1zM61 71h1v1h-1zM61 72h1v1h-1zM61 73h1v1h-1zM37 74h1v1h-1zM63 74h1v1h-1zM64 75h1v1h-1zM36 76h1v1h-1zM64 76h1v1h-1zM35 77h1v1h-1zM51 77h1v1h-1zM55 77h2v1h-2zM62 77h1v1h-1zM33 78h2v1h-2zM44 78h2v1h-2zM29 79h2v1h-2zM38 79h1v1h-1zM27 80h1v1h-1zM21 81h2v1h-2zM36 81h1v1h-1zM18 82h1v1h-1zM17 83h1v1h-1zM13 84h2v1h-2zM12 85h1v1h-1zM34 85h1v1h-1zM11 86h1v1h-1zM32 86h1v1h-1zM10 88h1v1h-1zM10 94h1v1h-1zM11 96h1v1h-1zM19 96h1v1h-1zM22 96h1v1h-1zM12 97h1v1h-1zM24 97h1v1h-1zM13 98h2v1h-2zM14 99h3v1h-3z"/>
<path fill="#d1ff00" d="M61 40h1v1h-1zM63 43h1v1h-1zM61 50h2v1h-2zM52 51h1v1h-1zM47 52h1v1h-1zM51 52h1v1h-1zM63 53h1v1h-1zM65 56h1v1h-1zM31 61h1v1h-1zM36 61h1v1h-1zM65 63h1v1h-1zM41 64h1v1h-1zM63 66h1v1h-1zM40 67h1v1h-1zM58 67h5v1h-5zM58 68h3v1h-3zM57 69h3v1h-3zM39 70h1v1h-1zM58 70h2v1h-2zM39 71h1v1h-1zM59 71h1v1h-1zM39 72h1v1h-1zM39 73h1v1h-1zM53 75h1v1h-1zM39 76h1v1h-1zM40 77h4v1h-4zM23 82h2v1h-2zM30 83h3v1h-3zM18 84h1v1h-1zM32 84h1v1h-1zM17 85h1v1h-1zM15 86h1v1h-1zM13 88h1v1h-1zM13 89h1v1h-1zM13 90h1v1h-1zM34 90h1v1h-1zM13 91h1v1h-1zM34 91h1v1h-1zM14 92h1v1h-1zM15 93h2v1h-2zM19 93h1v1h-1zM28 97h1v1h-1zM30 97h1v1h-1z"/>
<path fill="#e2ff00" d="M62 40h2v1h-2zM54 42h1v1h-1zM67 43h1v1h-1zM58 49h1v1h-1zM54 50h3v1h-3zM54 51h1v1h-1zM61 51h1v1h-1zM52 52h1v1h-1zM62 53h1v1h-1zM65 58h1v1h-1zM65 59h1v1h-1zM65 60h1v1h-1zM33 61h1v1h-1zM35 61h1v1h-1zM65 61h1v1h-1zM31 62h1v1h-1zM37 62h1v1h-1zM37 63h1v1h-1zM64 63h1v1h-1zM36 64h1v1h-1zM61 64h3v1h-3zM59 65h1v1h-1zM61 65h2v1h-2zM41 66h1v1h-1zM57 66h1v1h-1zM41 67h1v1h-1zM56 67h1v1h-1zM56 68h1v1h-1zM40 69h1v1h-1zM55 69h1v1h-1zM55 70h1v1h-1zM55 71h2v1h-2zM57 72h1v1h-1zM56 73h1v1h-1zM54 74h1v1h-1zM51 75h1v1h-1zM40 76h1v1h-1zM48 76h1v1h-1zM20 83h1v1h-1zM27 83h1v1h-1zM31 84h1v1h-1zM17 86h1v1h-1zM30 86h1v1h-1zM15 87h1v1h-1zM14 88h1v1h-1zM32 88h1v1h-1zM14 89h1v1h-1zM15 90h1v1h-1zM33 90h1v1h-1zM15 91h2v1h-2zM17 92h3v1h-3zM24 95h1v1h-1zM26 96h1v1h-1zM31 96h1v1h-1z"/>
<path fill="#90ff00" d="M57 41h1v1h-1zM65 42h1v1h-1zM66 48h1v1h-1zM66 49h1v1h-1zM44 50h1v1h-1zM48 50h1v1h-1zM66 50h5v1h-5zM43 51h1v1h-1zM67 51h3v1h-3zM41 52h1v1h-1zM68 52h1v1h-1zM38 53h1v1h-1zM68 53h1v1h-1zM68 57h1v1h-1zM68 58h1v1h-1zM35 59h1v1h-1zM31 60h1v1h-1zM40 61h1v1h-1zM40 62h1v1h-1zM69 62h1v1h-1zM69 63h1v1h-1zM69 64h1v1h-1zM39 65h1v1h-1zM68 66h1v1h-1zM38 67h1v1h-1zM65 68h1v1h-1zM37 69h1v1h-1zM63 70h1v1h-1zM36 72h1v1h-1zM63 72h2v1h-2zM36 73h1v1h-1zM65 73h1v1h-1zM66 74h1v1h-1zM35 75h1v1h-1zM66 75h1v1h-1zM33 76h2v1h-2zM30 77h1v1h-1zM65 77h1v1h-1zM16 78h1v1h-1zM28 78h1v1h-1zM51 78h3v1h-3zM63 78h1v1h-1zM15 79h3v1h-3zM41 79h1v1h-1zM15 80h9v1h-9zM38 80h1v1h-1zM15 81h2v1h-2zM13 82h3v1h-3zM10 83h2v1h-2zM36 83h1v1h-1zM9 84h2v1h-2zM9 85h1v1h-1zM9 86h1v1h-1zM9 87h1v1h-1zM33 87h1v1h-1zM35 90h1v1h-1zM9 95h1v1h-1zM10 97h1v1h-1zM21 97h1v1h-1zM23 98h2v1h-2zM18 99h1v1h-1zM13 100h1v1h-1zM17 100h1v1h-1z"/>
<path fill="#c1ff00" d="M59 41h1v1h-1zM69 46h2v1h-2zM64 47h1v1h-1zM62 48h1v1h-1zM49 49h1v1h-1zM62 49h2v1h-2zM63 50h1v1h-1zM63 51h1v1h-1zM64 53h1v1h-1zM65 54h1v1h-1zM66 56h1v1h-1zM66 57h1v1h-1zM41 62h1v1h-1zM66 63h1v1h-1zM40 66h1v1h-1zM63 67h1v1h-1zM62 68h1v1h-1zM61 69h1v1h-1zM57 74h1v1h-1zM38 75h1v1h-1zM55 75h1v1h-1zM38 76h1v1h-1zM51 76h1v1h-1zM47 77h1v1h-1zM31 81h4v1h-4zM21 82h1v1h-1zM26 82h5v1h-5zM34 82h1v1h-1zM34 83h1v1h-1zM16 85h1v1h-1zM12 88h1v1h-1zM11 90h1v1h-1zM12 92h1v1h-1zM13 93h1v1h-1zM14 94h1v1h-1zM19 94h1v1h-1zM33 94h1v1h-1zM15 95h4v1h-4zM33 95h1v1h-1zM31 97h1v1h-1z"/>
<path fill="#daff00" d="M60 41h1v1h-1zM68 46h1v1h-1zM61 48h1v1h-1zM59 49h1v1h-1zM57 50h4v1h-4zM53 51h1v1h-1zM62 51h1v1h-1zM50 52h1v1h-1zM62 52h1v1h-1zM49 53h1v1h-1zM46 54h1v1h-1zM63 54h1v1h-1zM64 55h1v1h-1zM65 57h1v1h-1zM32 61h1v1h-1zM65 62h1v1h-1zM64 64h1v1h-1zM41 65h1v1h-1zM60 65h1v1h-1zM63 65h1v1h-1zM58 66h5v1h-5zM57 67h1v1h-1zM40 68h1v1h-1zM57 68h1v1h-1zM56 69h1v1h-1zM56 70h2v1h-2zM57 71h2v1h-2zM58 72h1v1h-1zM57 73h1v1h-1zM39 74h1v1h-1zM55 74h1v1h-1zM39 75h1v1h-1zM52 75h1v1h-1zM49 76h1v1h-1zM28 83h2v1h-2zM31 85h1v1h-1zM16 86h1v1h-1zM14 87h1v1h-1zM33 89h1v1h-1zM14 90h1v1h-1zM14 91h1v1h-1zM15 92h2v1h-2zM33 92h1v1h-1zM17 93h2v1h-2zM20 93h1v1h-1zM32 93h1v1h-1zM21 94h1v1h-1zM32 94h1v1h-1zM23 95h1v1h-1zM32 95h1v1h-1zM29 97h1v1h-1z"/>
<path fill="#f2ff00" d="M61 41h2v1h-2zM71 43h1v1h-1zM57 49h1v1h-1zM49 50h1v1h-1zM51 51h1v1h-1zM49 52h1v1h-1zM53 52h1v1h-1zM61 52h1v1h-1zM51 53h1v1h-1zM48 54h1v1h-1zM62 54h1v1h-1zM63 55h1v1h-1zM64 61h1v1h-1zM33 62h1v1h-1zM63 62h1v1h-1zM61 63h1v1h-1zM32 64h1v1h-1zM59 64h1v1h-1zM57 65h1v1h-1zM56 66h1v1h-1zM42 67h1v1h-1zM55 67h1v1h-1zM42 68h1v1h-1zM54 68h1v1h-1zM42 69h1v1h-1zM53 69h1v1h-1zM41 70h1v1h-1zM52 70h2v1h-2zM41 71h1v1h-1zM52 71h2v1h-2zM53 72h2v1h-2zM53 73h2v1h-2zM40 74h1v1h-1zM52 74h1v1h-1zM50 75h1v1h-1zM42 76h6v1h-6zM21 83h1v1h-1zM26 83h1v1h-1zM29 84h1v1h-1zM30 85h1v1h-1zM17 87h1v1h-1zM16 88h1v1h-1zM30 88h1v1h-1zM16 89h1v1h-1zM17 90h1v1h-1zM31 90h2v1h-2zM19 91h1v1h-1zM31 91h1v1h-1zM31 92h1v1h-1zM31 93h1v1h-1zM22 94h1v1h-1zM31 94h1v1h-1zM25 95h1v1h-1zM27 96h1v1h-1zM30 96h1v1h-1z"/>
<path fill="#eaff00" d="M63 41h1v1h-1zM62 42h1v1h-1zM71 45h1v1h-1zM53 50h1v1h-1zM55 51h6v1h-6zM50 53h1v1h-1zM47 54h1v1h-1zM44 55h1v1h-1zM43 56h1v1h-1zM64 56h1v1h-1zM42 59h1v1h-1zM34 61h1v1h-1zM32 62h1v1h-1zM64 62h1v1h-1zM31 63h1v1h-1zM62 63h2v1h-2zM60 64h1v1h-1zM58 65h1v1h-1zM41 68h1v1h-1zM55 68h1v1h-1zM41 69h1v1h-1zM54 69h1v1h-1zM40 70h1v1h-1zM54 70h1v1h-1zM40 71h1v1h-1zM54 71h1v1h-1zM40 72h1v1h-1zM55 72h2v1h-2zM40 73h1v1h-1zM55 73h1v1h-1zM53 74h1v1h-1zM40 75h1v1h-1zM41 76h1v1h-1zM30 84h1v1h-1zM18 85h1v1h-1zM16 87h1v1h-1zM30 87h1v1h-1zM15 88h1v1h-1zM31 88h1v1h-1zM15 89h1v1h-1zM31 89h2v1h-2zM16 90h1v1h-1zM17 91h2v1h-2zM33 91h1v1h-1zM32 92h1v1h-1zM31 95h1v1h-1z"/>
<path fill="#00a3ff" d="M4 42h1v1h-1zM22 44h1v1h-1zM27 49h1v1h-1zM26 62h1v1h-1zM4 66h1v1h-1z"/>
<path fill="#007cff" d="M5 42h1v1h-1zM21 44h1v1h-1zM0 45h9v1h-9zM23 45h1v1h-1zM0 46h12v1h-12zM6 47h8v1h-8zM11 48h5v1h-5z"/>
<path fill="#006fff" d="M6 42h1v1h-1zM9 45h1v1h-1zM12 46h1v1h-1zM5 47h1v1h-1zM14 47h1v1h-1zM9 48h2v1h-2zM15 49h2v1h-2zM18 65h1v1h-1zM19 66h1v1h-1z"/>
<path fill="#005bff" d="M7 42h1v1h-1zM14 42h1v1h-1zM7 44h1v1h-1zM13 46h1v1h-1zM0 47h4v1h-4zM8 48h1v1h-1zM13 49h1v1h-1zM29 52h1v1h-1zM12 63h1v1h-1zM15 64h1v1h-1z"/>
<path fill="#0040ff" d="M8 42h3v1h-3zM18 43h1v1h-1zM11 49h1v1h-1zM28 59h1v1h-1zM25 63h1v1h-1zM22 64h3v1h-3zM19 65h1v1h-1zM21 65h4v1h-4zM20 66h4v1h-4zM21 67h2v1h-2z"/>
<path fill="#0035ff" d="M11 42h2v1h-2zM20 44h1v1h-1zM12 45h1v1h-1zM14 46h1v1h-1zM16 47h1v1h-1zM5 48h1v1h-1zM30 56h1v1h-1zM24 62h2v1h-2zM10 63h1v1h-1zM23 63h2v1h-2zM16 64h1v1h-1zM21 64h1v1h-1zM4 65h2v1h-2zM20 65h1v1h-1z"/>
<path fill="#004dff" d="M13 42h1v1h-1zM8 44h1v1h-1zM24 46h1v1h-1zM12 49h1v1h-1zM26 61h1v1h-1zM23 67h1v1h-1z"/>
<path fill="#0063ff" d="M15 42h1v1h-1zM0 44h7v1h-7zM10 45h1v1h-1zM4 47h1v1h-1zM16 48h1v1h-1zM14 49h1v1h-1zM29 58h1v1h-1z"/>
<path fill="#009cff" d="M16 42h1v1h-1zM19 43h1v1h-1zM28 48h1v1h-1zM7 65h1v1h-1zM17 65h1v1h-1zM0 66h3v1h-3zM22 68h1v1h-1z"/>
<path fill="#fffc00" d="M55 42h1v1h-1zM58 42h1v1h-1zM61 42h1v1h-1zM53 44h1v1h-1zM65 44h1v1h-1zM50 45h1v1h-1zM61 45h1v1h-1zM66 46h1v1h-1zM55 48h1v1h-1zM60 48h1v1h-1zM53 49h3v1h-3zM50 50h1v1h-1zM48 51h1v1h-1zM48 52h1v1h-1zM55 52h2v1h-2zM52 53h1v1h-1zM50 54h1v1h-1zM47 55h2v1h-2zM43 57h1v1h-1zM42 60h1v1h-1zM64 60h1v1h-1zM62 62h1v1h-1zM33 63h4v1h-4zM42 63h1v1h-1zM33 64h2v1h-2zM43 67h1v1h-1zM54 67h1v1h-1zM53 68h1v1h-1zM44 69h1v1h-1zM51 69h1v1h-1zM44 70h1v1h-1zM50 70h1v1h-1zM43 71h1v1h-1zM50 71h1v1h-1zM42 72h2v1h-2zM50 72h1v1h-1zM42 73h1v1h-1zM50 73h2v1h-2zM42 74h1v1h-1zM50 74h1v1h-1zM42 75h2v1h-2zM48 75h1v1h-1zM23 83h2v1h-2zM28 84h1v1h-1zM29 85h1v1h-1zM18 87h1v1h-1zM18 88h1v1h-1zM18 89h1v1h-1zM19 90h1v1h-1zM30 91h1v1h-1zM23 94h2v1h-2zM30 94h1v1h-1zM26 95h1v1h-1z"/>
<path fill="#fff400" d="M56 42h1v1h-1zM59 42h1v1h-1zM55 43h4v1h-4zM61 43h1v1h-1zM51 44h2v1h-2zM66 44h1v1h-1zM62 45h1v1h-1zM60 46h1v1h-1zM58 47h1v1h-1zM56 48h1v1h-1zM51 50h1v1h-1zM57 52h3v1h-3zM53 53h1v1h-1zM51 54h1v1h-1zM49 55h1v1h-1zM44 56h2v1h-2zM63 56h1v1h-1zM64 58h1v1h-1zM64 59h1v1h-1zM63 61h1v1h-1zM42 62h1v1h-1zM59 63h1v1h-1zM57 64h1v1h-1zM56 65h1v1h-1zM43 66h1v1h-1zM55 66h1v1h-1zM44 68h1v1h-1zM52 68h1v1h-1zM45 69h2v1h-2zM50 69h1v1h-1zM45 70h5v1h-5zM44 71h6v1h-6zM44 72h2v1h-2zM48 72h2v1h-2zM43 73h2v1h-2zM49 73h1v1h-1zM43 74h2v1h-2zM48 74h2v1h-2zM44 75h4v1h-4zM26 84h2v1h-2zM28 85h1v1h-1zM29 86h1v1h-1zM29 87h1v1h-1zM29 88h1v1h-1zM19 89h1v1h-1zM29 89h1v1h-1zM20 91h1v1h-1zM30 92h1v1h-1zM22 93h1v1h-1zM30 93h1v1h-1zM25 94h1v1h-1zM27 95h3v1h-3z"/>
<path fill="#ffec00" d="M57 42h1v1h-1zM60 42h1v1h-1zM59 43h2v1h-2zM67 44h1v1h-1zM57 48h1v1h-1zM54 53h1v1h-1zM52 54h1v1h-1zM50 55h1v1h-1zM62 55h1v1h-1zM46 56h2v1h-2zM42 61h1v1h-1zM61 62h1v1h-1zM58 63h1v1h-1zM43 65h1v1h-1zM44 67h1v1h-1zM53 67h1v1h-1zM45 68h1v1h-1zM51 68h1v1h-1zM47 69h3v1h-3zM46 72h2v1h-2zM45 73h4v1h-4zM45 74h3v1h-3zM20 84h1v1h-1zM25 84h1v1h-1zM19 85h1v1h-1zM27 85h1v1h-1zM19 86h1v1h-1zM28 86h1v1h-1zM19 87h1v1h-1zM28 87h1v1h-1zM19 88h1v1h-1zM20 90h1v1h-1zM29 90h1v1h-1zM29 91h1v1h-1zM21 92h3v1h-3zM23 93h3v1h-3zM29 93h1v1h-1zM26 94h2v1h-2zM29 94h1v1h-1z"/>
<path fill="#002bff" d="M0 43h4v1h-4zM10 44h1v1h-1zM22 45h1v1h-1zM26 47h1v1h-1zM4 48h1v1h-1zM10 49h1v1h-1zM18 49h1v1h-1zM28 51h1v1h-1zM24 61h2v1h-2zM23 62h1v1h-1zM22 63h1v1h-1zM20 64h1v1h-1zM0 65h4v1h-4z"/>
<path fill="#0020ff" d="M4 43h3v1h-3zM0 48h4v1h-4zM15 50h2v1h-2zM27 50h1v1h-1zM24 60h3v1h-3zM23 61h1v1h-1zM22 62h1v1h-1zM9 63h1v1h-1zM14 63h1v1h-1zM21 63h1v1h-1zM7 64h1v1h-1zM17 64h3v1h-3z"/>
<path fill="#0015ff" d="M7 43h1v1h-1zM13 45h1v1h-1zM15 46h1v1h-1zM18 48h1v1h-1zM9 49h1v1h-1zM14 50h1v1h-1zM17 50h1v1h-1zM24 58h2v1h-2zM24 59h4v1h-4zM23 60h1v1h-1zM6 64h1v1h-1z"/>
<path fill="#000bff" d="M8 43h1v1h-1zM11 44h1v1h-1zM17 47h1v1h-1zM7 49h2v1h-2zM19 49h2v1h-2zM18 50h3v1h-3zM24 54h2v1h-2zM30 54h1v1h-1zM24 55h2v1h-2zM24 56h3v1h-3zM24 57h4v1h-4zM26 58h3v1h-3zM23 59h1v1h-1zM22 61h1v1h-1zM7 63h2v1h-2zM15 63h1v1h-1zM20 63h1v1h-1zM0 64h6v1h-6z"/>
<path fill="#0000ff" d="M9 43h2v1h-2zM17 43h1v1h-1zM12 44h1v1h-1zM14 45h1v1h-1zM16 46h2v1h-2zM18 47h3v1h-3zM19 48h3v1h-3zM0 49h7v1h-7zM21 49h2v1h-2zM13 50h1v1h-1zM21 50h3v1h-3zM20 51h5v1h-5zM22 52h4v1h-4zM23 53h4v1h-4zM23 54h1v1h-1zM26 54h2v1h-2zM23 55h1v1h-1zM26 55h3v1h-3zM30 55h1v1h-1zM27 56h2v1h-2zM28 57h2v1h-2zM23 58h1v1h-1zM22 60h1v1h-1zM8 62h5v1h-5zM21 62h1v1h-1zM0 63h7v1h-7zM16 63h2v1h-2zM19 63h1v1h-1z"/>
<path fill="#0600ff" d="M11 43h3v1h-3zM13 44h3v1h-3zM19 44h1v1h-1zM15 45h5v1h-5zM21 45h1v1h-1zM18 46h4v1h-4zM23 46h1v1h-1zM21 47h2v1h-2zM22 48h1v1h-1zM27 48h1v1h-1zM23 49h1v1h-1zM24 50h1v1h-1zM19 51h1v1h-1zM25 51h1v1h-1zM21 52h1v1h-1zM26 52h2v1h-2zM22 53h1v1h-1zM27 53h2v1h-2zM28 54h2v1h-2zM29 55h1v1h-1zM23 56h1v1h-1zM29 56h1v1h-1zM23 57h1v1h-1zM0 61h12v1h-12zM0 62h8v1h-8zM13 62h3v1h-3zM18 63h1v1h-1z"/>
<path fill="#0d00ff" d="M14 43h3v1h-3zM16 44h3v1h-3zM20 45h1v1h-1zM22 46h1v1h-1zM23 47h1v1h-1zM23 48h1v1h-1zM24 49h1v1h-1zM0 50h4v1h-4zM12 50h1v1h-1zM25 50h1v1h-1zM18 51h1v1h-1zM26 51h2v1h-2zM28 52h1v1h-1zM29 53h1v1h-1zM22 54h1v1h-1zM0 57h6v1h-6zM0 58h8v1h-8zM0 59h11v1h-11zM22 59h1v1h-1zM0 60h14v1h-14zM12 61h4v1h-4zM21 61h1v1h-1zM16 62h5v1h-5z"/>
<path fill="#faff00" d="M52 43h1v1h-1zM62 43h1v1h-1zM68 43h1v1h-1zM54 44h11v1h-11zM51 45h10v1h-10zM50 46h10v1h-10zM67 46h1v1h-1zM50 47h8v1h-8zM63 47h1v1h-1zM50 48h5v1h-5zM50 49h3v1h-3zM56 49h1v1h-1zM52 50h1v1h-1zM54 52h1v1h-1zM60 52h1v1h-1zM61 53h1v1h-1zM49 54h1v1h-1zM45 55h2v1h-2zM64 57h1v1h-1zM34 62h3v1h-3zM32 63h1v1h-1zM60 63h1v1h-1zM35 64h1v1h-1zM42 64h1v1h-1zM58 64h1v1h-1zM42 65h1v1h-1zM42 66h1v1h-1zM43 68h1v1h-1zM43 69h1v1h-1zM52 69h1v1h-1zM42 70h2v1h-2zM51 70h1v1h-1zM42 71h1v1h-1zM51 71h1v1h-1zM41 72h1v1h-1zM51 72h2v1h-2zM41 73h1v1h-1zM52 73h1v1h-1zM41 74h1v1h-1zM51 74h1v1h-1zM41 75h1v1h-1zM49 75h1v1h-1zM22 83h1v1h-1zM25 83h1v1h-1zM19 84h1v1h-1zM18 86h1v1h-1zM17 88h1v1h-1zM17 89h1v1h-1zM30 89h1v1h-1zM18 90h1v1h-1zM30 90h1v1h-1zM32 91h1v1h-1zM20 92h1v1h-1zM21 93h1v1h-1zM30 95h1v1h-1zM28 96h2v1h-2z"/>
<path fill="#ffd200" d="M53 43h1v1h-1zM64 45h1v1h-1zM65 46h1v1h-1zM62 47h1v1h-1zM55 54h2v1h-2zM54 55h1v1h-1zM52 56h2v1h-2zM47 57h5v1h-5zM63 60h1v1h-1zM62 61h1v1h-1zM55 63h1v1h-1zM44 64h1v1h-1zM54 64h1v1h-1zM47 65h3v1h-3zM53 65h2v1h-2zM47 66h3v1h-3zM52 66h2v1h-2zM47 67h5v1h-5zM20 85h1v1h-1z"/>
<path fill="#ffe300" d="M54 43h1v1h-1zM68 44h1v1h-1zM63 45h1v1h-1zM61 46h1v1h-1zM59 47h1v1h-1zM58 48h2v1h-2zM49 51h1v1h-1zM55 53h1v1h-1zM60 53h1v1h-1zM53 54h1v1h-1zM61 54h1v1h-1zM51 55h1v1h-1zM48 56h2v1h-2zM44 57h1v1h-1zM43 58h1v1h-1zM57 63h1v1h-1zM43 64h1v1h-1zM56 64h1v1h-1zM44 65h1v1h-1zM55 65h1v1h-1zM44 66h1v1h-1zM54 66h1v1h-1zM45 67h1v1h-1zM46 68h2v1h-2zM50 68h1v1h-1zM21 84h4v1h-4zM24 85h3v1h-3zM25 86h3v1h-3zM26 87h2v1h-2zM20 88h1v1h-1zM22 88h1v1h-1zM27 88h2v1h-2zM20 89h1v1h-1zM22 89h2v1h-2zM28 89h1v1h-1zM21 90h3v1h-3zM28 90h1v1h-1zM21 91h4v1h-4zM24 92h2v1h-2zM29 92h1v1h-1zM26 93h3v1h-3zM28 94h1v1h-1z"/>
<path fill="#ffdb00" d="M69 43h1v1h-1zM50 51h1v1h-1zM56 53h4v1h-4zM54 54h1v1h-1zM52 55h2v1h-2zM50 56h2v1h-2zM45 57h2v1h-2zM60 62h1v1h-1zM56 63h1v1h-1zM55 64h1v1h-1zM45 65h2v1h-2zM45 66h2v1h-2zM46 67h1v1h-1zM52 67h1v1h-1zM48 68h2v1h-2zM21 85h3v1h-3zM20 86h5v1h-5zM20 87h6v1h-6zM21 88h1v1h-1zM23 88h4v1h-4zM21 89h1v1h-1zM24 89h4v1h-4zM24 90h4v1h-4zM25 91h4v1h-4zM26 92h3v1h-3z"/>
<path fill="#ffae00" d="M70 43h1v1h-1zM67 45h1v1h-1zM63 46h2v1h-2zM58 56h2v1h-2zM57 57h1v1h-1zM56 58h1v1h-1zM45 59h10v1h-10zM61 61h1v1h-1zM43 62h1v1h-1zM55 62h1v1h-1zM52 63h1v1h-1z"/>
<path fill="#0047ff" d="M9 44h1v1h-1zM6 48h1v1h-1zM17 48h1v1h-1zM13 63h1v1h-1zM8 64h1v1h-1z"/>
<path fill="#ffc900" d="M69 44h1v1h-1zM65 45h1v1h-1zM60 47h1v1h-1zM57 54h2v1h-2zM60 54h1v1h-1zM55 55h2v1h-2zM61 55h1v1h-1zM54 56h1v1h-1zM52 57h2v1h-2zM63 57h1v1h-1zM44 58h1v1h-1zM43 59h1v1h-1zM59 62h1v1h-1zM54 63h1v1h-1zM52 64h2v1h-2zM50 65h3v1h-3zM50 66h2v1h-2z"/>
<path fill="#ff9f00" d="M70 44h1v1h-1zM69 45h1v1h-1zM60 57h1v1h-1zM62 57h1v1h-1zM58 58h1v1h-1zM57 59h1v1h-1zM62 59h1v1h-1zM45 60h11v1h-11zM59 61h2v1h-2zM51 63h1v1h-1z"/>
<path fill="#ffb700" d="M71 44h1v1h-1zM58 55h3v1h-3zM57 56h1v1h-1zM56 57h1v1h-1zM54 58h2v1h-2zM44 59h1v1h-1zM43 60h1v1h-1zM56 62h2v1h-2zM46 64h5v1h-5z"/>
<path fill="#0054ff" d="M11 45h1v1h-1zM15 47h1v1h-1zM7 48h1v1h-1zM17 49h1v1h-1zM27 60h1v1h-1zM11 63h1v1h-1zM25 64h1v1h-1zM6 65h1v1h-1zM24 66h1v1h-1zM20 67h1v1h-1z"/>
<path fill="#ffc000" d="M66 45h1v1h-1zM62 46h1v1h-1zM61 47h1v1h-1zM59 54h1v1h-1zM57 55h1v1h-1zM55 56h2v1h-2zM62 56h1v1h-1zM54 57h2v1h-2zM45 58h9v1h-9zM63 58h1v1h-1zM63 59h1v1h-1zM58 62h1v1h-1zM43 63h1v1h-1zM53 63h1v1h-1zM45 64h1v1h-1zM51 64h1v1h-1z"/>
<path fill="#ffa500" d="M68 45h1v1h-1zM60 56h2v1h-2zM58 57h2v1h-2zM57 58h1v1h-1zM55 59h2v1h-2zM44 60h1v1h-1zM62 60h1v1h-1zM43 61h1v1h-1zM54 62h1v1h-1zM44 63h1v1h-1z"/>
<path fill="#ff9100" d="M70 45h1v1h-1zM61 58h1v1h-1zM59 59h1v1h-1zM58 60h2v1h-2zM61 60h1v1h-1zM46 61h8v1h-8zM44 62h2v1h-2zM52 62h1v1h-1zM46 63h4v1h-4z"/>
<path fill="#1400fe" d="M24 47h2v1h-2zM24 48h1v1h-1zM25 49h1v1h-1zM4 50h8v1h-8zM26 50h1v1h-1zM17 51h1v1h-1zM20 52h1v1h-1zM21 53h1v1h-1zM0 54h6v1h-6zM0 55h9v1h-9zM22 55h1v1h-1zM0 56h10v1h-10zM22 56h1v1h-1zM6 57h6v1h-6zM22 57h1v1h-1zM8 58h7v1h-7zM22 58h1v1h-1zM11 59h7v1h-7zM21 59h1v1h-1zM14 60h8v1h-8zM16 61h5v1h-5z"/>
<path fill="#008fff" d="M27 47h1v1h-1zM9 64h1v1h-1z"/>
<path fill="#1b00f9" d="M25 48h1v1h-1zM26 49h1v1h-1zM0 51h9v1h-9zM13 51h4v1h-4zM0 52h11v1h-11zM19 52h1v1h-1zM0 53h13v1h-13zM6 54h8v1h-8zM9 55h7v1h-7zM10 56h8v1h-8zM12 57h8v1h-8zM15 58h7v1h-7zM18 59h3v1h-3z"/>
<path fill="#2300f3" d="M26 48h1v1h-1zM9 51h4v1h-4zM11 52h8v1h-8zM13 53h8v1h-8zM14 54h8v1h-8zM16 55h6v1h-6zM18 56h4v1h-4zM20 57h2v1h-2z"/>
<path fill="#ff9800" d="M61 57h1v1h-1zM59 58h2v1h-2zM62 58h1v1h-1zM58 59h1v1h-1zM56 60h2v1h-2zM44 61h2v1h-2zM54 61h5v1h-5zM53 62h1v1h-1zM45 63h1v1h-1zM50 63h1v1h-1z"/>
<path fill="#ff8b00" d="M60 59h2v1h-2zM60 60h1v1h-1zM46 62h6v1h-6z"/>
<path fill="#00aaff" d="M14 64h1v1h-1zM24 67h1v1h-1z"/>
<path fill="#0095ff" d="M25 65h1v1h-1zM3 66h1v1h-1zM21 68h1v1h-1z"/>
</g></g></g>
<defs><filter id="f3" x="0" y="0" width="1" height="1" color-interpolation-filters="sRGB"><feGaussianBlur stdDeviation="3.0" edgeMode="duplicate"/></filter><clipPath id="cf3"><rect x="2280.50" y="119.60" width="938.7" height="939.7"/></clipPath></defs><g clip-path="url(#cf3)"><g filter="url(#f3)"><g transform="translate(2264.86,103.94) scale(7.8225,7.8308)" shape-rendering="crispEdges">
<path fill="#f8f2ef" d="M0 0h20v1h-20zM51 0h17v1h-17zM0 1h20v1h-20zM51 1h17v1h-17zM0 2h20v1h-20zM51 2h17v1h-17zM0 3h20v1h-20zM51 3h17v1h-17zM0 4h20v1h-20zM51 4h16v1h-16zM0 5h19v1h-19zM51 5h15v1h-15zM0 6h16v1h-16zM51 6h6v1h-6zM0 7h13v1h-13zM0 8h11v1h-11zM91 8h4v1h-4zM0 9h10v1h-10zM36 9h11v1h-11zM89 9h7v1h-7zM0 10h8v1h-8zM35 10h13v1h-13zM89 10h8v1h-8zM0 11h6v1h-6zM34 11h14v1h-14zM88 11h9v1h-9zM33 12h15v1h-15zM88 12h9v1h-9zM31 13h17v1h-17zM88 13h9v1h-9zM28 14h20v1h-20zM87 14h10v1h-10zM26 15h22v1h-22zM87 15h10v1h-10zM0 16h5v1h-5zM24 16h24v1h-24zM88 16h8v1h-8zM0 17h7v1h-7zM21 17h7v1h-7zM33 17h15v1h-15zM88 17h8v1h-8zM0 18h24v1h-24zM36 18h12v1h-12zM91 18h5v1h-5zM6 19h11v1h-11zM37 19h11v1h-11zM92 19h10v1h-10zM38 20h12v1h-12zM67 20h2v1h-2zM92 20h12v1h-12zM38 21h17v1h-17zM63 21h9v1h-9zM91 21h4v1h-4zM101 21h3v1h-3zM39 22h35v1h-35zM91 22h2v1h-2zM102 22h3v1h-3zM41 23h26v1h-26zM71 23h3v1h-3zM90 23h2v1h-2zM103 23h2v1h-2zM44 24h23v1h-23zM72 24h2v1h-2zM90 24h1v1h-1zM103 24h2v1h-2zM54 25h12v1h-12zM73 25h2v1h-2zM105 25h1v1h-1zM56 26h10v1h-10zM74 26h1v1h-1zM89 26h1v1h-1zM105 26h1v1h-1zM58 27h8v1h-8zM74 27h2v1h-2zM89 27h1v1h-1zM106 27h1v1h-1zM59 28h7v1h-7zM75 28h2v1h-2zM82 28h1v1h-1zM105 28h3v1h-3zM61 29h4v1h-4zM78 29h6v1h-6zM88 29h1v1h-1zM106 29h4v1h-4zM116 29h8v1h-8zM82 30h2v1h-2zM87 30h1v1h-1zM108 30h9v1h-9zM83 31h4v1h-4zM111 31h3v1h-3zM0 54h8v1h-8zM0 55h10v1h-10zM4 56h7v1h-7zM63 56h4v1h-4zM68 56h4v1h-4zM90 56h6v1h-6zM7 57h7v1h-7zM60 57h2v1h-2zM72 57h2v1h-2zM88 57h3v1h-3zM96 57h1v1h-1zM9 58h7v1h-7zM59 58h1v1h-1zM74 58h3v1h-3zM88 58h2v1h-2zM96 58h2v1h-2zM12 59h8v1h-8zM58 59h1v1h-1zM77 59h2v1h-2zM88 59h3v1h-3zM96 59h1v1h-1zM15 60h9v1h-9zM55 60h2v1h-2zM79 60h2v1h-2zM90 60h6v1h-6zM18 61h15v1h-15zM39 61h6v1h-6zM80 61h2v1h-2zM81 62h2v1h-2zM82 63h1v1h-1zM82 64h2v1h-2zM82 65h2v1h-2zM83 66h1v1h-1zM83 67h2v1h-2zM83 68h2v1h-2zM119 68h5v1h-5zM84 69h2v1h-2zM115 69h9v1h-9zM85 70h4v1h-4zM105 70h12v1h-12zM87 71h11v1h-11zM100 71h14v1h-14zM96 72h8v1h-8zM39 83h1v1h-1zM42 83h1v1h-1zM38 84h1v1h-1zM43 84h1v1h-1zM44 85h1v1h-1zM33 86h3v1h-3zM44 86h1v1h-1zM74 86h5v1h-5zM87 86h3v1h-3zM31 87h1v1h-1zM73 87h18v1h-18zM73 88h3v1h-3zM79 88h13v1h-13zM45 89h1v1h-1zM72 89h3v1h-3zM81 89h11v1h-11zM32 90h1v1h-1zM45 90h1v1h-1zM72 90h2v1h-2zM82 90h10v1h-10zM71 91h2v1h-2zM83 91h10v1h-10zM46 92h1v1h-1zM69 92h3v1h-3zM83 92h11v1h-11zM47 93h1v1h-1zM64 93h8v1h-8zM84 93h40v1h-40zM47 94h2v1h-2zM51 94h15v1h-15zM84 94h40v1h-40zM48 95h13v1h-13zM85 95h39v1h-39zM49 96h10v1h-10zM86 96h38v1h-38zM50 97h9v1h-9zM87 97h37v1h-37zM51 98h8v1h-8zM88 98h7v1h-7zM101 98h23v1h-23zM37 99h1v1h-1zM50 99h11v1h-11zM89 99h4v1h-4zM37 100h2v1h-2zM50 100h12v1h-12zM37 101h3v1h-3zM49 101h14v1h-14zM37 102h7v1h-7zM47 102h16v1h-16zM37 103h27v1h-27zM37 104h26v1h-26zM38 105h25v1h-25zM38 106h25v1h-25zM39 107h23v1h-23zM39 108h22v1h-22zM41 109h19v1h-19zM42 110h17v1h-17zM17 111h4v1h-4zM43 111h15v1h-15zM16 112h8v1h-8zM44 112h13v1h-13zM15 113h5v1h-5zM21 113h4v1h-4zM44 113h13v1h-13zM15 114h4v1h-4zM23 114h3v1h-3zM44 114h13v1h-13zM16 115h4v1h-4zM23 115h4v1h-4zM44 115h13v1h-13zM17 116h10v1h-10zM44 116h13v1h-13zM18 117h9v1h-9zM44 117h13v1h-13zM19 118h7v1h-7zM44 118h13v1h-13zM20 119h6v1h-6zM44 119h13v1h-13zM20 120h6v1h-6zM44 120h13v1h-13zM20 121h6v1h-6zM44 121h13v1h-13zM20 122h6v1h-6zM44 122h13v1h-13zM20 123h6v1h-6zM44 123h13v1h-13z"/>
<path fill="#f8f0eb" d="M20 0h31v1h-31zM68 0h13v1h-13zM85 0h12v1h-12zM20 1h31v1h-31zM68 1h13v1h-13zM85 1h12v1h-12zM20 2h31v1h-31zM68 2h13v1h-13zM85 2h12v1h-12zM20 3h31v1h-31zM68 3h13v1h-13zM85 3h12v1h-12zM20 4h31v1h-31zM67 4h13v1h-13zM85 4h12v1h-12zM19 5h32v1h-32zM66 5h14v1h-14zM85 5h13v1h-13zM16 6h35v1h-35zM57 6h23v1h-23zM85 6h14v1h-14zM13 7h67v1h-67zM85 7h14v1h-14zM11 8h69v1h-69zM85 8h6v1h-6zM95 8h4v1h-4zM10 9h26v1h-26zM47 9h33v1h-33zM85 9h4v1h-4zM96 9h4v1h-4zM8 10h27v1h-27zM48 10h32v1h-32zM84 10h5v1h-5zM97 10h3v1h-3zM6 11h28v1h-28zM48 11h32v1h-32zM84 11h4v1h-4zM97 11h3v1h-3zM0 12h33v1h-33zM48 12h31v1h-31zM82 12h6v1h-6zM97 12h3v1h-3zM0 13h13v1h-13zM19 13h12v1h-12zM48 13h10v1h-10zM81 13h7v1h-7zM97 13h3v1h-3zM0 14h11v1h-11zM19 14h9v1h-9zM48 14h9v1h-9zM81 14h6v1h-6zM97 14h3v1h-3zM0 15h11v1h-11zM19 15h7v1h-7zM48 15h8v1h-8zM81 15h6v1h-6zM97 15h4v1h-4zM5 16h8v1h-8zM15 16h9v1h-9zM48 16h8v1h-8zM81 16h7v1h-7zM96 16h6v1h-6zM7 17h14v1h-14zM48 17h10v1h-10zM65 17h6v1h-6zM82 17h6v1h-6zM96 17h8v1h-8zM48 18h25v1h-25zM82 18h9v1h-9zM96 18h10v1h-10zM48 19h27v1h-27zM84 19h8v1h-8zM102 19h5v1h-5zM50 20h17v1h-17zM69 20h7v1h-7zM85 20h7v1h-7zM104 20h4v1h-4zM55 21h8v1h-8zM72 21h5v1h-5zM87 21h4v1h-4zM104 21h4v1h-4zM74 22h3v1h-3zM88 22h3v1h-3zM105 22h3v1h-3zM74 23h2v1h-2zM88 23h2v1h-2zM105 23h3v1h-3zM74 24h2v1h-2zM89 24h1v1h-1zM105 24h4v1h-4zM75 25h1v1h-1zM89 25h1v1h-1zM106 25h3v1h-3zM75 26h1v1h-1zM81 26h3v1h-3zM88 26h1v1h-1zM106 26h4v1h-4zM76 27h1v1h-1zM79 27h6v1h-6zM88 27h1v1h-1zM107 27h4v1h-4zM117 27h7v1h-7zM77 28h5v1h-5zM83 28h3v1h-3zM88 28h1v1h-1zM108 28h16v1h-16zM84 29h4v1h-4zM110 29h6v1h-6zM84 30h3v1h-3zM7 36h1v1h-1zM0 37h8v1h-8zM0 56h4v1h-4zM67 56h1v1h-1zM0 57h7v1h-7zM62 57h2v1h-2zM69 57h3v1h-3zM91 57h5v1h-5zM0 58h9v1h-9zM60 58h1v1h-1zM71 58h3v1h-3zM90 58h3v1h-3zM94 58h2v1h-2zM0 59h12v1h-12zM59 59h1v1h-1zM74 59h3v1h-3zM91 59h5v1h-5zM8 60h7v1h-7zM57 60h2v1h-2zM77 60h2v1h-2zM12 61h6v1h-6zM33 61h6v1h-6zM45 61h10v1h-10zM78 61h2v1h-2zM15 62h16v1h-16zM79 62h2v1h-2zM17 63h9v1h-9zM80 63h2v1h-2zM81 64h1v1h-1zM81 65h1v1h-1zM81 66h2v1h-2zM82 67h1v1h-1zM82 68h1v1h-1zM82 69h2v1h-2zM82 70h3v1h-3zM117 70h7v1h-7zM82 71h5v1h-5zM114 71h6v1h-6zM83 72h13v1h-13zM104 72h13v1h-13zM83 73h32v1h-32zM84 74h3v1h-3zM96 74h9v1h-9zM118 80h6v1h-6zM89 81h35v1h-35zM40 82h3v1h-3zM87 82h37v1h-37zM43 83h1v1h-1zM72 83h3v1h-3zM86 83h38v1h-38zM44 84h1v1h-1zM71 84h8v1h-8zM84 84h40v1h-40zM36 85h1v1h-1zM71 85h53v1h-53zM32 86h1v1h-1zM71 86h3v1h-3zM79 86h8v1h-8zM90 86h34v1h-34zM45 87h1v1h-1zM71 87h2v1h-2zM91 87h33v1h-33zM31 88h1v1h-1zM45 88h1v1h-1zM71 88h2v1h-2zM92 88h32v1h-32zM70 89h2v1h-2zM92 89h32v1h-32zM69 90h3v1h-3zM92 90h32v1h-32zM46 91h1v1h-1zM68 91h3v1h-3zM93 91h31v1h-31zM33 92h1v1h-1zM47 92h1v1h-1zM64 92h5v1h-5zM94 92h30v1h-30zM48 93h16v1h-16zM49 94h2v1h-2zM35 96h1v1h-1zM36 98h1v1h-1zM36 99h1v1h-1zM36 100h1v1h-1zM35 101h2v1h-2zM35 102h2v1h-2zM35 103h2v1h-2zM35 104h2v1h-2zM35 105h3v1h-3zM36 106h2v1h-2zM36 107h3v1h-3zM36 108h3v1h-3zM37 109h4v1h-4zM15 110h6v1h-6zM37 110h5v1h-5zM14 111h3v1h-3zM21 111h3v1h-3zM38 111h5v1h-5zM13 112h3v1h-3zM24 112h2v1h-2zM39 112h5v1h-5zM12 113h3v1h-3zM25 113h3v1h-3zM40 113h4v1h-4zM12 114h3v1h-3zM26 114h3v1h-3zM40 114h4v1h-4zM12 115h4v1h-4zM27 115h3v1h-3zM40 115h4v1h-4zM13 116h4v1h-4zM27 116h9v1h-9zM39 116h5v1h-5zM14 117h4v1h-4zM27 117h17v1h-17zM15 118h4v1h-4zM26 118h18v1h-18zM16 119h4v1h-4zM26 119h18v1h-18zM16 120h4v1h-4zM26 120h18v1h-18zM17 121h3v1h-3zM26 121h18v1h-18zM17 122h3v1h-3zM26 122h18v1h-18zM17 123h3v1h-3zM26 123h18v1h-18z"/>
<path fill="#f9eee7" d="M81 0h4v1h-4zM97 0h8v1h-8zM81 1h4v1h-4zM97 1h8v1h-8zM81 2h4v1h-4zM97 2h8v1h-8zM81 3h4v1h-4zM97 3h8v1h-8zM80 4h5v1h-5zM97 4h8v1h-8zM80 5h5v1h-5zM98 5h6v1h-6zM80 6h5v1h-5zM99 6h4v1h-4zM80 7h5v1h-5zM99 7h4v1h-4zM80 8h5v1h-5zM99 8h3v1h-3zM80 9h5v1h-5zM100 9h2v1h-2zM80 10h4v1h-4zM100 10h2v1h-2zM80 11h4v1h-4zM100 11h2v1h-2zM79 12h3v1h-3zM100 12h3v1h-3zM13 13h6v1h-6zM58 13h23v1h-23zM100 13h3v1h-3zM11 14h8v1h-8zM57 14h24v1h-24zM100 14h4v1h-4zM11 15h8v1h-8zM56 15h25v1h-25zM101 15h5v1h-5zM13 16h2v1h-2zM56 16h25v1h-25zM102 16h7v1h-7zM58 17h7v1h-7zM71 17h11v1h-11zM104 17h7v1h-7zM73 18h9v1h-9zM106 18h6v1h-6zM75 19h9v1h-9zM107 19h6v1h-6zM76 20h9v1h-9zM108 20h6v1h-6zM77 21h10v1h-10zM108 21h6v1h-6zM77 22h11v1h-11zM108 22h8v1h-8zM76 23h12v1h-12zM108 23h9v1h-9zM76 24h13v1h-13zM109 24h15v1h-15zM76 25h13v1h-13zM109 25h15v1h-15zM76 26h5v1h-5zM84 26h4v1h-4zM110 26h14v1h-14zM77 27h2v1h-2zM85 27h3v1h-3zM111 27h6v1h-6zM86 28h2v1h-2zM0 36h7v1h-7zM64 57h5v1h-5zM61 58h2v1h-2zM69 58h2v1h-2zM93 58h1v1h-1zM60 59h1v1h-1zM71 59h3v1h-3zM0 60h8v1h-8zM59 60h1v1h-1zM73 60h4v1h-4zM0 61h12v1h-12zM55 61h3v1h-3zM76 61h2v1h-2zM0 62h7v1h-7zM10 62h5v1h-5zM31 62h2v1h-2zM39 62h8v1h-8zM78 62h1v1h-1zM13 63h4v1h-4zM26 63h4v1h-4zM79 63h1v1h-1zM15 64h12v1h-12zM79 64h2v1h-2zM16 65h9v1h-9zM80 65h1v1h-1zM17 66h7v1h-7zM80 66h1v1h-1zM19 67h5v1h-5zM80 67h2v1h-2zM20 68h3v1h-3zM80 68h2v1h-2zM80 69h2v1h-2zM80 70h2v1h-2zM80 71h2v1h-2zM120 71h4v1h-4zM80 72h3v1h-3zM117 72h7v1h-7zM81 73h2v1h-2zM115 73h9v1h-9zM81 74h3v1h-3zM87 74h9v1h-9zM105 74h19v1h-19zM81 75h43v1h-43zM81 76h43v1h-43zM82 77h42v1h-42zM82 78h42v1h-42zM82 79h42v1h-42zM82 80h36v1h-36zM41 81h1v1h-1zM72 81h4v1h-4zM81 81h8v1h-8zM39 82h1v1h-1zM43 82h1v1h-1zM71 82h16v1h-16zM38 83h1v1h-1zM44 83h1v1h-1zM70 83h2v1h-2zM75 83h11v1h-11zM37 84h1v1h-1zM69 84h2v1h-2zM79 84h5v1h-5zM45 85h1v1h-1zM69 85h2v1h-2zM45 86h1v1h-1zM69 86h2v1h-2zM69 87h2v1h-2zM69 88h2v1h-2zM46 89h1v1h-1zM68 89h2v1h-2zM46 90h1v1h-1zM67 90h2v1h-2zM47 91h1v1h-1zM53 91h4v1h-4zM64 91h4v1h-4zM48 92h16v1h-16zM34 94h1v1h-1zM35 99h1v1h-1zM35 100h1v1h-1zM34 101h1v1h-1zM34 102h1v1h-1zM34 103h1v1h-1zM34 104h1v1h-1zM34 105h1v1h-1zM34 106h2v1h-2zM34 107h2v1h-2zM17 108h1v1h-1zM34 108h2v1h-2zM14 109h7v1h-7zM34 109h3v1h-3zM13 110h2v1h-2zM21 110h3v1h-3zM34 110h3v1h-3zM12 111h2v1h-2zM24 111h3v1h-3zM33 111h5v1h-5zM0 112h13v1h-13zM26 112h13v1h-13zM0 113h12v1h-12zM28 113h12v1h-12zM0 114h12v1h-12zM29 114h11v1h-11zM0 115h12v1h-12zM30 115h10v1h-10zM0 116h13v1h-13zM36 116h3v1h-3zM0 117h14v1h-14zM0 118h15v1h-15zM0 119h16v1h-16zM0 120h16v1h-16zM0 121h17v1h-17zM0 122h17v1h-17zM0 123h17v1h-17z"/>
<path fill="#faebe3" d="M105 0h19v1h-19zM105 1h19v1h-19zM105 2h19v1h-19zM105 3h19v1h-19zM105 4h19v1h-19zM104 5h20v1h-20zM103 6h21v1h-21zM103 7h5v1h-5zM110 7h14v1h-14zM102 8h4v1h-4zM102 9h3v1h-3zM102 10h3v1h-3zM102 11h3v1h-3zM103 12h3v1h-3zM103 13h5v1h-5zM104 14h8v1h-8zM106 15h7v1h-7zM109 16h5v1h-5zM111 17h3v1h-3zM112 18h3v1h-3zM113 19h3v1h-3zM114 20h3v1h-3zM114 21h6v1h-6zM116 22h8v1h-8zM117 23h7v1h-7zM63 58h6v1h-6zM61 59h1v1h-1zM69 59h2v1h-2zM60 60h1v1h-1zM70 60h3v1h-3zM58 61h2v1h-2zM72 61h4v1h-4zM7 62h3v1h-3zM33 62h6v1h-6zM47 62h6v1h-6zM75 62h3v1h-3zM0 63h13v1h-13zM30 63h1v1h-1zM42 63h2v1h-2zM77 63h2v1h-2zM12 64h3v1h-3zM27 64h2v1h-2zM78 64h1v1h-1zM13 65h3v1h-3zM25 65h2v1h-2zM78 65h2v1h-2zM15 66h2v1h-2zM24 66h3v1h-3zM78 66h2v1h-2zM16 67h3v1h-3zM24 67h2v1h-2zM78 67h2v1h-2zM17 68h3v1h-3zM23 68h2v1h-2zM78 68h2v1h-2zM19 69h6v1h-6zM78 69h2v1h-2zM22 70h1v1h-1zM78 70h2v1h-2zM78 71h2v1h-2zM78 72h2v1h-2zM79 73h2v1h-2zM79 74h2v1h-2zM79 75h2v1h-2zM79 76h2v1h-2zM79 77h3v1h-3zM79 78h3v1h-3zM72 79h10v1h-10zM71 80h11v1h-11zM40 81h1v1h-1zM42 81h1v1h-1zM70 81h2v1h-2zM76 81h5v1h-5zM69 82h2v1h-2zM68 83h2v1h-2zM45 84h1v1h-1zM67 84h2v1h-2zM35 85h1v1h-1zM67 85h2v1h-2zM31 86h1v1h-1zM46 86h1v1h-1zM67 86h2v1h-2zM46 87h1v1h-1zM67 87h2v1h-2zM46 88h1v1h-1zM67 88h2v1h-2zM31 89h1v1h-1zM47 89h1v1h-1zM66 89h2v1h-2zM47 90h1v1h-1zM52 90h9v1h-9zM62 90h5v1h-5zM48 91h5v1h-5zM57 91h7v1h-7zM35 97h1v1h-1zM35 98h1v1h-1zM34 100h1v1h-1zM33 101h1v1h-1zM33 102h1v1h-1zM33 103h1v1h-1zM33 104h1v1h-1zM33 105h1v1h-1zM33 106h1v1h-1zM17 107h1v1h-1zM33 107h1v1h-1zM14 108h3v1h-3zM18 108h3v1h-3zM33 108h1v1h-1zM12 109h2v1h-2zM21 109h2v1h-2zM32 109h2v1h-2zM0 110h5v1h-5zM10 110h3v1h-3zM24 110h3v1h-3zM31 110h3v1h-3zM0 111h12v1h-12zM27 111h6v1h-6z"/>
<path fill="#fae9df" d="M108 7h2v1h-2zM106 8h18v1h-18zM105 9h19v1h-19zM105 10h19v1h-19zM105 11h13v1h-13zM106 12h10v1h-10zM108 13h8v1h-8zM112 14h4v1h-4zM113 15h3v1h-3zM114 16h2v1h-2zM114 17h3v1h-3zM115 18h3v1h-3zM116 19h5v1h-5zM117 20h7v1h-7zM120 21h4v1h-4zM62 59h3v1h-3zM66 59h3v1h-3zM61 60h1v1h-1zM69 60h1v1h-1zM60 61h1v1h-1zM70 61h2v1h-2zM53 62h7v1h-7zM72 62h3v1h-3zM31 63h2v1h-2zM39 63h3v1h-3zM44 63h5v1h-5zM74 63h3v1h-3zM0 64h12v1h-12zM29 64h2v1h-2zM75 64h3v1h-3zM0 65h6v1h-6zM10 65h3v1h-3zM27 65h2v1h-2zM76 65h2v1h-2zM12 66h3v1h-3zM27 66h1v1h-1zM76 66h2v1h-2zM13 67h3v1h-3zM26 67h1v1h-1zM76 67h2v1h-2zM15 68h2v1h-2zM25 68h2v1h-2zM76 68h2v1h-2zM17 69h2v1h-2zM25 69h1v1h-1zM76 69h2v1h-2zM19 70h3v1h-3zM23 70h2v1h-2zM75 70h3v1h-3zM75 71h3v1h-3zM75 72h3v1h-3zM74 73h5v1h-5zM74 74h5v1h-5zM74 75h5v1h-5zM73 76h6v1h-6zM72 77h7v1h-7zM72 78h7v1h-7zM71 79h1v1h-1zM40 80h2v1h-2zM70 80h1v1h-1zM39 81h1v1h-1zM43 81h1v1h-1zM69 81h1v1h-1zM38 82h1v1h-1zM44 82h1v1h-1zM68 82h1v1h-1zM37 83h1v1h-1zM45 83h1v1h-1zM67 83h1v1h-1zM36 84h1v1h-1zM46 84h1v1h-1zM54 84h7v1h-7zM65 84h2v1h-2zM46 85h1v1h-1zM53 85h14v1h-14zM53 86h14v1h-14zM47 87h1v1h-1zM53 87h14v1h-14zM47 88h1v1h-1zM52 88h15v1h-15zM48 89h1v1h-1zM50 89h16v1h-16zM48 90h4v1h-4zM61 90h1v1h-1zM32 91h1v1h-1zM34 95h1v1h-1zM34 98h1v1h-1zM34 99h1v1h-1zM33 100h1v1h-1zM32 101h1v1h-1zM32 102h1v1h-1zM31 103h2v1h-2zM31 104h2v1h-2zM31 105h2v1h-2zM32 106h1v1h-1zM14 107h3v1h-3zM18 107h3v1h-3zM31 107h2v1h-2zM12 108h2v1h-2zM21 108h2v1h-2zM31 108h2v1h-2zM0 109h12v1h-12zM23 109h4v1h-4zM29 109h3v1h-3zM5 110h5v1h-5zM27 110h4v1h-4z"/>
<path fill="#fae7db" d="M118 11h6v1h-6zM116 12h8v1h-8zM116 13h8v1h-8zM116 14h8v1h-8zM116 15h8v1h-8zM116 16h8v1h-8zM117 17h7v1h-7zM118 18h6v1h-6zM121 19h3v1h-3zM65 59h1v1h-1zM62 60h2v1h-2zM66 60h3v1h-3zM61 61h1v1h-1zM68 61h2v1h-2zM60 62h1v1h-1zM70 62h2v1h-2zM33 63h6v1h-6zM49 63h3v1h-3zM54 63h6v1h-6zM71 63h3v1h-3zM31 64h1v1h-1zM40 64h7v1h-7zM72 64h3v1h-3zM6 65h4v1h-4zM29 65h1v1h-1zM73 65h3v1h-3zM6 66h6v1h-6zM28 66h1v1h-1zM73 66h3v1h-3zM11 67h2v1h-2zM27 67h2v1h-2zM73 67h3v1h-3zM12 68h3v1h-3zM27 68h1v1h-1zM73 68h3v1h-3zM14 69h3v1h-3zM26 69h1v1h-1zM72 69h4v1h-4zM17 70h2v1h-2zM25 70h2v1h-2zM72 70h3v1h-3zM20 71h5v1h-5zM72 71h3v1h-3zM72 72h3v1h-3zM72 73h2v1h-2zM72 74h2v1h-2zM72 75h2v1h-2zM72 76h1v1h-1zM71 77h1v1h-1zM71 78h1v1h-1zM40 79h2v1h-2zM70 79h1v1h-1zM39 80h1v1h-1zM42 80h1v1h-1zM69 80h1v1h-1zM38 81h1v1h-1zM44 81h1v1h-1zM68 81h1v1h-1zM45 82h1v1h-1zM67 82h1v1h-1zM46 83h1v1h-1zM53 83h8v1h-8zM64 83h3v1h-3zM47 84h1v1h-1zM51 84h3v1h-3zM61 84h4v1h-4zM34 85h1v1h-1zM47 85h2v1h-2zM50 85h3v1h-3zM47 86h6v1h-6zM48 87h5v1h-5zM48 88h4v1h-4zM49 89h1v1h-1zM33 93h1v1h-1zM34 96h1v1h-1zM34 97h1v1h-1zM33 99h1v1h-1zM32 100h1v1h-1zM31 101h1v1h-1zM31 102h1v1h-1zM30 103h1v1h-1zM30 104h1v1h-1zM30 105h1v1h-1zM13 106h8v1h-8zM30 106h2v1h-2zM11 107h3v1h-3zM21 107h2v1h-2zM30 107h1v1h-1zM0 108h12v1h-12zM23 108h8v1h-8zM27 109h2v1h-2z"/>
<path fill="#f8f5f3" d="M28 17h5v1h-5zM24 18h12v1h-12zM0 19h6v1h-6zM17 19h20v1h-20zM0 20h23v1h-23zM30 20h8v1h-8zM0 21h6v1h-6zM32 21h6v1h-6zM95 21h6v1h-6zM33 22h6v1h-6zM93 22h2v1h-2zM99 22h3v1h-3zM34 23h7v1h-7zM67 23h4v1h-4zM92 23h1v1h-1zM101 23h2v1h-2zM36 24h8v1h-8zM67 24h5v1h-5zM91 24h1v1h-1zM102 24h1v1h-1zM38 25h16v1h-16zM66 25h3v1h-3zM71 25h2v1h-2zM90 25h1v1h-1zM104 25h1v1h-1zM41 26h15v1h-15zM66 26h2v1h-2zM72 26h2v1h-2zM90 26h1v1h-1zM49 27h9v1h-9zM66 27h2v1h-2zM73 27h1v1h-1zM105 27h1v1h-1zM55 28h4v1h-4zM66 28h1v1h-1zM74 28h1v1h-1zM89 28h1v1h-1zM57 29h4v1h-4zM65 29h1v1h-1zM76 29h2v1h-2zM89 29h1v1h-1zM105 29h1v1h-1zM60 30h5v1h-5zM79 30h3v1h-3zM88 30h1v1h-1zM105 30h3v1h-3zM117 30h7v1h-7zM81 31h2v1h-2zM87 31h1v1h-1zM108 31h3v1h-3zM114 31h3v1h-3zM82 32h5v1h-5zM110 32h4v1h-4zM84 33h1v1h-1zM8 36h1v1h-1zM8 37h1v1h-1zM0 51h10v1h-10zM0 52h13v1h-13zM0 53h14v1h-14zM8 54h8v1h-8zM10 55h8v1h-8zM65 55h7v1h-7zM89 55h7v1h-7zM11 56h8v1h-8zM61 56h2v1h-2zM72 56h2v1h-2zM88 56h2v1h-2zM96 56h2v1h-2zM14 57h7v1h-7zM59 57h1v1h-1zM74 57h3v1h-3zM87 57h1v1h-1zM97 57h2v1h-2zM16 58h7v1h-7zM58 58h1v1h-1zM77 58h3v1h-3zM86 58h2v1h-2zM98 58h1v1h-1zM20 59h5v1h-5zM56 59h2v1h-2zM79 59h3v1h-3zM86 59h2v1h-2zM97 59h1v1h-1zM24 60h3v1h-3zM31 60h7v1h-7zM44 60h11v1h-11zM81 60h3v1h-3zM86 60h4v1h-4zM96 60h2v1h-2zM82 61h3v1h-3zM90 61h5v1h-5zM83 62h2v1h-2zM83 63h2v1h-2zM84 64h1v1h-1zM84 65h1v1h-1zM84 66h2v1h-2zM85 67h1v1h-1zM117 67h7v1h-7zM85 68h2v1h-2zM114 68h5v1h-5zM86 69h4v1h-4zM103 69h12v1h-12zM89 70h16v1h-16zM98 71h2v1h-2zM40 83h2v1h-2zM39 84h1v1h-1zM37 85h1v1h-1zM43 85h1v1h-1zM36 86h1v1h-1zM44 87h1v1h-1zM44 88h1v1h-1zM76 88h3v1h-3zM75 89h6v1h-6zM74 90h8v1h-8zM45 91h1v1h-1zM73 91h4v1h-4zM78 91h5v1h-5zM45 92h1v1h-1zM72 92h4v1h-4zM79 92h4v1h-4zM34 93h1v1h-1zM46 93h1v1h-1zM72 93h3v1h-3zM80 93h4v1h-4zM46 94h1v1h-1zM66 94h8v1h-8zM80 94h4v1h-4zM35 95h1v1h-1zM46 95h2v1h-2zM61 95h13v1h-13zM81 95h4v1h-4zM47 96h2v1h-2zM59 96h15v1h-15zM81 96h5v1h-5zM36 97h1v1h-1zM47 97h3v1h-3zM59 97h15v1h-15zM82 97h5v1h-5zM37 98h1v1h-1zM46 98h5v1h-5zM59 98h15v1h-15zM83 98h5v1h-5zM95 98h6v1h-6zM38 99h2v1h-2zM45 99h5v1h-5zM61 99h13v1h-13zM84 99h5v1h-5zM93 99h31v1h-31zM39 100h11v1h-11zM62 100h13v1h-13zM85 100h39v1h-39zM40 101h9v1h-9zM63 101h12v1h-12zM86 101h38v1h-38zM44 102h3v1h-3zM63 102h12v1h-12zM86 102h38v1h-38zM64 103h11v1h-11zM87 103h37v1h-37zM63 104h12v1h-12zM89 104h35v1h-35zM63 105h12v1h-12zM63 106h12v1h-12zM62 107h12v1h-12zM61 108h13v1h-13zM60 109h14v1h-14zM59 110h15v1h-15zM58 111h16v1h-16zM57 112h17v1h-17zM20 113h1v1h-1zM57 113h18v1h-18zM19 114h4v1h-4zM57 114h18v1h-18zM20 115h3v1h-3zM57 115h20v1h-20zM57 116h22v1h-22zM57 117h23v1h-23zM57 118h24v1h-24zM57 119h24v1h-24zM57 120h24v1h-24zM57 121h24v1h-24zM57 122h24v1h-24zM57 123h24v1h-24z"/>
<path fill="#f7f7f7" d="M23 20h7v1h-7zM6 21h26v1h-26zM0 22h11v1h-11zM25 22h8v1h-8zM95 22h4v1h-4zM0 23h8v1h-8zM29 23h5v1h-5zM93 23h1v1h-1zM99 23h2v1h-2zM0 24h6v1h-6zM31 24h5v1h-5zM92 24h1v1h-1zM100 24h2v1h-2zM0 25h5v1h-5zM32 25h6v1h-6zM69 25h2v1h-2zM91 25h1v1h-1zM103 25h1v1h-1zM34 26h7v1h-7zM68 26h4v1h-4zM36 27h13v1h-13zM68 27h1v1h-1zM72 27h1v1h-1zM90 27h1v1h-1zM41 28h14v1h-14zM67 28h1v1h-1zM73 28h1v1h-1zM51 29h6v1h-6zM66 29h1v1h-1zM75 29h1v1h-1zM104 29h1v1h-1zM56 30h4v1h-4zM65 30h2v1h-2zM77 30h2v1h-2zM89 30h1v1h-1zM104 30h1v1h-1zM60 31h5v1h-5zM80 31h1v1h-1zM88 31h1v1h-1zM104 31h4v1h-4zM117 31h7v1h-7zM81 32h1v1h-1zM87 32h1v1h-1zM107 32h3v1h-3zM114 32h3v1h-3zM82 33h2v1h-2zM85 33h2v1h-2zM110 33h4v1h-4zM0 49h14v1h-14zM0 50h16v1h-16zM10 51h8v1h-8zM13 52h6v1h-6zM14 53h6v1h-6zM16 54h6v1h-6zM67 54h5v1h-5zM89 54h7v1h-7zM18 55h5v1h-5zM62 55h3v1h-3zM72 55h3v1h-3zM87 55h2v1h-2zM96 55h3v1h-3zM19 56h5v1h-5zM59 56h2v1h-2zM74 56h3v1h-3zM86 56h2v1h-2zM98 56h2v1h-2zM21 57h4v1h-4zM58 57h1v1h-1zM77 57h3v1h-3zM84 57h3v1h-3zM99 57h1v1h-1zM23 58h3v1h-3zM57 58h1v1h-1zM80 58h6v1h-6zM99 58h1v1h-1zM25 59h3v1h-3zM55 59h1v1h-1zM82 59h4v1h-4zM98 59h2v1h-2zM27 60h4v1h-4zM38 60h6v1h-6zM84 60h2v1h-2zM98 60h1v1h-1zM85 61h5v1h-5zM95 61h3v1h-3zM85 62h4v1h-4zM85 63h2v1h-2zM85 64h2v1h-2zM85 65h2v1h-2zM86 66h1v1h-1zM116 66h8v1h-8zM86 67h2v1h-2zM113 67h4v1h-4zM87 68h3v1h-3zM101 68h13v1h-13zM90 69h3v1h-3zM98 69h5v1h-5zM40 84h3v1h-3zM38 85h1v1h-1zM43 86h1v1h-1zM44 89h1v1h-1zM44 90h1v1h-1zM33 91h1v1h-1zM77 91h1v1h-1zM76 92h3v1h-3zM45 93h1v1h-1zM75 93h5v1h-5zM45 94h1v1h-1zM74 94h6v1h-6zM45 95h1v1h-1zM74 95h7v1h-7zM45 96h2v1h-2zM74 96h7v1h-7zM45 97h2v1h-2zM74 97h8v1h-8zM38 98h1v1h-1zM44 98h2v1h-2zM74 98h9v1h-9zM40 99h5v1h-5zM74 99h10v1h-10zM75 100h10v1h-10zM75 101h11v1h-11zM75 102h11v1h-11zM75 103h12v1h-12zM75 104h14v1h-14zM75 105h49v1h-49zM75 106h49v1h-49zM74 107h50v1h-50zM74 108h50v1h-50zM74 109h16v1h-16zM110 109h14v1h-14zM74 110h14v1h-14zM74 111h14v1h-14zM74 112h13v1h-13zM75 113h12v1h-12zM75 114h12v1h-12zM77 115h10v1h-10zM79 116h7v1h-7zM80 117h6v1h-6zM81 118h5v1h-5zM81 119h5v1h-5zM81 120h5v1h-5zM81 121h5v1h-5zM81 122h5v1h-5zM81 123h5v1h-5z"/>
<path fill="#f4f6f6" d="M11 22h14v1h-14zM8 23h21v1h-21zM94 23h5v1h-5zM6 24h6v1h-6zM21 24h10v1h-10zM93 24h1v1h-1zM99 24h1v1h-1zM5 25h6v1h-6zM23 25h9v1h-9zM100 25h2v1h-2zM0 26h10v1h-10zM25 26h9v1h-9zM91 26h1v1h-1zM0 27h10v1h-10zM27 27h9v1h-9zM69 27h3v1h-3zM0 28h10v1h-10zM30 28h11v1h-11zM68 28h2v1h-2zM71 28h2v1h-2zM90 28h1v1h-1zM0 29h9v1h-9zM33 29h18v1h-18zM67 29h2v1h-2zM73 29h2v1h-2zM90 29h1v1h-1zM22 30h3v1h-3zM45 30h11v1h-11zM67 30h1v1h-1zM76 30h1v1h-1zM21 31h4v1h-4zM54 31h6v1h-6zM65 31h2v1h-2zM79 31h1v1h-1zM89 31h1v1h-1zM22 32h1v1h-1zM60 32h5v1h-5zM80 32h1v1h-1zM88 32h1v1h-1zM104 32h3v1h-3zM117 32h3v1h-3zM81 33h1v1h-1zM87 33h1v1h-1zM107 33h3v1h-3zM114 33h2v1h-2zM83 34h3v1h-3zM111 34h3v1h-3zM9 36h1v1h-1zM9 37h1v1h-1zM0 46h12v1h-12zM0 47h15v1h-15zM0 48h19v1h-19zM14 49h7v1h-7zM16 50h6v1h-6zM18 51h5v1h-5zM19 52h4v1h-4zM20 53h5v1h-5zM69 53h3v1h-3zM89 53h5v1h-5zM22 54h4v1h-4zM64 54h3v1h-3zM72 54h3v1h-3zM86 54h3v1h-3zM96 54h5v1h-5zM23 55h4v1h-4zM60 55h2v1h-2zM75 55h2v1h-2zM85 55h2v1h-2zM99 55h2v1h-2zM24 56h3v1h-3zM58 56h1v1h-1zM77 56h3v1h-3zM83 56h3v1h-3zM100 56h2v1h-2zM25 57h3v1h-3zM57 57h1v1h-1zM80 57h4v1h-4zM100 57h2v1h-2zM26 58h3v1h-3zM55 58h2v1h-2zM100 58h2v1h-2zM28 59h9v1h-9zM44 59h11v1h-11zM100 59h2v1h-2zM99 60h2v1h-2zM98 61h2v1h-2zM89 62h9v1h-9zM87 63h3v1h-3zM87 64h1v1h-1zM121 64h3v1h-3zM87 65h1v1h-1zM115 65h9v1h-9zM87 66h2v1h-2zM101 66h15v1h-15zM88 67h2v1h-2zM100 67h13v1h-13zM90 68h2v1h-2zM98 68h3v1h-3zM93 69h5v1h-5zM39 85h1v1h-1zM42 85h1v1h-1zM37 86h1v1h-1zM32 87h1v1h-1zM43 87h1v1h-1zM32 89h1v1h-1zM44 91h1v1h-1zM44 92h1v1h-1zM44 93h1v1h-1zM35 94h1v1h-1zM44 95h1v1h-1zM36 96h1v1h-1zM44 96h1v1h-1zM43 97h2v1h-2zM39 98h5v1h-5zM90 109h20v1h-20zM88 110h36v1h-36zM88 111h36v1h-36zM87 112h37v1h-37zM87 113h37v1h-37zM87 114h37v1h-37zM87 115h37v1h-37zM86 116h38v1h-38zM86 117h38v1h-38zM86 118h38v1h-38zM86 119h38v1h-38zM86 120h38v1h-38zM86 121h38v1h-38zM86 122h38v1h-38zM86 123h38v1h-38z"/>
<path fill="#f1f4f6" d="M12 24h9v1h-9zM94 24h1v1h-1zM97 24h2v1h-2zM11 25h12v1h-12zM92 25h1v1h-1zM99 25h1v1h-1zM102 25h1v1h-1zM10 26h15v1h-15zM10 27h17v1h-17zM91 27h1v1h-1zM10 28h20v1h-20zM70 28h1v1h-1zM104 28h1v1h-1zM9 29h24v1h-24zM69 29h4v1h-4zM0 30h22v1h-22zM25 30h20v1h-20zM68 30h1v1h-1zM74 30h2v1h-2zM90 30h1v1h-1zM4 31h17v1h-17zM25 31h29v1h-29zM67 31h1v1h-1zM77 31h2v1h-2zM103 31h1v1h-1zM7 32h15v1h-15zM23 32h11v1h-11zM50 32h10v1h-10zM65 32h1v1h-1zM79 32h1v1h-1zM103 32h1v1h-1zM120 32h4v1h-4zM8 33h22v1h-22zM88 33h1v1h-1zM104 33h3v1h-3zM116 33h3v1h-3zM9 34h17v1h-17zM82 34h1v1h-1zM86 34h1v1h-1zM108 34h3v1h-3zM114 34h2v1h-2zM10 35h10v1h-10zM10 36h5v1h-5zM0 43h10v1h-10zM0 44h12v1h-12zM0 45h15v1h-15zM12 46h7v1h-7zM15 47h6v1h-6zM19 48h3v1h-3zM21 49h2v1h-2zM22 50h2v1h-2zM23 51h2v1h-2zM23 52h3v1h-3zM89 52h13v1h-13zM25 53h2v1h-2zM66 53h3v1h-3zM72 53h3v1h-3zM86 53h3v1h-3zM94 53h9v1h-9zM26 54h2v1h-2zM61 54h3v1h-3zM75 54h2v1h-2zM84 54h2v1h-2zM101 54h3v1h-3zM27 55h2v1h-2zM58 55h2v1h-2zM77 55h8v1h-8zM101 55h3v1h-3zM27 56h2v1h-2zM57 56h1v1h-1zM80 56h3v1h-3zM102 56h3v1h-3zM28 57h2v1h-2zM56 57h1v1h-1zM102 57h6v1h-6zM29 58h5v1h-5zM54 58h1v1h-1zM102 58h8v1h-8zM37 59h7v1h-7zM102 59h8v1h-8zM101 60h10v1h-10zM100 61h11v1h-11zM98 62h12v1h-12zM90 63h4v1h-4zM97 63h15v1h-15zM114 63h10v1h-10zM88 64h2v1h-2zM99 64h22v1h-22zM88 65h2v1h-2zM99 65h16v1h-16zM89 66h1v1h-1zM99 66h2v1h-2zM90 67h2v1h-2zM97 67h3v1h-3zM92 68h6v1h-6zM40 85h2v1h-2zM38 86h1v1h-1zM42 86h1v1h-1zM33 87h1v1h-1zM35 87h2v1h-2zM32 88h1v1h-1zM43 88h1v1h-1zM43 89h1v1h-1zM33 90h1v1h-1zM43 90h1v1h-1zM34 92h1v1h-1zM44 94h1v1h-1zM43 95h1v1h-1zM42 96h2v1h-2zM37 97h1v1h-1zM40 97h3v1h-3z"/>
<path fill="#eef2f5" d="M95 24h2v1h-2zM93 25h1v1h-1zM98 25h1v1h-1zM92 26h1v1h-1zM99 26h1v1h-1zM104 26h1v1h-1zM91 28h1v1h-1zM69 30h1v1h-1zM73 30h1v1h-1zM0 31h4v1h-4zM68 31h1v1h-1zM76 31h1v1h-1zM90 31h1v1h-1zM0 32h7v1h-7zM34 32h16v1h-16zM66 32h1v1h-1zM78 32h1v1h-1zM89 32h1v1h-1zM5 33h3v1h-3zM30 33h8v1h-8zM44 33h22v1h-22zM80 33h1v1h-1zM103 33h1v1h-1zM119 33h5v1h-5zM6 34h3v1h-3zM26 34h8v1h-8zM81 34h1v1h-1zM87 34h1v1h-1zM104 34h4v1h-4zM116 34h3v1h-3zM0 35h10v1h-10zM20 35h8v1h-8zM82 35h3v1h-3zM15 36h7v1h-7zM10 37h8v1h-8zM5 38h10v1h-10zM6 39h8v1h-8zM0 40h13v1h-13zM0 41h13v1h-13zM0 42h13v1h-13zM10 43h5v1h-5zM12 44h5v1h-5zM15 45h5v1h-5zM19 46h3v1h-3zM21 47h2v1h-2zM109 47h2v1h-2zM22 48h2v1h-2zM108 48h5v1h-5zM23 49h1v1h-1zM109 49h4v1h-4zM24 50h1v1h-1zM92 50h12v1h-12zM25 51h1v1h-1zM88 51h17v1h-17zM26 52h2v1h-2zM68 52h6v1h-6zM86 52h3v1h-3zM102 52h3v1h-3zM27 53h2v1h-2zM64 53h2v1h-2zM75 53h2v1h-2zM83 53h3v1h-3zM103 53h3v1h-3zM28 54h2v1h-2zM59 54h2v1h-2zM77 54h7v1h-7zM104 54h2v1h-2zM29 55h1v1h-1zM57 55h1v1h-1zM104 55h4v1h-4zM29 56h2v1h-2zM55 56h2v1h-2zM105 56h7v1h-7zM30 57h3v1h-3zM54 57h2v1h-2zM108 57h5v1h-5zM34 58h3v1h-3zM45 58h9v1h-9zM110 58h4v1h-4zM110 59h5v1h-5zM111 60h5v1h-5zM111 61h13v1h-13zM110 62h14v1h-14zM94 63h3v1h-3zM112 63h2v1h-2zM90 64h3v1h-3zM96 64h3v1h-3zM90 65h2v1h-2zM97 65h2v1h-2zM90 66h3v1h-3zM96 66h3v1h-3zM92 67h5v1h-5zM39 86h1v1h-1zM41 86h1v1h-1zM34 87h1v1h-1zM37 87h1v1h-1zM42 87h1v1h-1zM33 88h1v1h-1zM33 89h1v1h-1zM34 91h1v1h-1zM43 91h1v1h-1zM43 92h1v1h-1zM35 93h1v1h-1zM43 93h1v1h-1zM43 94h1v1h-1zM36 95h1v1h-1zM42 95h1v1h-1zM40 96h2v1h-2zM38 97h2v1h-2z"/>
<path fill="#eaf1f5" d="M94 25h4v1h-4zM98 26h1v1h-1zM100 26h1v1h-1zM92 27h1v1h-1zM91 29h1v1h-1zM70 30h3v1h-3zM103 30h1v1h-1zM69 31h1v1h-1zM74 31h2v1h-2zM67 32h2v1h-2zM90 32h1v1h-1zM0 33h5v1h-5zM38 33h6v1h-6zM66 33h1v1h-1zM79 33h1v1h-1zM89 33h1v1h-1zM102 33h1v1h-1zM0 34h6v1h-6zM34 34h30v1h-30zM80 34h1v1h-1zM102 34h2v1h-2zM119 34h5v1h-5zM28 35h8v1h-8zM45 35h9v1h-9zM81 35h1v1h-1zM85 35h1v1h-1zM109 35h11v1h-11zM22 36h6v1h-6zM47 36h4v1h-4zM18 37h4v1h-4zM0 38h5v1h-5zM15 38h4v1h-4zM0 39h6v1h-6zM14 39h3v1h-3zM13 40h3v1h-3zM13 41h3v1h-3zM13 42h4v1h-4zM15 43h3v1h-3zM17 44h4v1h-4zM20 45h2v1h-2zM22 46h1v1h-1zM106 46h8v1h-8zM23 47h1v1h-1zM105 47h4v1h-4zM111 47h4v1h-4zM24 48h1v1h-1zM93 48h15v1h-15zM113 48h3v1h-3zM24 49h1v1h-1zM90 49h19v1h-19zM113 49h4v1h-4zM25 50h1v1h-1zM88 50h4v1h-4zM104 50h14v1h-14zM26 51h2v1h-2zM70 51h4v1h-4zM85 51h3v1h-3zM105 51h19v1h-19zM28 52h1v1h-1zM66 52h2v1h-2zM74 52h3v1h-3zM83 52h3v1h-3zM105 52h19v1h-19zM29 53h1v1h-1zM61 53h3v1h-3zM77 53h6v1h-6zM106 53h18v1h-18zM30 54h1v1h-1zM57 54h2v1h-2zM106 54h18v1h-18zM30 55h2v1h-2zM55 55h2v1h-2zM108 55h16v1h-16zM31 56h2v1h-2zM54 56h1v1h-1zM112 56h12v1h-12zM33 57h2v1h-2zM52 57h2v1h-2zM113 57h11v1h-11zM37 58h8v1h-8zM114 58h10v1h-10zM115 59h9v1h-9zM116 60h8v1h-8zM93 64h3v1h-3zM92 65h5v1h-5zM93 66h3v1h-3zM40 86h1v1h-1zM38 87h1v1h-1zM41 87h1v1h-1zM34 88h3v1h-3zM42 88h1v1h-1zM34 89h1v1h-1zM42 89h1v1h-1zM34 90h1v1h-1zM42 90h1v1h-1zM35 91h1v1h-1zM35 92h1v1h-1zM42 92h1v1h-1zM36 93h1v1h-1zM42 93h1v1h-1zM36 94h2v1h-2zM41 94h2v1h-2zM37 95h1v1h-1zM40 95h2v1h-2zM37 96h3v1h-3z"/>
<path fill="#e7f0f4" d="M93 26h1v1h-1zM97 26h1v1h-1zM92 28h1v1h-1zM91 30h1v1h-1zM70 31h4v1h-4zM69 32h1v1h-1zM76 32h2v1h-2zM102 32h1v1h-1zM67 33h1v1h-1zM78 33h1v1h-1zM64 34h2v1h-2zM88 34h1v1h-1zM36 35h9v1h-9zM54 35h5v1h-5zM108 35h1v1h-1zM120 35h4v1h-4zM28 36h9v1h-9zM44 36h3v1h-3zM51 36h4v1h-4zM116 36h8v1h-8zM22 37h5v1h-5zM45 37h8v1h-8zM118 37h6v1h-6zM19 38h4v1h-4zM47 38h4v1h-4zM17 39h3v1h-3zM16 40h3v1h-3zM16 41h3v1h-3zM17 42h3v1h-3zM18 43h3v1h-3zM21 44h1v1h-1zM22 45h1v1h-1zM106 45h9v1h-9zM23 46h1v1h-1zM104 46h2v1h-2zM114 46h3v1h-3zM24 47h1v1h-1zM94 47h11v1h-11zM115 47h3v1h-3zM90 48h3v1h-3zM116 48h3v1h-3zM25 49h1v1h-1zM88 49h2v1h-2zM117 49h7v1h-7zM26 50h1v1h-1zM85 50h3v1h-3zM118 50h6v1h-6zM28 51h1v1h-1zM67 51h3v1h-3zM74 51h6v1h-6zM81 51h4v1h-4zM29 52h1v1h-1zM63 52h3v1h-3zM77 52h6v1h-6zM30 53h1v1h-1zM58 53h3v1h-3zM31 54h1v1h-1zM55 54h2v1h-2zM32 55h1v1h-1zM54 55h1v1h-1zM33 56h2v1h-2zM52 56h2v1h-2zM35 57h3v1h-3zM47 57h5v1h-5zM39 87h2v1h-2zM37 88h1v1h-1zM41 88h1v1h-1zM35 89h3v1h-3zM35 90h2v1h-2zM36 91h2v1h-2zM42 91h1v1h-1zM36 92h2v1h-2zM37 93h2v1h-2zM41 93h1v1h-1zM38 94h3v1h-3zM38 95h2v1h-2z"/>
<path fill="#e4eef4" d="M94 26h3v1h-3zM93 27h1v1h-1zM98 27h2v1h-2zM104 27h1v1h-1zM92 29h1v1h-1zM91 31h1v1h-1zM70 32h1v1h-1zM75 32h1v1h-1zM68 33h1v1h-1zM66 34h1v1h-1zM79 34h1v1h-1zM101 34h1v1h-1zM59 35h4v1h-4zM80 35h1v1h-1zM86 35h1v1h-1zM102 35h6v1h-6zM37 36h7v1h-7zM55 36h3v1h-3zM81 36h2v1h-2zM27 37h10v1h-10zM43 37h2v1h-2zM53 37h2v1h-2zM117 37h1v1h-1zM23 38h3v1h-3zM44 38h3v1h-3zM51 38h2v1h-2zM118 38h6v1h-6zM20 39h3v1h-3zM46 39h5v1h-5zM118 39h6v1h-6zM19 40h3v1h-3zM117 40h7v1h-7zM19 41h3v1h-3zM118 41h6v1h-6zM20 42h2v1h-2zM118 42h6v1h-6zM21 43h2v1h-2zM117 43h7v1h-7zM22 44h2v1h-2zM105 44h19v1h-19zM23 45h1v1h-1zM104 45h2v1h-2zM115 45h9v1h-9zM24 46h1v1h-1zM101 46h3v1h-3zM117 46h7v1h-7zM91 47h3v1h-3zM118 47h6v1h-6zM25 48h1v1h-1zM88 48h2v1h-2zM119 48h5v1h-5zM26 49h1v1h-1zM76 49h2v1h-2zM86 49h2v1h-2zM27 50h1v1h-1zM70 50h15v1h-15zM29 51h1v1h-1zM65 51h2v1h-2zM80 51h1v1h-1zM30 52h1v1h-1zM60 52h3v1h-3zM31 53h1v1h-1zM56 53h2v1h-2zM32 54h1v1h-1zM54 54h1v1h-1zM33 55h1v1h-1zM53 55h1v1h-1zM35 56h1v1h-1zM51 56h1v1h-1zM38 57h9v1h-9zM38 88h3v1h-3zM38 89h1v1h-1zM41 89h1v1h-1zM37 90h2v1h-2zM41 90h1v1h-1zM38 91h4v1h-4zM38 92h4v1h-4zM39 93h2v1h-2z"/>
<path fill="#deebf2" d="M101 26h1v1h-1zM94 27h3v1h-3zM93 28h1v1h-1zM97 28h2v1h-2zM93 29h1v1h-1zM103 29h1v1h-1zM92 31h1v1h-1zM71 33h1v1h-1zM75 33h2v1h-2zM101 33h1v1h-1zM69 34h1v1h-1zM89 34h1v1h-1zM66 35h1v1h-1zM87 35h1v1h-1zM60 36h3v1h-3zM84 36h1v1h-1zM57 37h2v1h-2zM116 37h1v1h-1zM37 38h5v1h-5zM55 38h2v1h-2zM26 39h11v1h-11zM42 39h2v1h-2zM53 39h2v1h-2zM24 40h2v1h-2zM44 40h2v1h-2zM50 40h2v1h-2zM113 40h2v1h-2zM106 41h9v1h-9zM105 42h2v1h-2zM111 42h3v1h-3zM23 43h1v1h-1zM104 43h1v1h-1zM24 44h1v1h-1zM102 44h2v1h-2zM99 45h3v1h-3zM76 46h2v1h-2zM90 46h2v1h-2zM26 47h1v1h-1zM75 47h5v1h-5zM87 47h2v1h-2zM27 48h1v1h-1zM73 48h2v1h-2zM80 48h6v1h-6zM28 49h1v1h-1zM69 49h3v1h-3zM29 50h1v1h-1zM65 50h2v1h-2zM61 51h2v1h-2zM32 52h1v1h-1zM56 52h2v1h-2zM33 53h1v1h-1zM54 53h1v1h-1zM34 54h1v1h-1zM52 54h1v1h-1zM36 55h1v1h-1zM50 55h1v1h-1zM38 56h3v1h-3zM45 56h3v1h-3z"/>
<path fill="#d4e6f1" d="M102 26h1v1h-1zM97 29h1v1h-1zM94 30h2v1h-2zM71 35h2v1h-2zM76 35h1v1h-1zM88 35h1v1h-1zM67 36h2v1h-2zM77 36h1v1h-1zM85 36h1v1h-1zM100 36h4v1h-4zM106 36h3v1h-3zM62 37h2v1h-2zM78 37h1v1h-1zM115 37h1v1h-1zM60 38h1v1h-1zM79 38h2v1h-2zM58 39h1v1h-1zM113 39h1v1h-1zM55 40h2v1h-2zM106 40h2v1h-2zM24 41h5v1h-5zM31 41h9v1h-9zM52 41h2v1h-2zM102 41h2v1h-2zM39 42h10v1h-10zM76 42h3v1h-3zM101 42h1v1h-1zM24 43h1v1h-1zM75 43h5v1h-5zM100 43h1v1h-1zM74 44h1v1h-1zM79 44h2v1h-2zM95 44h4v1h-4zM74 45h1v1h-1zM81 45h1v1h-1zM87 45h2v1h-2zM72 46h2v1h-2zM83 46h2v1h-2zM28 47h1v1h-1zM70 47h2v1h-2zM29 48h1v1h-1zM65 48h3v1h-3zM30 49h1v1h-1zM62 49h2v1h-2zM32 50h1v1h-1zM59 50h2v1h-2zM33 51h1v1h-1zM55 51h2v1h-2zM35 52h1v1h-1zM53 52h1v1h-1zM51 53h1v1h-1zM49 54h1v1h-1zM41 55h6v1h-6z"/>
<path fill="#daeaf2" d="M103 26h1v1h-1zM94 28h1v1h-1zM96 28h1v1h-1zM93 30h1v1h-1zM102 31h1v1h-1zM92 32h1v1h-1zM72 33h3v1h-3zM70 34h1v1h-1zM77 34h1v1h-1zM67 35h2v1h-2zM78 35h1v1h-1zM100 35h1v1h-1zM63 36h2v1h-2zM79 36h1v1h-1zM112 36h3v1h-3zM59 37h2v1h-2zM80 37h1v1h-1zM57 38h1v1h-1zM37 39h5v1h-5zM55 39h1v1h-1zM116 39h1v1h-1zM26 40h3v1h-3zM32 40h5v1h-5zM41 40h3v1h-3zM52 40h2v1h-2zM110 40h3v1h-3zM23 41h1v1h-1zM44 41h6v1h-6zM105 41h1v1h-1zM23 42h1v1h-1zM103 42h2v1h-2zM102 43h2v1h-2zM101 44h1v1h-1zM25 45h1v1h-1zM76 45h3v1h-3zM93 45h6v1h-6zM26 46h1v1h-1zM75 46h1v1h-1zM78 46h2v1h-2zM88 46h2v1h-2zM73 47h2v1h-2zM80 47h7v1h-7zM71 48h2v1h-2zM66 49h3v1h-3zM30 50h1v1h-1zM63 50h2v1h-2zM31 51h1v1h-1zM59 51h2v1h-2zM33 52h1v1h-1zM55 52h1v1h-1zM34 53h1v1h-1zM53 53h1v1h-1zM35 54h1v1h-1zM51 54h1v1h-1zM37 55h2v1h-2zM49 55h1v1h-1zM41 56h4v1h-4z"/>
<path fill="#e1ecf3" d="M97 27h1v1h-1zM92 30h1v1h-1zM71 32h4v1h-4zM91 32h1v1h-1zM69 33h2v1h-2zM77 33h1v1h-1zM90 33h1v1h-1zM67 34h2v1h-2zM78 34h1v1h-1zM63 35h3v1h-3zM79 35h1v1h-1zM101 35h1v1h-1zM58 36h2v1h-2zM80 36h1v1h-1zM83 36h1v1h-1zM115 36h1v1h-1zM37 37h6v1h-6zM55 37h2v1h-2zM26 38h11v1h-11zM42 38h2v1h-2zM53 38h2v1h-2zM117 38h1v1h-1zM23 39h3v1h-3zM44 39h2v1h-2zM51 39h2v1h-2zM117 39h1v1h-1zM22 40h2v1h-2zM46 40h4v1h-4zM115 40h2v1h-2zM22 41h1v1h-1zM115 41h3v1h-3zM22 42h1v1h-1zM107 42h4v1h-4zM114 42h4v1h-4zM105 43h12v1h-12zM104 44h1v1h-1zM24 45h1v1h-1zM102 45h2v1h-2zM25 46h1v1h-1zM92 46h9v1h-9zM25 47h1v1h-1zM89 47h2v1h-2zM26 48h1v1h-1zM75 48h5v1h-5zM86 48h2v1h-2zM27 49h1v1h-1zM72 49h4v1h-4zM78 49h8v1h-8zM28 50h1v1h-1zM67 50h3v1h-3zM30 51h1v1h-1zM63 51h2v1h-2zM31 52h1v1h-1zM58 52h2v1h-2zM32 53h1v1h-1zM55 53h1v1h-1zM33 54h1v1h-1zM53 54h1v1h-1zM34 55h2v1h-2zM51 55h2v1h-2zM36 56h2v1h-2zM48 56h3v1h-3zM39 89h2v1h-2zM39 90h2v1h-2z"/>
<path fill="#d7e8f1" d="M100 27h1v1h-1zM95 28h1v1h-1zM94 29h3v1h-3zM93 31h1v1h-1zM91 33h1v1h-1zM71 34h6v1h-6zM69 35h2v1h-2zM77 35h1v1h-1zM65 36h2v1h-2zM78 36h1v1h-1zM109 36h3v1h-3zM61 37h1v1h-1zM79 37h1v1h-1zM81 37h1v1h-1zM58 38h2v1h-2zM116 38h1v1h-1zM56 39h2v1h-2zM114 39h2v1h-2zM29 40h3v1h-3zM37 40h4v1h-4zM54 40h1v1h-1zM108 40h2v1h-2zM40 41h4v1h-4zM50 41h2v1h-2zM104 41h1v1h-1zM102 42h1v1h-1zM101 43h1v1h-1zM75 44h4v1h-4zM99 44h2v1h-2zM75 45h1v1h-1zM79 45h2v1h-2zM89 45h4v1h-4zM74 46h1v1h-1zM80 46h3v1h-3zM85 46h3v1h-3zM27 47h1v1h-1zM72 47h1v1h-1zM28 48h1v1h-1zM68 48h3v1h-3zM29 49h1v1h-1zM64 49h2v1h-2zM31 50h1v1h-1zM61 50h2v1h-2zM32 51h1v1h-1zM57 51h2v1h-2zM34 52h1v1h-1zM54 52h1v1h-1zM35 53h1v1h-1zM52 53h1v1h-1zM36 54h1v1h-1zM50 54h1v1h-1zM39 55h2v1h-2zM47 55h2v1h-2z"/>
<path fill="#bcdaea" d="M101 27h1v1h-1zM100 28h1v1h-1zM102 29h1v1h-1zM94 32h1v1h-1zM100 33h1v1h-1zM91 34h1v1h-1zM66 37h1v1h-1zM97 37h1v1h-1zM65 38h1v1h-1zM96 38h2v1h-2zM64 39h1v1h-1zM71 39h1v1h-1zM81 39h1v1h-1zM96 39h3v1h-3zM62 40h1v1h-1zM81 40h1v1h-1zM97 40h2v1h-2zM60 41h1v1h-1zM71 41h1v1h-1zM81 41h1v1h-1zM97 41h1v1h-1zM71 42h1v1h-1zM82 42h5v1h-5zM90 42h6v1h-6zM50 43h1v1h-1zM30 44h7v1h-7zM47 44h1v1h-1zM30 45h7v1h-7zM45 45h1v1h-1zM69 45h1v1h-1zM32 46h5v1h-5zM64 46h1v1h-1zM33 47h4v1h-4zM43 47h1v1h-1zM42 48h1v1h-1zM42 49h1v1h-1zM39 51h1v1h-1zM52 51h1v1h-1zM46 53h1v1h-1z"/>
<path fill="#b2d5e7" d="M102 27h1v1h-1zM101 28h2v1h-2zM99 29h1v1h-1zM98 30h1v1h-1zM101 30h1v1h-1zM100 32h1v1h-1zM93 33h1v1h-1zM99 34h1v1h-1zM90 35h1v1h-1zM98 35h1v1h-1zM88 36h1v1h-1zM97 36h1v1h-1zM67 37h1v1h-1zM85 37h1v1h-1zM96 37h1v1h-1zM82 38h1v1h-1zM65 40h1v1h-1zM93 40h3v1h-3zM62 41h2v1h-2zM85 41h4v1h-4zM93 41h2v1h-2zM49 44h1v1h-1zM47 45h1v1h-1zM68 45h1v1h-1zM45 46h1v1h-1zM63 46h1v1h-1zM44 47h1v1h-1zM61 47h1v1h-1zM59 48h1v1h-1zM43 49h1v1h-1zM44 53h1v1h-1z"/>
<path fill="#c1ddec" d="M103 27h1v1h-1zM97 30h1v1h-1zM89 35h1v1h-1zM98 36h1v1h-1zM83 37h1v1h-1zM98 37h1v1h-1zM71 38h1v1h-1zM98 38h3v1h-3zM62 39h2v1h-2zM72 39h1v1h-1zM99 39h3v1h-3zM60 40h2v1h-2zM72 40h1v1h-1zM99 40h2v1h-2zM58 41h2v1h-2zM72 41h1v1h-1zM98 41h1v1h-1zM53 42h1v1h-1zM87 42h3v1h-3zM96 42h2v1h-2zM26 43h10v1h-10zM49 43h1v1h-1zM71 43h1v1h-1zM27 44h3v1h-3zM37 44h2v1h-2zM46 44h1v1h-1zM28 45h2v1h-2zM37 45h2v1h-2zM44 45h1v1h-1zM70 45h1v1h-1zM30 46h2v1h-2zM37 46h2v1h-2zM42 46h2v1h-2zM65 46h2v1h-2zM32 47h1v1h-1zM37 47h2v1h-2zM41 47h2v1h-2zM62 47h1v1h-1zM33 48h6v1h-6zM40 48h2v1h-2zM60 48h1v1h-1zM35 49h7v1h-7zM58 49h1v1h-1zM39 50h2v1h-2zM55 50h1v1h-1zM38 51h1v1h-1zM37 52h1v1h-1zM50 52h1v1h-1zM47 53h1v1h-1z"/>
<path fill="#d1e5f0" d="M99 28h1v1h-1zM103 28h1v1h-1zM96 30h1v1h-1zM94 31h1v1h-1zM90 34h1v1h-1zM100 34h1v1h-1zM73 35h3v1h-3zM69 36h3v1h-3zM76 36h1v1h-1zM99 36h1v1h-1zM104 36h2v1h-2zM64 37h1v1h-1zM77 37h1v1h-1zM61 38h1v1h-1zM77 38h2v1h-2zM59 39h1v1h-1zM77 39h4v1h-4zM111 39h2v1h-2zM57 40h1v1h-1zM76 40h4v1h-4zM105 40h1v1h-1zM29 41h2v1h-2zM54 41h1v1h-1zM75 41h5v1h-5zM101 41h1v1h-1zM24 42h1v1h-1zM36 42h3v1h-3zM49 42h2v1h-2zM75 42h1v1h-1zM79 42h1v1h-1zM100 42h1v1h-1zM40 43h5v1h-5zM74 43h1v1h-1zM80 43h1v1h-1zM98 43h2v1h-2zM25 44h1v1h-1zM73 44h1v1h-1zM81 44h1v1h-1zM89 44h6v1h-6zM26 45h1v1h-1zM73 45h1v1h-1zM82 45h5v1h-5zM27 46h1v1h-1zM71 46h1v1h-1zM29 47h1v1h-1zM67 47h3v1h-3zM30 48h1v1h-1zM63 48h2v1h-2zM31 49h1v1h-1zM61 49h1v1h-1zM33 50h1v1h-1zM58 50h1v1h-1zM34 51h2v1h-2zM54 51h1v1h-1zM36 52h1v1h-1zM52 52h1v1h-1zM36 53h1v1h-1zM50 53h1v1h-1zM37 54h1v1h-1zM48 54h1v1h-1z"/>
<path fill="#c6e0ed" d="M98 29h1v1h-1zM95 31h1v1h-1zM92 33h1v1h-1zM99 35h1v1h-1zM86 36h1v1h-1zM71 37h1v1h-1zM99 37h7v1h-7zM64 38h1v1h-1zM72 38h3v1h-3zM81 38h1v1h-1zM101 38h11v1h-11zM61 39h1v1h-1zM73 39h2v1h-2zM102 39h5v1h-5zM59 40h1v1h-1zM73 40h1v1h-1zM101 40h2v1h-2zM56 41h2v1h-2zM73 41h1v1h-1zM99 41h1v1h-1zM25 42h8v1h-8zM52 42h1v1h-1zM72 42h1v1h-1zM81 42h1v1h-1zM98 42h1v1h-1zM25 43h1v1h-1zM36 43h2v1h-2zM48 43h1v1h-1zM72 43h1v1h-1zM82 43h14v1h-14zM26 44h1v1h-1zM39 44h1v1h-1zM44 44h2v1h-2zM71 44h1v1h-1zM27 45h1v1h-1zM39 45h1v1h-1zM42 45h2v1h-2zM29 46h1v1h-1zM39 46h3v1h-3zM67 46h3v1h-3zM30 47h2v1h-2zM39 47h2v1h-2zM63 47h2v1h-2zM32 48h1v1h-1zM39 48h1v1h-1zM61 48h1v1h-1zM33 49h2v1h-2zM59 49h1v1h-1zM35 50h4v1h-4zM56 50h1v1h-1zM37 51h1v1h-1zM53 51h1v1h-1zM48 53h1v1h-1z"/>
<path fill="#acd2e6" d="M100 29h2v1h-2zM99 30h2v1h-2zM97 31h1v1h-1zM100 31h1v1h-1zM95 32h1v1h-1zM99 33h1v1h-1zM92 34h1v1h-1zM86 37h1v1h-1zM95 37h1v1h-1zM94 39h1v1h-1zM90 40h3v1h-3zM64 41h1v1h-1zM82 41h3v1h-3zM55 42h2v1h-2zM58 42h2v1h-2zM69 42h1v1h-1zM52 43h1v1h-1zM67 45h1v1h-1zM46 46h1v1h-1zM45 47h1v1h-1zM44 48h1v1h-1zM42 50h1v1h-1zM40 51h1v1h-1zM51 51h1v1h-1zM38 52h1v1h-1zM43 53h1v1h-1z"/>
<path fill="#cce2ee" d="M102 30h1v1h-1zM93 32h1v1h-1zM101 32h1v1h-1zM72 36h4v1h-4zM65 37h1v1h-1zM72 37h5v1h-5zM82 37h1v1h-1zM106 37h9v1h-9zM62 38h2v1h-2zM75 38h2v1h-2zM112 38h4v1h-4zM60 39h1v1h-1zM75 39h2v1h-2zM107 39h4v1h-4zM58 40h1v1h-1zM74 40h2v1h-2zM80 40h1v1h-1zM103 40h2v1h-2zM55 41h1v1h-1zM74 41h1v1h-1zM80 41h1v1h-1zM100 41h1v1h-1zM33 42h3v1h-3zM51 42h1v1h-1zM73 42h2v1h-2zM80 42h1v1h-1zM99 42h1v1h-1zM38 43h2v1h-2zM45 43h3v1h-3zM73 43h1v1h-1zM81 43h1v1h-1zM96 43h2v1h-2zM40 44h4v1h-4zM72 44h1v1h-1zM82 44h7v1h-7zM40 45h2v1h-2zM71 45h2v1h-2zM28 46h1v1h-1zM70 46h1v1h-1zM65 47h2v1h-2zM31 48h1v1h-1zM62 48h1v1h-1zM32 49h1v1h-1zM60 49h1v1h-1zM34 50h1v1h-1zM57 50h1v1h-1zM36 51h1v1h-1zM51 52h1v1h-1zM49 53h1v1h-1zM38 54h10v1h-10z"/>
<path fill="#b7d8e8" d="M96 31h1v1h-1zM101 31h1v1h-1zM87 36h1v1h-1zM70 37h1v1h-1zM84 37h1v1h-1zM95 38h1v1h-1zM65 39h1v1h-1zM95 39h1v1h-1zM63 40h2v1h-2zM71 40h1v1h-1zM96 40h1v1h-1zM61 41h1v1h-1zM89 41h4v1h-4zM95 41h2v1h-2zM54 42h1v1h-1zM70 42h1v1h-1zM51 43h1v1h-1zM70 43h1v1h-1zM48 44h1v1h-1zM70 44h1v1h-1zM46 45h1v1h-1zM44 46h1v1h-1zM43 48h1v1h-1zM57 49h1v1h-1zM41 50h1v1h-1zM54 50h1v1h-1zM49 52h1v1h-1zM37 53h1v1h-1zM45 53h1v1h-1z"/>
<path fill="#a7d0e4" d="M98 31h2v1h-2zM96 32h4v1h-4zM94 33h5v1h-5zM93 34h6v1h-6zM91 35h2v1h-2zM96 35h2v1h-2zM89 36h2v1h-2zM96 36h1v1h-1zM68 37h2v1h-2zM87 37h3v1h-3zM94 37h1v1h-1zM83 38h5v1h-5zM94 38h1v1h-1zM82 39h2v1h-2zM92 39h2v1h-2zM82 40h1v1h-1zM86 40h4v1h-4zM65 41h1v1h-1zM70 41h1v1h-1zM57 42h1v1h-1zM60 42h2v1h-2zM48 45h1v1h-1zM66 45h1v1h-1zM56 49h1v1h-1zM53 50h1v1h-1zM48 52h1v1h-1zM42 53h1v1h-1z"/>
<path fill="#a2cde2" d="M93 35h3v1h-3zM91 36h5v1h-5zM90 37h4v1h-4zM88 38h6v1h-6zM84 39h8v1h-8zM83 40h3v1h-3zM69 41h1v1h-1zM62 42h1v1h-1zM50 44h1v1h-1zM47 46h1v1h-1zM62 46h1v1h-1zM46 47h1v1h-1zM60 47h1v1h-1zM45 48h1v1h-1zM58 48h1v1h-1zM38 53h1v1h-1zM41 53h1v1h-1z"/>
<path fill="#85bdda" d="M66 38h1v1h-1zM66 39h1v1h-1zM70 39h1v1h-1zM55 43h1v1h-1zM59 43h3v1h-3zM52 44h1v1h-1zM67 44h1v1h-1zM45 49h1v1h-1zM51 50h1v1h-1zM41 52h1v1h-1zM44 52h1v1h-1z"/>
<path fill="#6aacd0" d="M67 38h3v1h-3zM69 40h1v1h-1z"/>
<path fill="#97c8e0" d="M70 38h1v1h-1zM68 41h1v1h-1zM63 42h1v1h-1zM69 43h1v1h-1zM49 45h1v1h-1zM64 45h1v1h-1zM55 49h1v1h-1zM43 50h1v1h-1z"/>
<path fill="#64a8ce" d="M67 39h3v1h-3zM67 40h2v1h-2z"/>
<path fill="#8bc1dc" d="M66 40h1v1h-1zM65 42h2v1h-2zM54 43h1v1h-1zM68 44h1v1h-1zM63 45h1v1h-1zM61 46h1v1h-1zM59 47h1v1h-1zM46 48h1v1h-1zM54 49h1v1h-1zM42 51h1v1h-1zM49 51h1v1h-1zM40 52h1v1h-1zM45 52h1v1h-1z"/>
<path fill="#7eb8d7" d="M70 40h1v1h-1zM56 43h3v1h-3zM62 43h1v1h-1zM68 43h1v1h-1zM66 44h1v1h-1zM50 45h1v1h-1zM62 45h1v1h-1zM49 46h1v1h-1zM60 46h1v1h-1zM48 47h1v1h-1zM58 47h1v1h-1zM56 48h1v1h-1zM53 49h1v1h-1zM44 50h1v1h-1zM43 51h1v1h-1zM48 51h1v1h-1zM42 52h2v1h-2z"/>
<path fill="#9ccae1" d="M66 41h1v1h-1zM68 42h1v1h-1zM53 43h1v1h-1zM69 44h1v1h-1zM65 45h1v1h-1zM44 49h1v1h-1zM41 51h1v1h-1zM50 51h1v1h-1zM39 52h1v1h-1zM47 52h1v1h-1zM39 53h2v1h-2z"/>
<path fill="#92c5de" d="M67 41h1v1h-1zM64 42h1v1h-1zM67 42h1v1h-1zM51 44h1v1h-1zM48 46h1v1h-1zM47 47h1v1h-1zM57 48h1v1h-1zM52 50h1v1h-1zM46 52h1v1h-1z"/>
<path fill="#78b4d5" d="M63 43h5v1h-5zM53 44h1v1h-1zM63 44h3v1h-3zM51 45h1v1h-1zM61 45h1v1h-1zM59 46h1v1h-1zM57 47h1v1h-1zM47 48h1v1h-1zM55 48h1v1h-1zM46 49h1v1h-1zM52 49h1v1h-1zM45 50h1v1h-1zM50 50h1v1h-1zM44 51h1v1h-1zM46 51h2v1h-2z"/>
<path fill="#71b0d3" d="M54 44h9v1h-9zM52 45h9v1h-9zM50 46h9v1h-9zM49 47h8v1h-8zM48 48h7v1h-7zM47 49h5v1h-5zM46 50h4v1h-4zM45 51h1v1h-1z"/>
<path fill="#fbe4d7" d="M64 60h2v1h-2zM62 61h3v1h-3zM66 61h2v1h-2zM61 62h2v1h-2zM68 62h2v1h-2zM52 63h2v1h-2zM60 63h2v1h-2zM69 63h2v1h-2zM32 64h1v1h-1zM38 64h2v1h-2zM47 64h3v1h-3zM56 64h5v1h-5zM70 64h2v1h-2zM30 65h1v1h-1zM41 65h6v1h-6zM57 65h4v1h-4zM70 65h3v1h-3zM0 66h6v1h-6zM29 66h1v1h-1zM58 66h3v1h-3zM70 66h3v1h-3zM7 67h4v1h-4zM29 67h1v1h-1zM57 67h4v1h-4zM70 67h3v1h-3zM10 68h2v1h-2zM28 68h1v1h-1zM57 68h4v1h-4zM70 68h3v1h-3zM12 69h2v1h-2zM27 69h2v1h-2zM58 69h2v1h-2zM70 69h2v1h-2zM14 70h3v1h-3zM27 70h1v1h-1zM70 70h2v1h-2zM18 71h2v1h-2zM25 71h2v1h-2zM70 71h2v1h-2zM21 72h4v1h-4zM71 72h1v1h-1zM71 73h1v1h-1zM71 74h1v1h-1zM71 75h1v1h-1zM71 76h1v1h-1zM70 77h1v1h-1zM39 78h2v1h-2zM70 78h1v1h-1zM38 79h2v1h-2zM42 79h1v1h-1zM69 79h1v1h-1zM38 80h1v1h-1zM43 80h1v1h-1zM45 81h1v1h-1zM67 81h1v1h-1zM37 82h1v1h-1zM46 82h1v1h-1zM54 82h2v1h-2zM66 82h1v1h-1zM36 83h1v1h-1zM47 83h2v1h-2zM50 83h3v1h-3zM61 83h3v1h-3zM35 84h1v1h-1zM48 84h3v1h-3zM49 85h1v1h-1zM31 90h1v1h-1zM33 98h1v1h-1zM32 99h1v1h-1zM31 100h1v1h-1zM30 101h1v1h-1zM30 102h1v1h-1zM29 103h1v1h-1zM29 104h1v1h-1zM13 105h8v1h-8zM29 105h1v1h-1zM0 106h8v1h-8zM10 106h3v1h-3zM21 106h2v1h-2zM28 106h2v1h-2zM0 107h11v1h-11zM23 107h7v1h-7z"/>
<path fill="#fce2d3" d="M65 61h1v1h-1zM63 62h5v1h-5zM62 63h2v1h-2zM66 63h3v1h-3zM33 64h5v1h-5zM50 64h6v1h-6zM61 64h2v1h-2zM67 64h3v1h-3zM31 65h2v1h-2zM39 65h2v1h-2zM47 65h2v1h-2zM55 65h2v1h-2zM61 65h2v1h-2zM68 65h2v1h-2zM30 66h1v1h-1zM42 66h4v1h-4zM56 66h2v1h-2zM61 66h2v1h-2zM68 66h2v1h-2zM0 67h7v1h-7zM30 67h1v1h-1zM56 67h1v1h-1zM61 67h2v1h-2zM68 67h2v1h-2zM7 68h3v1h-3zM29 68h1v1h-1zM56 68h1v1h-1zM61 68h2v1h-2zM68 68h2v1h-2zM9 69h3v1h-3zM56 69h2v1h-2zM60 69h2v1h-2zM68 69h2v1h-2zM11 70h3v1h-3zM28 70h1v1h-1zM57 70h3v1h-3zM69 70h1v1h-1zM15 71h3v1h-3zM27 71h1v1h-1zM69 71h1v1h-1zM19 72h2v1h-2zM25 72h1v1h-1zM70 72h1v1h-1zM70 73h1v1h-1zM70 74h1v1h-1zM70 75h1v1h-1zM70 76h1v1h-1zM39 77h2v1h-2zM38 78h1v1h-1zM41 78h1v1h-1zM69 78h1v1h-1zM43 79h1v1h-1zM37 80h1v1h-1zM44 80h1v1h-1zM68 80h1v1h-1zM37 81h1v1h-1zM46 81h1v1h-1zM47 82h7v1h-7zM56 82h5v1h-5zM63 82h3v1h-3zM49 83h1v1h-1zM33 85h1v1h-1zM32 92h1v1h-1zM33 94h1v1h-1zM33 97h1v1h-1zM30 100h1v1h-1zM29 101h1v1h-1zM28 102h2v1h-2zM0 103h6v1h-6zM27 103h2v1h-2zM0 104h8v1h-8zM13 104h8v1h-8zM27 104h2v1h-2zM0 105h13v1h-13zM21 105h8v1h-8zM8 106h2v1h-2zM23 106h5v1h-5z"/>
<path fill="#fce0cf" d="M64 63h2v1h-2zM63 64h4v1h-4zM33 65h1v1h-1zM37 65h2v1h-2zM49 65h3v1h-3zM53 65h2v1h-2zM63 65h5v1h-5zM31 66h1v1h-1zM39 66h3v1h-3zM46 66h3v1h-3zM54 66h2v1h-2zM63 66h5v1h-5zM41 67h5v1h-5zM55 67h1v1h-1zM63 67h5v1h-5zM0 68h7v1h-7zM30 68h1v1h-1zM55 68h1v1h-1zM63 68h5v1h-5zM6 69h3v1h-3zM29 69h1v1h-1zM55 69h1v1h-1zM62 69h2v1h-2zM66 69h2v1h-2zM9 70h2v1h-2zM29 70h1v1h-1zM55 70h2v1h-2zM60 70h2v1h-2zM67 70h2v1h-2zM11 71h4v1h-4zM28 71h1v1h-1zM68 71h1v1h-1zM17 72h2v1h-2zM26 72h2v1h-2zM69 72h1v1h-1zM21 73h4v1h-4zM69 73h1v1h-1zM37 76h4v1h-4zM37 77h2v1h-2zM41 77h1v1h-1zM69 77h1v1h-1zM37 78h1v1h-1zM42 78h1v1h-1zM37 79h1v1h-1zM44 79h1v1h-1zM68 79h1v1h-1zM45 80h1v1h-1zM67 80h1v1h-1zM47 81h1v1h-1zM51 81h5v1h-5zM66 81h1v1h-1zM36 82h1v1h-1zM61 82h2v1h-2zM35 83h1v1h-1zM34 84h1v1h-1zM32 85h1v1h-1zM30 87h1v1h-1zM33 95h1v1h-1zM33 96h1v1h-1zM0 98h4v1h-4zM32 98h1v1h-1zM0 99h5v1h-5zM31 99h1v1h-1zM0 100h7v1h-7zM29 100h1v1h-1zM0 101h8v1h-8zM28 101h1v1h-1zM0 102h9v1h-9zM26 102h2v1h-2zM6 103h6v1h-6zM18 103h9v1h-9zM8 104h5v1h-5zM21 104h6v1h-6z"/>
<path fill="#fcddcb" d="M34 65h3v1h-3zM52 65h1v1h-1zM32 66h2v1h-2zM38 66h1v1h-1zM49 66h5v1h-5zM31 67h2v1h-2zM39 67h2v1h-2zM46 67h3v1h-3zM53 67h2v1h-2zM31 68h1v1h-1zM40 68h6v1h-6zM53 68h2v1h-2zM0 69h6v1h-6zM30 69h1v1h-1zM53 69h2v1h-2zM64 69h2v1h-2zM6 70h3v1h-3zM30 70h1v1h-1zM53 70h2v1h-2zM62 70h5v1h-5zM8 71h3v1h-3zM29 71h1v1h-1zM55 71h5v1h-5zM67 71h1v1h-1zM11 72h6v1h-6zM28 72h1v1h-1zM68 72h1v1h-1zM19 73h2v1h-2zM25 73h2v1h-2zM38 74h3v1h-3zM69 74h1v1h-1zM36 75h6v1h-6zM69 75h1v1h-1zM36 76h1v1h-1zM41 76h1v1h-1zM69 76h1v1h-1zM36 77h1v1h-1zM42 77h1v1h-1zM0 78h4v1h-4zM36 78h1v1h-1zM43 78h1v1h-1zM68 78h1v1h-1zM0 79h5v1h-5zM36 79h1v1h-1zM0 80h5v1h-5zM36 80h1v1h-1zM46 80h1v1h-1zM0 81h5v1h-5zM36 81h1v1h-1zM48 81h3v1h-3zM56 81h2v1h-2zM64 81h2v1h-2zM0 82h4v1h-4zM30 86h1v1h-1zM30 88h1v1h-1zM31 91h1v1h-1zM32 93h1v1h-1zM0 95h4v1h-4zM0 96h5v1h-5zM0 97h6v1h-6zM32 97h1v1h-1zM4 98h3v1h-3zM31 98h1v1h-1zM5 99h3v1h-3zM30 99h1v1h-1zM7 100h2v1h-2zM28 100h1v1h-1zM8 101h2v1h-2zM26 101h2v1h-2zM9 102h3v1h-3zM20 102h6v1h-6zM12 103h6v1h-6z"/>
<path fill="#fddbc7" d="M34 66h4v1h-4zM33 67h1v1h-1zM37 67h2v1h-2zM49 67h4v1h-4zM32 68h1v1h-1zM38 68h2v1h-2zM46 68h7v1h-7zM31 69h1v1h-1zM39 69h7v1h-7zM51 69h2v1h-2zM0 70h6v1h-6zM31 70h1v1h-1zM39 70h5v1h-5zM52 70h1v1h-1zM0 71h8v1h-8zM30 71h2v1h-2zM39 71h4v1h-4zM53 71h2v1h-2zM60 71h3v1h-3zM66 71h1v1h-1zM5 72h6v1h-6zM29 72h2v1h-2zM38 72h4v1h-4zM67 72h1v1h-1zM16 73h3v1h-3zM27 73h2v1h-2zM36 73h6v1h-6zM68 73h1v1h-1zM0 74h5v1h-5zM21 74h5v1h-5zM35 74h3v1h-3zM41 74h1v1h-1zM68 74h1v1h-1zM0 75h6v1h-6zM34 75h2v1h-2zM42 75h1v1h-1zM0 76h6v1h-6zM34 76h2v1h-2zM42 76h1v1h-1zM0 77h6v1h-6zM35 77h1v1h-1zM43 77h1v1h-1zM68 77h1v1h-1zM4 78h2v1h-2zM35 78h1v1h-1zM44 78h1v1h-1zM5 79h1v1h-1zM35 79h1v1h-1zM45 79h1v1h-1zM67 79h1v1h-1zM5 80h1v1h-1zM47 80h8v1h-8zM66 80h1v1h-1zM5 81h1v1h-1zM35 81h1v1h-1zM58 81h6v1h-6zM4 82h2v1h-2zM35 82h1v1h-1zM0 83h6v1h-6zM34 83h1v1h-1zM0 84h5v1h-5zM33 84h1v1h-1zM0 85h3v1h-3zM31 85h1v1h-1zM30 89h1v1h-1zM0 93h4v1h-4zM0 94h6v1h-6zM32 94h1v1h-1zM4 95h2v1h-2zM32 95h1v1h-1zM5 96h2v1h-2zM32 96h1v1h-1zM6 97h2v1h-2zM31 97h1v1h-1zM7 98h1v1h-1zM30 98h1v1h-1zM8 99h1v1h-1zM28 99h2v1h-2zM9 100h1v1h-1zM27 100h1v1h-1zM10 101h1v1h-1zM21 101h5v1h-5zM12 102h1v1h-1zM18 102h2v1h-2z"/>
<path fill="#fcd6c1" d="M34 67h3v1h-3zM33 68h2v1h-2zM36 68h2v1h-2zM32 69h2v1h-2zM37 69h2v1h-2zM46 69h5v1h-5zM32 70h1v1h-1zM37 70h2v1h-2zM44 70h3v1h-3zM49 70h3v1h-3zM32 71h1v1h-1zM37 71h2v1h-2zM43 71h2v1h-2zM51 71h2v1h-2zM63 71h3v1h-3zM0 72h5v1h-5zM31 72h3v1h-3zM35 72h3v1h-3zM42 72h2v1h-2zM52 72h7v1h-7zM66 72h1v1h-1zM0 73h16v1h-16zM29 73h7v1h-7zM42 73h1v1h-1zM67 73h1v1h-1zM5 74h5v1h-5zM19 74h2v1h-2zM26 74h3v1h-3zM32 74h3v1h-3zM42 74h1v1h-1zM6 75h2v1h-2zM33 75h1v1h-1zM43 75h1v1h-1zM68 75h1v1h-1zM6 76h2v1h-2zM33 76h1v1h-1zM43 76h1v1h-1zM68 76h1v1h-1zM6 77h2v1h-2zM33 77h2v1h-2zM44 77h1v1h-1zM6 78h2v1h-2zM34 78h1v1h-1zM45 78h1v1h-1zM67 78h1v1h-1zM6 79h1v1h-1zM46 79h2v1h-2zM50 79h3v1h-3zM6 80h1v1h-1zM35 80h1v1h-1zM55 80h2v1h-2zM65 80h1v1h-1zM6 81h1v1h-1zM6 82h1v1h-1zM34 82h1v1h-1zM6 83h1v1h-1zM5 84h1v1h-1zM32 84h1v1h-1zM3 85h3v1h-3zM0 86h5v1h-5zM0 87h4v1h-4zM0 88h3v1h-3zM0 89h3v1h-3zM0 90h4v1h-4zM30 90h1v1h-1zM0 91h5v1h-5zM0 92h6v1h-6zM31 92h1v1h-1zM4 93h2v1h-2zM6 94h1v1h-1zM6 95h1v1h-1zM7 96h1v1h-1zM8 98h1v1h-1zM29 98h1v1h-1zM21 100h2v1h-2zM11 101h1v1h-1zM19 101h2v1h-2zM13 102h1v1h-1zM17 102h1v1h-1z"/>
<path fill="#fcd2bc" d="M35 68h1v1h-1zM34 69h3v1h-3zM33 70h4v1h-4zM47 70h2v1h-2zM33 71h4v1h-4zM45 71h6v1h-6zM34 72h1v1h-1zM44 72h1v1h-1zM50 72h2v1h-2zM59 72h3v1h-3zM65 72h1v1h-1zM43 73h2v1h-2zM52 73h4v1h-4zM10 74h9v1h-9zM29 74h3v1h-3zM43 74h1v1h-1zM67 74h1v1h-1zM8 75h2v1h-2zM20 75h8v1h-8zM30 75h3v1h-3zM44 75h1v1h-1zM8 76h1v1h-1zM31 76h2v1h-2zM44 76h1v1h-1zM8 77h1v1h-1zM32 77h1v1h-1zM45 77h1v1h-1zM8 78h1v1h-1zM33 78h1v1h-1zM46 78h1v1h-1zM7 79h2v1h-2zM34 79h1v1h-1zM48 79h2v1h-2zM53 79h2v1h-2zM66 79h1v1h-1zM7 80h1v1h-1zM34 80h1v1h-1zM57 80h1v1h-1zM64 80h1v1h-1zM7 81h1v1h-1zM34 81h1v1h-1zM7 82h1v1h-1zM7 83h1v1h-1zM33 83h1v1h-1zM6 84h1v1h-1zM6 85h1v1h-1zM30 85h1v1h-1zM5 86h2v1h-2zM4 87h2v1h-2zM3 88h3v1h-3zM3 89h3v1h-3zM4 90h2v1h-2zM5 91h1v1h-1zM30 91h1v1h-1zM6 92h1v1h-1zM6 93h1v1h-1zM31 93h1v1h-1zM31 94h1v1h-1zM7 95h1v1h-1zM31 95h1v1h-1zM31 96h1v1h-1zM8 97h1v1h-1zM30 97h1v1h-1zM28 98h1v1h-1zM9 99h1v1h-1zM27 99h1v1h-1zM10 100h1v1h-1zM20 100h1v1h-1zM23 100h2v1h-2zM14 102h3v1h-3z"/>
<path fill="#fbceb6" d="M45 72h5v1h-5zM62 72h3v1h-3zM45 73h1v1h-1zM50 73h2v1h-2zM56 73h2v1h-2zM66 73h1v1h-1zM44 74h2v1h-2zM51 74h3v1h-3zM10 75h3v1h-3zM18 75h2v1h-2zM28 75h2v1h-2zM45 75h1v1h-1zM67 75h1v1h-1zM9 76h2v1h-2zM22 76h4v1h-4zM29 76h2v1h-2zM45 76h1v1h-1zM67 76h1v1h-1zM9 77h1v1h-1zM31 77h1v1h-1zM46 77h1v1h-1zM51 77h1v1h-1zM67 77h1v1h-1zM9 78h1v1h-1zM32 78h1v1h-1zM47 78h7v1h-7zM66 78h1v1h-1zM33 79h1v1h-1zM55 79h1v1h-1zM65 79h1v1h-1zM8 80h1v1h-1zM33 80h1v1h-1zM58 80h6v1h-6zM8 81h1v1h-1zM33 81h1v1h-1zM8 82h1v1h-1zM33 82h1v1h-1zM8 83h1v1h-1zM32 83h1v1h-1zM7 84h1v1h-1zM31 84h1v1h-1zM7 85h1v1h-1zM7 86h1v1h-1zM29 86h1v1h-1zM6 87h1v1h-1zM29 87h1v1h-1zM6 88h1v1h-1zM29 88h1v1h-1zM6 89h1v1h-1zM29 89h1v1h-1zM6 90h1v1h-1zM6 91h1v1h-1zM7 92h1v1h-1zM30 92h1v1h-1zM7 93h1v1h-1zM7 94h1v1h-1zM8 96h1v1h-1zM30 96h1v1h-1zM29 97h1v1h-1zM9 98h1v1h-1zM20 99h2v1h-2zM19 100h1v1h-1zM25 100h2v1h-2zM12 101h1v1h-1zM18 101h1v1h-1z"/>
<path fill="#fac9b0" d="M46 73h4v1h-4zM58 73h2v1h-2zM65 73h1v1h-1zM46 74h5v1h-5zM54 74h2v1h-2zM66 74h1v1h-1zM13 75h5v1h-5zM46 75h1v1h-1zM49 75h5v1h-5zM11 76h2v1h-2zM20 76h2v1h-2zM26 76h3v1h-3zM46 76h2v1h-2zM49 76h5v1h-5zM10 77h1v1h-1zM29 77h2v1h-2zM47 77h4v1h-4zM52 77h2v1h-2zM10 78h1v1h-1zM30 78h2v1h-2zM54 78h1v1h-1zM9 79h2v1h-2zM31 79h2v1h-2zM56 79h1v1h-1zM9 80h1v1h-1zM32 80h1v1h-1zM9 81h1v1h-1zM32 81h1v1h-1zM9 82h1v1h-1zM32 82h1v1h-1zM31 83h1v1h-1zM8 84h1v1h-1zM30 84h1v1h-1zM8 85h1v1h-1zM29 85h1v1h-1zM7 87h1v1h-1zM7 88h1v1h-1zM7 89h1v1h-1zM7 90h1v1h-1zM29 90h1v1h-1zM7 91h1v1h-1zM29 91h1v1h-1zM30 93h1v1h-1zM30 94h1v1h-1zM8 95h1v1h-1zM30 95h1v1h-1zM29 96h1v1h-1zM28 97h1v1h-1zM20 98h1v1h-1zM27 98h1v1h-1zM22 99h1v1h-1zM17 101h1v1h-1z"/>
<path fill="#f9c4aa" d="M60 73h5v1h-5zM56 74h1v1h-1zM47 75h2v1h-2zM54 75h2v1h-2zM66 75h1v1h-1zM13 76h7v1h-7zM48 76h1v1h-1zM54 76h1v1h-1zM66 76h1v1h-1zM11 77h2v1h-2zM20 77h9v1h-9zM54 77h1v1h-1zM66 77h1v1h-1zM11 78h1v1h-1zM27 78h3v1h-3zM55 78h1v1h-1zM65 78h1v1h-1zM11 79h1v1h-1zM29 79h2v1h-2zM57 79h2v1h-2zM64 79h1v1h-1zM10 80h1v1h-1zM30 80h2v1h-2zM10 81h1v1h-1zM31 81h1v1h-1zM10 82h1v1h-1zM30 82h2v1h-2zM9 83h1v1h-1zM30 83h1v1h-1zM9 84h1v1h-1zM29 84h1v1h-1zM28 85h1v1h-1zM8 86h1v1h-1zM28 86h1v1h-1zM8 87h1v1h-1zM28 87h1v1h-1zM28 88h1v1h-1zM28 89h1v1h-1zM28 90h1v1h-1zM29 92h1v1h-1zM8 94h1v1h-1zM29 95h1v1h-1zM26 96h3v1h-3zM9 97h1v1h-1zM27 97h1v1h-1zM21 98h1v1h-1zM10 99h1v1h-1zM19 99h1v1h-1zM23 99h2v1h-2zM26 99h1v1h-1zM11 100h1v1h-1zM13 101h1v1h-1z"/>
<path fill="#f8c0a4" d="M57 74h2v1h-2zM65 74h1v1h-1zM56 75h1v1h-1zM55 76h1v1h-1zM13 77h7v1h-7zM55 77h1v1h-1zM12 78h2v1h-2zM20 78h7v1h-7zM56 78h1v1h-1zM12 79h1v1h-1zM22 79h7v1h-7zM59 79h5v1h-5zM11 80h2v1h-2zM27 80h3v1h-3zM11 81h1v1h-1zM28 81h3v1h-3zM11 82h1v1h-1zM28 82h2v1h-2zM10 83h1v1h-1zM28 83h2v1h-2zM10 84h1v1h-1zM27 84h2v1h-2zM9 85h1v1h-1zM27 85h1v1h-1zM9 86h1v1h-1zM27 86h1v1h-1zM27 87h1v1h-1zM8 88h1v1h-1zM27 88h1v1h-1zM8 89h1v1h-1zM27 89h1v1h-1zM8 90h1v1h-1zM27 90h1v1h-1zM8 91h1v1h-1zM28 91h1v1h-1zM8 92h1v1h-1zM28 92h1v1h-1zM8 93h1v1h-1zM29 93h1v1h-1zM24 94h2v1h-2zM28 94h2v1h-2zM24 95h5v1h-5zM25 96h1v1h-1zM20 97h2v1h-2zM25 97h2v1h-2zM19 98h1v1h-1zM22 98h5v1h-5zM25 99h1v1h-1zM18 100h1v1h-1zM14 101h3v1h-3z"/>
<path fill="#f8bc9f" d="M59 74h2v1h-2zM63 74h2v1h-2zM57 75h1v1h-1zM65 75h1v1h-1zM56 76h1v1h-1zM65 76h1v1h-1zM56 77h1v1h-1zM65 77h1v1h-1zM14 78h6v1h-6zM57 78h1v1h-1zM64 78h1v1h-1zM13 79h3v1h-3zM18 79h4v1h-4zM13 80h2v1h-2zM21 80h6v1h-6zM12 81h2v1h-2zM23 81h5v1h-5zM12 82h1v1h-1zM24 82h4v1h-4zM11 83h1v1h-1zM25 83h3v1h-3zM25 84h2v1h-2zM10 85h1v1h-1zM25 85h2v1h-2zM25 86h2v1h-2zM9 87h1v1h-1zM25 87h2v1h-2zM9 88h1v1h-1zM26 88h1v1h-1zM26 89h1v1h-1zM26 90h1v1h-1zM26 91h2v1h-2zM25 92h3v1h-3zM24 93h5v1h-5zM23 94h1v1h-1zM26 94h2v1h-2zM22 95h2v1h-2zM9 96h1v1h-1zM20 96h5v1h-5zM22 97h3v1h-3zM10 98h1v1h-1zM12 100h1v1h-1z"/>
<path fill="#f7b799" d="M61 74h2v1h-2zM58 75h1v1h-1zM64 75h1v1h-1zM57 76h1v1h-1zM57 77h1v1h-1zM64 77h1v1h-1zM58 78h2v1h-2zM63 78h1v1h-1zM16 79h2v1h-2zM15 80h6v1h-6zM14 81h3v1h-3zM18 81h5v1h-5zM13 82h1v1h-1zM21 82h3v1h-3zM12 83h1v1h-1zM22 83h3v1h-3zM11 84h1v1h-1zM23 84h2v1h-2zM24 85h1v1h-1zM10 86h1v1h-1zM23 86h2v1h-2zM23 87h2v1h-2zM23 88h3v1h-3zM9 89h1v1h-1zM23 89h3v1h-3zM23 90h3v1h-3zM23 91h3v1h-3zM22 92h3v1h-3zM21 93h3v1h-3zM21 94h2v1h-2zM9 95h1v1h-1zM20 95h2v1h-2zM19 97h1v1h-1zM11 99h1v1h-1zM18 99h1v1h-1zM17 100h1v1h-1z"/>
<path fill="#f6b293" d="M59 75h1v1h-1zM63 75h1v1h-1zM58 76h1v1h-1zM64 76h1v1h-1zM58 77h1v1h-1zM63 77h1v1h-1zM60 78h3v1h-3zM17 81h1v1h-1zM14 82h7v1h-7zM13 83h1v1h-1zM21 83h1v1h-1zM12 84h1v1h-1zM22 84h1v1h-1zM11 85h1v1h-1zM22 85h2v1h-2zM21 86h2v1h-2zM10 87h1v1h-1zM21 87h2v1h-2zM10 88h1v1h-1zM21 88h2v1h-2zM21 89h2v1h-2zM9 90h1v1h-1zM21 90h2v1h-2zM9 91h1v1h-1zM21 91h2v1h-2zM9 92h1v1h-1zM21 92h1v1h-1zM9 93h1v1h-1zM20 93h1v1h-1zM9 94h1v1h-1zM20 94h1v1h-1zM10 97h1v1h-1zM18 98h1v1h-1zM13 100h2v1h-2zM16 100h1v1h-1z"/>
<path fill="#f6ae8e" d="M60 75h3v1h-3zM59 76h1v1h-1zM63 76h1v1h-1zM59 77h2v1h-2zM62 77h1v1h-1zM14 83h2v1h-2zM19 83h2v1h-2zM13 84h1v1h-1zM21 84h1v1h-1zM12 85h1v1h-1zM21 85h1v1h-1zM11 86h1v1h-1zM20 86h1v1h-1zM20 87h1v1h-1zM20 88h1v1h-1zM20 89h1v1h-1zM20 90h1v1h-1zM20 91h1v1h-1zM20 92h1v1h-1zM10 96h1v1h-1zM19 96h1v1h-1zM11 98h1v1h-1zM12 99h2v1h-2zM17 99h1v1h-1zM15 100h1v1h-1z"/>
<path fill="#f5aa88" d="M60 76h3v1h-3zM61 77h1v1h-1zM16 83h3v1h-3zM14 84h1v1h-1zM20 84h1v1h-1zM20 85h1v1h-1zM11 87h1v1h-1zM10 89h1v1h-1zM10 94h1v1h-1zM19 94h1v1h-1zM10 95h1v1h-1zM19 95h1v1h-1zM11 96h1v1h-1zM11 97h2v1h-2zM18 97h1v1h-1zM12 98h2v1h-2zM17 98h1v1h-1zM14 99h3v1h-3z"/>
<path fill="#f4a582" d="M15 84h1v1h-1zM18 84h2v1h-2zM13 85h1v1h-1zM19 85h1v1h-1zM12 86h1v1h-1zM19 86h1v1h-1zM19 87h1v1h-1zM11 88h1v1h-1zM19 88h1v1h-1zM10 90h1v1h-1zM10 91h1v1h-1zM10 92h1v1h-1zM19 92h1v1h-1zM10 93h1v1h-1zM19 93h1v1h-1zM11 94h1v1h-1zM11 95h1v1h-1zM12 96h1v1h-1zM18 96h1v1h-1zM13 97h3v1h-3zM17 97h1v1h-1zM14 98h3v1h-3z"/>
<path fill="#f29f7e" d="M16 84h2v1h-2zM14 85h1v1h-1zM13 86h1v1h-1zM12 87h1v1h-1zM11 89h1v1h-1zM19 89h1v1h-1zM11 90h1v1h-1zM19 90h1v1h-1zM19 91h1v1h-1zM11 92h1v1h-1zM11 93h1v1h-1zM12 94h1v1h-1zM12 95h2v1h-2zM18 95h1v1h-1zM13 96h5v1h-5zM16 97h1v1h-1z"/>
<path fill="#ef9a79" d="M15 85h1v1h-1zM18 85h1v1h-1zM12 88h1v1h-1zM12 89h1v1h-1zM11 91h1v1h-1zM12 92h1v1h-1zM12 93h2v1h-2zM13 94h2v1h-2zM18 94h1v1h-1zM14 95h4v1h-4z"/>
<path fill="#ec9475" d="M16 85h2v1h-2zM14 86h1v1h-1zM18 86h1v1h-1zM13 87h1v1h-1zM12 90h1v1h-1zM12 91h2v1h-2zM13 92h1v1h-1zM18 92h1v1h-1zM14 93h2v1h-2zM17 93h2v1h-2zM15 94h3v1h-3z"/>
<path fill="#ea8e70" d="M15 86h1v1h-1zM17 86h1v1h-1zM14 87h1v1h-1zM18 87h1v1h-1zM13 88h1v1h-1zM13 89h1v1h-1zM13 90h1v1h-1zM14 91h1v1h-1zM18 91h1v1h-1zM14 92h4v1h-4zM16 93h1v1h-1z"/>
<path fill="#e8886c" d="M16 86h1v1h-1zM14 88h1v1h-1zM18 88h1v1h-1zM14 89h1v1h-1zM18 89h1v1h-1zM14 90h2v1h-2zM18 90h1v1h-1zM15 91h3v1h-3z"/>
<path fill="#e58268" d="M15 87h3v1h-3zM15 88h1v1h-1zM15 89h2v1h-2zM16 90h2v1h-2z"/>
<path fill="#e27d63" d="M16 88h2v1h-2zM17 89h1v1h-1z"/>
</g></g></g>
<g clip-path="url(#mapclip0)"><defs><clipPath id="mapclip0"><rect x="87.00" y="119.60" width="938.7" height="939.7"/></clipPath></defs><path transform="translate(87.00,119.60)" d="M-4.5,156.4 -0.5,155.2 37.7,143.9 63.8,147.1 71.9,155.2 83.9,156.4 112.1,159.6 128.2,153.2 123.3,141.1 139.4,123.0 184.4,133.1 192.5,147.1 200.5,152.4 218.6,154.0 244.8,150.0 260.8,152.4 280.9,157.2 285.0,163.2 305.1,168.5 329.2,168.5 361.3,161.2 379.4,152.4 401.6,156.4 413.6,158.4 417.6,159.2 403.6,183.3 403.6,191.4 421.7,189.4 431.7,187.4 441.8,187.4 457.8,197.4 467.9,208.7 445.8,207.5 425.7,213.5 401.6,227.6 389.5,228.4 377.4,235.6 361.3,237.6 345.3,233.6 337.2,241.6 343.3,255.7 321.1,267.8 309.1,273.0 280.9,275.8 256.8,279.8 232.7,289.1 224.6,284.2 212.6,284.2 176.4,275.8 160.3,273.0 112.1,272.2 98.0,267.8 83.9,249.7 51.8,234.8 15.6,231.6 10.8,223.5 15.6,209.5 7.5,197.4 -0.5,192.6 -4.5,191.0M417.6,159.2 439.7,162.0 455.8,156.4 469.5,133.1M469.5,133.1 477.5,117.0 475.5,109.0 493.6,104.1 521.8,101.7 545.9,108.2 562.0,112.2 570.0,121.0 578.1,137.1 590.1,161.2 614.2,165.2 624.3,169.3 634.3,174.1 642.4,192.6 662.5,192.6 682.6,185.3 698.7,182.1 699.5,191.4 686.6,209.5 674.5,233.6 658.5,231.6 642.4,237.6 645.6,261.7 634.3,271.8M634.3,271.8 658.5,263.7 674.5,269.8 694.6,261.7 710.7,251.7 730.8,233.6 750.9,213.5 775.1,189.4 789.1,169.3 791.1,141.1 802.4,123.0 799.2,117.0 803.2,106.9 787.1,96.9 767.0,90.9 755.0,94.9 746.9,100.1 742.9,94.9 730.8,96.9 732.8,86.8 710.7,84.8 706.7,78.8 734.9,64.7 759.0,50.7 779.1,38.6 811.2,18.5 823.3,11.7 851.5,10.5 879.6,10.5 903.7,9.2 923.8,6.4 941.9,4.4M739.7,80.8 746.1,75.6 752.1,78.8 744.9,84.0 739.7,80.8M810.4,105.7 819.3,94.9 820.1,89.7 825.3,88.9 830.5,98.9 833.4,125.0 839.4,141.1 849.4,169.3 833.4,169.3 823.3,177.3 821.3,193.4 829.3,205.4 835.4,207.5 835.4,213.5 823.3,209.5 813.3,219.5 810.4,209.5 814.5,193.4 813.3,169.3 815.3,141.1 809.2,129.1 810.4,105.7M808.4,228.8 831.3,237.6 861.5,249.7 865.5,257.7 872.8,260.5 855.5,266.6 833.4,279.8 815.3,275.0 797.2,275.0 789.1,267.8 779.1,273.8 781.1,286.7 787.1,289.1 791.1,280.6 799.2,277.8 805.2,265.8 803.2,249.7 808.4,228.8M867.5,253.7 877.6,246.5M891.7,243.6 907.7,231.6 919.8,227.6 905.7,233.6M931.9,223.5 941.9,219.5M797.2,289.9 803.2,290.7 804.0,298.7 811.2,312.0 812.0,322.0 807.2,330.1 801.2,340.1 799.2,362.2 794.4,378.3 789.1,386.4 781.1,386.4 779.1,392.4 773.1,388.4 767.0,396.4 765.0,390.4 750.9,396.4 742.9,398.4 732.8,392.4 726.8,400.4 720.8,410.5 714.8,414.5 709.9,408.5 709.9,398.4 702.7,394.4 686.6,396.4 670.5,398.4 658.5,400.4 646.4,404.5 640.4,408.5 642.4,402.5 654.4,396.4 666.5,390.4 678.6,384.4 694.6,380.3 720.8,376.3 726.8,366.3 730.8,356.2 734.9,354.2 738.1,360.2 752.9,354.2 769.0,346.2 779.1,334.1 783.1,322.0 783.1,310.0 785.1,297.9 793.2,297.9 797.2,289.9M662.5,410.5 678.6,404.5 694.6,402.5 698.7,408.5 686.6,416.5 674.5,422.6 666.5,425.8 662.5,418.5 662.5,410.5M618.3,418.5 628.3,414.5 638.4,410.5 652.4,414.5 654.4,424.6 648.4,434.6 642.4,446.7 634.3,450.7 628.3,448.7 628.3,438.6 630.3,428.6 624.3,426.6 619.1,424.6 618.3,418.5M542.6,317.1 538.0,312.0 551.9,303.5 564.2,298.1 573.4,286.6 578.0,285.0 582.7,289.7 596.5,290.4 595.7,285.0 611.9,279.7 619.6,273.5 625.0,267.3 635.0,274.3M488.0,332.8 496.4,326.6 505.7,322.0 524.2,316.6 533.4,315.8 545.7,318.1 553.4,321.2 548.0,335.9 544.2,343.5 553.4,348.9 561.1,348.9 568.8,352.0 573.4,355.1 575.0,359.7 567.3,362.0 570.3,369.7 575.0,379.7 568.0,388.2 568.8,392.8 572.7,401.3 582.7,395.9 595.0,392.8 604.2,392.0 611.9,388.2 615.8,379.0 616.5,366.6 613.5,354.3 607.3,345.1 598.8,335.9 591.9,328.9 584.2,324.3 587.3,318.9 584.2,315.8 595.0,312.8 607.3,306.6 621.2,300.4 619.6,294.3 621.2,286.6 635.0,274.3M574.2,346.6 579.6,340.5 598.8,337.4M172.4,600.1 182.4,590.0 190.5,588.0 200.5,582.8 208.6,586.0 218.6,582.0 224.6,584.0 239.9,574.7 256.8,582.0 259.6,581.6M487.9,332.6 494.8,326.6 490.5,320.6 494.8,316.3 501.6,312.0 504.2,306.1 499.0,300.1 492.2,298.8 484.5,301.8 475.1,309.5 467.4,314.2 462.3,316.3 458.8,320.6 453.7,324.9 445.2,327.4 438.3,324.9 432.3,331.7 431.5,335.1 436.6,340.3 443.4,344.5 451.1,348.8 452.0,354.0 458.8,358.7 465.7,358.7 472.5,353.1 481.9,348.4 487.9,352.2 494.8,353.1 501.6,354.0 510.2,354.8 505.9,362.5 500.8,359.9 496.5,361.2 489.6,364.6 482.8,366.8 481.1,372.3 476.8,374.5 467.4,380.4M467.4,380.4 462.7,385.1 456.5,393.3 464.7,396.4 475.0,403.6 479.1,415.9 483.2,428.2 493.5,438.5 495.5,442.6 489.4,457.0 479.1,464.1 477.1,465.2 487.3,466.2 501.7,470.3 499.6,482.6 495.5,483.7 492.5,491.9 491.4,498.0 487.3,499.0 481.2,508.3M481.2,508.4 468.6,521.5 464.1,521.5 464.1,531.5 455.2,544.9 448.6,549.3 441.9,554.9 433.0,564.9 419.6,573.8 406.3,580.5 392.9,583.1 380.7,585.4 377.4,591.6 374.0,588.3 370.7,586.0 367.4,591.6 364.0,588.3 360.7,587.1 359.6,594.9 348.5,598.3 332.9,602.7 321.8,606.7 318.4,609.4 317.8,613.8 319.6,618.3 314.0,621.6 311.8,620.5 309.5,613.8 308.4,604.9 301.8,602.7M259.5,581.6 261.7,584.9 261.7,592.7 268.4,598.3 277.3,602.0M295.1,633.8 308.4,627.6 328.4,627.2 326.2,633.8 319.6,640.5 315.1,649.4 306.2,653.9 297.3,651.6 292.9,645.0 291.7,637.2 295.1,633.8M473.0,553.8 481.9,548.2 493.0,543.8 498.6,546.0 499.7,553.8 497.5,567.1 490.8,578.2 484.1,584.9 481.9,593.8 478.6,588.3 474.1,580.5 471.9,571.6 473.0,562.7 473.0,553.8M479.7,649.4 490.8,648.3 499.7,651.6 505.3,650.5 503.0,660.5 508.6,673.9 504.2,682.8 496.4,691.7 493.0,700.6M479.7,649.4 475.2,665.0 477.5,676.1 468.6,685.0 467.5,689.5 470.8,700.6M477.5,729.5 486.4,728.4 493.0,731.7 494.1,742.8 490.8,748.4 486.4,745.1 479.7,736.2 477.5,729.5M19.5,582.8 26.7,590.0 33.9,606.7 43.5,618.7 50.6,627.1 56.6,635.5 65.0,645.1 69.8,659.4 67.4,688.2 84.2,691.8 98.5,683.4 108.1,675.0 115.3,678.6 120.1,688.2 124.9,705.0 132.1,724.1 135.7,738.5 135.7,752.9 134.5,772.0 132.1,788.8 129.7,798.4 130.9,811.5M115.3,648.7 122.5,659.4 134.5,673.8 138.1,685.8 132.1,697.8 129.7,705.0 136.9,714.5 144.1,724.1 147.6,738.5 148.8,752.9 144.1,764.8 138.1,776.8M144.1,779.2 138.1,776.8 142.9,767.2 150.0,752.9 153.6,738.5 156.0,731.3 163.2,729.4 170.4,731.3 170.4,739.7 184.8,743.3 194.4,748.1 199.1,757.6 203.9,767.2 211.1,772.0 223.1,774.4 230.3,779.2 232.7,788.8 233.9,803.2 247.0,796.0 259.0,786.4 259.0,776.8 268.6,774.4 283.0,769.6 294.9,760.0 300.9,745.7M144.1,779.2 144.1,791.2 151.2,796.0 153.6,805.5M194.4,726.5 201.5,716.9 211.1,714.5 225.5,714.1 237.5,714.5 244.6,716.9 250.6,719.3 259.0,712.1 271.0,710.9 273.4,724.1 273.4,736.1 271.0,745.7 256.6,752.9 251.8,757.6 247.0,758.8 253.0,769.6 237.5,769.6 230.3,774.4M194.4,726.5 193.2,736.1 196.7,748.1M163.2,631.9 172.8,634.3 175.2,645.1 172.8,664.2 184.8,657.0 196.7,659.4 211.1,651.1 220.7,654.7 230.3,664.2 230.3,681.0 243.5,697.8 242.3,714.5M218.3,636.7 230.3,646.3 236.3,652.3 247.0,669.0 259.0,681.0 271.0,690.6 273.4,707.3 271.0,710.9M300.9,599.6 290.2,600.8 273.4,603.2 259.0,609.1 249.4,616.3 244.6,625.9 243.5,640.3 249.4,654.7 261.4,669.0 273.4,681.0 285.4,693.0 294.9,707.3 300.9,724.1M144.1,580.4 146.4,590.0 156.0,594.8 163.2,602.0 172.8,600.8 175.2,606.7 184.8,606.7 182.4,590.0 189.6,588.8 194.4,594.8 201.5,604.4 211.1,613.9 223.1,612.7 227.9,621.1 230.3,628.3 223.1,634.3 218.3,636.7M158.4,621.1 163.2,611.5 172.8,604.4M115.3,648.7 122.5,635.5 124.9,630.7 134.5,629.5 144.1,627.1 148.8,621.6 158.4,621.1 164.4,624.7 163.2,631.9M44.6,731.3 41.5,752.9M134.6,810.4 142.7,818.6 149.7,826.7 157.9,834.9 161.4,844.2 162.5,854.7 164.9,862.8 166.0,866.3 164.9,873.3 169.5,880.3 176.5,888.4 178.3,895.4 185.8,900.1 197.5,907.1 210.3,917.0 221.9,917.0 218.4,905.9 210.3,894.3 209.7,862.8 205.6,855.8 197.5,848.8 188.2,843.0 181.2,834.9 178.8,832.5 171.9,831.4 164.9,827.9 162.5,819.7 160.2,810.4M159.0,837.2 163.7,836.0 169.5,838.4 171.9,841.3 173.0,847.7 177.7,848.8 183.5,848.2 188.2,843.0M150.9,940.8 143.9,932.7 140.4,923.4 138.1,914.0 135.8,909.4 122.9,901.2 119.5,894.3 114.8,889.6 106.6,881.4 102.0,879.1 92.7,868.6 85.7,859.3 82.8,850.6 92.7,850.6 98.5,855.8 116.0,857.0 121.8,861.6 127.6,869.8 135.8,877.9 146.2,884.9 155.6,890.8 160.2,897.7 167.2,905.3 174.2,904.7 181.2,911.7 190.5,914.0 197.5,922.2 203.3,923.4 203.3,930.4 209.1,931.5 218.4,940.8M113.0,918.7 116.5,916.4 124.7,923.9 124.7,930.4 121.8,926.9 113.0,918.7M294.9,700.4 299.0,712.7 301.1,731.2 300.0,755.8 293.9,762.0 279.5,770.2M468.4,700.4 471.5,708.6 478.7,712.7 482.8,709.6 484.8,713.7 479.7,717.9 479.7,725.0 488.9,726.7 497.1,720.9 502.3,724.0 510.5,734.3 509.5,724.0 514.6,717.9 524.9,720.9 530.0,724.0 524.9,729.1 534.1,737.4 529.0,739.4 521.8,733.3 515.6,727.1 511.5,723.0 505.3,720.9 499.2,718.9 494.1,700.4M500.2,754.8 507.4,755.8 509.5,759.9 517.7,759.9 518.7,767.1 523.8,770.2 524.9,774.3 531.0,768.2 532.0,782.5 539.2,782.5 539.2,788.7 533.1,788.7 527.9,784.6 523.8,787.7 520.7,790.7 517.7,796.9 512.5,790.7 508.4,786.6 513.6,782.5 511.5,776.4 501.2,774.3 500.2,754.8M537.2,744.5 542.3,743.5 552.6,744.5 555.6,751.7 557.7,766.1 548.5,766.1 550.5,779.4 544.4,779.4 543.3,770.2 541.3,762.0 546.4,755.8 539.2,750.7 537.2,744.5M501.2,831.8 502.3,821.5 505.3,815.4 515.6,810.2 523.8,805.1 529.0,807.2 530.0,812.3 535.1,808.2 542.3,804.1 546.4,799.0 553.6,796.9 554.6,787.7 562.8,792.8 569.0,801.0 570.0,809.2 572.1,821.5 569.0,829.7 565.9,840.0 559.8,825.6 553.6,832.8 558.7,844.1 554.6,852.3 550.5,847.2 542.3,846.2 534.1,840.0 533.1,827.7 527.9,819.5 520.7,819.5 515.6,824.6 513.6,818.5 507.4,821.5 501.2,831.8M426.3,807.2 435.5,801.0 447.9,790.7 456.1,782.5 462.2,774.3 461.2,764.0 458.1,770.2 452.0,779.4 445.8,786.6 437.6,794.8 431.4,802.0 426.3,807.2M298.0,940.6 295.9,926.2 297.0,920.1 301.1,911.9 306.2,907.8 309.3,911.9 329.8,915.0 336.0,895.4 353.4,892.4 363.7,883.1 369.8,875.9 378.1,867.7 386.3,864.7 392.4,862.6 397.6,859.5 398.6,854.4 408.8,842.1 422.2,829.7 433.5,840.0 435.5,848.2 457.1,858.5 443.8,864.7 445.8,870.8 437.6,872.9 436.6,881.1 431.4,889.3 437.6,901.6 439.6,907.8 436.6,909.8 445.8,918.0 453.0,925.2 437.6,927.3 431.4,940.6M309.3,911.9 316.5,920.1 323.6,925.2 332.9,924.2 345.2,922.1 357.5,915.0 369.8,920.1 382.2,916.0 386.3,905.7 392.4,897.5 397.6,893.4 399.6,883.1 403.7,872.9 415.0,871.8 427.3,871.8 431.4,873.9M378.1,867.7 386.3,874.9 390.4,866.7 394.5,870.8 393.4,863.6M467.4,940.6 470.4,928.3 480.7,927.3 483.8,919.1 497.1,922.1 515.6,926.2 525.9,924.2 538.2,918.0 547.4,912.9 551.5,916.0 544.4,926.2 536.1,930.4 525.9,934.5 505.3,932.4 484.8,931.4 472.5,933.4 470.4,940.6M585.4,922.1 589.5,911.9 593.6,905.7 594.7,911.9 595.7,917.0 604.9,915.0 604.9,924.2 597.7,928.3 602.9,932.4 594.7,932.4 593.6,940.6M-3.2,496.3 -0.5,496.9 7.7,500.4 22.8,501.7 25.5,504.5 37.8,503.1 50.2,491.5 58.4,490.1 72.1,479.8 77.5,482.6 85.7,483.3 92.6,479.1 98.1,481.2 96.7,485.3 100.8,486.0 100.8,494.9 113.8,496.9 118.6,493.9 125.4,497.6 128.2,502.4 135.7,509.9 136.4,524.3 133.0,533.9 128.2,536.6 122.7,544.9 117.9,555.1 120.0,559.9 119.3,565.4 125.4,562.7 138.4,562.0 136.4,565.4 141.9,577.7 148.0,579.1 143.9,590.7 155.6,594.1 159.7,603.0 170.6,601.0 174.7,602.4 181.6,609.2 183.6,611.2M-3.2,520.9 -0.5,520.9 13.2,519.5 32.4,518.8 31.7,512.0 26.2,507.9 25.5,504.5M113.8,496.9 109.0,509.3 111.8,514.7 107.6,511.3 100.8,512.0 92.6,516.1 81.6,524.3 78.2,532.5 74.1,540.7 70.7,551.7 65.2,561.3 63.2,565.4 55.6,564.0 52.9,566.8 51.5,576.3 48.1,581.8 48.1,592.8 40.6,595.5 41.3,605.1 37.8,603.7 35.1,611.2M-3.2,544.9 -0.5,544.9 13.2,544.9 31.0,546.2 37.8,549.0 26.9,559.9 20.0,564.0 18.0,570.9 21.4,577.7 28.2,577.7 29.6,570.9 33.7,568.1 37.8,581.8 40.6,595.5M-3.2,599.6 -0.5,597.6 10.5,588.7 21.4,583.2 26.9,590.0 31.0,601.0 33.7,611.2" fill="none" stroke="#000" stroke-width="1.3" stroke-linejoin="round"/></g>
<line x1="399.90" y1="119.6" x2="399.90" y2="1059.3" stroke="#000" stroke-width="1.2"/>
<line x1="712.80" y1="119.6" x2="712.80" y2="1059.3" stroke="#000" stroke-width="1.2"/>
<line x1="87.00" y1="432.80" x2="1025.70" y2="432.80" stroke="#000" stroke-width="1.2"/>
<line x1="87.00" y1="746.00" x2="1025.70" y2="746.00" stroke="#000" stroke-width="1.2"/>
<rect x="399.90" y="108.5" width="312.90" height="12" fill="#000"/>
<rect x="399.90" y="1058.5" width="312.90" height="12" fill="#000"/>
<rect x="76.50" y="432.80" width="11" height="313.20" fill="#000"/>
<rect x="1024.80" y="432.80" width="11.5" height="313.20" fill="#000"/>
<rect x="77.10" y="109.5" width="958.5" height="959.8" fill="none" stroke="#000" stroke-width="2.4"/>
<rect x="87.00" y="119.6" width="938.6" height="939.7" fill="none" stroke="#000" stroke-width="2.4"/>
<g transform="translate(399.70,96.70)"><text x="0" y="0" text-anchor="middle" style="font-family:'Liberation Sans',Arial,Helvetica,sans-serif;font-size:44px">110<tspan dy="-27" style="font-size:19px">o</tspan></text></g>
<g transform="translate(399.70,1121.50)"><text x="0" y="0" text-anchor="middle" style="font-family:'Liberation Sans',Arial,Helvetica,sans-serif;font-size:44px">110<tspan dy="-27" style="font-size:19px">o</tspan></text></g>
<g transform="translate(712.60,96.70)"><text x="0" y="0" text-anchor="middle" style="font-family:'Liberation Sans',Arial,Helvetica,sans-serif;font-size:44px">130<tspan dy="-27" style="font-size:19px">o</tspan></text></g>
<g transform="translate(712.60,1121.50)"><text x="0" y="0" text-anchor="middle" style="font-family:'Liberation Sans',Arial,Helvetica,sans-serif;font-size:44px">130<tspan dy="-27" style="font-size:19px">o</tspan></text></g>
<g transform="translate(64.00,432.80) rotate(-90)"><text x="0" y="0" text-anchor="middle" style="font-family:'Liberation Sans',Arial,Helvetica,sans-serif;font-size:44px">40<tspan dy="-27" style="font-size:19px">o</tspan></text></g>
<g transform="translate(1049.00,432.80) rotate(90)"><text x="0" y="0" text-anchor="middle" style="font-family:'Liberation Sans',Arial,Helvetica,sans-serif;font-size:44px">40<tspan dy="-27" style="font-size:19px">o</tspan></text></g>
<g transform="translate(64.00,746.00) rotate(-90)"><text x="0" y="0" text-anchor="middle" style="font-family:'Liberation Sans',Arial,Helvetica,sans-serif;font-size:44px">20<tspan dy="-27" style="font-size:19px">o</tspan></text></g>
<g transform="translate(1049.00,746.00) rotate(90)"><text x="0" y="0" text-anchor="middle" style="font-family:'Liberation Sans',Arial,Helvetica,sans-serif;font-size:44px">20<tspan dy="-27" style="font-size:19px">o</tspan></text></g>
<circle cx="500.03" cy="434.37" r="7.8" fill="#000"/>
<text x="508.53" y="434.37" style="font-family:'Liberation Sans',Arial,Helvetica,sans-serif;font-size:29px">Beijing</text>
<circle cx="307.13" cy="578.91" r="7.8" fill="#000"/>
<text x="315.63" y="578.91" style="font-family:'Liberation Sans',Arial,Helvetica,sans-serif;font-size:29px">Chengdu</text>
<circle cx="467.17" cy="580.16" r="7.8" fill="#000"/>
<text x="475.67" y="580.16" style="font-family:'Liberation Sans',Arial,Helvetica,sans-serif;font-size:29px">Wuhan</text>
<circle cx="579.35" cy="570.14" r="7.8" fill="#000"/>
<text x="587.85" y="570.14" style="font-family:'Liberation Sans',Arial,Helvetica,sans-serif;font-size:29px">Shanghai</text>
<circle cx="450.90" cy="696.98" r="7.8" fill="#000"/>
<text x="459.40" y="696.98" style="font-family:'Liberation Sans',Arial,Helvetica,sans-serif;font-size:29px">Guangzhou</text>
<g clip-path="url(#mapclip1096)"><defs><clipPath id="mapclip1096"><rect x="1183.50" y="119.60" width="938.7" height="939.7"/></clipPath></defs><path transform="translate(1183.50,119.60)" d="M-4.5,156.4 -0.5,155.2 37.7,143.9 63.8,147.1 71.9,155.2 83.9,156.4 112.1,159.6 128.2,153.2 123.3,141.1 139.4,123.0 184.4,133.1 192.5,147.1 200.5,152.4 218.6,154.0 244.8,150.0 260.8,152.4 280.9,157.2 285.0,163.2 305.1,168.5 329.2,168.5 361.3,161.2 379.4,152.4 401.6,156.4 413.6,158.4 417.6,159.2 403.6,183.3 403.6,191.4 421.7,189.4 431.7,187.4 441.8,187.4 457.8,197.4 467.9,208.7 445.8,207.5 425.7,213.5 401.6,227.6 389.5,228.4 377.4,235.6 361.3,237.6 345.3,233.6 337.2,241.6 343.3,255.7 321.1,267.8 309.1,273.0 280.9,275.8 256.8,279.8 232.7,289.1 224.6,284.2 212.6,284.2 176.4,275.8 160.3,273.0 112.1,272.2 98.0,267.8 83.9,249.7 51.8,234.8 15.6,231.6 10.8,223.5 15.6,209.5 7.5,197.4 -0.5,192.6 -4.5,191.0M417.6,159.2 439.7,162.0 455.8,156.4 469.5,133.1M469.5,133.1 477.5,117.0 475.5,109.0 493.6,104.1 521.8,101.7 545.9,108.2 562.0,112.2 570.0,121.0 578.1,137.1 590.1,161.2 614.2,165.2 624.3,169.3 634.3,174.1 642.4,192.6 662.5,192.6 682.6,185.3 698.7,182.1 699.5,191.4 686.6,209.5 674.5,233.6 658.5,231.6 642.4,237.6 645.6,261.7 634.3,271.8M634.3,271.8 658.5,263.7 674.5,269.8 694.6,261.7 710.7,251.7 730.8,233.6 750.9,213.5 775.1,189.4 789.1,169.3 791.1,141.1 802.4,123.0 799.2,117.0 803.2,106.9 787.1,96.9 767.0,90.9 755.0,94.9 746.9,100.1 742.9,94.9 730.8,96.9 732.8,86.8 710.7,84.8 706.7,78.8 734.9,64.7 759.0,50.7 779.1,38.6 811.2,18.5 823.3,11.7 851.5,10.5 879.6,10.5 903.7,9.2 923.8,6.4 941.9,4.4M739.7,80.8 746.1,75.6 752.1,78.8 744.9,84.0 739.7,80.8M810.4,105.7 819.3,94.9 820.1,89.7 825.3,88.9 830.5,98.9 833.4,125.0 839.4,141.1 849.4,169.3 833.4,169.3 823.3,177.3 821.3,193.4 829.3,205.4 835.4,207.5 835.4,213.5 823.3,209.5 813.3,219.5 810.4,209.5 814.5,193.4 813.3,169.3 815.3,141.1 809.2,129.1 810.4,105.7M808.4,228.8 831.3,237.6 861.5,249.7 865.5,257.7 872.8,260.5 855.5,266.6 833.4,279.8 815.3,275.0 797.2,275.0 789.1,267.8 779.1,273.8 781.1,286.7 787.1,289.1 791.1,280.6 799.2,277.8 805.2,265.8 803.2,249.7 808.4,228.8M867.5,253.7 877.6,246.5M891.7,243.6 907.7,231.6 919.8,227.6 905.7,233.6M931.9,223.5 941.9,219.5M797.2,289.9 803.2,290.7 804.0,298.7 811.2,312.0 812.0,322.0 807.2,330.1 801.2,340.1 799.2,362.2 794.4,378.3 789.1,386.4 781.1,386.4 779.1,392.4 773.1,388.4 767.0,396.4 765.0,390.4 750.9,396.4 742.9,398.4 732.8,392.4 726.8,400.4 720.8,410.5 714.8,414.5 709.9,408.5 709.9,398.4 702.7,394.4 686.6,396.4 670.5,398.4 658.5,400.4 646.4,404.5 640.4,408.5 642.4,402.5 654.4,396.4 666.5,390.4 678.6,384.4 694.6,380.3 720.8,376.3 726.8,366.3 730.8,356.2 734.9,354.2 738.1,360.2 752.9,354.2 769.0,346.2 779.1,334.1 783.1,322.0 783.1,310.0 785.1,297.9 793.2,297.9 797.2,289.9M662.5,410.5 678.6,404.5 694.6,402.5 698.7,408.5 686.6,416.5 674.5,422.6 666.5,425.8 662.5,418.5 662.5,410.5M618.3,418.5 628.3,414.5 638.4,410.5 652.4,414.5 654.4,424.6 648.4,434.6 642.4,446.7 634.3,450.7 628.3,448.7 628.3,438.6 630.3,428.6 624.3,426.6 619.1,424.6 618.3,418.5M542.6,317.1 538.0,312.0 551.9,303.5 564.2,298.1 573.4,286.6 578.0,285.0 582.7,289.7 596.5,290.4 595.7,285.0 611.9,279.7 619.6,273.5 625.0,267.3 635.0,274.3M488.0,332.8 496.4,326.6 505.7,322.0 524.2,316.6 533.4,315.8 545.7,318.1 553.4,321.2 548.0,335.9 544.2,343.5 553.4,348.9 561.1,348.9 568.8,352.0 573.4,355.1 575.0,359.7 567.3,362.0 570.3,369.7 575.0,379.7 568.0,388.2 568.8,392.8 572.7,401.3 582.7,395.9 595.0,392.8 604.2,392.0 611.9,388.2 615.8,379.0 616.5,366.6 613.5,354.3 607.3,345.1 598.8,335.9 591.9,328.9 584.2,324.3 587.3,318.9 584.2,315.8 595.0,312.8 607.3,306.6 621.2,300.4 619.6,294.3 621.2,286.6 635.0,274.3M574.2,346.6 579.6,340.5 598.8,337.4M172.4,600.1 182.4,590.0 190.5,588.0 200.5,582.8 208.6,586.0 218.6,582.0 224.6,584.0 239.9,574.7 256.8,582.0 259.6,581.6M487.9,332.6 494.8,326.6 490.5,320.6 494.8,316.3 501.6,312.0 504.2,306.1 499.0,300.1 492.2,298.8 484.5,301.8 475.1,309.5 467.4,314.2 462.3,316.3 458.8,320.6 453.7,324.9 445.2,327.4 438.3,324.9 432.3,331.7 431.5,335.1 436.6,340.3 443.4,344.5 451.1,348.8 452.0,354.0 458.8,358.7 465.7,358.7 472.5,353.1 481.9,348.4 487.9,352.2 494.8,353.1 501.6,354.0 510.2,354.8 505.9,362.5 500.8,359.9 496.5,361.2 489.6,364.6 482.8,366.8 481.1,372.3 476.8,374.5 467.4,380.4M467.4,380.4 462.7,385.1 456.5,393.3 464.7,396.4 475.0,403.6 479.1,415.9 483.2,428.2 493.5,438.5 495.5,442.6 489.4,457.0 479.1,464.1 477.1,465.2 487.3,466.2 501.7,470.3 499.6,482.6 495.5,483.7 492.5,491.9 491.4,498.0 487.3,499.0 481.2,508.3M481.2,508.4 468.6,521.5 464.1,521.5 464.1,531.5 455.2,544.9 448.6,549.3 441.9,554.9 433.0,564.9 419.6,573.8 406.3,580.5 392.9,583.1 380.7,585.4 377.4,591.6 374.0,588.3 370.7,586.0 367.4,591.6 364.0,588.3 360.7,587.1 359.6,594.9 348.5,598.3 332.9,602.7 321.8,606.7 318.4,609.4 317.8,613.8 319.6,618.3 314.0,621.6 311.8,620.5 309.5,613.8 308.4,604.9 301.8,602.7M259.5,581.6 261.7,584.9 261.7,592.7 268.4,598.3 277.3,602.0M295.1,633.8 308.4,627.6 328.4,627.2 326.2,633.8 319.6,640.5 315.1,649.4 306.2,653.9 297.3,651.6 292.9,645.0 291.7,637.2 295.1,633.8M473.0,553.8 481.9,548.2 493.0,543.8 498.6,546.0 499.7,553.8 497.5,567.1 490.8,578.2 484.1,584.9 481.9,593.8 478.6,588.3 474.1,580.5 471.9,571.6 473.0,562.7 473.0,553.8M479.7,649.4 490.8,648.3 499.7,651.6 505.3,650.5 503.0,660.5 508.6,673.9 504.2,682.8 496.4,691.7 493.0,700.6M479.7,649.4 475.2,665.0 477.5,676.1 468.6,685.0 467.5,689.5 470.8,700.6M477.5,729.5 486.4,728.4 493.0,731.7 494.1,742.8 490.8,748.4 486.4,745.1 479.7,736.2 477.5,729.5M19.5,582.8 26.7,590.0 33.9,606.7 43.5,618.7 50.6,627.1 56.6,635.5 65.0,645.1 69.8,659.4 67.4,688.2 84.2,691.8 98.5,683.4 108.1,675.0 115.3,678.6 120.1,688.2 124.9,705.0 132.1,724.1 135.7,738.5 135.7,752.9 134.5,772.0 132.1,788.8 129.7,798.4 130.9,811.5M115.3,648.7 122.5,659.4 134.5,673.8 138.1,685.8 132.1,697.8 129.7,705.0 136.9,714.5 144.1,724.1 147.6,738.5 148.8,752.9 144.1,764.8 138.1,776.8M144.1,779.2 138.1,776.8 142.9,767.2 150.0,752.9 153.6,738.5 156.0,731.3 163.2,729.4 170.4,731.3 170.4,739.7 184.8,743.3 194.4,748.1 199.1,757.6 203.9,767.2 211.1,772.0 223.1,774.4 230.3,779.2 232.7,788.8 233.9,803.2 247.0,796.0 259.0,786.4 259.0,776.8 268.6,774.4 283.0,769.6 294.9,760.0 300.9,745.7M144.1,779.2 144.1,791.2 151.2,796.0 153.6,805.5M194.4,726.5 201.5,716.9 211.1,714.5 225.5,714.1 237.5,714.5 244.6,716.9 250.6,719.3 259.0,712.1 271.0,710.9 273.4,724.1 273.4,736.1 271.0,745.7 256.6,752.9 251.8,757.6 247.0,758.8 253.0,769.6 237.5,769.6 230.3,774.4M194.4,726.5 193.2,736.1 196.7,748.1M163.2,631.9 172.8,634.3 175.2,645.1 172.8,664.2 184.8,657.0 196.7,659.4 211.1,651.1 220.7,654.7 230.3,664.2 230.3,681.0 243.5,697.8 242.3,714.5M218.3,636.7 230.3,646.3 236.3,652.3 247.0,669.0 259.0,681.0 271.0,690.6 273.4,707.3 271.0,710.9M300.9,599.6 290.2,600.8 273.4,603.2 259.0,609.1 249.4,616.3 244.6,625.9 243.5,640.3 249.4,654.7 261.4,669.0 273.4,681.0 285.4,693.0 294.9,707.3 300.9,724.1M144.1,580.4 146.4,590.0 156.0,594.8 163.2,602.0 172.8,600.8 175.2,606.7 184.8,606.7 182.4,590.0 189.6,588.8 194.4,594.8 201.5,604.4 211.1,613.9 223.1,612.7 227.9,621.1 230.3,628.3 223.1,634.3 218.3,636.7M158.4,621.1 163.2,611.5 172.8,604.4M115.3,648.7 122.5,635.5 124.9,630.7 134.5,629.5 144.1,627.1 148.8,621.6 158.4,621.1 164.4,624.7 163.2,631.9M44.6,731.3 41.5,752.9M134.6,810.4 142.7,818.6 149.7,826.7 157.9,834.9 161.4,844.2 162.5,854.7 164.9,862.8 166.0,866.3 164.9,873.3 169.5,880.3 176.5,888.4 178.3,895.4 185.8,900.1 197.5,907.1 210.3,917.0 221.9,917.0 218.4,905.9 210.3,894.3 209.7,862.8 205.6,855.8 197.5,848.8 188.2,843.0 181.2,834.9 178.8,832.5 171.9,831.4 164.9,827.9 162.5,819.7 160.2,810.4M159.0,837.2 163.7,836.0 169.5,838.4 171.9,841.3 173.0,847.7 177.7,848.8 183.5,848.2 188.2,843.0M150.9,940.8 143.9,932.7 140.4,923.4 138.1,914.0 135.8,909.4 122.9,901.2 119.5,894.3 114.8,889.6 106.6,881.4 102.0,879.1 92.7,868.6 85.7,859.3 82.8,850.6 92.7,850.6 98.5,855.8 116.0,857.0 121.8,861.6 127.6,869.8 135.8,877.9 146.2,884.9 155.6,890.8 160.2,897.7 167.2,905.3 174.2,904.7 181.2,911.7 190.5,914.0 197.5,922.2 203.3,923.4 203.3,930.4 209.1,931.5 218.4,940.8M113.0,918.7 116.5,916.4 124.7,923.9 124.7,930.4 121.8,926.9 113.0,918.7M294.9,700.4 299.0,712.7 301.1,731.2 300.0,755.8 293.9,762.0 279.5,770.2M468.4,700.4 471.5,708.6 478.7,712.7 482.8,709.6 484.8,713.7 479.7,717.9 479.7,725.0 488.9,726.7 497.1,720.9 502.3,724.0 510.5,734.3 509.5,724.0 514.6,717.9 524.9,720.9 530.0,724.0 524.9,729.1 534.1,737.4 529.0,739.4 521.8,733.3 515.6,727.1 511.5,723.0 505.3,720.9 499.2,718.9 494.1,700.4M500.2,754.8 507.4,755.8 509.5,759.9 517.7,759.9 518.7,767.1 523.8,770.2 524.9,774.3 531.0,768.2 532.0,782.5 539.2,782.5 539.2,788.7 533.1,788.7 527.9,784.6 523.8,787.7 520.7,790.7 517.7,796.9 512.5,790.7 508.4,786.6 513.6,782.5 511.5,776.4 501.2,774.3 500.2,754.8M537.2,744.5 542.3,743.5 552.6,744.5 555.6,751.7 557.7,766.1 548.5,766.1 550.5,779.4 544.4,779.4 543.3,770.2 541.3,762.0 546.4,755.8 539.2,750.7 537.2,744.5M501.2,831.8 502.3,821.5 505.3,815.4 515.6,810.2 523.8,805.1 529.0,807.2 530.0,812.3 535.1,808.2 542.3,804.1 546.4,799.0 553.6,796.9 554.6,787.7 562.8,792.8 569.0,801.0 570.0,809.2 572.1,821.5 569.0,829.7 565.9,840.0 559.8,825.6 553.6,832.8 558.7,844.1 554.6,852.3 550.5,847.2 542.3,846.2 534.1,840.0 533.1,827.7 527.9,819.5 520.7,819.5 515.6,824.6 513.6,818.5 507.4,821.5 501.2,831.8M426.3,807.2 435.5,801.0 447.9,790.7 456.1,782.5 462.2,774.3 461.2,764.0 458.1,770.2 452.0,779.4 445.8,786.6 437.6,794.8 431.4,802.0 426.3,807.2M298.0,940.6 295.9,926.2 297.0,920.1 301.1,911.9 306.2,907.8 309.3,911.9 329.8,915.0 336.0,895.4 353.4,892.4 363.7,883.1 369.8,875.9 378.1,867.7 386.3,864.7 392.4,862.6 397.6,859.5 398.6,854.4 408.8,842.1 422.2,829.7 433.5,840.0 435.5,848.2 457.1,858.5 443.8,864.7 445.8,870.8 437.6,872.9 436.6,881.1 431.4,889.3 437.6,901.6 439.6,907.8 436.6,909.8 445.8,918.0 453.0,925.2 437.6,927.3 431.4,940.6M309.3,911.9 316.5,920.1 323.6,925.2 332.9,924.2 345.2,922.1 357.5,915.0 369.8,920.1 382.2,916.0 386.3,905.7 392.4,897.5 397.6,893.4 399.6,883.1 403.7,872.9 415.0,871.8 427.3,871.8 431.4,873.9M378.1,867.7 386.3,874.9 390.4,866.7 394.5,870.8 393.4,863.6M467.4,940.6 470.4,928.3 480.7,927.3 483.8,919.1 497.1,922.1 515.6,926.2 525.9,924.2 538.2,918.0 547.4,912.9 551.5,916.0 544.4,926.2 536.1,930.4 525.9,934.5 505.3,932.4 484.8,931.4 472.5,933.4 470.4,940.6M585.4,922.1 589.5,911.9 593.6,905.7 594.7,911.9 595.7,917.0 604.9,915.0 604.9,924.2 597.7,928.3 602.9,932.4 594.7,932.4 593.6,940.6M-3.2,496.3 -0.5,496.9 7.7,500.4 22.8,501.7 25.5,504.5 37.8,503.1 50.2,491.5 58.4,490.1 72.1,479.8 77.5,482.6 85.7,483.3 92.6,479.1 98.1,481.2 96.7,485.3 100.8,486.0 100.8,494.9 113.8,496.9 118.6,493.9 125.4,497.6 128.2,502.4 135.7,509.9 136.4,524.3 133.0,533.9 128.2,536.6 122.7,544.9 117.9,555.1 120.0,559.9 119.3,565.4 125.4,562.7 138.4,562.0 136.4,565.4 141.9,577.7 148.0,579.1 143.9,590.7 155.6,594.1 159.7,603.0 170.6,601.0 174.7,602.4 181.6,609.2 183.6,611.2M-3.2,520.9 -0.5,520.9 13.2,519.5 32.4,518.8 31.7,512.0 26.2,507.9 25.5,504.5M113.8,496.9 109.0,509.3 111.8,514.7 107.6,511.3 100.8,512.0 92.6,516.1 81.6,524.3 78.2,532.5 74.1,540.7 70.7,551.7 65.2,561.3 63.2,565.4 55.6,564.0 52.9,566.8 51.5,576.3 48.1,581.8 48.1,592.8 40.6,595.5 41.3,605.1 37.8,603.7 35.1,611.2M-3.2,544.9 -0.5,544.9 13.2,544.9 31.0,546.2 37.8,549.0 26.9,559.9 20.0,564.0 18.0,570.9 21.4,577.7 28.2,577.7 29.6,570.9 33.7,568.1 37.8,581.8 40.6,595.5M-3.2,599.6 -0.5,597.6 10.5,588.7 21.4,583.2 26.9,590.0 31.0,601.0 33.7,611.2" fill="none" stroke="#000" stroke-width="1.3" stroke-linejoin="round"/></g>
<line x1="1496.40" y1="119.6" x2="1496.40" y2="1059.3" stroke="#000" stroke-width="1.2"/>
<line x1="1809.30" y1="119.6" x2="1809.30" y2="1059.3" stroke="#000" stroke-width="1.2"/>
<line x1="1183.50" y1="432.80" x2="2122.20" y2="432.80" stroke="#000" stroke-width="1.2"/>
<line x1="1183.50" y1="746.00" x2="2122.20" y2="746.00" stroke="#000" stroke-width="1.2"/>
<rect x="1496.40" y="108.5" width="312.90" height="12" fill="#000"/>
<rect x="1496.40" y="1058.5" width="312.90" height="12" fill="#000"/>
<rect x="1173.00" y="432.80" width="11" height="313.20" fill="#000"/>
<rect x="2121.30" y="432.80" width="11.5" height="313.20" fill="#000"/>
<rect x="1173.60" y="109.5" width="958.5" height="959.8" fill="none" stroke="#000" stroke-width="2.4"/>
<rect x="1183.50" y="119.6" width="938.6" height="939.7" fill="none" stroke="#000" stroke-width="2.4"/>
<g transform="translate(1496.20,96.70)"><text x="0" y="0" text-anchor="middle" style="font-family:'Liberation Sans',Arial,Helvetica,sans-serif;font-size:44px">110<tspan dy="-27" style="font-size:19px">o</tspan></text></g>
<g transform="translate(1496.20,1121.50)"><text x="0" y="0" text-anchor="middle" style="font-family:'Liberation Sans',Arial,Helvetica,sans-serif;font-size:44px">110<tspan dy="-27" style="font-size:19px">o</tspan></text></g>
<g transform="translate(1809.10,96.70)"><text x="0" y="0" text-anchor="middle" style="font-family:'Liberation Sans',Arial,Helvetica,sans-serif;font-size:44px">130<tspan dy="-27" style="font-size:19px">o</tspan></text></g>
<g transform="translate(1809.10,1121.50)"><text x="0" y="0" text-anchor="middle" style="font-family:'Liberation Sans',Arial,Helvetica,sans-serif;font-size:44px">130<tspan dy="-27" style="font-size:19px">o</tspan></text></g>
<g transform="translate(1160.50,432.80) rotate(-90)"><text x="0" y="0" text-anchor="middle" style="font-family:'Liberation Sans',Arial,Helvetica,sans-serif;font-size:44px">40<tspan dy="-27" style="font-size:19px">o</tspan></text></g>
<g transform="translate(2145.50,432.80) rotate(90)"><text x="0" y="0" text-anchor="middle" style="font-family:'Liberation Sans',Arial,Helvetica,sans-serif;font-size:44px">40<tspan dy="-27" style="font-size:19px">o</tspan></text></g>
<g transform="translate(1160.50,746.00) rotate(-90)"><text x="0" y="0" text-anchor="middle" style="font-family:'Liberation Sans',Arial,Helvetica,sans-serif;font-size:44px">20<tspan dy="-27" style="font-size:19px">o</tspan></text></g>
<g transform="translate(2145.50,746.00) rotate(90)"><text x="0" y="0" text-anchor="middle" style="font-family:'Liberation Sans',Arial,Helvetica,sans-serif;font-size:44px">20<tspan dy="-27" style="font-size:19px">o</tspan></text></g>
<circle cx="1596.53" cy="434.37" r="7.8" fill="#000"/>
<text x="1605.03" y="434.37" style="font-family:'Liberation Sans',Arial,Helvetica,sans-serif;font-size:29px">Beijing</text>
<circle cx="1403.63" cy="578.91" r="7.8" fill="#000"/>
<text x="1412.13" y="578.91" style="font-family:'Liberation Sans',Arial,Helvetica,sans-serif;font-size:29px">Chengdu</text>
<circle cx="1563.67" cy="580.16" r="7.8" fill="#000"/>
<text x="1572.17" y="580.16" style="font-family:'Liberation Sans',Arial,Helvetica,sans-serif;font-size:29px">Wuhan</text>
<circle cx="1675.85" cy="570.14" r="7.8" fill="#000"/>
<text x="1684.35" y="570.14" style="font-family:'Liberation Sans',Arial,Helvetica,sans-serif;font-size:29px">Shanghai</text>
<circle cx="1547.40" cy="696.98" r="7.8" fill="#000"/>
<text x="1555.90" y="696.98" style="font-family:'Liberation Sans',Arial,Helvetica,sans-serif;font-size:29px">Guangzhou</text>
<g clip-path="url(#mapclip2193)"><defs><clipPath id="mapclip2193"><rect x="2280.50" y="119.60" width="938.7" height="939.7"/></clipPath></defs><path transform="translate(2280.50,119.60)" d="M-4.5,156.4 -0.5,155.2 37.7,143.9 63.8,147.1 71.9,155.2 83.9,156.4 112.1,159.6 128.2,153.2 123.3,141.1 139.4,123.0 184.4,133.1 192.5,147.1 200.5,152.4 218.6,154.0 244.8,150.0 260.8,152.4 280.9,157.2 285.0,163.2 305.1,168.5 329.2,168.5 361.3,161.2 379.4,152.4 401.6,156.4 413.6,158.4 417.6,159.2 403.6,183.3 403.6,191.4 421.7,189.4 431.7,187.4 441.8,187.4 457.8,197.4 467.9,208.7 445.8,207.5 425.7,213.5 401.6,227.6 389.5,228.4 377.4,235.6 361.3,237.6 345.3,233.6 337.2,241.6 343.3,255.7 321.1,267.8 309.1,273.0 280.9,275.8 256.8,279.8 232.7,289.1 224.6,284.2 212.6,284.2 176.4,275.8 160.3,273.0 112.1,272.2 98.0,267.8 83.9,249.7 51.8,234.8 15.6,231.6 10.8,223.5 15.6,209.5 7.5,197.4 -0.5,192.6 -4.5,191.0M417.6,159.2 439.7,162.0 455.8,156.4 469.5,133.1M469.5,133.1 477.5,117.0 475.5,109.0 493.6,104.1 521.8,101.7 545.9,108.2 562.0,112.2 570.0,121.0 578.1,137.1 590.1,161.2 614.2,165.2 624.3,169.3 634.3,174.1 642.4,192.6 662.5,192.6 682.6,185.3 698.7,182.1 699.5,191.4 686.6,209.5 674.5,233.6 658.5,231.6 642.4,237.6 645.6,261.7 634.3,271.8M634.3,271.8 658.5,263.7 674.5,269.8 694.6,261.7 710.7,251.7 730.8,233.6 750.9,213.5 775.1,189.4 789.1,169.3 791.1,141.1 802.4,123.0 799.2,117.0 803.2,106.9 787.1,96.9 767.0,90.9 755.0,94.9 746.9,100.1 742.9,94.9 730.8,96.9 732.8,86.8 710.7,84.8 706.7,78.8 734.9,64.7 759.0,50.7 779.1,38.6 811.2,18.5 823.3,11.7 851.5,10.5 879.6,10.5 903.7,9.2 923.8,6.4 941.9,4.4M739.7,80.8 746.1,75.6 752.1,78.8 744.9,84.0 739.7,80.8M810.4,105.7 819.3,94.9 820.1,89.7 825.3,88.9 830.5,98.9 833.4,125.0 839.4,141.1 849.4,169.3 833.4,169.3 823.3,177.3 821.3,193.4 829.3,205.4 835.4,207.5 835.4,213.5 823.3,209.5 813.3,219.5 810.4,209.5 814.5,193.4 813.3,169.3 815.3,141.1 809.2,129.1 810.4,105.7M808.4,228.8 831.3,237.6 861.5,249.7 865.5,257.7 872.8,260.5 855.5,266.6 833.4,279.8 815.3,275.0 797.2,275.0 789.1,267.8 779.1,273.8 781.1,286.7 787.1,289.1 791.1,280.6 799.2,277.8 805.2,265.8 803.2,249.7 808.4,228.8M867.5,253.7 877.6,246.5M891.7,243.6 907.7,231.6 919.8,227.6 905.7,233.6M931.9,223.5 941.9,219.5M797.2,289.9 803.2,290.7 804.0,298.7 811.2,312.0 812.0,322.0 807.2,330.1 801.2,340.1 799.2,362.2 794.4,378.3 789.1,386.4 781.1,386.4 779.1,392.4 773.1,388.4 767.0,396.4 765.0,390.4 750.9,396.4 742.9,398.4 732.8,392.4 726.8,400.4 720.8,410.5 714.8,414.5 709.9,408.5 709.9,398.4 702.7,394.4 686.6,396.4 670.5,398.4 658.5,400.4 646.4,404.5 640.4,408.5 642.4,402.5 654.4,396.4 666.5,390.4 678.6,384.4 694.6,380.3 720.8,376.3 726.8,366.3 730.8,356.2 734.9,354.2 738.1,360.2 752.9,354.2 769.0,346.2 779.1,334.1 783.1,322.0 783.1,310.0 785.1,297.9 793.2,297.9 797.2,289.9M662.5,410.5 678.6,404.5 694.6,402.5 698.7,408.5 686.6,416.5 674.5,422.6 666.5,425.8 662.5,418.5 662.5,410.5M618.3,418.5 628.3,414.5 638.4,410.5 652.4,414.5 654.4,424.6 648.4,434.6 642.4,446.7 634.3,450.7 628.3,448.7 628.3,438.6 630.3,428.6 624.3,426.6 619.1,424.6 618.3,418.5M542.6,317.1 538.0,312.0 551.9,303.5 564.2,298.1 573.4,286.6 578.0,285.0 582.7,289.7 596.5,290.4 595.7,285.0 611.9,279.7 619.6,273.5 625.0,267.3 635.0,274.3M488.0,332.8 496.4,326.6 505.7,322.0 524.2,316.6 533.4,315.8 545.7,318.1 553.4,321.2 548.0,335.9 544.2,343.5 553.4,348.9 561.1,348.9 568.8,352.0 573.4,355.1 575.0,359.7 567.3,362.0 570.3,369.7 575.0,379.7 568.0,388.2 568.8,392.8 572.7,401.3 582.7,395.9 595.0,392.8 604.2,392.0 611.9,388.2 615.8,379.0 616.5,366.6 613.5,354.3 607.3,345.1 598.8,335.9 591.9,328.9 584.2,324.3 587.3,318.9 584.2,315.8 595.0,312.8 607.3,306.6 621.2,300.4 619.6,294.3 621.2,286.6 635.0,274.3M574.2,346.6 579.6,340.5 598.8,337.4M172.4,600.1 182.4,590.0 190.5,588.0 200.5,582.8 208.6,586.0 218.6,582.0 224.6,584.0 239.9,574.7 256.8,582.0 259.6,581.6M487.9,332.6 494.8,326.6 490.5,320.6 494.8,316.3 501.6,312.0 504.2,306.1 499.0,300.1 492.2,298.8 484.5,301.8 475.1,309.5 467.4,314.2 462.3,316.3 458.8,320.6 453.7,324.9 445.2,327.4 438.3,324.9 432.3,331.7 431.5,335.1 436.6,340.3 443.4,344.5 451.1,348.8 452.0,354.0 458.8,358.7 465.7,358.7 472.5,353.1 481.9,348.4 487.9,352.2 494.8,353.1 501.6,354.0 510.2,354.8 505.9,362.5 500.8,359.9 496.5,361.2 489.6,364.6 482.8,366.8 481.1,372.3 476.8,374.5 467.4,380.4M467.4,380.4 462.7,385.1 456.5,393.3 464.7,396.4 475.0,403.6 479.1,415.9 483.2,428.2 493.5,438.5 495.5,442.6 489.4,457.0 479.1,464.1 477.1,465.2 487.3,466.2 501.7,470.3 499.6,482.6 495.5,483.7 492.5,491.9 491.4,498.0 487.3,499.0 481.2,508.3M481.2,508.4 468.6,521.5 464.1,521.5 464.1,531.5 455.2,544.9 448.6,549.3 441.9,554.9 433.0,564.9 419.6,573.8 406.3,580.5 392.9,583.1 380.7,585.4 377.4,591.6 374.0,588.3 370.7,586.0 367.4,591.6 364.0,588.3 360.7,587.1 359.6,594.9 348.5,598.3 332.9,602.7 321.8,606.7 318.4,609.4 317.8,613.8 319.6,618.3 314.0,621.6 311.8,620.5 309.5,613.8 308.4,604.9 301.8,602.7M259.5,581.6 261.7,584.9 261.7,592.7 268.4,598.3 277.3,602.0M295.1,633.8 308.4,627.6 328.4,627.2 326.2,633.8 319.6,640.5 315.1,649.4 306.2,653.9 297.3,651.6 292.9,645.0 291.7,637.2 295.1,633.8M473.0,553.8 481.9,548.2 493.0,543.8 498.6,546.0 499.7,553.8 497.5,567.1 490.8,578.2 484.1,584.9 481.9,593.8 478.6,588.3 474.1,580.5 471.9,571.6 473.0,562.7 473.0,553.8M479.7,649.4 490.8,648.3 499.7,651.6 505.3,650.5 503.0,660.5 508.6,673.9 504.2,682.8 496.4,691.7 493.0,700.6M479.7,649.4 475.2,665.0 477.5,676.1 468.6,685.0 467.5,689.5 470.8,700.6M477.5,729.5 486.4,728.4 493.0,731.7 494.1,742.8 490.8,748.4 486.4,745.1 479.7,736.2 477.5,729.5M19.5,582.8 26.7,590.0 33.9,606.7 43.5,618.7 50.6,627.1 56.6,635.5 65.0,645.1 69.8,659.4 67.4,688.2 84.2,691.8 98.5,683.4 108.1,675.0 115.3,678.6 120.1,688.2 124.9,705.0 132.1,724.1 135.7,738.5 135.7,752.9 134.5,772.0 132.1,788.8 129.7,798.4 130.9,811.5M115.3,648.7 122.5,659.4 134.5,673.8 138.1,685.8 132.1,697.8 129.7,705.0 136.9,714.5 144.1,724.1 147.6,738.5 148.8,752.9 144.1,764.8 138.1,776.8M144.1,779.2 138.1,776.8 142.9,767.2 150.0,752.9 153.6,738.5 156.0,731.3 163.2,729.4 170.4,731.3 170.4,739.7 184.8,743.3 194.4,748.1 199.1,757.6 203.9,767.2 211.1,772.0 223.1,774.4 230.3,779.2 232.7,788.8 233.9,803.2 247.0,796.0 259.0,786.4 259.0,776.8 268.6,774.4 283.0,769.6 294.9,760.0 300.9,745.7M144.1,779.2 144.1,791.2 151.2,796.0 153.6,805.5M194.4,726.5 201.5,716.9 211.1,714.5 225.5,714.1 237.5,714.5 244.6,716.9 250.6,719.3 259.0,712.1 271.0,710.9 273.4,724.1 273.4,736.1 271.0,745.7 256.6,752.9 251.8,757.6 247.0,758.8 253.0,769.6 237.5,769.6 230.3,774.4M194.4,726.5 193.2,736.1 196.7,748.1M163.2,631.9 172.8,634.3 175.2,645.1 172.8,664.2 184.8,657.0 196.7,659.4 211.1,651.1 220.7,654.7 230.3,664.2 230.3,681.0 243.5,697.8 242.3,714.5M218.3,636.7 230.3,646.3 236.3,652.3 247.0,669.0 259.0,681.0 271.0,690.6 273.4,707.3 271.0,710.9M300.9,599.6 290.2,600.8 273.4,603.2 259.0,609.1 249.4,616.3 244.6,625.9 243.5,640.3 249.4,654.7 261.4,669.0 273.4,681.0 285.4,693.0 294.9,707.3 300.9,724.1M144.1,580.4 146.4,590.0 156.0,594.8 163.2,602.0 172.8,600.8 175.2,606.7 184.8,606.7 182.4,590.0 189.6,588.8 194.4,594.8 201.5,604.4 211.1,613.9 223.1,612.7 227.9,621.1 230.3,628.3 223.1,634.3 218.3,636.7M158.4,621.1 163.2,611.5 172.8,604.4M115.3,648.7 122.5,635.5 124.9,630.7 134.5,629.5 144.1,627.1 148.8,621.6 158.4,621.1 164.4,624.7 163.2,631.9M44.6,731.3 41.5,752.9M134.6,810.4 142.7,818.6 149.7,826.7 157.9,834.9 161.4,844.2 162.5,854.7 164.9,862.8 166.0,866.3 164.9,873.3 169.5,880.3 176.5,888.4 178.3,895.4 185.8,900.1 197.5,907.1 210.3,917.0 221.9,917.0 218.4,905.9 210.3,894.3 209.7,862.8 205.6,855.8 197.5,848.8 188.2,843.0 181.2,834.9 178.8,832.5 171.9,831.4 164.9,827.9 162.5,819.7 160.2,810.4M159.0,837.2 163.7,836.0 169.5,838.4 171.9,841.3 173.0,847.7 177.7,848.8 183.5,848.2 188.2,843.0M150.9,940.8 143.9,932.7 140.4,923.4 138.1,914.0 135.8,909.4 122.9,901.2 119.5,894.3 114.8,889.6 106.6,881.4 102.0,879.1 92.7,868.6 85.7,859.3 82.8,850.6 92.7,850.6 98.5,855.8 116.0,857.0 121.8,861.6 127.6,869.8 135.8,877.9 146.2,884.9 155.6,890.8 160.2,897.7 167.2,905.3 174.2,904.7 181.2,911.7 190.5,914.0 197.5,922.2 203.3,923.4 203.3,930.4 209.1,931.5 218.4,940.8M113.0,918.7 116.5,916.4 124.7,923.9 124.7,930.4 121.8,926.9 113.0,918.7M294.9,700.4 299.0,712.7 301.1,731.2 300.0,755.8 293.9,762.0 279.5,770.2M468.4,700.4 471.5,708.6 478.7,712.7 482.8,709.6 484.8,713.7 479.7,717.9 479.7,725.0 488.9,726.7 497.1,720.9 502.3,724.0 510.5,734.3 509.5,724.0 514.6,717.9 524.9,720.9 530.0,724.0 524.9,729.1 534.1,737.4 529.0,739.4 521.8,733.3 515.6,727.1 511.5,723.0 505.3,720.9 499.2,718.9 494.1,700.4M500.2,754.8 507.4,755.8 509.5,759.9 517.7,759.9 518.7,767.1 523.8,770.2 524.9,774.3 531.0,768.2 532.0,782.5 539.2,782.5 539.2,788.7 533.1,788.7 527.9,784.6 523.8,787.7 520.7,790.7 517.7,796.9 512.5,790.7 508.4,786.6 513.6,782.5 511.5,776.4 501.2,774.3 500.2,754.8M537.2,744.5 542.3,743.5 552.6,744.5 555.6,751.7 557.7,766.1 548.5,766.1 550.5,779.4 544.4,779.4 543.3,770.2 541.3,762.0 546.4,755.8 539.2,750.7 537.2,744.5M501.2,831.8 502.3,821.5 505.3,815.4 515.6,810.2 523.8,805.1 529.0,807.2 530.0,812.3 535.1,808.2 542.3,804.1 546.4,799.0 553.6,796.9 554.6,787.7 562.8,792.8 569.0,801.0 570.0,809.2 572.1,821.5 569.0,829.7 565.9,840.0 559.8,825.6 553.6,832.8 558.7,844.1 554.6,852.3 550.5,847.2 542.3,846.2 534.1,840.0 533.1,827.7 527.9,819.5 520.7,819.5 515.6,824.6 513.6,818.5 507.4,821.5 501.2,831.8M426.3,807.2 435.5,801.0 447.9,790.7 456.1,782.5 462.2,774.3 461.2,764.0 458.1,770.2 452.0,779.4 445.8,786.6 437.6,794.8 431.4,802.0 426.3,807.2M298.0,940.6 295.9,926.2 297.0,920.1 301.1,911.9 306.2,907.8 309.3,911.9 329.8,915.0 336.0,895.4 353.4,892.4 363.7,883.1 369.8,875.9 378.1,867.7 386.3,864.7 392.4,862.6 397.6,859.5 398.6,854.4 408.8,842.1 422.2,829.7 433.5,840.0 435.5,848.2 457.1,858.5 443.8,864.7 445.8,870.8 437.6,872.9 436.6,881.1 431.4,889.3 437.6,901.6 439.6,907.8 436.6,909.8 445.8,918.0 453.0,925.2 437.6,927.3 431.4,940.6M309.3,911.9 316.5,920.1 323.6,925.2 332.9,924.2 345.2,922.1 357.5,915.0 369.8,920.1 382.2,916.0 386.3,905.7 392.4,897.5 397.6,893.4 399.6,883.1 403.7,872.9 415.0,871.8 427.3,871.8 431.4,873.9M378.1,867.7 386.3,874.9 390.4,866.7 394.5,870.8 393.4,863.6M467.4,940.6 470.4,928.3 480.7,927.3 483.8,919.1 497.1,922.1 515.6,926.2 525.9,924.2 538.2,918.0 547.4,912.9 551.5,916.0 544.4,926.2 536.1,930.4 525.9,934.5 505.3,932.4 484.8,931.4 472.5,933.4 470.4,940.6M585.4,922.1 589.5,911.9 593.6,905.7 594.7,911.9 595.7,917.0 604.9,915.0 604.9,924.2 597.7,928.3 602.9,932.4 594.7,932.4 593.6,940.6M-3.2,496.3 -0.5,496.9 7.7,500.4 22.8,501.7 25.5,504.5 37.8,503.1 50.2,491.5 58.4,490.1 72.1,479.8 77.5,482.6 85.7,483.3 92.6,479.1 98.1,481.2 96.7,485.3 100.8,486.0 100.8,494.9 113.8,496.9 118.6,493.9 125.4,497.6 128.2,502.4 135.7,509.9 136.4,524.3 133.0,533.9 128.2,536.6 122.7,544.9 117.9,555.1 120.0,559.9 119.3,565.4 125.4,562.7 138.4,562.0 136.4,565.4 141.9,577.7 148.0,579.1 143.9,590.7 155.6,594.1 159.7,603.0 170.6,601.0 174.7,602.4 181.6,609.2 183.6,611.2M-3.2,520.9 -0.5,520.9 13.2,519.5 32.4,518.8 31.7,512.0 26.2,507.9 25.5,504.5M113.8,496.9 109.0,509.3 111.8,514.7 107.6,511.3 100.8,512.0 92.6,516.1 81.6,524.3 78.2,532.5 74.1,540.7 70.7,551.7 65.2,561.3 63.2,565.4 55.6,564.0 52.9,566.8 51.5,576.3 48.1,581.8 48.1,592.8 40.6,595.5 41.3,605.1 37.8,603.7 35.1,611.2M-3.2,544.9 -0.5,544.9 13.2,544.9 31.0,546.2 37.8,549.0 26.9,559.9 20.0,564.0 18.0,570.9 21.4,577.7 28.2,577.7 29.6,570.9 33.7,568.1 37.8,581.8 40.6,595.5M-3.2,599.6 -0.5,597.6 10.5,588.7 21.4,583.2 26.9,590.0 31.0,601.0 33.7,611.2" fill="none" stroke="#000" stroke-width="1.3" stroke-linejoin="round"/></g>
<line x1="2593.40" y1="119.6" x2="2593.40" y2="1059.3" stroke="#000" stroke-width="1.2"/>
<line x1="2906.30" y1="119.6" x2="2906.30" y2="1059.3" stroke="#000" stroke-width="1.2"/>
<line x1="2280.50" y1="432.80" x2="3219.20" y2="432.80" stroke="#000" stroke-width="1.2"/>
<line x1="2280.50" y1="746.00" x2="3219.20" y2="746.00" stroke="#000" stroke-width="1.2"/>
<rect x="2593.40" y="108.5" width="312.90" height="12" fill="#000"/>
<rect x="2593.40" y="1058.5" width="312.90" height="12" fill="#000"/>
<rect x="2270.00" y="432.80" width="11" height="313.20" fill="#000"/>
<rect x="3218.30" y="432.80" width="11.5" height="313.20" fill="#000"/>
<rect x="2270.60" y="109.5" width="958.5" height="959.8" fill="none" stroke="#000" stroke-width="2.4"/>
<rect x="2280.50" y="119.6" width="938.6" height="939.7" fill="none" stroke="#000" stroke-width="2.4"/>
<g transform="translate(2593.20,96.70)"><text x="0" y="0" text-anchor="middle" style="font-family:'Liberation Sans',Arial,Helvetica,sans-serif;font-size:44px">110<tspan dy="-27" style="font-size:19px">o</tspan></text></g>
<g transform="translate(2593.20,1121.50)"><text x="0" y="0" text-anchor="middle" style="font-family:'Liberation Sans',Arial,Helvetica,sans-serif;font-size:44px">110<tspan dy="-27" style="font-size:19px">o</tspan></text></g>
<g transform="translate(2906.10,96.70)"><text x="0" y="0" text-anchor="middle" style="font-family:'Liberation Sans',Arial,Helvetica,sans-serif;font-size:44px">130<tspan dy="-27" style="font-size:19px">o</tspan></text></g>
<g transform="translate(2906.10,1121.50)"><text x="0" y="0" text-anchor="middle" style="font-family:'Liberation Sans',Arial,Helvetica,sans-serif;font-size:44px">130<tspan dy="-27" style="font-size:19px">o</tspan></text></g>
<g transform="translate(2257.50,432.80) rotate(-90)"><text x="0" y="0" text-anchor="middle" style="font-family:'Liberation Sans',Arial,Helvetica,sans-serif;font-size:44px">40<tspan dy="-27" style="font-size:19px">o</tspan></text></g>
<g transform="translate(3242.50,432.80) rotate(90)"><text x="0" y="0" text-anchor="middle" style="font-family:'Liberation Sans',Arial,Helvetica,sans-serif;font-size:44px">40<tspan dy="-27" style="font-size:19px">o</tspan></text></g>
<g transform="translate(2257.50,746.00) rotate(-90)"><text x="0" y="0" text-anchor="middle" style="font-family:'Liberation Sans',Arial,Helvetica,sans-serif;font-size:44px">20<tspan dy="-27" style="font-size:19px">o</tspan></text></g>
<g transform="translate(3242.50,746.00) rotate(90)"><text x="0" y="0" text-anchor="middle" style="font-family:'Liberation Sans',Arial,Helvetica,sans-serif;font-size:44px">20<tspan dy="-27" style="font-size:19px">o</tspan></text></g>
<circle cx="2693.53" cy="434.37" r="7.8" fill="#000"/>
<text x="2702.03" y="434.37" style="font-family:'Liberation Sans',Arial,Helvetica,sans-serif;font-size:29px">Beijing</text>
<circle cx="2500.63" cy="578.91" r="7.8" fill="#000"/>
<text x="2509.13" y="578.91" style="font-family:'Liberation Sans',Arial,Helvetica,sans-serif;font-size:29px">Chengdu</text>
<circle cx="2660.67" cy="580.16" r="7.8" fill="#000"/>
<text x="2669.17" y="580.16" style="font-family:'Liberation Sans',Arial,Helvetica,sans-serif;font-size:29px">Wuhan</text>
<circle cx="2772.85" cy="570.14" r="7.8" fill="#000"/>
<text x="2781.35" y="570.14" style="font-family:'Liberation Sans',Arial,Helvetica,sans-serif;font-size:29px">Shanghai</text>
<circle cx="2644.40" cy="696.98" r="7.8" fill="#000"/>
<text x="2652.90" y="696.98" style="font-family:'Liberation Sans',Arial,Helvetica,sans-serif;font-size:29px">Guangzhou</text>
<text x="995.5" y="1027.9" text-anchor="end" style="font-family:'Liberation Sans',Arial,Helvetica,sans-serif;font-size:44.3px">13 FEBRUARY - 10 MARCH 2019</text>
<text x="2092.0" y="1027.9" text-anchor="end" style="font-family:'Liberation Sans',Arial,Helvetica,sans-serif;font-size:44.3px">1 FEBRUARY - 10 MARCH 2020</text>
<defs>
<linearGradient id="cb1" x1="0" x2="1" y1="0" y2="0"><stop offset="0.0000" stop-color="#100010"/><stop offset="0.0625" stop-color="#3a0048"/><stop offset="0.1250" stop-color="#5c0088"/><stop offset="0.1550" stop-color="#5a00a8"/><stop offset="0.1875" stop-color="#4000d0"/><stop offset="0.2150" stop-color="#2800f0"/><stop offset="0.2325" stop-color="#1200ff"/><stop offset="0.2500" stop-color="#0000ff"/><stop offset="0.2875" stop-color="#0040ff"/><stop offset="0.3175" stop-color="#0060ff"/><stop offset="0.3375" stop-color="#0088ff"/><stop offset="0.3675" stop-color="#00a8ff"/><stop offset="0.3987" stop-color="#00d0ff"/><stop offset="0.4300" stop-color="#00ffff"/><stop offset="0.4600" stop-color="#00ffe0"/><stop offset="0.4925" stop-color="#00ffb0"/><stop offset="0.5275" stop-color="#00ff88"/><stop offset="0.5600" stop-color="#00ff60"/><stop offset="0.5900" stop-color="#00ff38"/><stop offset="0.6200" stop-color="#00ff00"/><stop offset="0.6400" stop-color="#38ff00"/><stop offset="0.6700" stop-color="#60ff00"/><stop offset="0.7000" stop-color="#80ff00"/><stop offset="0.7375" stop-color="#a0ff00"/><stop offset="0.7800" stop-color="#d8ff00"/><stop offset="0.8100" stop-color="#ffff00"/><stop offset="0.8400" stop-color="#ffd800"/><stop offset="0.8725" stop-color="#ffa800"/><stop offset="0.9025" stop-color="#ff8800"/><stop offset="0.9325" stop-color="#ff5800"/><stop offset="0.9625" stop-color="#ff3000"/><stop offset="1.0000" stop-color="#ff0000"/></linearGradient>
<linearGradient id="cb2" x1="0" x2="1" y1="0" y2="0"><stop offset="0.0000" stop-color="#053061"/><stop offset="0.1000" stop-color="#2166ac"/><stop offset="0.2000" stop-color="#4393c3"/><stop offset="0.3000" stop-color="#92c5de"/><stop offset="0.4000" stop-color="#d1e5f0"/><stop offset="0.5000" stop-color="#f7f7f7"/><stop offset="0.6000" stop-color="#fddbc7"/><stop offset="0.7000" stop-color="#f4a582"/><stop offset="0.8000" stop-color="#d6604d"/><stop offset="0.9000" stop-color="#b2182b"/><stop offset="1.0000" stop-color="#67001f"/></linearGradient>
</defs>
<rect x="857.9" y="1272.6999999999998" width="494.8" height="24.500000000000046" fill="url(#cb1)" stroke="#000" stroke-width="3.2"/>
<line x1="918.55" y1="1274.1" x2="918.55" y2="1275.8999999999999" stroke="#000" stroke-width="2"/>
<line x1="918.55" y1="1295.8" x2="918.55" y2="1294.0" stroke="#000" stroke-width="2"/>
<line x1="980.80" y1="1274.1" x2="980.80" y2="1278.1" stroke="#000" stroke-width="2"/>
<line x1="980.80" y1="1295.8" x2="980.80" y2="1291.8" stroke="#000" stroke-width="2"/>
<line x1="1043.05" y1="1274.1" x2="1043.05" y2="1275.8999999999999" stroke="#000" stroke-width="2"/>
<line x1="1043.05" y1="1295.8" x2="1043.05" y2="1294.0" stroke="#000" stroke-width="2"/>
<line x1="1105.30" y1="1274.1" x2="1105.30" y2="1278.1" stroke="#000" stroke-width="2"/>
<line x1="1105.30" y1="1295.8" x2="1105.30" y2="1291.8" stroke="#000" stroke-width="2"/>
<line x1="1167.55" y1="1274.1" x2="1167.55" y2="1275.8999999999999" stroke="#000" stroke-width="2"/>
<line x1="1167.55" y1="1295.8" x2="1167.55" y2="1294.0" stroke="#000" stroke-width="2"/>
<line x1="1229.80" y1="1274.1" x2="1229.80" y2="1278.1" stroke="#000" stroke-width="2"/>
<line x1="1229.80" y1="1295.8" x2="1229.80" y2="1291.8" stroke="#000" stroke-width="2"/>
<line x1="1292.05" y1="1274.1" x2="1292.05" y2="1275.8999999999999" stroke="#000" stroke-width="2"/>
<line x1="1292.05" y1="1295.8" x2="1292.05" y2="1294.0" stroke="#000" stroke-width="2"/>
<rect x="2502.2" y="1272.6999999999998" width="494.8999999999999" height="24.500000000000046" fill="url(#cb2)" stroke="#000" stroke-width="3.2"/>
<line x1="2542.11" y1="1274.1" x2="2542.11" y2="1275.8999999999999" stroke="#000" stroke-width="2"/>
<line x1="2542.11" y1="1295.8" x2="2542.11" y2="1294.0" stroke="#000" stroke-width="2"/>
<line x1="2583.62" y1="1274.1" x2="2583.62" y2="1278.1" stroke="#000" stroke-width="2"/>
<line x1="2583.62" y1="1295.8" x2="2583.62" y2="1291.8" stroke="#000" stroke-width="2"/>
<line x1="2625.12" y1="1274.1" x2="2625.12" y2="1275.8999999999999" stroke="#000" stroke-width="2"/>
<line x1="2625.12" y1="1295.8" x2="2625.12" y2="1294.0" stroke="#000" stroke-width="2"/>
<line x1="2666.63" y1="1274.1" x2="2666.63" y2="1278.1" stroke="#000" stroke-width="2"/>
<line x1="2666.63" y1="1295.8" x2="2666.63" y2="1291.8" stroke="#000" stroke-width="2"/>
<line x1="2708.14" y1="1274.1" x2="2708.14" y2="1275.8999999999999" stroke="#000" stroke-width="2"/>
<line x1="2708.14" y1="1295.8" x2="2708.14" y2="1294.0" stroke="#000" stroke-width="2"/>
<line x1="2749.65" y1="1274.1" x2="2749.65" y2="1278.1" stroke="#000" stroke-width="2"/>
<line x1="2749.65" y1="1295.8" x2="2749.65" y2="1291.8" stroke="#000" stroke-width="2"/>
<line x1="2791.16" y1="1274.1" x2="2791.16" y2="1275.8999999999999" stroke="#000" stroke-width="2"/>
<line x1="2791.16" y1="1295.8" x2="2791.16" y2="1294.0" stroke="#000" stroke-width="2"/>
<line x1="2832.67" y1="1274.1" x2="2832.67" y2="1278.1" stroke="#000" stroke-width="2"/>
<line x1="2832.67" y1="1295.8" x2="2832.67" y2="1291.8" stroke="#000" stroke-width="2"/>
<line x1="2874.17" y1="1274.1" x2="2874.17" y2="1275.8999999999999" stroke="#000" stroke-width="2"/>
<line x1="2874.17" y1="1295.8" x2="2874.17" y2="1294.0" stroke="#000" stroke-width="2"/>
<line x1="2915.68" y1="1274.1" x2="2915.68" y2="1278.1" stroke="#000" stroke-width="2"/>
<line x1="2915.68" y1="1295.8" x2="2915.68" y2="1291.8" stroke="#000" stroke-width="2"/>
<line x1="2957.19" y1="1274.1" x2="2957.19" y2="1275.8999999999999" stroke="#000" stroke-width="2"/>
<line x1="2957.19" y1="1295.8" x2="2957.19" y2="1294.0" stroke="#000" stroke-width="2"/>
<text x="637" y="1191" style="font-family:'Liberation Sans',Arial,Helvetica,sans-serif;font-size:45px" textLength="936" lengthAdjust="spacingAndGlyphs">TROPOMI total CO column (x10<tspan dy="-27" style="font-size:22px">17</tspan><tspan dy="27"> molec. cm</tspan><tspan dy="-27" style="font-size:22px">-2</tspan><tspan dy="27">)</tspan></text>
<text x="2443" y="1191" style="font-family:'Liberation Sans',Arial,Helvetica,sans-serif;font-size:45px" textLength="611" lengthAdjust="spacingAndGlyphs">CO change (x10<tspan dy="-27" style="font-size:22px">17</tspan><tspan dy="27"> molec. cm</tspan><tspan dy="-27" style="font-size:22px">-2</tspan><tspan dy="27">)</tspan></text>
<text y="1244.7" style="font-family:'Liberation Sans',Arial,Helvetica,sans-serif;font-size:45px"><tspan x="846">0</tspan><tspan x="957">10</tspan><tspan x="1081">20</tspan><tspan x="1205">30</tspan><tspan x="1302" style="font-size:36px">≥</tspan><tspan x="1328">40</tspan></text>
<text y="1244.7" style="font-family:'Liberation Sans',Arial,Helvetica,sans-serif;font-size:45px"><tspan x="2441" style="font-size:36px">≤</tspan><tspan x="2469">-15</tspan><tspan x="2551">-10</tspan><tspan x="2647">-5</tspan><tspan x="2737">0</tspan><tspan x="2820">5</tspan><tspan x="2890">10</tspan><tspan x="2946" style="font-size:36px">≥</tspan><tspan x="2973">15</tspan></text>
</svg></body></html>
